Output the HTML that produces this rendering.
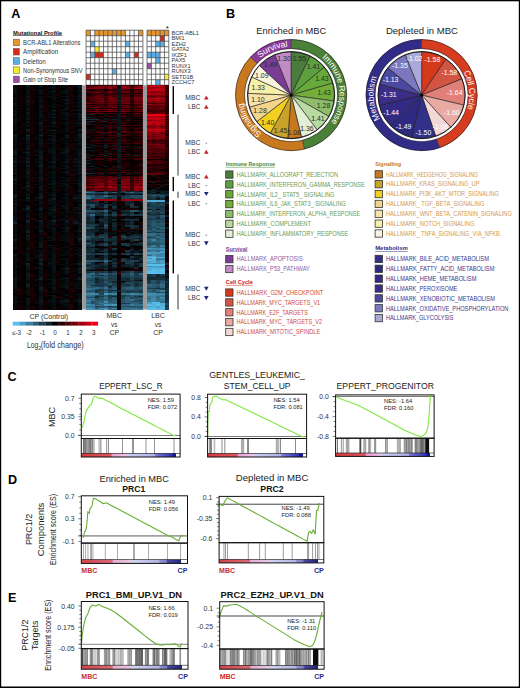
<!DOCTYPE html>
<html><head><meta charset="utf-8"><title>Figure</title>
<style>html,body{margin:0;padding:0;background:#fff;width:520px;height:688px;overflow:hidden}svg{display:block}text{font-family:"Liberation Sans",sans-serif}</style>
</head><body><svg width="520" height="688" viewBox="0 0 520 688">
<rect width="520" height="688" fill="#fff"/>
<text x="11.3" y="18.1" font-size="12.6" fill="#000" font-weight="bold">A</text>
<text x="13.1" y="34.5" font-size="5.8" fill="#111" font-weight="bold" textLength="49" lengthAdjust="spacingAndGlyphs">Mutational Profile</text>
<rect x="13.1" y="35.4" width="49" height="0.55" fill="#111"/>
<rect x="13.3" y="39.2" width="6.1" height="6.6" fill="#e8952a" stroke="#555" stroke-width="0.5"/>
<text x="23.1" y="45.1" font-size="6.8" fill="#333" textLength="57.2" lengthAdjust="spacingAndGlyphs">BCR-ABL1 Alterations</text>
<rect x="13.3" y="48.43" width="6.1" height="6.6" fill="#d42a1e" stroke="#555" stroke-width="0.5"/>
<text x="23.1" y="54.33" font-size="6.8" fill="#333" textLength="35" lengthAdjust="spacingAndGlyphs">Amplification</text>
<rect x="13.3" y="57.66" width="6.1" height="6.6" fill="#5aaee8" stroke="#555" stroke-width="0.5"/>
<text x="23.1" y="63.56" font-size="6.8" fill="#333" textLength="22.6" lengthAdjust="spacingAndGlyphs">Deletion</text>
<rect x="13.3" y="66.89" width="6.1" height="6.6" fill="#f5eb2a" stroke="#555" stroke-width="0.5"/>
<text x="23.1" y="72.79" font-size="6.8" fill="#333" textLength="59.5" lengthAdjust="spacingAndGlyphs">Non-Synonymous SNV</text>
<rect x="13.3" y="76.12" width="6.1" height="6.6" fill="#9b4fa8" stroke="#555" stroke-width="0.5"/>
<text x="23.1" y="82.02" font-size="6.8" fill="#333" textLength="45" lengthAdjust="spacingAndGlyphs">Gain of Stop Site</text>
<rect x="86.05" y="30.2" width="56.85" height="55" fill="#fff"/>
<rect x="86.05" y="30.2" width="4.37" height="5.5" fill="#e8952a"/>
<rect x="94.8" y="30.2" width="4.37" height="5.5" fill="#e8952a"/>
<rect x="99.17" y="30.2" width="4.37" height="5.5" fill="#e8952a"/>
<rect x="103.54" y="30.2" width="4.37" height="5.5" fill="#e8952a"/>
<rect x="107.91" y="30.2" width="4.37" height="5.5" fill="#e8952a"/>
<rect x="112.29" y="30.2" width="4.37" height="5.5" fill="#e8952a"/>
<rect x="116.66" y="30.2" width="4.37" height="5.5" fill="#e8952a"/>
<rect x="121.03" y="30.2" width="4.37" height="5.5" fill="#e8952a"/>
<rect x="138.53" y="30.2" width="4.37" height="5.5" fill="#e8952a"/>
<rect x="90.42" y="41.2" width="4.37" height="5.5" fill="#5aaee8"/>
<rect x="125.41" y="41.2" width="4.37" height="5.5" fill="#5aaee8"/>
<rect x="94.8" y="46.7" width="4.37" height="5.5" fill="#f5eb2a"/>
<rect x="90.42" y="52.2" width="4.37" height="5.5" fill="#5aaee8"/>
<rect x="94.8" y="52.2" width="4.37" height="5.5" fill="#d42a1e"/>
<rect x="99.17" y="52.2" width="4.37" height="5.5" fill="#d42a1e"/>
<rect x="125.41" y="52.2" width="4.37" height="5.5" fill="#5aaee8"/>
<rect x="134.15" y="52.2" width="4.37" height="5.5" fill="#d42a1e"/>
<rect x="112.29" y="68.7" width="4.37" height="5.5" fill="#5aaee8"/>
<rect x="86.05" y="74.2" width="4.37" height="5.5" fill="#d42a1e"/>
<path d="M86.05 30.2h56.85M86.05 35.7h56.85M86.05 41.2h56.85M86.05 46.7h56.85M86.05 52.2h56.85M86.05 57.7h56.85M86.05 63.2h56.85M86.05 68.7h56.85M86.05 74.2h56.85M86.05 79.7h56.85M86.05 85.2h56.85M86.05 30.2v55M90.42 30.2v55M94.8 30.2v55M99.17 30.2v55M103.54 30.2v55M107.91 30.2v55M112.29 30.2v55M116.66 30.2v55M121.03 30.2v55M125.41 30.2v55M129.78 30.2v55M134.15 30.2v55M138.53 30.2v55M142.9 30.2v55" stroke="#4a4a4a" stroke-width="0.75" fill="none"/>
<rect x="147" y="30.2" width="21.8" height="55" fill="#fff"/>
<rect x="147" y="30.2" width="4.36" height="5.5" fill="#e8952a"/>
<rect x="151.36" y="30.2" width="4.36" height="5.5" fill="#e8952a"/>
<rect x="155.72" y="30.2" width="4.36" height="5.5" fill="#e8952a"/>
<rect x="160.08" y="30.2" width="4.36" height="5.5" fill="#e8952a"/>
<rect x="164.44" y="30.2" width="4.36" height="5.5" fill="#e8952a"/>
<rect x="160.08" y="35.7" width="4.36" height="5.5" fill="#d42a1e"/>
<rect x="155.72" y="41.2" width="4.36" height="5.5" fill="#5aaee8"/>
<rect x="160.08" y="41.2" width="4.36" height="5.5" fill="#5aaee8"/>
<rect x="147" y="52.2" width="4.36" height="5.5" fill="#5aaee8"/>
<rect x="151.36" y="52.2" width="4.36" height="5.5" fill="#5aaee8"/>
<rect x="155.72" y="52.2" width="4.36" height="5.5" fill="#5aaee8"/>
<rect x="155.72" y="57.7" width="4.36" height="5.5" fill="#5aaee8"/>
<rect x="147" y="63.2" width="4.36" height="5.5" fill="#9b4fa8"/>
<rect x="164.44" y="74.2" width="4.36" height="5.5" fill="#f5eb2a"/>
<rect x="155.72" y="79.7" width="4.36" height="5.5" fill="#5aaee8"/>
<path d="M147 30.2h21.8M147 35.7h21.8M147 41.2h21.8M147 46.7h21.8M147 52.2h21.8M147 57.7h21.8M147 63.2h21.8M147 68.7h21.8M147 74.2h21.8M147 79.7h21.8M147 85.2h21.8M147 30.2v55M151.36 30.2v55M155.72 30.2v55M160.08 30.2v55M164.44 30.2v55M168.8 30.2v55" stroke="#4a4a4a" stroke-width="0.75" fill="none"/>
<text x="171.6" y="34.8" font-size="5.6" fill="#333">BCR-ABL1</text>
<text x="171.6" y="40.3" font-size="5.6" fill="#333">BMI1</text>
<text x="171.6" y="45.8" font-size="5.6" fill="#333">EZH2</text>
<text x="171.6" y="51.3" font-size="5.6" fill="#333">GATA2</text>
<text x="171.6" y="56.8" font-size="5.6" fill="#333">IKZF1</text>
<text x="171.6" y="62.3" font-size="5.6" fill="#333">PAX5</text>
<text x="171.6" y="67.8" font-size="5.6" fill="#333">RUNX1</text>
<text x="171.6" y="73.3" font-size="5.6" fill="#333">RUNX3</text>
<text x="171.6" y="78.8" font-size="5.6" fill="#333">SETD1B</text>
<text x="171.6" y="84.3" font-size="5.6" fill="#333">ZCCHC7</text>
<text x="167.2" y="31" font-size="8" fill="#111" text-anchor="middle">*</text>
<g shape-rendering="crispEdges">
<path fill="#0c181e" d="M12.7 85.2h4.49v1.15h-4.49zM25.71 85.2h4.49v1.15h-4.49zM38.72 85.2h4.49v1.15h-4.49zM64.75 85.2h4.49v1.15h-4.49zM77.76 86.2h4.49v1.15h-4.49zM77.76 87.2h4.49v1.15h-4.49zM51.74 91.21h4.49v1.15h-4.49zM64.75 91.21h4.49v1.15h-4.49zM77.76 91.21h4.49v1.15h-4.49zM116.66 94.21h4.52v1.15h-4.52zM25.71 96.21h4.49v1.15h-4.49zM64.75 96.21h4.49v1.15h-4.49zM77.76 96.21h4.49v1.15h-4.49zM64.75 99.22h4.49v1.15h-4.49zM116.66 99.22h4.52v1.15h-4.52zM25.71 100.22h4.49v1.15h-4.49zM116.66 101.22h4.52v1.15h-4.52zM25.71 102.22h4.49v1.15h-4.49zM116.66 102.22h4.52v1.15h-4.52zM12.7 103.22h4.49v1.15h-4.49zM90.42 108.23h4.52v1.15h-4.52zM116.66 111.23h4.52v1.15h-4.52zM25.71 112.24h4.49v1.15h-4.49zM25.71 114.24h4.49v1.15h-4.49zM38.72 114.24h4.49v1.15h-4.49zM51.74 114.24h4.49v1.15h-4.49zM86.05 114.24h4.52v1.15h-4.52zM38.72 116.24h4.49v1.15h-4.49zM116.66 116.24h4.52v1.15h-4.52zM51.74 117.24h4.49v1.15h-4.49zM116.66 118.24h4.52v1.15h-4.52zM12.7 119.25h4.49v1.15h-4.49zM25.71 119.25h4.49v1.15h-4.49zM77.76 119.25h4.49v1.15h-4.49zM103.54 119.25h4.52v1.15h-4.52zM12.7 120.25h4.49v1.15h-4.49zM116.66 120.25h4.52v1.15h-4.52zM86.05 121.25h4.52v1.15h-4.52zM99.17 121.25h4.52v1.15h-4.52zM112.29 121.25h4.52v1.15h-4.52zM125.41 121.25h4.52v1.15h-4.52zM25.71 122.25h4.49v1.15h-4.49zM38.72 122.25h4.49v1.15h-4.49zM51.74 122.25h4.49v1.15h-4.49zM116.66 122.25h4.52v1.15h-4.52zM51.74 123.25h4.49v1.15h-4.49zM77.76 123.25h4.49v1.15h-4.49zM25.71 126.25h4.49v1.15h-4.49zM103.54 126.25h4.52v1.15h-4.52zM25.71 129.26h4.49v1.15h-4.49zM38.72 129.26h4.49v1.15h-4.49zM90.42 129.26h4.52v1.15h-4.52zM116.66 129.26h4.52v1.15h-4.52zM77.76 130.26h4.49v1.15h-4.49zM86.05 130.26h4.52v1.15h-4.52zM77.76 134.27h4.49v1.15h-4.49zM47.4 135.27h4.49v1.15h-4.49zM64.75 135.27h4.49v1.15h-4.49zM116.66 135.27h4.52v1.15h-4.52zM12.7 136.27h4.49v1.15h-4.49zM25.71 136.27h4.49v1.15h-4.49zM64.75 137.27h4.49v1.15h-4.49zM51.74 140.27h4.49v1.15h-4.49zM116.66 142.28h4.52v1.15h-4.52zM25.71 143.28h4.49v1.15h-4.49zM38.72 143.28h4.49v1.15h-4.49zM116.66 143.28h4.52v1.15h-4.52zM116.66 144.28h4.52v1.15h-4.52zM38.72 145.28h4.49v1.15h-4.49zM25.71 146.28h4.49v1.15h-4.49zM116.66 146.28h4.52v1.15h-4.52zM134.15 147.28h4.52v1.15h-4.52zM64.75 149.29h4.49v1.15h-4.49zM116.66 149.29h4.52v1.15h-4.52zM12.7 150.29h4.49v1.15h-4.49zM12.7 151.29h4.49v1.15h-4.49zM38.72 151.29h4.49v1.15h-4.49zM64.75 151.29h4.49v1.15h-4.49zM103.54 151.29h4.52v1.15h-4.52zM60.41 152.29h4.49v1.15h-4.49zM64.75 152.29h4.49v1.15h-4.49zM116.66 152.29h4.52v1.15h-4.52zM77.76 153.29h4.49v1.15h-4.49zM12.7 154.29h4.49v1.15h-4.49zM116.66 154.29h4.52v1.15h-4.52zM51.74 155.29h4.49v1.15h-4.49zM116.66 156.3h4.52v1.15h-4.52zM12.7 157.3h4.49v1.15h-4.49zM25.71 159.3h4.49v1.15h-4.49zM38.72 159.3h4.49v1.15h-4.49zM77.76 161.3h4.49v1.15h-4.49zM116.66 161.3h4.52v1.15h-4.52zM12.7 162.3h4.49v1.15h-4.49zM51.74 162.3h4.49v1.15h-4.49zM64.75 162.3h4.49v1.15h-4.49zM77.76 162.3h4.49v1.15h-4.49zM38.72 166.31h4.49v1.15h-4.49zM64.75 166.31h4.49v1.15h-4.49zM77.76 166.31h4.49v1.15h-4.49zM116.66 166.31h4.52v1.15h-4.52zM38.72 167.31h4.49v1.15h-4.49zM116.66 167.31h4.52v1.15h-4.52zM12.7 169.31h4.49v1.15h-4.49zM77.76 169.31h4.49v1.15h-4.49zM38.72 170.31h4.49v1.15h-4.49zM25.71 171.32h4.49v1.15h-4.49zM38.72 171.32h4.49v1.15h-4.49zM12.7 172.32h4.49v1.15h-4.49zM25.71 172.32h4.49v1.15h-4.49zM51.74 172.32h4.49v1.15h-4.49zM64.75 172.32h4.49v1.15h-4.49zM25.71 173.32h4.49v1.15h-4.49zM125.41 173.32h4.52v1.15h-4.52zM12.7 174.32h4.49v1.15h-4.49zM12.7 177.32h4.49v1.15h-4.49zM38.72 179.33h4.49v1.15h-4.49zM51.74 182.33h4.49v1.15h-4.49zM151.38 182.33h4.53v1.15h-4.53zM25.71 183.33h4.49v1.15h-4.49zM64.75 184.33h4.49v1.15h-4.49zM116.66 184.33h4.52v1.15h-4.52zM164.52 184.33h4.53v1.15h-4.53zM77.76 185.33h4.49v1.15h-4.49zM77.76 186.34h4.49v1.15h-4.49zM160.14 186.34h4.53v1.15h-4.53zM116.66 188.34h4.52v1.15h-4.52zM38.72 189.34h4.49v1.15h-4.49zM151.38 189.34h4.53v1.15h-4.53zM147 190.34h4.53v1.15h-4.53zM77.76 191.34h4.49v1.15h-4.49zM107.92 191.34h4.52v1.15h-4.52zM116.66 191.34h4.52v1.15h-4.52zM151.38 191.34h4.53v1.15h-4.53zM160.14 191.34h4.53v1.15h-4.53zM164.52 191.34h4.53v1.15h-4.53zM38.72 193.34h4.49v1.15h-4.49zM64.75 193.34h4.49v1.15h-4.49zM116.66 193.34h4.52v1.15h-4.52zM164.52 193.34h4.53v1.15h-4.53zM134.15 194.35h4.52v1.15h-4.52zM25.71 195.35h4.49v1.15h-4.49zM51.74 197.35h4.49v1.15h-4.49zM77.76 197.35h4.49v1.15h-4.49zM151.38 197.35h4.53v1.15h-4.53zM164.52 197.35h4.53v1.15h-4.53zM25.71 198.35h4.49v1.15h-4.49zM38.72 198.35h4.49v1.15h-4.49zM77.76 198.35h4.49v1.15h-4.49zM138.53 198.35h4.52v1.15h-4.52zM155.76 198.35h4.53v1.15h-4.53zM155.76 199.35h4.53v1.15h-4.53zM51.74 200.35h4.49v1.15h-4.49zM99.17 201.36h4.52v1.15h-4.52zM112.29 201.36h4.52v1.15h-4.52zM90.42 202.36h4.52v1.15h-4.52zM125.41 202.36h4.52v1.15h-4.52zM25.71 203.36h4.49v1.15h-4.49zM121.03 204.36h4.52v1.15h-4.52zM134.15 204.36h4.52v1.15h-4.52zM160.14 204.36h4.53v1.15h-4.53zM51.74 205.36h4.49v1.15h-4.49zM12.7 206.36h4.49v1.15h-4.49zM107.92 206.36h4.52v1.15h-4.52zM138.53 206.36h4.52v1.15h-4.52zM12.7 207.36h4.49v1.15h-4.49zM38.72 207.36h4.49v1.15h-4.49zM116.66 207.36h4.52v1.15h-4.52zM129.78 208.36h4.52v1.15h-4.52zM155.76 208.36h4.53v1.15h-4.53zM64.75 209.37h4.49v1.15h-4.49zM77.76 209.37h4.49v1.15h-4.49zM25.71 211.37h4.49v1.15h-4.49zM99.17 211.37h4.52v1.15h-4.52zM134.15 211.37h4.52v1.15h-4.52zM155.76 211.37h4.53v1.15h-4.53zM125.41 212.37h4.52v1.15h-4.52zM99.17 213.37h4.52v1.15h-4.52zM12.7 214.37h4.49v1.15h-4.49zM25.71 215.37h4.49v1.15h-4.49zM86.05 215.37h4.52v1.15h-4.52zM25.71 216.38h4.49v1.15h-4.49zM94.8 216.38h4.52v1.15h-4.52zM107.92 216.38h4.52v1.15h-4.52zM112.29 216.38h4.52v1.15h-4.52zM51.74 217.38h4.49v1.15h-4.49zM64.75 217.38h4.49v1.15h-4.49zM77.76 217.38h4.49v1.15h-4.49zM86.05 217.38h4.52v1.15h-4.52zM90.42 217.38h4.52v1.15h-4.52zM107.92 217.38h4.52v1.15h-4.52zM86.05 218.38h4.52v1.15h-4.52zM103.54 218.38h4.52v1.15h-4.52zM129.78 218.38h4.52v1.15h-4.52zM64.75 219.38h4.49v1.15h-4.49zM107.92 219.38h4.52v1.15h-4.52zM138.53 219.38h4.52v1.15h-4.52zM60.41 220.38h4.49v1.15h-4.49zM90.42 220.38h4.52v1.15h-4.52zM121.03 221.38h4.52v1.15h-4.52zM25.71 222.38h4.49v1.15h-4.49zM38.72 222.38h4.49v1.15h-4.49zM51.74 222.38h4.49v1.15h-4.49zM64.75 222.38h4.49v1.15h-4.49zM94.8 222.38h4.52v1.15h-4.52zM99.17 222.38h4.52v1.15h-4.52zM12.7 223.38h4.49v1.15h-4.49zM86.05 223.38h4.52v1.15h-4.52zM103.54 223.38h4.52v1.15h-4.52zM107.92 224.39h4.52v1.15h-4.52zM134.15 224.39h4.52v1.15h-4.52zM155.76 225.39h4.53v1.15h-4.53zM160.14 225.39h4.53v1.15h-4.53zM38.72 226.39h4.49v1.15h-4.49zM64.75 226.39h4.49v1.15h-4.49zM112.29 226.39h4.52v1.15h-4.52zM77.76 227.39h4.49v1.15h-4.49zM138.53 227.39h4.52v1.15h-4.52zM25.71 228.39h4.49v1.15h-4.49zM77.76 229.39h4.49v1.15h-4.49zM121.03 229.39h4.52v1.15h-4.52zM129.78 229.39h4.52v1.15h-4.52zM77.76 230.39h4.49v1.15h-4.49zM77.76 231.4h4.49v1.15h-4.49zM94.8 231.4h4.52v1.15h-4.52zM94.8 234.4h4.52v1.15h-4.52zM112.29 234.4h4.52v1.15h-4.52zM125.41 234.4h4.52v1.15h-4.52zM38.72 235.4h4.49v1.15h-4.49zM77.76 235.4h4.49v1.15h-4.49zM25.71 237.4h4.49v1.15h-4.49zM94.8 237.4h4.52v1.15h-4.52zM99.17 237.4h4.52v1.15h-4.52zM112.29 237.4h4.52v1.15h-4.52zM121.03 237.4h4.52v1.15h-4.52zM25.71 238.4h4.49v1.15h-4.49zM125.41 238.4h4.52v1.15h-4.52zM38.72 239.41h4.49v1.15h-4.49zM77.76 239.41h4.49v1.15h-4.49zM125.41 239.41h4.52v1.15h-4.52zM99.17 240.41h4.52v1.15h-4.52zM86.05 241.41h4.52v1.15h-4.52zM121.03 242.41h4.52v1.15h-4.52zM134.15 242.41h4.52v1.15h-4.52zM107.92 243.41h4.52v1.15h-4.52zM25.71 244.41h4.49v1.15h-4.49zM134.15 244.41h4.52v1.15h-4.52zM129.78 245.41h4.52v1.15h-4.52zM164.52 245.41h4.53v1.15h-4.53zM25.71 246.42h4.49v1.15h-4.49zM77.76 246.42h4.49v1.15h-4.49zM103.54 246.42h4.52v1.15h-4.52zM112.29 246.42h4.52v1.15h-4.52zM25.71 249.42h4.49v1.15h-4.49zM51.74 249.42h4.49v1.15h-4.49zM90.42 249.42h4.52v1.15h-4.52zM121.03 250.42h4.52v1.15h-4.52zM138.53 250.42h4.52v1.15h-4.52zM129.78 251.42h4.52v1.15h-4.52zM64.75 254.43h4.49v1.15h-4.49zM77.76 254.43h4.49v1.15h-4.49zM94.8 254.43h4.52v1.15h-4.52zM99.17 254.43h4.52v1.15h-4.52zM125.41 254.43h4.52v1.15h-4.52zM12.7 255.43h4.49v1.15h-4.49zM51.74 255.43h4.49v1.15h-4.49zM77.76 255.43h4.49v1.15h-4.49zM25.71 257.43h4.49v1.15h-4.49zM38.72 258.43h4.49v1.15h-4.49zM107.92 258.43h4.52v1.15h-4.52zM134.15 258.43h4.52v1.15h-4.52zM25.71 259.43h4.49v1.15h-4.49zM99.17 259.43h4.52v1.15h-4.52zM129.78 259.43h4.52v1.15h-4.52zM25.71 260.43h4.49v1.15h-4.49zM38.72 260.43h4.49v1.15h-4.49zM51.74 260.43h4.49v1.15h-4.49zM64.75 260.43h4.49v1.15h-4.49zM25.71 262.44h4.49v1.15h-4.49zM99.17 262.44h4.52v1.15h-4.52zM138.53 262.44h4.52v1.15h-4.52zM12.7 263.44h4.49v1.15h-4.49zM34.39 263.44h4.49v1.15h-4.49zM51.74 263.44h4.49v1.15h-4.49zM64.75 263.44h4.49v1.15h-4.49zM25.71 264.44h4.49v1.15h-4.49zM125.41 264.44h4.52v1.15h-4.52zM134.15 264.44h4.52v1.15h-4.52zM107.92 265.44h4.52v1.15h-4.52zM25.71 266.44h4.49v1.15h-4.49zM38.72 266.44h4.49v1.15h-4.49zM77.76 266.44h4.49v1.15h-4.49zM121.03 266.44h4.52v1.15h-4.52zM138.53 266.44h4.52v1.15h-4.52zM64.75 267.44h4.49v1.15h-4.49zM112.29 267.44h4.52v1.15h-4.52zM99.17 268.45h4.52v1.15h-4.52zM138.53 268.45h4.52v1.15h-4.52zM12.7 269.45h4.49v1.15h-4.49zM38.72 272.45h4.49v1.15h-4.49zM25.71 273.45h4.49v1.15h-4.49zM38.72 273.45h4.49v1.15h-4.49zM51.74 273.45h4.49v1.15h-4.49zM12.7 274.45h4.49v1.15h-4.49zM94.8 274.45h4.52v1.15h-4.52zM134.15 274.45h4.52v1.15h-4.52zM155.76 275.45h4.53v1.15h-4.53zM12.7 277.46h4.49v1.15h-4.49zM64.75 277.46h4.49v1.15h-4.49zM125.41 277.46h4.52v1.15h-4.52zM12.7 278.46h4.49v1.15h-4.49zM64.75 278.46h4.49v1.15h-4.49zM73.42 278.46h4.49v1.15h-4.49zM51.74 279.46h4.49v1.15h-4.49zM138.53 279.46h4.52v1.15h-4.52zM25.71 280.46h4.49v1.15h-4.49zM164.52 280.46h4.53v1.15h-4.53zM12.7 283.47h4.49v1.15h-4.49zM77.76 284.47h4.49v1.15h-4.49zM164.52 284.47h4.53v1.15h-4.53zM147 285.47h4.53v1.15h-4.53zM38.72 286.47h4.49v1.15h-4.49zM77.76 286.47h4.49v1.15h-4.49zM25.71 287.47h4.49v1.15h-4.49zM38.72 288.47h4.49v1.15h-4.49zM38.72 289.47h4.49v1.15h-4.49zM94.8 290.47h4.52v1.15h-4.52zM121.03 290.47h4.52v1.15h-4.52zM38.72 291.48h4.49v1.15h-4.49zM77.76 291.48h4.49v1.15h-4.49zM77.76 293.48h4.49v1.15h-4.49zM38.72 294.48h4.49v1.15h-4.49zM64.75 295.48h4.49v1.15h-4.49zM25.71 297.48h4.49v1.15h-4.49zM25.71 298.49h4.49v1.15h-4.49zM12.7 300.49h4.49v1.15h-4.49zM25.71 300.49h4.49v1.15h-4.49zM51.74 300.49h4.49v1.15h-4.49zM38.72 301.49h4.49v1.15h-4.49zM25.71 303.49h4.49v1.15h-4.49zM77.76 303.49h4.49v1.15h-4.49zM38.72 304.49h4.49v1.15h-4.49z"/>
<path fill="#060000" d="M17.04 85.2h4.49v1.15h-4.49zM30.05 85.2h4.49v1.15h-4.49zM43.06 85.2h4.49v1.15h-4.49zM56.07 85.2h4.49v1.15h-4.49zM129.78 85.2h4.52v1.15h-4.52zM17.04 86.2h4.49v1.15h-4.49zM47.4 86.2h4.49v1.15h-4.49zM56.07 86.2h4.49v1.15h-4.49zM21.38 88.2h4.49v1.15h-4.49zM34.39 88.2h4.49v1.15h-4.49zM43.06 88.2h4.49v1.15h-4.49zM34.39 89.21h4.49v1.15h-4.49zM47.4 89.21h4.49v1.15h-4.49zM103.54 89.21h4.52v1.15h-4.52zM17.04 90.21h4.49v1.15h-4.49zM21.38 90.21h4.49v1.15h-4.49zM56.07 90.21h4.49v1.15h-4.49zM56.07 92.21h4.49v1.15h-4.49zM69.09 92.21h4.49v1.15h-4.49zM21.38 93.21h4.49v1.15h-4.49zM99.17 93.21h4.52v1.15h-4.52zM17.04 94.21h4.49v1.15h-4.49zM21.38 96.21h4.49v1.15h-4.49zM21.38 98.22h4.49v1.15h-4.49zM60.41 98.22h4.49v1.15h-4.49zM17.04 99.22h4.49v1.15h-4.49zM43.06 99.22h4.49v1.15h-4.49zM47.4 99.22h4.49v1.15h-4.49zM17.04 102.22h4.49v1.15h-4.49zM21.38 102.22h4.49v1.15h-4.49zM21.38 103.22h4.49v1.15h-4.49zM56.07 103.22h4.49v1.15h-4.49zM21.38 104.23h4.49v1.15h-4.49zM34.39 104.23h4.49v1.15h-4.49zM21.38 106.23h4.49v1.15h-4.49zM56.07 107.23h4.49v1.15h-4.49zM164.52 107.23h4.53v1.15h-4.53zM73.42 108.23h4.49v1.15h-4.49zM129.78 108.23h4.52v1.15h-4.52zM21.38 109.23h4.49v1.15h-4.49zM30.05 109.23h4.49v1.15h-4.49zM34.39 109.23h4.49v1.15h-4.49zM56.07 109.23h4.49v1.15h-4.49zM47.4 110.23h4.49v1.15h-4.49zM56.07 112.24h4.49v1.15h-4.49zM90.42 112.24h4.52v1.15h-4.52zM112.29 112.24h4.52v1.15h-4.52zM125.41 112.24h4.52v1.15h-4.52zM129.78 112.24h4.52v1.15h-4.52zM43.06 113.24h4.49v1.15h-4.49zM56.07 113.24h4.49v1.15h-4.49zM17.04 114.24h4.49v1.15h-4.49zM56.07 114.24h4.49v1.15h-4.49zM60.41 115.24h4.49v1.15h-4.49zM129.78 115.24h4.52v1.15h-4.52zM34.39 116.24h4.49v1.15h-4.49zM69.09 117.24h4.49v1.15h-4.49zM103.54 117.24h4.52v1.15h-4.52zM107.92 117.24h4.52v1.15h-4.52zM129.78 117.24h4.52v1.15h-4.52zM21.38 118.24h4.49v1.15h-4.49zM90.42 118.24h4.52v1.15h-4.52zM134.15 118.24h4.52v1.15h-4.52zM121.03 119.25h4.52v1.15h-4.52zM134.15 119.25h4.52v1.15h-4.52zM21.38 120.25h4.49v1.15h-4.49zM30.05 120.25h4.49v1.15h-4.49zM34.39 120.25h4.49v1.15h-4.49zM56.07 120.25h4.49v1.15h-4.49zM21.38 121.25h4.49v1.15h-4.49zM34.39 121.25h4.49v1.15h-4.49zM60.41 121.25h4.49v1.15h-4.49zM43.06 123.25h4.49v1.15h-4.49zM47.4 123.25h4.49v1.15h-4.49zM56.07 123.25h4.49v1.15h-4.49zM90.42 123.25h4.52v1.15h-4.52zM17.04 124.25h4.49v1.15h-4.49zM73.42 124.25h4.49v1.15h-4.49zM94.8 124.25h4.52v1.15h-4.52zM129.78 124.25h4.52v1.15h-4.52zM56.07 125.25h4.49v1.15h-4.49zM69.09 125.25h4.49v1.15h-4.49zM30.05 126.25h4.49v1.15h-4.49zM34.39 126.25h4.49v1.15h-4.49zM94.8 126.25h4.52v1.15h-4.52zM134.15 126.25h4.52v1.15h-4.52zM25.71 127.26h4.49v1.15h-4.49zM34.39 127.26h4.49v1.15h-4.49zM73.42 127.26h4.49v1.15h-4.49zM90.42 127.26h4.52v1.15h-4.52zM21.38 128.26h4.49v1.15h-4.49zM73.42 128.26h4.49v1.15h-4.49zM103.54 129.26h4.52v1.15h-4.52zM129.78 129.26h4.52v1.15h-4.52zM138.53 129.26h4.52v1.15h-4.52zM43.06 130.26h4.49v1.15h-4.49zM69.09 130.26h4.49v1.15h-4.49zM129.78 130.26h4.52v1.15h-4.52zM34.39 131.26h4.49v1.15h-4.49zM73.42 131.26h4.49v1.15h-4.49zM103.54 131.26h4.52v1.15h-4.52zM34.39 132.26h4.49v1.15h-4.49zM47.4 132.26h4.49v1.15h-4.49zM60.41 132.26h4.49v1.15h-4.49zM30.05 133.26h4.49v1.15h-4.49zM56.07 133.26h4.49v1.15h-4.49zM56.07 134.27h4.49v1.15h-4.49zM17.04 136.27h4.49v1.15h-4.49zM21.38 136.27h4.49v1.15h-4.49zM34.39 136.27h4.49v1.15h-4.49zM56.07 136.27h4.49v1.15h-4.49zM94.8 136.27h4.52v1.15h-4.52zM43.06 137.27h4.49v1.15h-4.49zM56.07 137.27h4.49v1.15h-4.49zM43.06 138.27h4.49v1.15h-4.49zM129.78 138.27h4.52v1.15h-4.52zM30.05 140.27h4.49v1.15h-4.49zM60.41 140.27h4.49v1.15h-4.49zM134.15 140.27h4.52v1.15h-4.52zM17.04 141.28h4.49v1.15h-4.49zM60.41 141.28h4.49v1.15h-4.49zM86.05 141.28h4.52v1.15h-4.52zM129.78 141.28h4.52v1.15h-4.52zM34.39 142.28h4.49v1.15h-4.49zM47.4 142.28h4.49v1.15h-4.49zM21.38 144.28h4.49v1.15h-4.49zM121.03 144.28h4.52v1.15h-4.52zM129.78 144.28h4.52v1.15h-4.52zM17.04 145.28h4.49v1.15h-4.49zM34.39 145.28h4.49v1.15h-4.49zM56.07 145.28h4.49v1.15h-4.49zM73.42 145.28h4.49v1.15h-4.49zM107.92 145.28h4.52v1.15h-4.52zM129.78 145.28h4.52v1.15h-4.52zM34.39 146.28h4.49v1.15h-4.49zM21.38 147.28h4.49v1.15h-4.49zM30.05 149.29h4.49v1.15h-4.49zM43.06 149.29h4.49v1.15h-4.49zM103.54 149.29h4.52v1.15h-4.52zM21.38 150.29h4.49v1.15h-4.49zM129.78 151.29h4.52v1.15h-4.52zM138.53 151.29h4.52v1.15h-4.52zM121.03 152.29h4.52v1.15h-4.52zM129.78 152.29h4.52v1.15h-4.52zM47.4 153.29h4.49v1.15h-4.49zM56.07 153.29h4.49v1.15h-4.49zM121.03 153.29h4.52v1.15h-4.52zM138.53 153.29h4.52v1.15h-4.52zM56.07 154.29h4.49v1.15h-4.49zM103.54 154.29h4.52v1.15h-4.52zM94.8 155.29h4.52v1.15h-4.52zM21.38 156.3h4.49v1.15h-4.49zM47.4 156.3h4.49v1.15h-4.49zM17.04 157.3h4.49v1.15h-4.49zM30.05 157.3h4.49v1.15h-4.49zM43.06 157.3h4.49v1.15h-4.49zM56.07 157.3h4.49v1.15h-4.49zM99.17 157.3h4.52v1.15h-4.52zM112.29 157.3h4.52v1.15h-4.52zM125.41 157.3h4.52v1.15h-4.52zM129.78 157.3h4.52v1.15h-4.52zM134.15 157.3h4.52v1.15h-4.52zM17.04 158.3h4.49v1.15h-4.49zM30.05 158.3h4.49v1.15h-4.49zM34.39 158.3h4.49v1.15h-4.49zM47.4 159.3h4.49v1.15h-4.49zM129.78 159.3h4.52v1.15h-4.52zM34.39 160.3h4.49v1.15h-4.49zM125.41 160.3h4.52v1.15h-4.52zM43.06 161.3h4.49v1.15h-4.49zM56.07 161.3h4.49v1.15h-4.49zM69.09 161.3h4.49v1.15h-4.49zM86.05 161.3h4.52v1.15h-4.52zM138.53 161.3h4.52v1.15h-4.52zM134.15 162.3h4.52v1.15h-4.52zM21.38 163.3h4.49v1.15h-4.49zM47.4 163.3h4.49v1.15h-4.49zM56.07 163.3h4.49v1.15h-4.49zM60.41 164.31h4.49v1.15h-4.49zM103.54 164.31h4.52v1.15h-4.52zM112.29 164.31h4.52v1.15h-4.52zM56.07 165.31h4.49v1.15h-4.49zM107.92 165.31h4.52v1.15h-4.52zM17.04 166.31h4.49v1.15h-4.49zM21.38 166.31h4.49v1.15h-4.49zM129.78 166.31h4.52v1.15h-4.52zM134.15 166.31h4.52v1.15h-4.52zM17.04 167.31h4.49v1.15h-4.49zM30.05 168.31h4.49v1.15h-4.49zM56.07 168.31h4.49v1.15h-4.49zM164.52 168.31h4.53v1.15h-4.53zM17.04 169.31h4.49v1.15h-4.49zM47.4 169.31h4.49v1.15h-4.49zM94.8 169.31h4.52v1.15h-4.52zM129.78 169.31h4.52v1.15h-4.52zM160.14 169.31h4.53v1.15h-4.53zM34.39 170.31h4.49v1.15h-4.49zM86.05 171.32h4.52v1.15h-4.52zM94.8 171.32h4.52v1.15h-4.52zM99.17 171.32h4.52v1.15h-4.52zM17.04 172.32h4.49v1.15h-4.49zM21.38 172.32h4.49v1.15h-4.49zM56.07 172.32h4.49v1.15h-4.49zM21.38 173.32h4.49v1.15h-4.49zM56.07 174.32h4.49v1.15h-4.49zM94.8 175.32h4.52v1.15h-4.52zM107.92 175.32h4.52v1.15h-4.52zM134.15 175.32h4.52v1.15h-4.52zM21.38 177.32h4.49v1.15h-4.49zM60.41 178.32h4.49v1.15h-4.49zM73.42 178.32h4.49v1.15h-4.49zM160.14 178.32h4.53v1.15h-4.53zM147 179.33h4.53v1.15h-4.53zM155.76 179.33h4.53v1.15h-4.53zM17.04 180.33h4.49v1.15h-4.49zM34.39 181.33h4.49v1.15h-4.49zM34.39 182.33h4.49v1.15h-4.49zM56.07 182.33h4.49v1.15h-4.49zM17.04 183.33h4.49v1.15h-4.49zM21.38 183.33h4.49v1.15h-4.49zM30.05 183.33h4.49v1.15h-4.49zM155.76 183.33h4.53v1.15h-4.53zM30.05 185.33h4.49v1.15h-4.49zM56.07 185.33h4.49v1.15h-4.49zM147 185.33h4.53v1.15h-4.53zM164.52 186.34h4.53v1.15h-4.53zM17.04 187.34h4.49v1.15h-4.49zM47.4 188.34h4.49v1.15h-4.49zM147 188.34h4.53v1.15h-4.53zM155.76 189.34h4.53v1.15h-4.53zM164.52 189.34h4.53v1.15h-4.53zM21.38 190.34h4.49v1.15h-4.49zM21.38 191.34h4.49v1.15h-4.49zM34.39 191.34h4.49v1.15h-4.49zM17.04 193.34h4.49v1.15h-4.49zM21.38 193.34h4.49v1.15h-4.49zM30.05 193.34h4.49v1.15h-4.49zM21.38 194.35h4.49v1.15h-4.49zM34.39 194.35h4.49v1.15h-4.49zM21.38 195.35h4.49v1.15h-4.49zM56.07 195.35h4.49v1.15h-4.49zM17.04 196.35h4.49v1.15h-4.49zM17.04 197.35h4.49v1.15h-4.49zM17.04 198.35h4.49v1.15h-4.49zM125.41 198.35h4.52v1.15h-4.52zM34.39 199.35h4.49v1.15h-4.49zM73.42 199.35h4.49v1.15h-4.49zM56.07 201.36h4.49v1.15h-4.49zM60.41 201.36h4.49v1.15h-4.49zM21.38 202.36h4.49v1.15h-4.49zM34.39 202.36h4.49v1.15h-4.49zM56.07 202.36h4.49v1.15h-4.49zM60.41 202.36h4.49v1.15h-4.49zM116.66 202.36h4.52v1.15h-4.52zM134.15 202.36h4.52v1.15h-4.52zM17.04 203.36h4.49v1.15h-4.49zM43.06 203.36h4.49v1.15h-4.49zM164.52 203.36h4.53v1.15h-4.53zM56.07 204.36h4.49v1.15h-4.49zM94.8 205.36h4.52v1.15h-4.52zM112.29 205.36h4.52v1.15h-4.52zM121.03 205.36h4.52v1.15h-4.52zM138.53 205.36h4.52v1.15h-4.52zM17.04 206.36h4.49v1.15h-4.49zM43.06 206.36h4.49v1.15h-4.49zM60.41 206.36h4.49v1.15h-4.49zM21.38 207.36h4.49v1.15h-4.49zM56.07 207.36h4.49v1.15h-4.49zM94.8 207.36h4.52v1.15h-4.52zM134.15 207.36h4.52v1.15h-4.52zM34.39 208.36h4.49v1.15h-4.49zM94.8 208.36h4.52v1.15h-4.52zM125.41 208.36h4.52v1.15h-4.52zM17.04 209.37h4.49v1.15h-4.49zM99.17 209.37h4.52v1.15h-4.52zM47.4 210.37h4.49v1.15h-4.49zM73.42 210.37h4.49v1.15h-4.49zM17.04 212.37h4.49v1.15h-4.49zM134.15 212.37h4.52v1.15h-4.52zM56.07 213.37h4.49v1.15h-4.49zM164.52 213.37h4.53v1.15h-4.53zM17.04 214.37h4.49v1.15h-4.49zM21.38 214.37h4.49v1.15h-4.49zM34.39 214.37h4.49v1.15h-4.49zM56.07 214.37h4.49v1.15h-4.49zM43.06 217.38h4.49v1.15h-4.49zM134.15 217.38h4.52v1.15h-4.52zM12.7 218.38h4.49v1.15h-4.49zM51.74 218.38h4.49v1.15h-4.49zM60.41 218.38h4.49v1.15h-4.49zM121.03 218.38h4.52v1.15h-4.52zM164.52 218.38h4.53v1.15h-4.53zM30.05 219.38h4.49v1.15h-4.49zM56.07 220.38h4.49v1.15h-4.49zM17.04 221.38h4.49v1.15h-4.49zM34.39 221.38h4.49v1.15h-4.49zM125.41 221.38h4.52v1.15h-4.52zM129.78 221.38h4.52v1.15h-4.52zM17.04 222.38h4.49v1.15h-4.49zM17.04 223.38h4.49v1.15h-4.49zM43.06 223.38h4.49v1.15h-4.49zM107.92 223.38h4.52v1.15h-4.52zM21.38 224.39h4.49v1.15h-4.49zM34.39 224.39h4.49v1.15h-4.49zM60.41 224.39h4.49v1.15h-4.49zM17.04 225.39h4.49v1.15h-4.49zM34.39 225.39h4.49v1.15h-4.49zM43.06 226.39h4.49v1.15h-4.49zM17.04 227.39h4.49v1.15h-4.49zM21.38 227.39h4.49v1.15h-4.49zM43.06 227.39h4.49v1.15h-4.49zM56.07 227.39h4.49v1.15h-4.49zM21.38 228.39h4.49v1.15h-4.49zM94.8 228.39h4.52v1.15h-4.52zM17.04 229.39h4.49v1.15h-4.49zM34.39 229.39h4.49v1.15h-4.49zM43.06 229.39h4.49v1.15h-4.49zM60.41 229.39h4.49v1.15h-4.49zM134.15 229.39h4.52v1.15h-4.52zM43.06 230.39h4.49v1.15h-4.49zM121.03 230.39h4.52v1.15h-4.52zM164.52 230.39h4.53v1.15h-4.53zM56.07 231.4h4.49v1.15h-4.49zM125.41 231.4h4.52v1.15h-4.52zM73.42 232.4h4.49v1.15h-4.49zM164.52 232.4h4.53v1.15h-4.53zM125.41 233.4h4.52v1.15h-4.52zM73.42 234.4h4.49v1.15h-4.49zM17.04 235.4h4.49v1.15h-4.49zM34.39 235.4h4.49v1.15h-4.49zM56.07 235.4h4.49v1.15h-4.49zM34.39 236.4h4.49v1.15h-4.49zM47.4 236.4h4.49v1.15h-4.49zM21.38 237.4h4.49v1.15h-4.49zM21.38 238.4h4.49v1.15h-4.49zM43.06 239.41h4.49v1.15h-4.49zM34.39 241.41h4.49v1.15h-4.49zM73.42 241.41h4.49v1.15h-4.49zM121.03 241.41h4.52v1.15h-4.52zM21.38 242.41h4.49v1.15h-4.49zM56.07 242.41h4.49v1.15h-4.49zM56.07 244.41h4.49v1.15h-4.49zM17.04 246.42h4.49v1.15h-4.49zM30.05 246.42h4.49v1.15h-4.49zM43.06 246.42h4.49v1.15h-4.49zM116.66 246.42h4.52v1.15h-4.52zM21.38 247.42h4.49v1.15h-4.49zM56.07 247.42h4.49v1.15h-4.49zM129.78 247.42h4.52v1.15h-4.52zM34.39 248.42h4.49v1.15h-4.49zM56.07 249.42h4.49v1.15h-4.49zM60.41 249.42h4.49v1.15h-4.49zM112.29 249.42h4.52v1.15h-4.52zM47.4 250.42h4.49v1.15h-4.49zM56.07 250.42h4.49v1.15h-4.49zM73.42 250.42h4.49v1.15h-4.49zM47.4 251.42h4.49v1.15h-4.49zM21.38 252.42h4.49v1.15h-4.49zM138.53 252.42h4.52v1.15h-4.52zM34.39 253.43h4.49v1.15h-4.49zM60.41 253.43h4.49v1.15h-4.49zM64.75 253.43h4.49v1.15h-4.49zM164.52 253.43h4.53v1.15h-4.53zM17.04 254.43h4.49v1.15h-4.49zM34.39 254.43h4.49v1.15h-4.49zM56.07 254.43h4.49v1.15h-4.49zM107.92 254.43h4.52v1.15h-4.52zM47.4 255.43h4.49v1.15h-4.49zM56.07 255.43h4.49v1.15h-4.49zM134.15 255.43h4.52v1.15h-4.52zM164.52 255.43h4.53v1.15h-4.53zM17.04 256.43h4.49v1.15h-4.49zM21.38 256.43h4.49v1.15h-4.49zM34.39 256.43h4.49v1.15h-4.49zM21.38 257.43h4.49v1.15h-4.49zM107.92 257.43h4.52v1.15h-4.52zM47.4 258.43h4.49v1.15h-4.49zM138.53 259.43h4.52v1.15h-4.52zM21.38 260.43h4.49v1.15h-4.49zM30.05 260.43h4.49v1.15h-4.49zM56.07 260.43h4.49v1.15h-4.49zM116.66 260.43h4.52v1.15h-4.52zM47.4 261.44h4.49v1.15h-4.49zM107.92 261.44h4.52v1.15h-4.52zM17.04 262.44h4.49v1.15h-4.49zM56.07 262.44h4.49v1.15h-4.49zM121.03 262.44h4.52v1.15h-4.52zM56.07 263.44h4.49v1.15h-4.49zM17.04 264.44h4.49v1.15h-4.49zM34.39 264.44h4.49v1.15h-4.49zM107.92 264.44h4.52v1.15h-4.52zM56.07 265.44h4.49v1.15h-4.49zM69.09 265.44h4.49v1.15h-4.49zM17.04 266.44h4.49v1.15h-4.49zM30.05 266.44h4.49v1.15h-4.49zM69.09 266.44h4.49v1.15h-4.49zM107.92 268.45h4.52v1.15h-4.52zM86.05 269.45h4.52v1.15h-4.52zM164.52 269.45h4.53v1.15h-4.53zM21.38 270.45h4.49v1.15h-4.49zM107.92 270.45h4.52v1.15h-4.52zM69.09 271.45h4.49v1.15h-4.49zM47.4 272.45h4.49v1.15h-4.49zM60.41 272.45h4.49v1.15h-4.49zM17.04 274.45h4.49v1.15h-4.49zM21.38 275.45h4.49v1.15h-4.49zM47.4 275.45h4.49v1.15h-4.49zM21.38 276.46h4.49v1.15h-4.49zM17.04 278.46h4.49v1.15h-4.49zM34.39 279.46h4.49v1.15h-4.49zM17.04 281.46h4.49v1.15h-4.49zM34.39 281.46h4.49v1.15h-4.49zM17.04 282.46h4.49v1.15h-4.49zM56.07 282.46h4.49v1.15h-4.49zM116.66 282.46h4.52v1.15h-4.52zM43.06 283.47h4.49v1.15h-4.49zM17.04 284.47h4.49v1.15h-4.49zM43.06 285.47h4.49v1.15h-4.49zM73.42 285.47h4.49v1.15h-4.49zM17.04 286.47h4.49v1.15h-4.49zM21.38 286.47h4.49v1.15h-4.49zM56.07 286.47h4.49v1.15h-4.49zM56.07 287.47h4.49v1.15h-4.49zM21.38 288.47h4.49v1.15h-4.49zM34.39 288.47h4.49v1.15h-4.49zM73.42 288.47h4.49v1.15h-4.49zM116.66 288.47h4.52v1.15h-4.52zM34.39 290.47h4.49v1.15h-4.49zM60.41 290.47h4.49v1.15h-4.49zM73.42 291.48h4.49v1.15h-4.49zM34.39 293.48h4.49v1.15h-4.49zM60.41 293.48h4.49v1.15h-4.49zM43.06 294.48h4.49v1.15h-4.49zM116.66 294.48h4.52v1.15h-4.52zM60.41 296.48h4.49v1.15h-4.49zM73.42 296.48h4.49v1.15h-4.49zM77.76 296.48h4.49v1.15h-4.49zM17.04 297.48h4.49v1.15h-4.49zM34.39 297.48h4.49v1.15h-4.49zM30.05 298.49h4.49v1.15h-4.49zM34.39 298.49h4.49v1.15h-4.49zM60.41 299.49h4.49v1.15h-4.49zM116.66 299.49h4.52v1.15h-4.52zM56.07 301.49h4.49v1.15h-4.49zM17.04 302.49h4.49v1.15h-4.49zM17.04 303.49h4.49v1.15h-4.49zM34.39 305.49h4.49v1.15h-4.49zM43.06 305.49h4.49v1.15h-4.49zM73.42 306.5h4.49v1.15h-4.49zM47.4 307.5h4.49v1.15h-4.49zM60.41 307.5h4.49v1.15h-4.49zM51.74 308.5h4.49v1.15h-4.49zM56.07 308.5h4.49v1.15h-4.49zM60.41 308.5h4.49v1.15h-4.49z"/>
<path fill="#000606" d="M21.38 85.2h4.49v1.15h-4.49zM47.4 85.2h4.49v1.15h-4.49zM34.39 86.2h4.49v1.15h-4.49zM51.74 89.21h4.49v1.15h-4.49zM34.39 91.21h4.49v1.15h-4.49zM73.42 91.21h4.49v1.15h-4.49zM47.4 92.21h4.49v1.15h-4.49zM73.42 92.21h4.49v1.15h-4.49zM51.74 93.21h4.49v1.15h-4.49zM129.78 93.21h4.52v1.15h-4.52zM47.4 94.21h4.49v1.15h-4.49zM64.75 95.21h4.49v1.15h-4.49zM12.7 96.21h4.49v1.15h-4.49zM34.39 97.22h4.49v1.15h-4.49zM73.42 97.22h4.49v1.15h-4.49zM34.39 99.22h4.49v1.15h-4.49zM47.4 100.22h4.49v1.15h-4.49zM51.74 101.22h4.49v1.15h-4.49zM60.41 101.22h4.49v1.15h-4.49zM60.41 102.22h4.49v1.15h-4.49zM47.4 103.22h4.49v1.15h-4.49zM51.74 103.22h4.49v1.15h-4.49zM60.41 103.22h4.49v1.15h-4.49zM73.42 103.22h4.49v1.15h-4.49zM60.41 104.23h4.49v1.15h-4.49zM73.42 104.23h4.49v1.15h-4.49zM21.38 105.23h4.49v1.15h-4.49zM47.4 105.23h4.49v1.15h-4.49zM34.39 106.23h4.49v1.15h-4.49zM12.7 107.23h4.49v1.15h-4.49zM47.4 108.23h4.49v1.15h-4.49zM51.74 108.23h4.49v1.15h-4.49zM47.4 111.23h4.49v1.15h-4.49zM34.39 112.24h4.49v1.15h-4.49zM73.42 113.24h4.49v1.15h-4.49zM34.39 114.24h4.49v1.15h-4.49zM43.06 114.24h4.49v1.15h-4.49zM94.8 114.24h4.52v1.15h-4.52zM112.29 114.24h4.52v1.15h-4.52zM21.38 115.24h4.49v1.15h-4.49zM47.4 116.24h4.49v1.15h-4.49zM73.42 116.24h4.49v1.15h-4.49zM34.39 117.24h4.49v1.15h-4.49zM38.72 118.24h4.49v1.15h-4.49zM60.41 118.24h4.49v1.15h-4.49zM21.38 119.25h4.49v1.15h-4.49zM34.39 119.25h4.49v1.15h-4.49zM47.4 119.25h4.49v1.15h-4.49zM73.42 119.25h4.49v1.15h-4.49zM94.8 121.25h4.52v1.15h-4.52zM60.41 124.25h4.49v1.15h-4.49zM47.4 126.25h4.49v1.15h-4.49zM73.42 126.25h4.49v1.15h-4.49zM77.76 126.25h4.49v1.15h-4.49zM21.38 129.26h4.49v1.15h-4.49zM56.07 129.26h4.49v1.15h-4.49zM60.41 129.26h4.49v1.15h-4.49zM86.05 129.26h4.52v1.15h-4.52zM34.39 130.26h4.49v1.15h-4.49zM12.7 131.26h4.49v1.15h-4.49zM47.4 131.26h4.49v1.15h-4.49zM60.41 131.26h4.49v1.15h-4.49zM116.66 131.26h4.52v1.15h-4.52zM34.39 133.26h4.49v1.15h-4.49zM64.75 133.26h4.49v1.15h-4.49zM73.42 133.26h4.49v1.15h-4.49zM90.42 133.26h4.52v1.15h-4.52zM34.39 135.27h4.49v1.15h-4.49zM73.42 136.27h4.49v1.15h-4.49zM134.15 136.27h4.52v1.15h-4.52zM21.38 137.27h4.49v1.15h-4.49zM60.41 137.27h4.49v1.15h-4.49zM34.39 138.27h4.49v1.15h-4.49zM60.41 138.27h4.49v1.15h-4.49zM129.78 139.27h4.52v1.15h-4.52zM34.39 140.27h4.49v1.15h-4.49zM56.07 140.27h4.49v1.15h-4.49zM64.75 141.28h4.49v1.15h-4.49zM73.42 141.28h4.49v1.15h-4.49zM99.17 141.28h4.52v1.15h-4.52zM34.39 144.28h4.49v1.15h-4.49zM51.74 145.28h4.49v1.15h-4.49zM73.42 146.28h4.49v1.15h-4.49zM47.4 147.28h4.49v1.15h-4.49zM73.42 147.28h4.49v1.15h-4.49zM99.17 147.28h4.52v1.15h-4.52zM129.78 147.28h4.52v1.15h-4.52zM47.4 148.28h4.49v1.15h-4.49zM34.39 149.29h4.49v1.15h-4.49zM60.41 150.29h4.49v1.15h-4.49zM73.42 150.29h4.49v1.15h-4.49zM86.05 150.29h4.52v1.15h-4.52zM112.29 150.29h4.52v1.15h-4.52zM21.38 151.29h4.49v1.15h-4.49zM112.29 151.29h4.52v1.15h-4.52zM125.41 151.29h4.52v1.15h-4.52zM34.39 152.29h4.49v1.15h-4.49zM21.38 153.29h4.49v1.15h-4.49zM60.41 153.29h4.49v1.15h-4.49zM73.42 153.29h4.49v1.15h-4.49zM99.17 153.29h4.52v1.15h-4.52zM129.78 153.29h4.52v1.15h-4.52zM21.38 154.29h4.49v1.15h-4.49zM107.92 155.29h4.52v1.15h-4.52zM112.29 155.29h4.52v1.15h-4.52zM138.53 155.29h4.52v1.15h-4.52zM25.71 156.3h4.49v1.15h-4.49zM56.07 158.3h4.49v1.15h-4.49zM164.52 158.3h4.53v1.15h-4.53zM60.41 159.3h4.49v1.15h-4.49zM47.4 160.3h4.49v1.15h-4.49zM90.42 160.3h4.52v1.15h-4.52zM99.17 160.3h4.52v1.15h-4.52zM103.54 161.3h4.52v1.15h-4.52zM17.04 162.3h4.49v1.15h-4.49zM60.41 162.3h4.49v1.15h-4.49zM103.54 163.3h4.52v1.15h-4.52zM64.75 164.31h4.49v1.15h-4.49zM21.38 165.31h4.49v1.15h-4.49zM86.05 165.31h4.52v1.15h-4.52zM60.41 167.31h4.49v1.15h-4.49zM99.17 167.31h4.52v1.15h-4.52zM17.04 168.31h4.49v1.15h-4.49zM47.4 168.31h4.49v1.15h-4.49zM73.42 168.31h4.49v1.15h-4.49zM34.39 169.31h4.49v1.15h-4.49zM60.41 169.31h4.49v1.15h-4.49zM73.42 169.31h4.49v1.15h-4.49zM103.54 169.31h4.52v1.15h-4.52zM73.42 171.32h4.49v1.15h-4.49zM103.54 171.32h4.52v1.15h-4.52zM129.78 171.32h4.52v1.15h-4.52zM47.4 172.32h4.49v1.15h-4.49zM34.39 173.32h4.49v1.15h-4.49zM51.74 173.32h4.49v1.15h-4.49zM121.03 173.32h4.52v1.15h-4.52zM21.38 174.32h4.49v1.15h-4.49zM34.39 174.32h4.49v1.15h-4.49zM47.4 174.32h4.49v1.15h-4.49zM60.41 174.32h4.49v1.15h-4.49zM134.15 174.32h4.52v1.15h-4.52zM34.39 175.32h4.49v1.15h-4.49zM73.42 175.32h4.49v1.15h-4.49zM103.54 175.32h4.52v1.15h-4.52zM112.29 175.32h4.52v1.15h-4.52zM160.14 175.32h4.53v1.15h-4.53zM47.4 176.32h4.49v1.15h-4.49zM17.04 177.32h4.49v1.15h-4.49zM56.07 177.32h4.49v1.15h-4.49zM47.4 179.33h4.49v1.15h-4.49zM47.4 181.33h4.49v1.15h-4.49zM60.41 182.33h4.49v1.15h-4.49zM160.14 182.33h4.53v1.15h-4.53zM160.14 183.33h4.53v1.15h-4.53zM73.42 184.33h4.49v1.15h-4.49zM47.4 185.33h4.49v1.15h-4.49zM12.7 186.34h4.49v1.15h-4.49zM34.39 186.34h4.49v1.15h-4.49zM73.42 187.34h4.49v1.15h-4.49zM164.52 187.34h4.53v1.15h-4.53zM60.41 188.34h4.49v1.15h-4.49zM64.75 188.34h4.49v1.15h-4.49zM151.38 188.34h4.53v1.15h-4.53zM73.42 189.34h4.49v1.15h-4.49zM147 189.34h4.53v1.15h-4.53zM12.7 190.34h4.49v1.15h-4.49zM73.42 190.34h4.49v1.15h-4.49zM12.7 192.34h4.49v1.15h-4.49zM25.71 192.34h4.49v1.15h-4.49zM155.76 192.34h4.53v1.15h-4.53zM34.39 193.34h4.49v1.15h-4.49zM47.4 193.34h4.49v1.15h-4.49zM73.42 194.35h4.49v1.15h-4.49zM34.39 196.35h4.49v1.15h-4.49zM60.41 196.35h4.49v1.15h-4.49zM73.42 196.35h4.49v1.15h-4.49zM47.4 199.35h4.49v1.15h-4.49zM94.8 200.35h4.52v1.15h-4.52zM121.03 200.35h4.52v1.15h-4.52zM73.42 201.36h4.49v1.15h-4.49zM164.52 201.36h4.53v1.15h-4.53zM47.4 202.36h4.49v1.15h-4.49zM86.05 202.36h4.52v1.15h-4.52zM103.54 202.36h4.52v1.15h-4.52zM138.53 202.36h4.52v1.15h-4.52zM34.39 203.36h4.49v1.15h-4.49zM47.4 204.36h4.49v1.15h-4.49zM107.92 205.36h4.52v1.15h-4.52zM73.42 206.36h4.49v1.15h-4.49zM34.39 207.36h4.49v1.15h-4.49zM99.17 208.36h4.52v1.15h-4.52zM107.92 208.36h4.52v1.15h-4.52zM116.66 208.36h4.52v1.15h-4.52zM121.03 208.36h4.52v1.15h-4.52zM160.14 209.37h4.53v1.15h-4.53zM60.41 210.37h4.49v1.15h-4.49zM164.52 210.37h4.53v1.15h-4.53zM47.4 211.37h4.49v1.15h-4.49zM51.74 211.37h4.49v1.15h-4.49zM60.41 211.37h4.49v1.15h-4.49zM73.42 211.37h4.49v1.15h-4.49zM38.72 213.37h4.49v1.15h-4.49zM51.74 213.37h4.49v1.15h-4.49zM64.75 213.37h4.49v1.15h-4.49zM86.05 213.37h4.52v1.15h-4.52zM51.74 214.37h4.49v1.15h-4.49zM60.41 214.37h4.49v1.15h-4.49zM73.42 214.37h4.49v1.15h-4.49zM34.39 215.37h4.49v1.15h-4.49zM47.4 215.37h4.49v1.15h-4.49zM60.41 215.37h4.49v1.15h-4.49zM138.53 216.38h4.52v1.15h-4.52zM164.52 216.38h4.53v1.15h-4.53zM77.76 218.38h4.49v1.15h-4.49zM34.39 219.38h4.49v1.15h-4.49zM73.42 219.38h4.49v1.15h-4.49zM21.38 220.38h4.49v1.15h-4.49zM107.92 221.38h4.52v1.15h-4.52zM43.06 222.38h4.49v1.15h-4.49zM116.66 222.38h4.52v1.15h-4.52zM73.42 224.39h4.49v1.15h-4.49zM164.52 224.39h4.53v1.15h-4.53zM47.4 225.39h4.49v1.15h-4.49zM73.42 225.39h4.49v1.15h-4.49zM21.38 226.39h4.49v1.15h-4.49zM121.03 226.39h4.52v1.15h-4.52zM34.39 227.39h4.49v1.15h-4.49zM21.38 229.39h4.49v1.15h-4.49zM73.42 229.39h4.49v1.15h-4.49zM138.53 229.39h4.52v1.15h-4.52zM21.38 230.39h4.49v1.15h-4.49zM47.4 230.39h4.49v1.15h-4.49zM60.41 230.39h4.49v1.15h-4.49zM34.39 231.4h4.49v1.15h-4.49zM73.42 231.4h4.49v1.15h-4.49zM51.74 232.4h4.49v1.15h-4.49zM94.8 232.4h4.52v1.15h-4.52zM60.41 233.4h4.49v1.15h-4.49zM107.92 233.4h4.52v1.15h-4.52zM73.42 235.4h4.49v1.15h-4.49zM90.42 235.4h4.52v1.15h-4.52zM51.74 236.4h4.49v1.15h-4.49zM116.66 236.4h4.52v1.15h-4.52zM34.39 239.41h4.49v1.15h-4.49zM34.39 240.41h4.49v1.15h-4.49zM47.4 240.41h4.49v1.15h-4.49zM121.03 240.41h4.52v1.15h-4.52zM25.71 241.41h4.49v1.15h-4.49zM103.54 241.41h4.52v1.15h-4.52zM34.39 242.41h4.49v1.15h-4.49zM25.71 243.41h4.49v1.15h-4.49zM60.41 243.41h4.49v1.15h-4.49zM21.38 244.41h4.49v1.15h-4.49zM47.4 245.41h4.49v1.15h-4.49zM51.74 245.41h4.49v1.15h-4.49zM107.92 245.41h4.52v1.15h-4.52zM138.53 245.41h4.52v1.15h-4.52zM56.07 246.42h4.49v1.15h-4.49zM138.53 246.42h4.52v1.15h-4.52zM12.7 247.42h4.49v1.15h-4.49zM38.72 247.42h4.49v1.15h-4.49zM47.4 247.42h4.49v1.15h-4.49zM60.41 247.42h4.49v1.15h-4.49zM73.42 247.42h4.49v1.15h-4.49zM103.54 247.42h4.52v1.15h-4.52zM38.72 248.42h4.49v1.15h-4.49zM60.41 248.42h4.49v1.15h-4.49zM77.76 248.42h4.49v1.15h-4.49zM125.41 248.42h4.52v1.15h-4.52zM138.53 248.42h4.52v1.15h-4.52zM38.72 249.42h4.49v1.15h-4.49zM47.4 249.42h4.49v1.15h-4.49zM64.75 249.42h4.49v1.15h-4.49zM34.39 250.42h4.49v1.15h-4.49zM60.41 250.42h4.49v1.15h-4.49zM77.76 251.42h4.49v1.15h-4.49zM60.41 252.42h4.49v1.15h-4.49zM116.66 252.42h4.52v1.15h-4.52zM25.71 253.43h4.49v1.15h-4.49zM73.42 253.43h4.49v1.15h-4.49zM77.76 253.43h4.49v1.15h-4.49zM47.4 254.43h4.49v1.15h-4.49zM138.53 254.43h4.52v1.15h-4.52zM99.17 255.43h4.52v1.15h-4.52zM94.8 257.43h4.52v1.15h-4.52zM99.17 257.43h4.52v1.15h-4.52zM21.38 259.43h4.49v1.15h-4.49zM60.41 259.43h4.49v1.15h-4.49zM73.42 259.43h4.49v1.15h-4.49zM12.7 261.44h4.49v1.15h-4.49zM25.71 261.44h4.49v1.15h-4.49zM125.41 261.44h4.52v1.15h-4.52zM21.38 262.44h4.49v1.15h-4.49zM73.42 262.44h4.49v1.15h-4.49zM116.66 263.44h4.52v1.15h-4.52zM60.41 266.44h4.49v1.15h-4.49zM73.42 266.44h4.49v1.15h-4.49zM51.74 267.44h4.49v1.15h-4.49zM73.42 267.44h4.49v1.15h-4.49zM21.38 268.45h4.49v1.15h-4.49zM34.39 268.45h4.49v1.15h-4.49zM73.42 268.45h4.49v1.15h-4.49zM34.39 269.45h4.49v1.15h-4.49zM60.41 269.45h4.49v1.15h-4.49zM47.4 270.45h4.49v1.15h-4.49zM60.41 270.45h4.49v1.15h-4.49zM47.4 271.45h4.49v1.15h-4.49zM60.41 271.45h4.49v1.15h-4.49zM21.38 273.45h4.49v1.15h-4.49zM116.66 273.45h4.52v1.15h-4.52zM34.39 274.45h4.49v1.15h-4.49zM38.72 274.45h4.49v1.15h-4.49zM73.42 274.45h4.49v1.15h-4.49zM60.41 276.46h4.49v1.15h-4.49zM73.42 276.46h4.49v1.15h-4.49zM56.07 278.46h4.49v1.15h-4.49zM60.41 279.46h4.49v1.15h-4.49zM60.41 280.46h4.49v1.15h-4.49zM21.38 281.46h4.49v1.15h-4.49zM21.38 282.46h4.49v1.15h-4.49zM51.74 282.46h4.49v1.15h-4.49zM116.66 283.47h4.52v1.15h-4.52zM12.7 285.47h4.49v1.15h-4.49zM60.41 285.47h4.49v1.15h-4.49zM155.76 285.47h4.53v1.15h-4.53zM47.4 287.47h4.49v1.15h-4.49zM77.76 287.47h4.49v1.15h-4.49zM116.66 287.47h4.52v1.15h-4.52zM51.74 288.47h4.49v1.15h-4.49zM34.39 289.47h4.49v1.15h-4.49zM47.4 289.47h4.49v1.15h-4.49zM73.42 289.47h4.49v1.15h-4.49zM21.38 291.48h4.49v1.15h-4.49zM12.7 292.48h4.49v1.15h-4.49zM25.71 292.48h4.49v1.15h-4.49zM47.4 292.48h4.49v1.15h-4.49zM64.75 293.48h4.49v1.15h-4.49zM34.39 294.48h4.49v1.15h-4.49zM47.4 295.48h4.49v1.15h-4.49zM12.7 296.48h4.49v1.15h-4.49zM38.72 296.48h4.49v1.15h-4.49zM47.4 298.49h4.49v1.15h-4.49zM60.41 298.49h4.49v1.15h-4.49zM34.39 299.49h4.49v1.15h-4.49zM34.39 301.49h4.49v1.15h-4.49zM47.4 303.49h4.49v1.15h-4.49zM56.07 303.49h4.49v1.15h-4.49zM47.4 304.49h4.49v1.15h-4.49zM60.41 304.49h4.49v1.15h-4.49zM64.75 304.49h4.49v1.15h-4.49zM47.4 305.49h4.49v1.15h-4.49zM60.41 305.49h4.49v1.15h-4.49zM34.39 306.5h4.49v1.15h-4.49zM64.75 307.5h4.49v1.15h-4.49zM12.7 308.5h4.49v1.15h-4.49zM116.66 308.5h4.52v1.15h-4.52z"/>
<path fill="#06060c" d="M34.39 85.2h4.49v1.15h-4.49zM116.66 86.2h4.52v1.15h-4.52zM12.7 87.2h4.49v1.15h-4.49zM47.4 87.2h4.49v1.15h-4.49zM73.42 87.2h4.49v1.15h-4.49zM34.39 90.21h4.49v1.15h-4.49zM64.75 92.21h4.49v1.15h-4.49zM77.76 92.21h4.49v1.15h-4.49zM34.39 93.21h4.49v1.15h-4.49zM51.74 95.21h4.49v1.15h-4.49zM73.42 96.21h4.49v1.15h-4.49zM21.38 97.22h4.49v1.15h-4.49zM64.75 97.22h4.49v1.15h-4.49zM73.42 99.22h4.49v1.15h-4.49zM64.75 101.22h4.49v1.15h-4.49zM12.7 102.22h4.49v1.15h-4.49zM51.74 105.23h4.49v1.15h-4.49zM38.72 108.23h4.49v1.15h-4.49zM77.76 108.23h4.49v1.15h-4.49zM64.75 110.23h4.49v1.15h-4.49zM25.71 111.23h4.49v1.15h-4.49zM47.4 112.24h4.49v1.15h-4.49zM47.4 113.24h4.49v1.15h-4.49zM21.38 116.24h4.49v1.15h-4.49zM60.41 117.24h4.49v1.15h-4.49zM51.74 118.24h4.49v1.15h-4.49zM77.76 118.24h4.49v1.15h-4.49zM38.72 120.25h4.49v1.15h-4.49zM47.4 120.25h4.49v1.15h-4.49zM64.75 120.25h4.49v1.15h-4.49zM60.41 123.25h4.49v1.15h-4.49zM99.17 124.25h4.52v1.15h-4.52zM21.38 125.25h4.49v1.15h-4.49zM51.74 127.26h4.49v1.15h-4.49zM103.54 127.26h4.52v1.15h-4.52zM60.41 130.26h4.49v1.15h-4.49zM25.71 132.26h4.49v1.15h-4.49zM51.74 132.26h4.49v1.15h-4.49zM60.41 134.27h4.49v1.15h-4.49zM73.42 135.27h4.49v1.15h-4.49zM38.72 137.27h4.49v1.15h-4.49zM73.42 137.27h4.49v1.15h-4.49zM47.4 141.28h4.49v1.15h-4.49zM34.39 143.28h4.49v1.15h-4.49zM12.7 144.28h4.49v1.15h-4.49zM94.8 145.28h4.52v1.15h-4.52zM134.15 145.28h4.52v1.15h-4.52zM38.72 146.28h4.49v1.15h-4.49zM47.4 146.28h4.49v1.15h-4.49zM103.54 146.28h4.52v1.15h-4.52zM60.41 148.28h4.49v1.15h-4.49zM77.76 148.28h4.49v1.15h-4.49zM34.39 150.29h4.49v1.15h-4.49zM90.42 151.29h4.52v1.15h-4.52zM73.42 152.29h4.49v1.15h-4.49zM125.41 153.29h4.52v1.15h-4.52zM51.74 154.29h4.49v1.15h-4.49zM73.42 155.29h4.49v1.15h-4.49zM129.78 155.29h4.52v1.15h-4.52zM47.4 157.3h4.49v1.15h-4.49zM60.41 157.3h4.49v1.15h-4.49zM73.42 160.3h4.49v1.15h-4.49zM47.4 161.3h4.49v1.15h-4.49zM21.38 162.3h4.49v1.15h-4.49zM34.39 165.31h4.49v1.15h-4.49zM90.42 165.31h4.52v1.15h-4.52zM60.41 166.31h4.49v1.15h-4.49zM73.42 166.31h4.49v1.15h-4.49zM125.41 166.31h4.52v1.15h-4.52zM73.42 167.31h4.49v1.15h-4.49zM51.74 169.31h4.49v1.15h-4.49zM12.7 171.32h4.49v1.15h-4.49zM73.42 172.32h4.49v1.15h-4.49zM73.42 173.32h4.49v1.15h-4.49zM77.76 175.32h4.49v1.15h-4.49zM86.05 175.32h4.52v1.15h-4.52zM73.42 177.32h4.49v1.15h-4.49zM73.42 179.33h4.49v1.15h-4.49zM164.52 179.33h4.53v1.15h-4.53zM34.39 180.33h4.49v1.15h-4.49zM51.74 181.33h4.49v1.15h-4.49zM73.42 181.33h4.49v1.15h-4.49zM151.38 183.33h4.53v1.15h-4.53zM160.14 188.34h4.53v1.15h-4.53zM60.41 189.34h4.49v1.15h-4.49zM64.75 190.34h4.49v1.15h-4.49zM51.74 191.34h4.49v1.15h-4.49zM64.75 191.34h4.49v1.15h-4.49zM77.76 193.34h4.49v1.15h-4.49zM47.4 194.35h4.49v1.15h-4.49zM25.71 196.35h4.49v1.15h-4.49zM47.4 197.35h4.49v1.15h-4.49zM21.38 198.35h4.49v1.15h-4.49zM64.75 198.35h4.49v1.15h-4.49zM112.29 198.35h4.52v1.15h-4.52zM77.76 199.35h4.49v1.15h-4.49zM73.42 200.35h4.49v1.15h-4.49zM47.4 201.36h4.49v1.15h-4.49zM51.74 202.36h4.49v1.15h-4.49zM134.15 203.36h4.52v1.15h-4.52zM60.41 204.36h4.49v1.15h-4.49zM64.75 204.36h4.49v1.15h-4.49zM47.4 207.36h4.49v1.15h-4.49zM60.41 207.36h4.49v1.15h-4.49zM64.75 210.37h4.49v1.15h-4.49zM25.71 213.37h4.49v1.15h-4.49zM47.4 213.37h4.49v1.15h-4.49zM138.53 213.37h4.52v1.15h-4.52zM47.4 214.37h4.49v1.15h-4.49zM64.75 214.37h4.49v1.15h-4.49zM64.75 216.38h4.49v1.15h-4.49zM121.03 216.38h4.52v1.15h-4.52zM129.78 217.38h4.52v1.15h-4.52zM64.75 218.38h4.49v1.15h-4.49zM94.8 218.38h4.52v1.15h-4.52zM21.38 219.38h4.49v1.15h-4.49zM38.72 219.38h4.49v1.15h-4.49zM47.4 219.38h4.49v1.15h-4.49zM73.42 221.38h4.49v1.15h-4.49zM138.53 221.38h4.52v1.15h-4.52zM73.42 223.38h4.49v1.15h-4.49zM47.4 224.39h4.49v1.15h-4.49zM51.74 224.39h4.49v1.15h-4.49zM121.03 225.39h4.52v1.15h-4.52zM138.53 225.39h4.52v1.15h-4.52zM138.53 226.39h4.52v1.15h-4.52zM60.41 227.39h4.49v1.15h-4.49zM60.41 228.39h4.49v1.15h-4.49zM64.75 229.39h4.49v1.15h-4.49zM116.66 229.39h4.52v1.15h-4.52zM129.78 230.39h4.52v1.15h-4.52zM21.38 231.4h4.49v1.15h-4.49zM47.4 231.4h4.49v1.15h-4.49zM90.42 231.4h4.52v1.15h-4.52zM99.17 232.4h4.52v1.15h-4.52zM138.53 233.4h4.52v1.15h-4.52zM38.72 234.4h4.49v1.15h-4.49zM38.72 236.4h4.49v1.15h-4.49zM34.39 237.4h4.49v1.15h-4.49zM60.41 237.4h4.49v1.15h-4.49zM164.52 238.4h4.53v1.15h-4.53zM60.41 239.41h4.49v1.15h-4.49zM38.72 240.41h4.49v1.15h-4.49zM64.75 240.41h4.49v1.15h-4.49zM77.76 241.41h4.49v1.15h-4.49zM64.75 242.41h4.49v1.15h-4.49zM99.17 245.41h4.52v1.15h-4.52zM47.4 246.42h4.49v1.15h-4.49zM51.74 246.42h4.49v1.15h-4.49zM73.42 246.42h4.49v1.15h-4.49zM77.76 247.42h4.49v1.15h-4.49zM94.8 250.42h4.52v1.15h-4.52zM12.7 251.42h4.49v1.15h-4.49zM60.41 251.42h4.49v1.15h-4.49zM12.7 252.42h4.49v1.15h-4.49zM47.4 252.42h4.49v1.15h-4.49zM107.92 255.43h4.52v1.15h-4.52zM94.8 256.43h4.52v1.15h-4.52zM112.29 256.43h4.52v1.15h-4.52zM121.03 257.43h4.52v1.15h-4.52zM77.76 261.44h4.49v1.15h-4.49zM134.15 261.44h4.52v1.15h-4.52zM21.38 264.44h4.49v1.15h-4.49zM94.8 266.44h4.52v1.15h-4.52zM34.39 267.44h4.49v1.15h-4.49zM125.41 267.44h4.52v1.15h-4.52zM138.53 269.45h4.52v1.15h-4.52zM51.74 270.45h4.49v1.15h-4.49zM51.74 272.45h4.49v1.15h-4.49zM112.29 272.45h4.52v1.15h-4.52zM60.41 273.45h4.49v1.15h-4.49zM107.92 274.45h4.52v1.15h-4.52zM12.7 275.45h4.49v1.15h-4.49zM25.71 275.45h4.49v1.15h-4.49zM164.52 276.46h4.53v1.15h-4.53zM60.41 277.46h4.49v1.15h-4.49zM73.42 277.46h4.49v1.15h-4.49zM64.75 280.46h4.49v1.15h-4.49zM60.41 281.46h4.49v1.15h-4.49zM47.4 282.46h4.49v1.15h-4.49zM73.42 282.46h4.49v1.15h-4.49zM34.39 283.47h4.49v1.15h-4.49zM47.4 283.47h4.49v1.15h-4.49zM60.41 283.47h4.49v1.15h-4.49zM73.42 286.47h4.49v1.15h-4.49zM60.41 287.47h4.49v1.15h-4.49zM12.7 288.47h4.49v1.15h-4.49zM64.75 288.47h4.49v1.15h-4.49zM60.41 291.48h4.49v1.15h-4.49zM77.76 292.48h4.49v1.15h-4.49zM51.74 296.48h4.49v1.15h-4.49zM73.42 298.49h4.49v1.15h-4.49zM21.38 300.49h4.49v1.15h-4.49zM34.39 300.49h4.49v1.15h-4.49zM60.41 301.49h4.49v1.15h-4.49zM47.4 302.49h4.49v1.15h-4.49zM12.7 305.49h4.49v1.15h-4.49zM51.74 305.49h4.49v1.15h-4.49zM60.41 306.5h4.49v1.15h-4.49zM38.72 307.5h4.49v1.15h-4.49zM64.75 308.5h4.49v1.15h-4.49zM73.42 308.5h4.49v1.15h-4.49z"/>
<path fill="#061218" d="M51.74 85.2h4.49v1.15h-4.49zM25.71 86.2h4.49v1.15h-4.49zM38.72 86.2h4.49v1.15h-4.49zM25.71 87.2h4.49v1.15h-4.49zM12.7 89.21h4.49v1.15h-4.49zM25.71 90.21h4.49v1.15h-4.49zM77.76 90.21h4.49v1.15h-4.49zM86.05 90.21h4.52v1.15h-4.52zM38.72 91.21h4.49v1.15h-4.49zM47.4 91.21h4.49v1.15h-4.49zM60.41 91.21h4.49v1.15h-4.49zM116.66 92.21h4.52v1.15h-4.52zM25.71 94.21h4.49v1.15h-4.49zM38.72 94.21h4.49v1.15h-4.49zM51.74 94.21h4.49v1.15h-4.49zM77.76 95.21h4.49v1.15h-4.49zM51.74 98.22h4.49v1.15h-4.49zM116.66 98.22h4.52v1.15h-4.52zM25.71 99.22h4.49v1.15h-4.49zM38.72 99.22h4.49v1.15h-4.49zM77.76 99.22h4.49v1.15h-4.49zM64.75 102.22h4.49v1.15h-4.49zM25.71 104.23h4.49v1.15h-4.49zM25.71 109.23h4.49v1.15h-4.49zM25.71 110.23h4.49v1.15h-4.49zM73.42 110.23h4.49v1.15h-4.49zM51.74 111.23h4.49v1.15h-4.49zM38.72 112.24h4.49v1.15h-4.49zM25.71 113.24h4.49v1.15h-4.49zM77.76 113.24h4.49v1.15h-4.49zM116.66 113.24h4.52v1.15h-4.52zM12.7 114.24h4.49v1.15h-4.49zM64.75 114.24h4.49v1.15h-4.49zM64.75 115.24h4.49v1.15h-4.49zM103.54 115.24h4.52v1.15h-4.52zM116.66 115.24h4.52v1.15h-4.52zM38.72 117.24h4.49v1.15h-4.49zM77.76 117.24h4.49v1.15h-4.49zM90.42 117.24h4.52v1.15h-4.52zM64.75 119.25h4.49v1.15h-4.49zM116.66 119.25h4.52v1.15h-4.52zM38.72 121.25h4.49v1.15h-4.49zM12.7 123.25h4.49v1.15h-4.49zM64.75 123.25h4.49v1.15h-4.49zM12.7 124.25h4.49v1.15h-4.49zM90.42 124.25h4.52v1.15h-4.52zM12.7 130.26h4.49v1.15h-4.49zM47.4 130.26h4.49v1.15h-4.49zM64.75 131.26h4.49v1.15h-4.49zM116.66 132.26h4.52v1.15h-4.52zM12.7 133.26h4.49v1.15h-4.49zM38.72 133.26h4.49v1.15h-4.49zM99.17 133.26h4.52v1.15h-4.52zM103.54 133.26h4.52v1.15h-4.52zM51.74 136.27h4.49v1.15h-4.49zM77.76 136.27h4.49v1.15h-4.49zM12.7 137.27h4.49v1.15h-4.49zM51.74 137.27h4.49v1.15h-4.49zM38.72 138.27h4.49v1.15h-4.49zM51.74 138.27h4.49v1.15h-4.49zM38.72 139.27h4.49v1.15h-4.49zM25.71 140.27h4.49v1.15h-4.49zM64.75 140.27h4.49v1.15h-4.49zM77.76 141.28h4.49v1.15h-4.49zM116.66 141.28h4.52v1.15h-4.52zM77.76 143.28h4.49v1.15h-4.49zM116.66 145.28h4.52v1.15h-4.52zM90.42 147.28h4.52v1.15h-4.52zM116.66 147.28h4.52v1.15h-4.52zM125.41 147.28h4.52v1.15h-4.52zM64.75 148.28h4.49v1.15h-4.49zM12.7 149.29h4.49v1.15h-4.49zM25.71 150.29h4.49v1.15h-4.49zM25.71 151.29h4.49v1.15h-4.49zM21.38 152.29h4.49v1.15h-4.49zM38.72 153.29h4.49v1.15h-4.49zM51.74 153.29h4.49v1.15h-4.49zM103.54 153.29h4.52v1.15h-4.52zM25.71 154.29h4.49v1.15h-4.49zM12.7 155.29h4.49v1.15h-4.49zM77.76 155.29h4.49v1.15h-4.49zM77.76 157.3h4.49v1.15h-4.49zM116.66 157.3h4.52v1.15h-4.52zM73.42 158.3h4.49v1.15h-4.49zM64.75 159.3h4.49v1.15h-4.49zM73.42 159.3h4.49v1.15h-4.49zM77.76 159.3h4.49v1.15h-4.49zM116.66 159.3h4.52v1.15h-4.52zM12.7 160.3h4.49v1.15h-4.49zM25.71 160.3h4.49v1.15h-4.49zM77.76 160.3h4.49v1.15h-4.49zM34.39 161.3h4.49v1.15h-4.49zM38.72 161.3h4.49v1.15h-4.49zM73.42 161.3h4.49v1.15h-4.49zM164.52 161.3h4.53v1.15h-4.53zM47.4 162.3h4.49v1.15h-4.49zM116.66 162.3h4.52v1.15h-4.52zM38.72 163.3h4.49v1.15h-4.49zM77.76 163.3h4.49v1.15h-4.49zM77.76 165.31h4.49v1.15h-4.49zM12.7 167.31h4.49v1.15h-4.49zM64.75 167.31h4.49v1.15h-4.49zM94.8 167.31h4.52v1.15h-4.52zM64.75 168.31h4.49v1.15h-4.49zM116.66 168.31h4.52v1.15h-4.52zM25.71 169.31h4.49v1.15h-4.49zM86.05 169.31h4.52v1.15h-4.52zM116.66 170.31h4.52v1.15h-4.52zM77.76 173.32h4.49v1.15h-4.49zM116.66 173.32h4.52v1.15h-4.52zM51.74 174.32h4.49v1.15h-4.49zM90.42 175.32h4.52v1.15h-4.52zM51.74 177.32h4.49v1.15h-4.49zM60.41 177.32h4.49v1.15h-4.49zM77.76 178.32h4.49v1.15h-4.49zM25.71 179.33h4.49v1.15h-4.49zM51.74 180.33h4.49v1.15h-4.49zM116.66 181.33h4.52v1.15h-4.52zM25.71 182.33h4.49v1.15h-4.49zM51.74 183.33h4.49v1.15h-4.49zM73.42 183.33h4.49v1.15h-4.49zM51.74 184.33h4.49v1.15h-4.49zM38.72 185.33h4.49v1.15h-4.49zM12.7 187.34h4.49v1.15h-4.49zM25.71 187.34h4.49v1.15h-4.49zM51.74 189.34h4.49v1.15h-4.49zM64.75 189.34h4.49v1.15h-4.49zM116.66 189.34h4.52v1.15h-4.52zM25.71 190.34h4.49v1.15h-4.49zM38.72 190.34h4.49v1.15h-4.49zM77.76 190.34h4.49v1.15h-4.49zM155.76 190.34h4.53v1.15h-4.53zM160.14 190.34h4.53v1.15h-4.53zM94.8 191.34h4.52v1.15h-4.52zM112.29 191.34h4.52v1.15h-4.52zM164.52 192.34h4.53v1.15h-4.53zM12.7 193.34h4.49v1.15h-4.49zM51.74 193.34h4.49v1.15h-4.49zM38.72 194.35h4.49v1.15h-4.49zM138.53 194.35h4.52v1.15h-4.52zM47.4 195.35h4.49v1.15h-4.49zM64.75 195.35h4.49v1.15h-4.49zM34.39 197.35h4.49v1.15h-4.49zM64.75 197.35h4.49v1.15h-4.49zM116.66 197.35h4.52v1.15h-4.52zM47.4 200.35h4.49v1.15h-4.49zM38.72 201.36h4.49v1.15h-4.49zM107.92 201.36h4.52v1.15h-4.52zM138.53 201.36h4.52v1.15h-4.52zM64.75 203.36h4.49v1.15h-4.49zM51.74 207.36h4.49v1.15h-4.49zM64.75 207.36h4.49v1.15h-4.49zM12.7 208.36h4.49v1.15h-4.49zM151.38 209.37h4.53v1.15h-4.53zM77.76 211.37h4.49v1.15h-4.49zM121.03 211.37h4.52v1.15h-4.52zM160.14 211.37h4.53v1.15h-4.53zM112.29 213.37h4.52v1.15h-4.52zM121.03 213.37h4.52v1.15h-4.52zM25.71 214.37h4.49v1.15h-4.49zM77.76 214.37h4.49v1.15h-4.49zM12.7 215.37h4.49v1.15h-4.49zM12.7 216.38h4.49v1.15h-4.49zM12.7 219.38h4.49v1.15h-4.49zM25.71 219.38h4.49v1.15h-4.49zM164.52 219.38h4.53v1.15h-4.53zM47.4 220.38h4.49v1.15h-4.49zM94.8 220.38h4.52v1.15h-4.52zM38.72 221.38h4.49v1.15h-4.49zM77.76 221.38h4.49v1.15h-4.49zM47.4 222.38h4.49v1.15h-4.49zM77.76 222.38h4.49v1.15h-4.49zM160.14 222.38h4.53v1.15h-4.53zM99.17 224.39h4.52v1.15h-4.52zM121.03 224.39h4.52v1.15h-4.52zM138.53 224.39h4.52v1.15h-4.52zM25.71 225.39h4.49v1.15h-4.49zM38.72 225.39h4.49v1.15h-4.49zM107.92 225.39h4.52v1.15h-4.52zM94.8 226.39h4.52v1.15h-4.52zM51.74 227.39h4.49v1.15h-4.49zM107.92 227.39h4.52v1.15h-4.52zM38.72 228.39h4.49v1.15h-4.49zM51.74 228.39h4.49v1.15h-4.49zM64.75 228.39h4.49v1.15h-4.49zM51.74 229.39h4.49v1.15h-4.49zM51.74 230.39h4.49v1.15h-4.49zM12.7 231.4h4.49v1.15h-4.49zM38.72 231.4h4.49v1.15h-4.49zM107.92 232.4h4.52v1.15h-4.52zM125.41 232.4h4.52v1.15h-4.52zM103.54 233.4h4.52v1.15h-4.52zM25.71 234.4h4.49v1.15h-4.49zM77.76 234.4h4.49v1.15h-4.49zM129.78 237.4h4.52v1.15h-4.52zM138.53 237.4h4.52v1.15h-4.52zM64.75 238.4h4.49v1.15h-4.49zM47.4 239.41h4.49v1.15h-4.49zM51.74 239.41h4.49v1.15h-4.49zM134.15 240.41h4.52v1.15h-4.52zM38.72 241.41h4.49v1.15h-4.49zM116.66 241.41h4.52v1.15h-4.52zM107.92 242.41h4.52v1.15h-4.52zM129.78 242.41h4.52v1.15h-4.52zM129.78 244.41h4.52v1.15h-4.52zM94.8 245.41h4.52v1.15h-4.52zM12.7 246.42h4.49v1.15h-4.49zM64.75 246.42h4.49v1.15h-4.49zM125.41 246.42h4.52v1.15h-4.52zM164.52 246.42h4.53v1.15h-4.53zM86.05 247.42h4.52v1.15h-4.52zM99.17 248.42h4.52v1.15h-4.52zM12.7 249.42h4.49v1.15h-4.49zM112.29 250.42h4.52v1.15h-4.52zM99.17 251.42h4.52v1.15h-4.52zM94.8 252.42h4.52v1.15h-4.52zM25.71 254.43h4.49v1.15h-4.49zM51.74 254.43h4.49v1.15h-4.49zM25.71 255.43h4.49v1.15h-4.49zM103.54 255.43h4.52v1.15h-4.52zM125.41 255.43h4.52v1.15h-4.52zM12.7 258.43h4.49v1.15h-4.49zM25.71 258.43h4.49v1.15h-4.49zM12.7 259.43h4.49v1.15h-4.49zM51.74 259.43h4.49v1.15h-4.49zM77.76 259.43h4.49v1.15h-4.49zM38.72 262.44h4.49v1.15h-4.49zM51.74 262.44h4.49v1.15h-4.49zM94.8 262.44h4.52v1.15h-4.52zM134.15 262.44h4.52v1.15h-4.52zM73.42 263.44h4.49v1.15h-4.49zM138.53 264.44h4.52v1.15h-4.52zM25.71 267.44h4.49v1.15h-4.49zM107.92 267.44h4.52v1.15h-4.52zM38.72 269.45h4.49v1.15h-4.49zM51.74 269.45h4.49v1.15h-4.49zM77.76 269.45h4.49v1.15h-4.49zM38.72 270.45h4.49v1.15h-4.49zM12.7 271.45h4.49v1.15h-4.49zM38.72 271.45h4.49v1.15h-4.49zM12.7 273.45h4.49v1.15h-4.49zM125.41 274.45h4.52v1.15h-4.52zM38.72 275.45h4.49v1.15h-4.49zM25.71 277.46h4.49v1.15h-4.49zM77.76 277.46h4.49v1.15h-4.49zM164.52 277.46h4.53v1.15h-4.53zM38.72 279.46h4.49v1.15h-4.49zM51.74 281.46h4.49v1.15h-4.49zM64.75 281.46h4.49v1.15h-4.49zM38.72 282.46h4.49v1.15h-4.49zM94.8 282.46h4.52v1.15h-4.52zM25.71 283.47h4.49v1.15h-4.49zM64.75 283.47h4.49v1.15h-4.49zM12.7 284.47h4.49v1.15h-4.49zM64.75 284.47h4.49v1.15h-4.49zM138.53 284.47h4.52v1.15h-4.52zM38.72 285.47h4.49v1.15h-4.49zM12.7 286.47h4.49v1.15h-4.49zM12.7 289.47h4.49v1.15h-4.49zM25.71 290.47h4.49v1.15h-4.49zM51.74 291.48h4.49v1.15h-4.49zM12.7 294.48h4.49v1.15h-4.49zM25.71 294.48h4.49v1.15h-4.49zM77.76 294.48h4.49v1.15h-4.49zM51.74 295.48h4.49v1.15h-4.49zM12.7 297.48h4.49v1.15h-4.49zM64.75 298.49h4.49v1.15h-4.49zM38.72 299.49h4.49v1.15h-4.49zM51.74 301.49h4.49v1.15h-4.49zM77.76 302.49h4.49v1.15h-4.49zM51.74 303.49h4.49v1.15h-4.49zM25.71 304.49h4.49v1.15h-4.49zM77.76 304.49h4.49v1.15h-4.49zM25.71 306.5h4.49v1.15h-4.49zM25.71 308.5h4.49v1.15h-4.49zM38.72 308.5h4.49v1.15h-4.49z"/>
<path fill="#061212" d="M60.41 85.2h4.49v1.15h-4.49zM116.66 87.2h4.52v1.15h-4.52zM77.76 88.2h4.49v1.15h-4.49zM12.7 90.21h4.49v1.15h-4.49zM51.74 90.21h4.49v1.15h-4.49zM25.71 93.21h4.49v1.15h-4.49zM77.76 93.21h4.49v1.15h-4.49zM103.54 93.21h4.52v1.15h-4.52zM47.4 96.21h4.49v1.15h-4.49zM12.7 97.22h4.49v1.15h-4.49zM77.76 98.22h4.49v1.15h-4.49zM12.7 100.22h4.49v1.15h-4.49zM38.72 100.22h4.49v1.15h-4.49zM38.72 103.22h4.49v1.15h-4.49zM38.72 104.23h4.49v1.15h-4.49zM12.7 106.23h4.49v1.15h-4.49zM51.74 106.23h4.49v1.15h-4.49zM73.42 106.23h4.49v1.15h-4.49zM77.76 106.23h4.49v1.15h-4.49zM77.76 107.23h4.49v1.15h-4.49zM38.72 109.23h4.49v1.15h-4.49zM64.75 109.23h4.49v1.15h-4.49zM12.7 110.23h4.49v1.15h-4.49zM38.72 110.23h4.49v1.15h-4.49zM77.76 110.23h4.49v1.15h-4.49zM116.66 110.23h4.52v1.15h-4.52zM38.72 111.23h4.49v1.15h-4.49zM12.7 112.24h4.49v1.15h-4.49zM51.74 113.24h4.49v1.15h-4.49zM73.42 114.24h4.49v1.15h-4.49zM25.71 116.24h4.49v1.15h-4.49zM51.74 116.24h4.49v1.15h-4.49zM12.7 118.24h4.49v1.15h-4.49zM116.66 121.25h4.52v1.15h-4.52zM12.7 122.25h4.49v1.15h-4.49zM77.76 122.25h4.49v1.15h-4.49zM73.42 123.25h4.49v1.15h-4.49zM116.66 123.25h4.52v1.15h-4.52zM64.75 124.25h4.49v1.15h-4.49zM77.76 124.25h4.49v1.15h-4.49zM38.72 126.25h4.49v1.15h-4.49zM64.75 128.26h4.49v1.15h-4.49zM77.76 129.26h4.49v1.15h-4.49zM64.75 130.26h4.49v1.15h-4.49zM51.74 135.27h4.49v1.15h-4.49zM38.72 136.27h4.49v1.15h-4.49zM12.7 138.27h4.49v1.15h-4.49zM64.75 138.27h4.49v1.15h-4.49zM103.54 138.27h4.52v1.15h-4.52zM12.7 139.27h4.49v1.15h-4.49zM51.74 139.27h4.49v1.15h-4.49zM116.66 139.27h4.52v1.15h-4.52zM12.7 140.27h4.49v1.15h-4.49zM73.42 140.27h4.49v1.15h-4.49zM77.76 140.27h4.49v1.15h-4.49zM25.71 141.28h4.49v1.15h-4.49zM38.72 142.28h4.49v1.15h-4.49zM64.75 143.28h4.49v1.15h-4.49zM12.7 145.28h4.49v1.15h-4.49zM25.71 145.28h4.49v1.15h-4.49zM51.74 147.28h4.49v1.15h-4.49zM77.76 150.29h4.49v1.15h-4.49zM77.76 151.29h4.49v1.15h-4.49zM12.7 153.29h4.49v1.15h-4.49zM25.71 153.29h4.49v1.15h-4.49zM86.05 153.29h4.52v1.15h-4.52zM25.71 155.29h4.49v1.15h-4.49zM34.39 155.29h4.49v1.15h-4.49zM38.72 156.3h4.49v1.15h-4.49zM64.75 157.3h4.49v1.15h-4.49zM38.72 158.3h4.49v1.15h-4.49zM38.72 160.3h4.49v1.15h-4.49zM25.71 163.3h4.49v1.15h-4.49zM12.7 166.31h4.49v1.15h-4.49zM47.4 166.31h4.49v1.15h-4.49zM112.29 166.31h4.52v1.15h-4.52zM51.74 167.31h4.49v1.15h-4.49zM77.76 167.31h4.49v1.15h-4.49zM90.42 168.31h4.52v1.15h-4.52zM90.42 169.31h4.52v1.15h-4.52zM103.54 170.31h4.52v1.15h-4.52zM64.75 171.32h4.49v1.15h-4.49zM77.76 171.32h4.49v1.15h-4.49zM12.7 173.32h4.49v1.15h-4.49zM25.71 174.32h4.49v1.15h-4.49zM38.72 174.32h4.49v1.15h-4.49zM25.71 175.32h4.49v1.15h-4.49zM38.72 176.32h4.49v1.15h-4.49zM77.76 177.32h4.49v1.15h-4.49zM116.66 180.33h4.52v1.15h-4.52zM164.52 180.33h4.53v1.15h-4.53zM25.71 181.33h4.49v1.15h-4.49zM47.4 184.33h4.49v1.15h-4.49zM77.76 184.33h4.49v1.15h-4.49zM38.72 186.34h4.49v1.15h-4.49zM64.75 186.34h4.49v1.15h-4.49zM116.66 186.34h4.52v1.15h-4.52zM21.38 187.34h4.49v1.15h-4.49zM47.4 187.34h4.49v1.15h-4.49zM51.74 187.34h4.49v1.15h-4.49zM25.71 188.34h4.49v1.15h-4.49zM51.74 188.34h4.49v1.15h-4.49zM12.7 189.34h4.49v1.15h-4.49zM12.7 194.35h4.49v1.15h-4.49zM164.52 195.35h4.53v1.15h-4.53zM51.74 196.35h4.49v1.15h-4.49zM12.7 198.35h4.49v1.15h-4.49zM94.8 198.35h4.52v1.15h-4.52zM25.71 199.35h4.49v1.15h-4.49zM25.71 200.35h4.49v1.15h-4.49zM51.74 201.36h4.49v1.15h-4.49zM38.72 203.36h4.49v1.15h-4.49zM99.17 204.36h4.52v1.15h-4.52zM12.7 205.36h4.49v1.15h-4.49zM60.41 205.36h4.49v1.15h-4.49zM77.76 205.36h4.49v1.15h-4.49zM90.42 205.36h4.52v1.15h-4.52zM38.72 206.36h4.49v1.15h-4.49zM77.76 206.36h4.49v1.15h-4.49zM51.74 208.36h4.49v1.15h-4.49zM86.05 209.37h4.52v1.15h-4.52zM112.29 210.37h4.52v1.15h-4.52zM12.7 211.37h4.49v1.15h-4.49zM64.75 211.37h4.49v1.15h-4.49zM125.41 211.37h4.52v1.15h-4.52zM129.78 211.37h4.52v1.15h-4.52zM47.4 212.37h4.49v1.15h-4.49zM51.74 215.37h4.49v1.15h-4.49zM64.75 215.37h4.49v1.15h-4.49zM125.41 215.37h4.52v1.15h-4.52zM38.72 216.38h4.49v1.15h-4.49zM77.76 216.38h4.49v1.15h-4.49zM107.92 218.38h4.52v1.15h-4.52zM51.74 219.38h4.49v1.15h-4.49zM77.76 219.38h4.49v1.15h-4.49zM107.92 220.38h4.52v1.15h-4.52zM64.75 221.38h4.49v1.15h-4.49zM60.41 222.38h4.49v1.15h-4.49zM138.53 222.38h4.52v1.15h-4.52zM25.71 223.38h4.49v1.15h-4.49zM38.72 223.38h4.49v1.15h-4.49zM38.72 224.39h4.49v1.15h-4.49zM77.76 224.39h4.49v1.15h-4.49zM12.7 226.39h4.49v1.15h-4.49zM73.42 227.39h4.49v1.15h-4.49zM38.72 229.39h4.49v1.15h-4.49zM12.7 230.39h4.49v1.15h-4.49zM99.17 230.39h4.52v1.15h-4.52zM134.15 230.39h4.52v1.15h-4.52zM60.41 231.4h4.49v1.15h-4.49zM99.17 231.4h4.52v1.15h-4.52zM38.72 233.4h4.49v1.15h-4.49zM12.7 234.4h4.49v1.15h-4.49zM12.7 235.4h4.49v1.15h-4.49zM64.75 235.4h4.49v1.15h-4.49zM25.71 236.4h4.49v1.15h-4.49zM77.76 237.4h4.49v1.15h-4.49zM51.74 238.4h4.49v1.15h-4.49zM77.76 240.41h4.49v1.15h-4.49zM51.74 242.41h4.49v1.15h-4.49zM94.8 242.41h4.52v1.15h-4.52zM99.17 242.41h4.52v1.15h-4.52zM38.72 245.41h4.49v1.15h-4.49zM90.42 247.42h4.52v1.15h-4.52zM12.7 248.42h4.49v1.15h-4.49zM77.76 249.42h4.49v1.15h-4.49zM107.92 250.42h4.52v1.15h-4.52zM38.72 251.42h4.49v1.15h-4.49zM112.29 252.42h4.52v1.15h-4.52zM38.72 255.43h4.49v1.15h-4.49zM25.71 256.43h4.49v1.15h-4.49zM51.74 256.43h4.49v1.15h-4.49zM107.92 256.43h4.52v1.15h-4.52zM64.75 257.43h4.49v1.15h-4.49zM38.72 261.44h4.49v1.15h-4.49zM51.74 261.44h4.49v1.15h-4.49zM112.29 261.44h4.52v1.15h-4.52zM64.75 262.44h4.49v1.15h-4.49zM129.78 263.44h4.52v1.15h-4.52zM51.74 264.44h4.49v1.15h-4.49zM164.52 265.44h4.53v1.15h-4.53zM12.7 266.44h4.49v1.15h-4.49zM34.39 266.44h4.49v1.15h-4.49zM103.54 267.44h4.52v1.15h-4.52zM51.74 268.45h4.49v1.15h-4.49zM60.41 268.45h4.49v1.15h-4.49zM25.71 271.45h4.49v1.15h-4.49zM64.75 272.45h4.49v1.15h-4.49zM77.76 272.45h4.49v1.15h-4.49zM129.78 272.45h4.52v1.15h-4.52zM77.76 273.45h4.49v1.15h-4.49zM64.75 274.45h4.49v1.15h-4.49zM12.7 276.46h4.49v1.15h-4.49zM77.76 276.46h4.49v1.15h-4.49zM138.53 280.46h4.52v1.15h-4.52zM12.7 281.46h4.49v1.15h-4.49zM12.7 282.46h4.49v1.15h-4.49zM25.71 282.46h4.49v1.15h-4.49zM51.74 283.47h4.49v1.15h-4.49zM73.42 284.47h4.49v1.15h-4.49zM12.7 287.47h4.49v1.15h-4.49zM38.72 290.47h4.49v1.15h-4.49zM138.53 290.47h4.52v1.15h-4.52zM25.71 291.48h4.49v1.15h-4.49zM64.75 294.48h4.49v1.15h-4.49zM51.74 297.48h4.49v1.15h-4.49zM51.74 298.49h4.49v1.15h-4.49zM51.74 299.49h4.49v1.15h-4.49zM12.7 301.49h4.49v1.15h-4.49zM12.7 302.49h4.49v1.15h-4.49zM12.7 303.49h4.49v1.15h-4.49zM34.39 303.49h4.49v1.15h-4.49zM64.75 303.49h4.49v1.15h-4.49zM77.76 307.5h4.49v1.15h-4.49z"/>
<path fill="#0c0000" d="M69.09 85.2h4.49v1.15h-4.49zM21.38 86.2h4.49v1.15h-4.49zM17.04 87.2h4.49v1.15h-4.49zM43.06 87.2h4.49v1.15h-4.49zM56.07 87.2h4.49v1.15h-4.49zM17.04 88.2h4.49v1.15h-4.49zM56.07 89.21h4.49v1.15h-4.49zM30.05 91.21h4.49v1.15h-4.49zM43.06 91.21h4.49v1.15h-4.49zM56.07 91.21h4.49v1.15h-4.49zM17.04 92.21h4.49v1.15h-4.49zM56.07 94.21h4.49v1.15h-4.49zM21.38 95.21h4.49v1.15h-4.49zM17.04 96.21h4.49v1.15h-4.49zM56.07 96.21h4.49v1.15h-4.49zM17.04 97.22h4.49v1.15h-4.49zM56.07 97.22h4.49v1.15h-4.49zM43.06 98.22h4.49v1.15h-4.49zM56.07 98.22h4.49v1.15h-4.49zM17.04 100.22h4.49v1.15h-4.49zM56.07 100.22h4.49v1.15h-4.49zM21.38 101.22h4.49v1.15h-4.49zM34.39 101.22h4.49v1.15h-4.49zM43.06 102.22h4.49v1.15h-4.49zM30.05 104.23h4.49v1.15h-4.49zM69.09 104.23h4.49v1.15h-4.49zM90.42 104.23h4.52v1.15h-4.52zM103.54 104.23h4.52v1.15h-4.52zM17.04 106.23h4.49v1.15h-4.49zM30.05 106.23h4.49v1.15h-4.49zM56.07 106.23h4.49v1.15h-4.49zM17.04 107.23h4.49v1.15h-4.49zM21.38 108.23h4.49v1.15h-4.49zM30.05 108.23h4.49v1.15h-4.49zM30.05 110.23h4.49v1.15h-4.49zM56.07 110.23h4.49v1.15h-4.49zM56.07 111.23h4.49v1.15h-4.49zM164.52 111.23h4.53v1.15h-4.53zM17.04 112.24h4.49v1.15h-4.49zM69.09 112.24h4.49v1.15h-4.49zM103.54 112.24h4.52v1.15h-4.52zM107.92 112.24h4.52v1.15h-4.52zM30.05 113.24h4.49v1.15h-4.49zM30.05 114.24h4.49v1.15h-4.49zM17.04 115.24h4.49v1.15h-4.49zM112.29 115.24h4.52v1.15h-4.52zM17.04 116.24h4.49v1.15h-4.49zM30.05 116.24h4.49v1.15h-4.49zM43.06 116.24h4.49v1.15h-4.49zM56.07 116.24h4.49v1.15h-4.49zM17.04 117.24h4.49v1.15h-4.49zM30.05 117.24h4.49v1.15h-4.49zM17.04 118.24h4.49v1.15h-4.49zM112.29 118.24h4.52v1.15h-4.52zM30.05 119.25h4.49v1.15h-4.49zM69.09 119.25h4.49v1.15h-4.49zM17.04 121.25h4.49v1.15h-4.49zM134.15 121.25h4.52v1.15h-4.52zM21.38 122.25h4.49v1.15h-4.49zM34.39 122.25h4.49v1.15h-4.49zM43.06 122.25h4.49v1.15h-4.49zM125.41 122.25h4.52v1.15h-4.52zM129.78 122.25h4.52v1.15h-4.52zM99.17 123.25h4.52v1.15h-4.52zM103.54 123.25h4.52v1.15h-4.52zM107.92 124.25h4.52v1.15h-4.52zM86.05 125.25h4.52v1.15h-4.52zM103.54 125.25h4.52v1.15h-4.52zM17.04 126.25h4.49v1.15h-4.49zM99.17 126.25h4.52v1.15h-4.52zM129.78 126.25h4.52v1.15h-4.52zM138.53 126.25h4.52v1.15h-4.52zM47.4 127.26h4.49v1.15h-4.49zM17.04 128.26h4.49v1.15h-4.49zM47.4 128.26h4.49v1.15h-4.49zM30.05 129.26h4.49v1.15h-4.49zM94.8 129.26h4.52v1.15h-4.52zM17.04 130.26h4.49v1.15h-4.49zM21.38 130.26h4.49v1.15h-4.49zM56.07 130.26h4.49v1.15h-4.49zM112.29 130.26h4.52v1.15h-4.52zM73.42 132.26h4.49v1.15h-4.49zM17.04 133.26h4.49v1.15h-4.49zM112.29 133.26h4.52v1.15h-4.52zM17.04 134.27h4.49v1.15h-4.49zM43.06 134.27h4.49v1.15h-4.49zM103.54 134.27h4.52v1.15h-4.52zM30.05 135.27h4.49v1.15h-4.49zM43.06 135.27h4.49v1.15h-4.49zM69.09 135.27h4.49v1.15h-4.49zM164.52 135.27h4.53v1.15h-4.53zM30.05 136.27h4.49v1.15h-4.49zM121.03 136.27h4.52v1.15h-4.52zM129.78 136.27h4.52v1.15h-4.52zM17.04 137.27h4.49v1.15h-4.49zM30.05 137.27h4.49v1.15h-4.49zM103.54 137.27h4.52v1.15h-4.52zM30.05 138.27h4.49v1.15h-4.49zM90.42 138.27h4.52v1.15h-4.52zM30.05 139.27h4.49v1.15h-4.49zM86.05 140.27h4.52v1.15h-4.52zM56.07 142.28h4.49v1.15h-4.49zM86.05 142.28h4.52v1.15h-4.52zM94.8 142.28h4.52v1.15h-4.52zM17.04 143.28h4.49v1.15h-4.49zM21.38 143.28h4.49v1.15h-4.49zM30.05 143.28h4.49v1.15h-4.49zM43.06 143.28h4.49v1.15h-4.49zM69.09 143.28h4.49v1.15h-4.49zM90.42 143.28h4.52v1.15h-4.52zM43.06 144.28h4.49v1.15h-4.49zM21.38 145.28h4.49v1.15h-4.49zM17.04 146.28h4.49v1.15h-4.49zM17.04 147.28h4.49v1.15h-4.49zM21.38 148.28h4.49v1.15h-4.49zM34.39 148.28h4.49v1.15h-4.49zM43.06 148.28h4.49v1.15h-4.49zM56.07 148.28h4.49v1.15h-4.49zM90.42 148.28h4.52v1.15h-4.52zM94.8 148.28h4.52v1.15h-4.52zM56.07 149.29h4.49v1.15h-4.49zM86.05 149.29h4.52v1.15h-4.52zM30.05 150.29h4.49v1.15h-4.49zM125.41 150.29h4.52v1.15h-4.52zM129.78 150.29h4.52v1.15h-4.52zM17.04 151.29h4.49v1.15h-4.49zM69.09 151.29h4.49v1.15h-4.49zM69.09 152.29h4.49v1.15h-4.49zM17.04 153.29h4.49v1.15h-4.49zM30.05 153.29h4.49v1.15h-4.49zM69.09 153.29h4.49v1.15h-4.49zM112.29 153.29h4.52v1.15h-4.52zM43.06 154.29h4.49v1.15h-4.49zM69.09 154.29h4.49v1.15h-4.49zM43.06 155.29h4.49v1.15h-4.49zM56.07 155.29h4.49v1.15h-4.49zM86.05 156.3h4.52v1.15h-4.52zM69.09 157.3h4.49v1.15h-4.49zM94.8 157.3h4.52v1.15h-4.52zM121.03 157.3h4.52v1.15h-4.52zM21.38 159.3h4.49v1.15h-4.49zM30.05 159.3h4.49v1.15h-4.49zM86.05 159.3h4.52v1.15h-4.52zM17.04 160.3h4.49v1.15h-4.49zM30.05 160.3h4.49v1.15h-4.49zM56.07 160.3h4.49v1.15h-4.49zM17.04 161.3h4.49v1.15h-4.49zM30.05 161.3h4.49v1.15h-4.49zM99.17 161.3h4.52v1.15h-4.52zM30.05 163.3h4.49v1.15h-4.49zM94.8 163.3h4.52v1.15h-4.52zM112.29 163.3h4.52v1.15h-4.52zM125.41 163.3h4.52v1.15h-4.52zM138.53 163.3h4.52v1.15h-4.52zM56.07 164.31h4.49v1.15h-4.49zM73.42 164.31h4.49v1.15h-4.49zM129.78 164.31h4.52v1.15h-4.52zM151.38 164.31h4.53v1.15h-4.53zM155.76 164.31h4.53v1.15h-4.53zM43.06 165.31h4.49v1.15h-4.49zM69.09 165.31h4.49v1.15h-4.49zM125.41 165.31h4.52v1.15h-4.52zM43.06 166.31h4.49v1.15h-4.49zM69.09 166.31h4.49v1.15h-4.49zM94.8 166.31h4.52v1.15h-4.52zM30.05 167.31h4.49v1.15h-4.49zM43.06 167.31h4.49v1.15h-4.49zM56.07 167.31h4.49v1.15h-4.49zM129.78 168.31h4.52v1.15h-4.52zM134.15 169.31h4.52v1.15h-4.52zM17.04 170.31h4.49v1.15h-4.49zM21.38 170.31h4.49v1.15h-4.49zM56.07 170.31h4.49v1.15h-4.49zM90.42 170.31h4.52v1.15h-4.52zM129.78 170.31h4.52v1.15h-4.52zM17.04 171.32h4.49v1.15h-4.49zM30.05 171.32h4.49v1.15h-4.49zM56.07 171.32h4.49v1.15h-4.49zM125.41 171.32h4.52v1.15h-4.52zM30.05 172.32h4.49v1.15h-4.49zM69.09 172.32h4.49v1.15h-4.49zM17.04 173.32h4.49v1.15h-4.49zM30.05 173.32h4.49v1.15h-4.49zM56.07 173.32h4.49v1.15h-4.49zM138.53 173.32h4.52v1.15h-4.52zM103.54 174.32h4.52v1.15h-4.52zM164.52 174.32h4.53v1.15h-4.53zM21.38 175.32h4.49v1.15h-4.49zM56.07 175.32h4.49v1.15h-4.49zM129.78 175.32h4.52v1.15h-4.52zM164.52 175.32h4.53v1.15h-4.53zM17.04 176.32h4.49v1.15h-4.49zM21.38 176.32h4.49v1.15h-4.49zM56.07 176.32h4.49v1.15h-4.49zM160.14 176.32h4.53v1.15h-4.53zM30.05 177.32h4.49v1.15h-4.49zM43.06 177.32h4.49v1.15h-4.49zM69.09 177.32h4.49v1.15h-4.49zM151.38 177.32h4.53v1.15h-4.53zM17.04 178.32h4.49v1.15h-4.49zM34.39 178.32h4.49v1.15h-4.49zM56.07 178.32h4.49v1.15h-4.49zM155.76 178.32h4.53v1.15h-4.53zM17.04 179.33h4.49v1.15h-4.49zM56.07 179.33h4.49v1.15h-4.49zM69.09 179.33h4.49v1.15h-4.49zM43.06 180.33h4.49v1.15h-4.49zM17.04 181.33h4.49v1.15h-4.49zM56.07 181.33h4.49v1.15h-4.49zM43.06 183.33h4.49v1.15h-4.49zM21.38 184.33h4.49v1.15h-4.49zM69.09 184.33h4.49v1.15h-4.49zM17.04 185.33h4.49v1.15h-4.49zM155.76 185.33h4.53v1.15h-4.53zM17.04 186.34h4.49v1.15h-4.49zM151.38 186.34h4.53v1.15h-4.53zM43.06 187.34h4.49v1.15h-4.49zM56.07 187.34h4.49v1.15h-4.49zM151.38 187.34h4.53v1.15h-4.53zM17.04 188.34h4.49v1.15h-4.49zM21.38 188.34h4.49v1.15h-4.49zM56.07 188.34h4.49v1.15h-4.49zM17.04 189.34h4.49v1.15h-4.49zM21.38 189.34h4.49v1.15h-4.49zM56.07 189.34h4.49v1.15h-4.49zM73.42 191.34h4.49v1.15h-4.49zM21.38 192.34h4.49v1.15h-4.49zM43.06 194.35h4.49v1.15h-4.49zM17.04 195.35h4.49v1.15h-4.49zM56.07 196.35h4.49v1.15h-4.49zM43.06 197.35h4.49v1.15h-4.49zM30.05 198.35h4.49v1.15h-4.49zM69.09 198.35h4.49v1.15h-4.49zM164.52 198.35h4.53v1.15h-4.53zM21.38 199.35h4.49v1.15h-4.49zM30.05 199.35h4.49v1.15h-4.49zM43.06 199.35h4.49v1.15h-4.49zM56.07 199.35h4.49v1.15h-4.49zM17.04 200.35h4.49v1.15h-4.49zM43.06 200.35h4.49v1.15h-4.49zM56.07 200.35h4.49v1.15h-4.49zM69.09 200.35h4.49v1.15h-4.49zM30.05 201.36h4.49v1.15h-4.49zM17.04 202.36h4.49v1.15h-4.49zM107.92 202.36h4.52v1.15h-4.52zM116.66 203.36h4.52v1.15h-4.52zM21.38 204.36h4.49v1.15h-4.49zM21.38 205.36h4.49v1.15h-4.49zM129.78 205.36h4.52v1.15h-4.52zM69.09 207.36h4.49v1.15h-4.49zM103.54 207.36h4.52v1.15h-4.52zM17.04 208.36h4.49v1.15h-4.49zM43.06 208.36h4.49v1.15h-4.49zM69.09 208.36h4.49v1.15h-4.49zM138.53 208.36h4.52v1.15h-4.52zM30.05 209.37h4.49v1.15h-4.49zM56.07 209.37h4.49v1.15h-4.49zM69.09 209.37h4.49v1.15h-4.49zM121.03 209.37h4.52v1.15h-4.52zM129.78 209.37h4.52v1.15h-4.52zM21.38 210.37h4.49v1.15h-4.49zM17.04 211.37h4.49v1.15h-4.49zM30.05 211.37h4.49v1.15h-4.49zM69.09 211.37h4.49v1.15h-4.49zM21.38 212.37h4.49v1.15h-4.49zM43.06 212.37h4.49v1.15h-4.49zM17.04 213.37h4.49v1.15h-4.49zM73.42 213.37h4.49v1.15h-4.49zM21.38 215.37h4.49v1.15h-4.49zM56.07 215.37h4.49v1.15h-4.49zM138.53 215.37h4.52v1.15h-4.52zM21.38 216.38h4.49v1.15h-4.49zM30.05 216.38h4.49v1.15h-4.49zM56.07 216.38h4.49v1.15h-4.49zM116.66 216.38h4.52v1.15h-4.52zM17.04 217.38h4.49v1.15h-4.49zM30.05 217.38h4.49v1.15h-4.49zM121.03 217.38h4.52v1.15h-4.52zM73.42 218.38h4.49v1.15h-4.49zM17.04 219.38h4.49v1.15h-4.49zM43.06 219.38h4.49v1.15h-4.49zM56.07 219.38h4.49v1.15h-4.49zM69.09 219.38h4.49v1.15h-4.49zM43.06 220.38h4.49v1.15h-4.49zM69.09 220.38h4.49v1.15h-4.49zM99.17 220.38h4.52v1.15h-4.52zM134.15 220.38h4.52v1.15h-4.52zM138.53 220.38h4.52v1.15h-4.52zM164.52 220.38h4.53v1.15h-4.53zM21.38 221.38h4.49v1.15h-4.49zM30.05 221.38h4.49v1.15h-4.49zM43.06 221.38h4.49v1.15h-4.49zM69.09 221.38h4.49v1.15h-4.49zM134.15 221.38h4.52v1.15h-4.52zM30.05 222.38h4.49v1.15h-4.49zM30.05 223.38h4.49v1.15h-4.49zM125.41 223.38h4.52v1.15h-4.52zM21.38 225.39h4.49v1.15h-4.49zM30.05 225.39h4.49v1.15h-4.49zM56.07 225.39h4.49v1.15h-4.49zM30.05 226.39h4.49v1.15h-4.49zM56.07 226.39h4.49v1.15h-4.49zM107.92 226.39h4.52v1.15h-4.52zM30.05 227.39h4.49v1.15h-4.49zM116.66 227.39h4.52v1.15h-4.52zM17.04 228.39h4.49v1.15h-4.49zM30.05 228.39h4.49v1.15h-4.49zM43.06 228.39h4.49v1.15h-4.49zM116.66 228.39h4.52v1.15h-4.52zM56.07 229.39h4.49v1.15h-4.49zM17.04 230.39h4.49v1.15h-4.49zM30.05 230.39h4.49v1.15h-4.49zM138.53 230.39h4.52v1.15h-4.52zM21.38 232.4h4.49v1.15h-4.49zM17.04 233.4h4.49v1.15h-4.49zM21.38 233.4h4.49v1.15h-4.49zM94.8 233.4h4.52v1.15h-4.52zM134.15 233.4h4.52v1.15h-4.52zM17.04 234.4h4.49v1.15h-4.49zM34.39 234.4h4.49v1.15h-4.49zM69.09 234.4h4.49v1.15h-4.49zM43.06 235.4h4.49v1.15h-4.49zM112.29 235.4h4.52v1.15h-4.52zM17.04 236.4h4.49v1.15h-4.49zM56.07 236.4h4.49v1.15h-4.49zM73.42 236.4h4.49v1.15h-4.49zM17.04 239.41h4.49v1.15h-4.49zM30.05 239.41h4.49v1.15h-4.49zM56.07 239.41h4.49v1.15h-4.49zM69.09 239.41h4.49v1.15h-4.49zM21.38 240.41h4.49v1.15h-4.49zM138.53 240.41h4.52v1.15h-4.52zM56.07 241.41h4.49v1.15h-4.49zM90.42 241.41h4.52v1.15h-4.52zM112.29 241.41h4.52v1.15h-4.52zM17.04 242.41h4.49v1.15h-4.49zM47.4 242.41h4.49v1.15h-4.49zM21.38 243.41h4.49v1.15h-4.49zM34.39 243.41h4.49v1.15h-4.49zM56.07 243.41h4.49v1.15h-4.49zM73.42 243.41h4.49v1.15h-4.49zM30.05 244.41h4.49v1.15h-4.49zM21.38 245.41h4.49v1.15h-4.49zM34.39 245.41h4.49v1.15h-4.49zM56.07 245.41h4.49v1.15h-4.49zM112.29 245.41h4.52v1.15h-4.52zM116.66 245.41h4.52v1.15h-4.52zM121.03 245.41h4.52v1.15h-4.52zM112.29 247.42h4.52v1.15h-4.52zM116.66 247.42h4.52v1.15h-4.52zM138.53 247.42h4.52v1.15h-4.52zM21.38 248.42h4.49v1.15h-4.49zM107.92 248.42h4.52v1.15h-4.52zM134.15 249.42h4.52v1.15h-4.52zM17.04 250.42h4.49v1.15h-4.49zM21.38 250.42h4.49v1.15h-4.49zM34.39 251.42h4.49v1.15h-4.49zM121.03 251.42h4.52v1.15h-4.52zM43.06 252.42h4.49v1.15h-4.49zM107.92 252.42h4.52v1.15h-4.52zM121.03 252.42h4.52v1.15h-4.52zM164.52 252.42h4.53v1.15h-4.53zM21.38 253.43h4.49v1.15h-4.49zM116.66 254.43h4.52v1.15h-4.52zM121.03 254.43h4.52v1.15h-4.52zM43.06 255.43h4.49v1.15h-4.49zM112.29 255.43h4.52v1.15h-4.52zM116.66 255.43h4.52v1.15h-4.52zM138.53 255.43h4.52v1.15h-4.52zM56.07 256.43h4.49v1.15h-4.49zM17.04 257.43h4.49v1.15h-4.49zM30.05 257.43h4.49v1.15h-4.49zM56.07 257.43h4.49v1.15h-4.49zM69.09 257.43h4.49v1.15h-4.49zM56.07 258.43h4.49v1.15h-4.49zM17.04 259.43h4.49v1.15h-4.49zM30.05 259.43h4.49v1.15h-4.49zM43.06 259.43h4.49v1.15h-4.49zM121.03 259.43h4.52v1.15h-4.52zM164.52 259.43h4.53v1.15h-4.53zM164.52 260.43h4.53v1.15h-4.53zM21.38 261.44h4.49v1.15h-4.49zM60.41 261.44h4.49v1.15h-4.49zM99.17 261.44h4.52v1.15h-4.52zM69.09 263.44h4.49v1.15h-4.49zM56.07 264.44h4.49v1.15h-4.49zM116.66 264.44h4.52v1.15h-4.52zM43.06 265.44h4.49v1.15h-4.49zM17.04 267.44h4.49v1.15h-4.49zM30.05 267.44h4.49v1.15h-4.49zM164.52 267.44h4.53v1.15h-4.53zM56.07 268.45h4.49v1.15h-4.49zM69.09 268.45h4.49v1.15h-4.49zM103.54 269.45h4.52v1.15h-4.52zM17.04 270.45h4.49v1.15h-4.49zM56.07 270.45h4.49v1.15h-4.49zM99.17 270.45h4.52v1.15h-4.52zM43.06 271.45h4.49v1.15h-4.49zM56.07 272.45h4.49v1.15h-4.49zM164.52 272.45h4.53v1.15h-4.53zM17.04 273.45h4.49v1.15h-4.49zM30.05 273.45h4.49v1.15h-4.49zM43.06 273.45h4.49v1.15h-4.49zM56.07 273.45h4.49v1.15h-4.49zM17.04 275.45h4.49v1.15h-4.49zM43.06 276.46h4.49v1.15h-4.49zM17.04 277.46h4.49v1.15h-4.49zM30.05 277.46h4.49v1.15h-4.49zM56.07 277.46h4.49v1.15h-4.49zM116.66 277.46h4.52v1.15h-4.52zM30.05 278.46h4.49v1.15h-4.49zM17.04 279.46h4.49v1.15h-4.49zM43.06 279.46h4.49v1.15h-4.49zM56.07 279.46h4.49v1.15h-4.49zM17.04 280.46h4.49v1.15h-4.49zM30.05 280.46h4.49v1.15h-4.49zM56.07 280.46h4.49v1.15h-4.49zM30.05 281.46h4.49v1.15h-4.49zM56.07 281.46h4.49v1.15h-4.49zM30.05 282.46h4.49v1.15h-4.49zM30.05 283.47h4.49v1.15h-4.49zM56.07 283.47h4.49v1.15h-4.49zM30.05 284.47h4.49v1.15h-4.49zM56.07 284.47h4.49v1.15h-4.49zM17.04 285.47h4.49v1.15h-4.49zM21.38 285.47h4.49v1.15h-4.49zM30.05 286.47h4.49v1.15h-4.49zM43.06 286.47h4.49v1.15h-4.49zM17.04 287.47h4.49v1.15h-4.49zM30.05 287.47h4.49v1.15h-4.49zM43.06 287.47h4.49v1.15h-4.49zM56.07 288.47h4.49v1.15h-4.49zM60.41 288.47h4.49v1.15h-4.49zM17.04 289.47h4.49v1.15h-4.49zM56.07 289.47h4.49v1.15h-4.49zM21.38 290.47h4.49v1.15h-4.49zM17.04 292.48h4.49v1.15h-4.49zM21.38 292.48h4.49v1.15h-4.49zM34.39 292.48h4.49v1.15h-4.49zM116.66 292.48h4.52v1.15h-4.52zM73.42 293.48h4.49v1.15h-4.49zM30.05 294.48h4.49v1.15h-4.49zM34.39 295.48h4.49v1.15h-4.49zM60.41 295.48h4.49v1.15h-4.49zM17.04 296.48h4.49v1.15h-4.49zM21.38 296.48h4.49v1.15h-4.49zM34.39 296.48h4.49v1.15h-4.49zM56.07 298.49h4.49v1.15h-4.49zM21.38 299.49h4.49v1.15h-4.49zM30.05 299.49h4.49v1.15h-4.49zM17.04 300.49h4.49v1.15h-4.49zM116.66 300.49h4.52v1.15h-4.52zM17.04 301.49h4.49v1.15h-4.49zM30.05 302.49h4.49v1.15h-4.49zM43.06 302.49h4.49v1.15h-4.49zM56.07 302.49h4.49v1.15h-4.49zM21.38 304.49h4.49v1.15h-4.49zM17.04 305.49h4.49v1.15h-4.49zM21.38 305.49h4.49v1.15h-4.49zM56.07 305.49h4.49v1.15h-4.49zM116.66 305.49h4.52v1.15h-4.52zM17.04 306.5h4.49v1.15h-4.49zM30.05 306.5h4.49v1.15h-4.49z"/>
<path fill="#060c12" d="M73.42 85.2h4.49v1.15h-4.49zM38.72 87.2h4.49v1.15h-4.49zM12.7 88.2h4.49v1.15h-4.49zM64.75 88.2h4.49v1.15h-4.49zM116.66 88.2h4.52v1.15h-4.52zM25.71 89.21h4.49v1.15h-4.49zM38.72 89.21h4.49v1.15h-4.49zM64.75 89.21h4.49v1.15h-4.49zM38.72 90.21h4.49v1.15h-4.49zM64.75 90.21h4.49v1.15h-4.49zM25.71 91.21h4.49v1.15h-4.49zM12.7 92.21h4.49v1.15h-4.49zM64.75 93.21h4.49v1.15h-4.49zM86.05 93.21h4.52v1.15h-4.52zM116.66 93.21h4.52v1.15h-4.52zM12.7 94.21h4.49v1.15h-4.49zM38.72 96.21h4.49v1.15h-4.49zM51.74 96.21h4.49v1.15h-4.49zM60.41 96.21h4.49v1.15h-4.49zM38.72 97.22h4.49v1.15h-4.49zM77.76 97.22h4.49v1.15h-4.49zM12.7 98.22h4.49v1.15h-4.49zM25.71 98.22h4.49v1.15h-4.49zM38.72 98.22h4.49v1.15h-4.49zM64.75 98.22h4.49v1.15h-4.49zM60.41 99.22h4.49v1.15h-4.49zM77.76 101.22h4.49v1.15h-4.49zM51.74 102.22h4.49v1.15h-4.49zM25.71 103.22h4.49v1.15h-4.49zM64.75 104.23h4.49v1.15h-4.49zM60.41 106.23h4.49v1.15h-4.49zM64.75 106.23h4.49v1.15h-4.49zM116.66 106.23h4.52v1.15h-4.52zM12.7 108.23h4.49v1.15h-4.49zM25.71 108.23h4.49v1.15h-4.49zM116.66 108.23h4.52v1.15h-4.52zM12.7 109.23h4.49v1.15h-4.49zM60.41 110.23h4.49v1.15h-4.49zM12.7 113.24h4.49v1.15h-4.49zM38.72 113.24h4.49v1.15h-4.49zM64.75 113.24h4.49v1.15h-4.49zM60.41 114.24h4.49v1.15h-4.49zM103.54 114.24h4.52v1.15h-4.52zM47.4 115.24h4.49v1.15h-4.49zM77.76 115.24h4.49v1.15h-4.49zM12.7 117.24h4.49v1.15h-4.49zM47.4 117.24h4.49v1.15h-4.49zM112.29 117.24h4.52v1.15h-4.52zM116.66 117.24h4.52v1.15h-4.52zM25.71 118.24h4.49v1.15h-4.49zM64.75 118.24h4.49v1.15h-4.49zM38.72 119.25h4.49v1.15h-4.49zM51.74 119.25h4.49v1.15h-4.49zM99.17 119.25h4.52v1.15h-4.52zM125.41 119.25h4.52v1.15h-4.52zM51.74 120.25h4.49v1.15h-4.49zM73.42 120.25h4.49v1.15h-4.49zM77.76 120.25h4.49v1.15h-4.49zM25.71 121.25h4.49v1.15h-4.49zM51.74 121.25h4.49v1.15h-4.49zM77.76 121.25h4.49v1.15h-4.49zM60.41 122.25h4.49v1.15h-4.49zM25.71 123.25h4.49v1.15h-4.49zM25.71 124.25h4.49v1.15h-4.49zM103.54 124.25h4.52v1.15h-4.52zM25.71 125.25h4.49v1.15h-4.49zM47.4 125.25h4.49v1.15h-4.49zM64.75 125.25h4.49v1.15h-4.49zM73.42 125.25h4.49v1.15h-4.49zM77.76 125.25h4.49v1.15h-4.49zM12.7 126.25h4.49v1.15h-4.49zM51.74 126.25h4.49v1.15h-4.49zM116.66 126.25h4.52v1.15h-4.52zM12.7 127.26h4.49v1.15h-4.49zM12.7 128.26h4.49v1.15h-4.49zM77.76 128.26h4.49v1.15h-4.49zM12.7 129.26h4.49v1.15h-4.49zM64.75 129.26h4.49v1.15h-4.49zM99.17 129.26h4.52v1.15h-4.52zM77.76 131.26h4.49v1.15h-4.49zM25.71 133.26h4.49v1.15h-4.49zM86.05 133.26h4.52v1.15h-4.52zM12.7 134.27h4.49v1.15h-4.49zM51.74 134.27h4.49v1.15h-4.49zM64.75 134.27h4.49v1.15h-4.49zM21.38 138.27h4.49v1.15h-4.49zM77.76 138.27h4.49v1.15h-4.49zM86.05 138.27h4.52v1.15h-4.52zM116.66 138.27h4.52v1.15h-4.52zM90.42 139.27h4.52v1.15h-4.52zM103.54 139.27h4.52v1.15h-4.52zM47.4 140.27h4.49v1.15h-4.49zM12.7 141.28h4.49v1.15h-4.49zM103.54 141.28h4.52v1.15h-4.52zM12.7 142.28h4.49v1.15h-4.49zM25.71 142.28h4.49v1.15h-4.49zM64.75 142.28h4.49v1.15h-4.49zM47.4 143.28h4.49v1.15h-4.49zM51.74 143.28h4.49v1.15h-4.49zM60.41 143.28h4.49v1.15h-4.49zM64.75 144.28h4.49v1.15h-4.49zM86.05 144.28h4.52v1.15h-4.52zM90.42 144.28h4.52v1.15h-4.52zM103.54 144.28h4.52v1.15h-4.52zM12.7 146.28h4.49v1.15h-4.49zM51.74 146.28h4.49v1.15h-4.49zM64.75 146.28h4.49v1.15h-4.49zM25.71 147.28h4.49v1.15h-4.49zM38.72 148.28h4.49v1.15h-4.49zM38.72 149.29h4.49v1.15h-4.49zM60.41 149.29h4.49v1.15h-4.49zM38.72 150.29h4.49v1.15h-4.49zM47.4 150.29h4.49v1.15h-4.49zM103.54 150.29h4.52v1.15h-4.52zM47.4 151.29h4.49v1.15h-4.49zM86.05 151.29h4.52v1.15h-4.52zM47.4 152.29h4.49v1.15h-4.49zM34.39 154.29h4.49v1.15h-4.49zM38.72 154.29h4.49v1.15h-4.49zM60.41 154.29h4.49v1.15h-4.49zM73.42 154.29h4.49v1.15h-4.49zM64.75 155.29h4.49v1.15h-4.49zM125.41 155.29h4.52v1.15h-4.52zM77.76 156.3h4.49v1.15h-4.49zM51.74 158.3h4.49v1.15h-4.49zM77.76 158.3h4.49v1.15h-4.49zM12.7 159.3h4.49v1.15h-4.49zM90.42 161.3h4.52v1.15h-4.52zM51.74 163.3h4.49v1.15h-4.49zM60.41 163.3h4.49v1.15h-4.49zM25.71 164.31h4.49v1.15h-4.49zM51.74 164.31h4.49v1.15h-4.49zM77.76 164.31h4.49v1.15h-4.49zM86.05 164.31h4.52v1.15h-4.52zM51.74 165.31h4.49v1.15h-4.49zM86.05 166.31h4.52v1.15h-4.52zM138.53 166.31h4.52v1.15h-4.52zM25.71 167.31h4.49v1.15h-4.49zM47.4 167.31h4.49v1.15h-4.49zM12.7 168.31h4.49v1.15h-4.49zM51.74 168.31h4.49v1.15h-4.49zM60.41 168.31h4.49v1.15h-4.49zM38.72 169.31h4.49v1.15h-4.49zM116.66 169.31h4.52v1.15h-4.52zM151.38 169.31h4.53v1.15h-4.53zM25.71 170.31h4.49v1.15h-4.49zM73.42 170.31h4.49v1.15h-4.49zM77.76 170.31h4.49v1.15h-4.49zM51.74 171.32h4.49v1.15h-4.49zM103.54 173.32h4.52v1.15h-4.52zM129.78 173.32h4.52v1.15h-4.52zM73.42 174.32h4.49v1.15h-4.49zM77.76 174.32h4.49v1.15h-4.49zM99.17 175.32h4.52v1.15h-4.52zM116.66 176.32h4.52v1.15h-4.52zM47.4 177.32h4.49v1.15h-4.49zM12.7 178.32h4.49v1.15h-4.49zM25.71 180.33h4.49v1.15h-4.49zM77.76 182.33h4.49v1.15h-4.49zM116.66 182.33h4.52v1.15h-4.52zM38.72 183.33h4.49v1.15h-4.49zM64.75 183.33h4.49v1.15h-4.49zM12.7 184.33h4.49v1.15h-4.49zM25.71 184.33h4.49v1.15h-4.49zM51.74 185.33h4.49v1.15h-4.49zM64.75 185.33h4.49v1.15h-4.49zM147 186.34h4.53v1.15h-4.53zM64.75 187.34h4.49v1.15h-4.49zM38.72 188.34h4.49v1.15h-4.49zM77.76 188.34h4.49v1.15h-4.49zM51.74 190.34h4.49v1.15h-4.49zM164.52 190.34h4.53v1.15h-4.53zM12.7 191.34h4.49v1.15h-4.49zM38.72 192.34h4.49v1.15h-4.49zM51.74 192.34h4.49v1.15h-4.49zM25.71 193.34h4.49v1.15h-4.49zM121.03 193.34h4.52v1.15h-4.52zM151.38 193.34h4.53v1.15h-4.53zM60.41 194.35h4.49v1.15h-4.49zM64.75 194.35h4.49v1.15h-4.49zM77.76 194.35h4.49v1.15h-4.49zM112.29 194.35h4.52v1.15h-4.52zM73.42 195.35h4.49v1.15h-4.49zM64.75 196.35h4.49v1.15h-4.49zM47.4 198.35h4.49v1.15h-4.49zM99.17 198.35h4.52v1.15h-4.52zM121.03 198.35h4.52v1.15h-4.52zM129.78 198.35h4.52v1.15h-4.52zM12.7 199.35h4.49v1.15h-4.49zM64.75 199.35h4.49v1.15h-4.49zM38.72 200.35h4.49v1.15h-4.49zM77.76 200.35h4.49v1.15h-4.49zM90.42 200.35h4.52v1.15h-4.52zM12.7 201.36h4.49v1.15h-4.49zM121.03 201.36h4.52v1.15h-4.52zM77.76 203.36h4.49v1.15h-4.49zM12.7 204.36h4.49v1.15h-4.49zM25.71 204.36h4.49v1.15h-4.49zM38.72 204.36h4.49v1.15h-4.49zM25.71 205.36h4.49v1.15h-4.49zM99.17 205.36h4.52v1.15h-4.52zM47.4 206.36h4.49v1.15h-4.49zM125.41 206.36h4.52v1.15h-4.52zM77.76 207.36h4.49v1.15h-4.49zM47.4 208.36h4.49v1.15h-4.49zM60.41 208.36h4.49v1.15h-4.49zM25.71 209.37h4.49v1.15h-4.49zM34.39 209.37h4.49v1.15h-4.49zM47.4 209.37h4.49v1.15h-4.49zM73.42 209.37h4.49v1.15h-4.49zM147 209.37h4.53v1.15h-4.53zM12.7 210.37h4.49v1.15h-4.49zM25.71 210.37h4.49v1.15h-4.49zM38.72 210.37h4.49v1.15h-4.49zM107.92 211.37h4.52v1.15h-4.52zM138.53 211.37h4.52v1.15h-4.52zM12.7 212.37h4.49v1.15h-4.49zM25.71 212.37h4.49v1.15h-4.49zM51.74 212.37h4.49v1.15h-4.49zM107.92 212.37h4.52v1.15h-4.52zM77.76 213.37h4.49v1.15h-4.49zM94.8 213.37h4.52v1.15h-4.52zM107.92 213.37h4.52v1.15h-4.52zM134.15 213.37h4.52v1.15h-4.52zM38.72 215.37h4.49v1.15h-4.49zM107.92 215.37h4.52v1.15h-4.52zM129.78 215.37h4.52v1.15h-4.52zM125.41 216.38h4.52v1.15h-4.52zM134.15 216.38h4.52v1.15h-4.52zM25.71 217.38h4.49v1.15h-4.49zM73.42 217.38h4.49v1.15h-4.49zM77.76 220.38h4.49v1.15h-4.49zM112.29 221.38h4.52v1.15h-4.52zM107.92 222.38h4.52v1.15h-4.52zM121.03 222.38h4.52v1.15h-4.52zM25.71 224.39h4.49v1.15h-4.49zM25.71 226.39h4.49v1.15h-4.49zM51.74 226.39h4.49v1.15h-4.49zM12.7 227.39h4.49v1.15h-4.49zM25.71 227.39h4.49v1.15h-4.49zM38.72 227.39h4.49v1.15h-4.49zM12.7 228.39h4.49v1.15h-4.49zM77.76 228.39h4.49v1.15h-4.49zM12.7 229.39h4.49v1.15h-4.49zM25.71 229.39h4.49v1.15h-4.49zM99.17 229.39h4.52v1.15h-4.52zM125.41 229.39h4.52v1.15h-4.52zM164.52 229.39h4.53v1.15h-4.53zM103.54 230.39h4.52v1.15h-4.52zM125.41 230.39h4.52v1.15h-4.52zM51.74 231.4h4.49v1.15h-4.49zM64.75 231.4h4.49v1.15h-4.49zM112.29 231.4h4.52v1.15h-4.52zM134.15 231.4h4.52v1.15h-4.52zM25.71 232.4h4.49v1.15h-4.49zM38.72 232.4h4.49v1.15h-4.49zM77.76 232.4h4.49v1.15h-4.49zM112.29 232.4h4.52v1.15h-4.52zM134.15 232.4h4.52v1.15h-4.52zM112.29 233.4h4.52v1.15h-4.52zM64.75 234.4h4.49v1.15h-4.49zM51.74 235.4h4.49v1.15h-4.49zM12.7 236.4h4.49v1.15h-4.49zM77.76 236.4h4.49v1.15h-4.49zM164.52 239.41h4.53v1.15h-4.53zM12.7 240.41h4.49v1.15h-4.49zM86.05 240.41h4.52v1.15h-4.52zM12.7 242.41h4.49v1.15h-4.49zM38.72 243.41h4.49v1.15h-4.49zM77.76 243.41h4.49v1.15h-4.49zM107.92 246.42h4.52v1.15h-4.52zM25.71 247.42h4.49v1.15h-4.49zM94.8 249.42h4.52v1.15h-4.52zM107.92 249.42h4.52v1.15h-4.52zM25.71 250.42h4.49v1.15h-4.49zM38.72 250.42h4.49v1.15h-4.49zM77.76 250.42h4.49v1.15h-4.49zM134.15 250.42h4.52v1.15h-4.52zM51.74 251.42h4.49v1.15h-4.49zM112.29 251.42h4.52v1.15h-4.52zM138.53 251.42h4.52v1.15h-4.52zM25.71 252.42h4.49v1.15h-4.49zM64.75 252.42h4.49v1.15h-4.49zM77.76 252.42h4.49v1.15h-4.49zM129.78 252.42h4.52v1.15h-4.52zM34.39 255.43h4.49v1.15h-4.49zM64.75 255.43h4.49v1.15h-4.49zM86.05 255.43h4.52v1.15h-4.52zM12.7 256.43h4.49v1.15h-4.49zM38.72 256.43h4.49v1.15h-4.49zM12.7 257.43h4.49v1.15h-4.49zM51.74 257.43h4.49v1.15h-4.49zM60.41 257.43h4.49v1.15h-4.49zM77.76 257.43h4.49v1.15h-4.49zM134.15 257.43h4.52v1.15h-4.52zM138.53 257.43h4.52v1.15h-4.52zM107.92 259.43h4.52v1.15h-4.52zM12.7 260.43h4.49v1.15h-4.49zM73.42 260.43h4.49v1.15h-4.49zM12.7 262.44h4.49v1.15h-4.49zM34.39 262.44h4.49v1.15h-4.49zM47.4 262.44h4.49v1.15h-4.49zM94.8 263.44h4.52v1.15h-4.52zM12.7 264.44h4.49v1.15h-4.49zM38.72 264.44h4.49v1.15h-4.49zM64.75 264.44h4.49v1.15h-4.49zM121.03 264.44h4.52v1.15h-4.52zM38.72 265.44h4.49v1.15h-4.49zM51.74 265.44h4.49v1.15h-4.49zM134.15 265.44h4.52v1.15h-4.52zM107.92 266.44h4.52v1.15h-4.52zM77.76 267.44h4.49v1.15h-4.49zM94.8 268.45h4.52v1.15h-4.52zM112.29 268.45h4.52v1.15h-4.52zM134.15 268.45h4.52v1.15h-4.52zM73.42 269.45h4.49v1.15h-4.49zM90.42 269.45h4.52v1.15h-4.52zM112.29 269.45h4.52v1.15h-4.52zM12.7 270.45h4.49v1.15h-4.49zM64.75 270.45h4.49v1.15h-4.49zM164.52 270.45h4.53v1.15h-4.53zM51.74 271.45h4.49v1.15h-4.49zM90.42 272.45h4.52v1.15h-4.52zM64.75 273.45h4.49v1.15h-4.49zM51.74 274.45h4.49v1.15h-4.49zM51.74 275.45h4.49v1.15h-4.49zM164.52 275.45h4.53v1.15h-4.53zM38.72 276.46h4.49v1.15h-4.49zM64.75 276.46h4.49v1.15h-4.49zM34.39 277.46h4.49v1.15h-4.49zM34.39 278.46h4.49v1.15h-4.49zM47.4 278.46h4.49v1.15h-4.49zM60.41 278.46h4.49v1.15h-4.49zM25.71 279.46h4.49v1.15h-4.49zM47.4 279.46h4.49v1.15h-4.49zM73.42 279.46h4.49v1.15h-4.49zM12.7 280.46h4.49v1.15h-4.49zM38.72 280.46h4.49v1.15h-4.49zM107.92 280.46h4.52v1.15h-4.52zM25.71 281.46h4.49v1.15h-4.49zM38.72 281.46h4.49v1.15h-4.49zM77.76 281.46h4.49v1.15h-4.49zM64.75 282.46h4.49v1.15h-4.49zM38.72 283.47h4.49v1.15h-4.49zM77.76 283.47h4.49v1.15h-4.49zM38.72 284.47h4.49v1.15h-4.49zM47.4 284.47h4.49v1.15h-4.49zM51.74 284.47h4.49v1.15h-4.49zM94.8 284.47h4.52v1.15h-4.52zM64.75 287.47h4.49v1.15h-4.49zM73.42 287.47h4.49v1.15h-4.49zM25.71 288.47h4.49v1.15h-4.49zM25.71 289.47h4.49v1.15h-4.49zM51.74 289.47h4.49v1.15h-4.49zM64.75 289.47h4.49v1.15h-4.49zM77.76 289.47h4.49v1.15h-4.49zM12.7 291.48h4.49v1.15h-4.49zM38.72 292.48h4.49v1.15h-4.49zM38.72 293.48h4.49v1.15h-4.49zM38.72 295.48h4.49v1.15h-4.49zM77.76 297.48h4.49v1.15h-4.49zM77.76 298.49h4.49v1.15h-4.49zM51.74 302.49h4.49v1.15h-4.49zM60.41 302.49h4.49v1.15h-4.49zM60.41 303.49h4.49v1.15h-4.49zM51.74 304.49h4.49v1.15h-4.49zM77.76 305.49h4.49v1.15h-4.49zM12.7 307.5h4.49v1.15h-4.49zM25.71 307.5h4.49v1.15h-4.49zM77.76 308.5h4.49v1.15h-4.49z"/>
<path fill="#0c1218" d="M77.76 85.2h4.49v1.15h-4.49zM51.74 86.2h4.49v1.15h-4.49zM116.66 90.21h4.52v1.15h-4.52zM12.7 91.21h4.49v1.15h-4.49zM25.71 92.21h4.49v1.15h-4.49zM38.72 92.21h4.49v1.15h-4.49zM77.76 94.21h4.49v1.15h-4.49zM116.66 95.21h4.52v1.15h-4.52zM25.71 97.22h4.49v1.15h-4.49zM77.76 100.22h4.49v1.15h-4.49zM25.71 101.22h4.49v1.15h-4.49zM38.72 101.22h4.49v1.15h-4.49zM116.66 103.22h4.52v1.15h-4.52zM12.7 105.23h4.49v1.15h-4.49zM25.71 105.23h4.49v1.15h-4.49zM77.76 105.23h4.49v1.15h-4.49zM38.72 107.23h4.49v1.15h-4.49zM116.66 109.23h4.52v1.15h-4.52zM12.7 111.23h4.49v1.15h-4.49zM12.7 115.24h4.49v1.15h-4.49zM25.71 117.24h4.49v1.15h-4.49zM103.54 118.24h4.52v1.15h-4.52zM116.66 124.25h4.52v1.15h-4.52zM38.72 125.25h4.49v1.15h-4.49zM116.66 125.25h4.52v1.15h-4.52zM38.72 130.26h4.49v1.15h-4.49zM116.66 130.26h4.52v1.15h-4.52zM25.71 131.26h4.49v1.15h-4.49zM38.72 131.26h4.49v1.15h-4.49zM38.72 134.27h4.49v1.15h-4.49zM64.75 136.27h4.49v1.15h-4.49zM86.05 136.27h4.52v1.15h-4.52zM25.71 138.27h4.49v1.15h-4.49zM38.72 141.28h4.49v1.15h-4.49zM25.71 149.29h4.49v1.15h-4.49zM51.74 149.29h4.49v1.15h-4.49zM77.76 149.29h4.49v1.15h-4.49zM64.75 150.29h4.49v1.15h-4.49zM90.42 150.29h4.52v1.15h-4.52zM51.74 151.29h4.49v1.15h-4.49zM51.74 152.29h4.49v1.15h-4.49zM116.66 153.29h4.52v1.15h-4.52zM64.75 154.29h4.49v1.15h-4.49zM77.76 154.29h4.49v1.15h-4.49zM90.42 155.29h4.52v1.15h-4.52zM25.71 157.3h4.49v1.15h-4.49zM103.54 157.3h4.52v1.15h-4.52zM116.66 158.3h4.52v1.15h-4.52zM51.74 159.3h4.49v1.15h-4.49zM64.75 161.3h4.49v1.15h-4.49zM73.42 162.3h4.49v1.15h-4.49zM86.05 162.3h4.52v1.15h-4.52zM90.42 163.3h4.52v1.15h-4.52zM38.72 164.31h4.49v1.15h-4.49zM64.75 165.31h4.49v1.15h-4.49zM73.42 165.31h4.49v1.15h-4.49zM116.66 165.31h4.52v1.15h-4.52zM51.74 166.31h4.49v1.15h-4.49zM25.71 168.31h4.49v1.15h-4.49zM38.72 168.31h4.49v1.15h-4.49zM77.76 168.31h4.49v1.15h-4.49zM12.7 170.31h4.49v1.15h-4.49zM38.72 172.32h4.49v1.15h-4.49zM60.41 172.32h4.49v1.15h-4.49zM116.66 172.32h4.52v1.15h-4.52zM38.72 178.32h4.49v1.15h-4.49zM38.72 180.33h4.49v1.15h-4.49zM38.72 182.33h4.49v1.15h-4.49zM116.66 187.34h4.52v1.15h-4.52zM155.76 188.34h4.53v1.15h-4.53zM25.71 189.34h4.49v1.15h-4.49zM116.66 190.34h4.52v1.15h-4.52zM138.53 191.34h4.52v1.15h-4.52zM155.76 191.34h4.53v1.15h-4.53zM147 192.34h4.53v1.15h-4.53zM51.74 194.35h4.49v1.15h-4.49zM99.17 194.35h4.52v1.15h-4.52zM51.74 195.35h4.49v1.15h-4.49zM77.76 195.35h4.49v1.15h-4.49zM116.66 195.35h4.52v1.15h-4.52zM12.7 196.35h4.49v1.15h-4.49zM77.76 196.35h4.49v1.15h-4.49zM116.66 196.35h4.52v1.15h-4.52zM12.7 197.35h4.49v1.15h-4.49zM12.7 200.35h4.49v1.15h-4.49zM103.54 200.35h4.52v1.15h-4.52zM112.29 200.35h4.52v1.15h-4.52zM77.76 201.36h4.49v1.15h-4.49zM134.15 201.36h4.52v1.15h-4.52zM38.72 202.36h4.49v1.15h-4.49zM138.53 204.36h4.52v1.15h-4.52zM51.74 206.36h4.49v1.15h-4.49zM64.75 206.36h4.49v1.15h-4.49zM94.8 206.36h4.52v1.15h-4.52zM25.71 207.36h4.49v1.15h-4.49zM73.42 207.36h4.49v1.15h-4.49zM64.75 208.36h4.49v1.15h-4.49zM77.76 208.36h4.49v1.15h-4.49zM147 208.36h4.53v1.15h-4.53zM12.7 209.37h4.49v1.15h-4.49zM38.72 209.37h4.49v1.15h-4.49zM38.72 212.37h4.49v1.15h-4.49zM77.76 212.37h4.49v1.15h-4.49zM160.14 214.37h4.53v1.15h-4.53zM51.74 216.38h4.49v1.15h-4.49zM99.17 216.38h4.52v1.15h-4.52zM12.7 217.38h4.49v1.15h-4.49zM38.72 217.38h4.49v1.15h-4.49zM112.29 217.38h4.52v1.15h-4.52zM94.8 219.38h4.52v1.15h-4.52zM73.42 220.38h4.49v1.15h-4.49zM51.74 223.38h4.49v1.15h-4.49zM94.8 223.38h4.52v1.15h-4.52zM99.17 223.38h4.52v1.15h-4.52zM99.17 225.39h4.52v1.15h-4.52zM77.76 226.39h4.49v1.15h-4.49zM121.03 227.39h4.52v1.15h-4.52zM64.75 230.39h4.49v1.15h-4.49zM103.54 231.4h4.52v1.15h-4.52zM129.78 231.4h4.52v1.15h-4.52zM86.05 235.4h4.52v1.15h-4.52zM25.71 239.41h4.49v1.15h-4.49zM121.03 239.41h4.52v1.15h-4.52zM138.53 239.41h4.52v1.15h-4.52zM38.72 242.41h4.49v1.15h-4.49zM94.8 243.41h4.52v1.15h-4.52zM47.4 244.41h4.49v1.15h-4.49zM134.15 245.41h4.52v1.15h-4.52zM90.42 246.42h4.52v1.15h-4.52zM99.17 247.42h4.52v1.15h-4.52zM25.71 248.42h4.49v1.15h-4.49zM129.78 248.42h4.52v1.15h-4.52zM164.52 248.42h4.53v1.15h-4.53zM129.78 250.42h4.52v1.15h-4.52zM164.52 250.42h4.53v1.15h-4.53zM90.42 251.42h4.52v1.15h-4.52zM38.72 252.42h4.49v1.15h-4.49zM99.17 256.43h4.52v1.15h-4.52zM38.72 257.43h4.49v1.15h-4.49zM129.78 257.43h4.52v1.15h-4.52zM51.74 258.43h4.49v1.15h-4.49zM99.17 258.43h4.52v1.15h-4.52zM64.75 259.43h4.49v1.15h-4.49zM90.42 259.43h4.52v1.15h-4.52zM134.15 259.43h4.52v1.15h-4.52zM90.42 261.44h4.52v1.15h-4.52zM47.4 263.44h4.49v1.15h-4.49zM121.03 263.44h4.52v1.15h-4.52zM77.76 264.44h4.49v1.15h-4.49zM51.74 266.44h4.49v1.15h-4.49zM64.75 266.44h4.49v1.15h-4.49zM38.72 267.44h4.49v1.15h-4.49zM25.71 268.45h4.49v1.15h-4.49zM38.72 268.45h4.49v1.15h-4.49zM129.78 268.45h4.52v1.15h-4.52zM25.71 269.45h4.49v1.15h-4.49zM25.71 272.45h4.49v1.15h-4.49zM77.76 275.45h4.49v1.15h-4.49zM25.71 276.46h4.49v1.15h-4.49zM51.74 278.46h4.49v1.15h-4.49zM121.03 278.46h4.52v1.15h-4.52zM77.76 279.46h4.49v1.15h-4.49zM51.74 280.46h4.49v1.15h-4.49zM51.74 286.47h4.49v1.15h-4.49zM164.52 286.47h4.53v1.15h-4.53zM51.74 287.47h4.49v1.15h-4.49zM64.75 291.48h4.49v1.15h-4.49zM51.74 294.48h4.49v1.15h-4.49zM138.53 296.48h4.52v1.15h-4.52zM164.52 298.49h4.53v1.15h-4.53zM25.71 299.49h4.49v1.15h-4.49zM25.71 301.49h4.49v1.15h-4.49zM77.76 301.49h4.49v1.15h-4.49zM25.71 302.49h4.49v1.15h-4.49zM38.72 302.49h4.49v1.15h-4.49zM38.72 303.49h4.49v1.15h-4.49zM51.74 307.5h4.49v1.15h-4.49z"/>
<path fill="#1e0000" d="M86.05 85.2h4.52v1.15h-4.52zM69.09 86.2h4.49v1.15h-4.49zM69.09 87.2h4.49v1.15h-4.49zM69.09 88.2h4.49v1.15h-4.49zM99.17 89.21h4.52v1.15h-4.52zM129.78 90.21h4.52v1.15h-4.52zM129.78 91.21h4.52v1.15h-4.52zM69.09 93.21h4.49v1.15h-4.49zM121.03 93.21h4.52v1.15h-4.52zM30.05 95.21h4.49v1.15h-4.49zM43.06 95.21h4.49v1.15h-4.49zM56.07 95.21h4.49v1.15h-4.49zM164.52 97.22h4.53v1.15h-4.53zM69.09 99.22h4.49v1.15h-4.49zM43.06 101.22h4.49v1.15h-4.49zM129.78 102.22h4.52v1.15h-4.52zM69.09 103.22h4.49v1.15h-4.49zM86.05 104.23h4.52v1.15h-4.52zM43.06 106.23h4.49v1.15h-4.49zM129.78 106.23h4.52v1.15h-4.52zM107.92 108.23h4.52v1.15h-4.52zM99.17 110.23h4.52v1.15h-4.52zM164.52 110.23h4.53v1.15h-4.53zM30.05 111.23h4.49v1.15h-4.49zM43.06 111.23h4.49v1.15h-4.49zM99.17 112.24h4.52v1.15h-4.52zM164.52 112.24h4.53v1.15h-4.53zM69.09 113.24h4.49v1.15h-4.49zM129.78 113.24h4.52v1.15h-4.52zM164.52 113.24h4.53v1.15h-4.53zM69.09 114.24h4.49v1.15h-4.49zM121.03 114.24h4.52v1.15h-4.52zM69.09 115.24h4.49v1.15h-4.49zM86.05 116.24h4.52v1.15h-4.52zM30.05 118.24h4.49v1.15h-4.49zM43.06 118.24h4.49v1.15h-4.49zM43.06 120.25h4.49v1.15h-4.49zM103.54 120.25h4.52v1.15h-4.52zM138.53 122.25h4.52v1.15h-4.52zM164.52 122.25h4.53v1.15h-4.53zM125.41 123.25h4.52v1.15h-4.52zM134.15 123.25h4.52v1.15h-4.52zM30.05 124.25h4.49v1.15h-4.49zM30.05 127.26h4.49v1.15h-4.49zM56.07 127.26h4.49v1.15h-4.49zM129.78 127.26h4.52v1.15h-4.52zM134.15 127.26h4.52v1.15h-4.52zM99.17 130.26h4.52v1.15h-4.52zM86.05 131.26h4.52v1.15h-4.52zM90.42 131.26h4.52v1.15h-4.52zM17.04 132.26h4.49v1.15h-4.49zM30.05 132.26h4.49v1.15h-4.49zM43.06 132.26h4.49v1.15h-4.49zM69.09 132.26h4.49v1.15h-4.49zM129.78 132.26h4.52v1.15h-4.52zM112.29 134.27h4.52v1.15h-4.52zM164.52 134.27h4.53v1.15h-4.53zM90.42 135.27h4.52v1.15h-4.52zM129.78 135.27h4.52v1.15h-4.52zM134.15 135.27h4.52v1.15h-4.52zM107.92 136.27h4.52v1.15h-4.52zM90.42 137.27h4.52v1.15h-4.52zM134.15 137.27h4.52v1.15h-4.52zM94.8 138.27h4.52v1.15h-4.52zM107.92 138.27h4.52v1.15h-4.52zM164.52 140.27h4.53v1.15h-4.53zM17.04 142.28h4.49v1.15h-4.49zM164.52 142.28h4.53v1.15h-4.53zM129.78 143.28h4.52v1.15h-4.52zM30.05 144.28h4.49v1.15h-4.49zM164.52 144.28h4.53v1.15h-4.53zM69.09 146.28h4.49v1.15h-4.49zM69.09 148.28h4.49v1.15h-4.49zM134.15 148.28h4.52v1.15h-4.52zM107.92 149.29h4.52v1.15h-4.52zM134.15 149.29h4.52v1.15h-4.52zM99.17 150.29h4.52v1.15h-4.52zM134.15 150.29h4.52v1.15h-4.52zM138.53 150.29h4.52v1.15h-4.52zM112.29 152.29h4.52v1.15h-4.52zM151.38 153.29h4.53v1.15h-4.53zM86.05 154.29h4.52v1.15h-4.52zM90.42 154.29h4.52v1.15h-4.52zM94.8 154.29h4.52v1.15h-4.52zM164.52 155.29h4.53v1.15h-4.53zM151.38 156.3h4.53v1.15h-4.53zM155.76 159.3h4.53v1.15h-4.53zM69.09 160.3h4.49v1.15h-4.49zM99.17 162.3h4.52v1.15h-4.52zM121.03 163.3h4.52v1.15h-4.52zM43.06 164.31h4.49v1.15h-4.49zM94.8 164.31h4.52v1.15h-4.52zM99.17 164.31h4.52v1.15h-4.52zM160.14 164.31h4.53v1.15h-4.53zM151.38 165.31h4.53v1.15h-4.53zM160.14 165.31h4.53v1.15h-4.53zM164.52 165.31h4.53v1.15h-4.53zM147 166.31h4.53v1.15h-4.53zM134.15 167.31h4.52v1.15h-4.52zM164.52 167.31h4.53v1.15h-4.53zM112.29 169.31h4.52v1.15h-4.52zM125.41 169.31h4.52v1.15h-4.52zM147 169.31h4.53v1.15h-4.53zM155.76 169.31h4.53v1.15h-4.53zM99.17 170.31h4.52v1.15h-4.52zM107.92 170.31h4.52v1.15h-4.52zM112.29 170.31h4.52v1.15h-4.52zM151.38 170.31h4.53v1.15h-4.53zM160.14 170.31h4.53v1.15h-4.53zM138.53 171.32h4.52v1.15h-4.52zM164.52 171.32h4.53v1.15h-4.53zM86.05 172.32h4.52v1.15h-4.52zM103.54 172.32h4.52v1.15h-4.52zM129.78 172.32h4.52v1.15h-4.52zM164.52 172.32h4.53v1.15h-4.53zM69.09 173.32h4.49v1.15h-4.49zM164.52 173.32h4.53v1.15h-4.53zM17.04 175.32h4.49v1.15h-4.49zM43.06 175.32h4.49v1.15h-4.49zM155.76 175.32h4.53v1.15h-4.53zM160.14 177.32h4.53v1.15h-4.53zM43.06 178.32h4.49v1.15h-4.49zM147 180.33h4.53v1.15h-4.53zM30.05 181.33h4.49v1.15h-4.49zM69.09 181.33h4.49v1.15h-4.49zM164.52 183.33h4.53v1.15h-4.53zM30.05 184.33h4.49v1.15h-4.49zM43.06 186.34h4.49v1.15h-4.49zM69.09 188.34h4.49v1.15h-4.49zM69.09 191.34h4.49v1.15h-4.49zM30.05 192.34h4.49v1.15h-4.49zM43.06 192.34h4.49v1.15h-4.49zM43.06 201.36h4.49v1.15h-4.49zM121.03 203.36h4.52v1.15h-4.52zM134.15 205.36h4.52v1.15h-4.52zM164.52 205.36h4.53v1.15h-4.53zM129.78 207.36h4.52v1.15h-4.52zM164.52 209.37h4.53v1.15h-4.53zM43.06 210.37h4.49v1.15h-4.49zM116.66 211.37h4.52v1.15h-4.52zM69.09 212.37h4.49v1.15h-4.49zM17.04 218.38h4.49v1.15h-4.49zM43.06 218.38h4.49v1.15h-4.49zM56.07 218.38h4.49v1.15h-4.49zM116.66 221.38h4.52v1.15h-4.52zM69.09 228.39h4.49v1.15h-4.49zM103.54 228.39h4.52v1.15h-4.52zM112.29 228.39h4.52v1.15h-4.52zM125.41 228.39h4.52v1.15h-4.52zM129.78 228.39h4.52v1.15h-4.52zM116.66 234.4h4.52v1.15h-4.52zM94.8 235.4h4.52v1.15h-4.52zM99.17 235.4h4.52v1.15h-4.52zM30.05 237.4h4.49v1.15h-4.49zM116.66 237.4h4.52v1.15h-4.52zM43.06 240.41h4.49v1.15h-4.49zM116.66 240.41h4.52v1.15h-4.52zM30.05 241.41h4.49v1.15h-4.49zM43.06 241.41h4.49v1.15h-4.49zM107.92 241.41h4.52v1.15h-4.52zM30.05 242.41h4.49v1.15h-4.49zM43.06 243.41h4.49v1.15h-4.49zM164.52 243.41h4.53v1.15h-4.53zM30.05 245.41h4.49v1.15h-4.49zM69.09 245.41h4.49v1.15h-4.49zM30.05 247.42h4.49v1.15h-4.49zM121.03 247.42h4.52v1.15h-4.52zM17.04 248.42h4.49v1.15h-4.49zM56.07 248.42h4.49v1.15h-4.49zM69.09 248.42h4.49v1.15h-4.49zM30.05 249.42h4.49v1.15h-4.49zM116.66 249.42h4.52v1.15h-4.52zM69.09 250.42h4.49v1.15h-4.49zM43.06 254.43h4.49v1.15h-4.49zM69.09 255.43h4.49v1.15h-4.49zM43.06 256.43h4.49v1.15h-4.49zM43.06 258.43h4.49v1.15h-4.49zM43.06 260.43h4.49v1.15h-4.49zM56.07 261.44h4.49v1.15h-4.49zM69.09 261.44h4.49v1.15h-4.49zM116.66 267.44h4.52v1.15h-4.52zM99.17 269.45h4.52v1.15h-4.52zM69.09 270.45h4.49v1.15h-4.49zM116.66 270.45h4.52v1.15h-4.52zM164.52 271.45h4.53v1.15h-4.53zM147 273.45h4.53v1.15h-4.53zM69.09 274.45h4.49v1.15h-4.49zM116.66 275.45h4.52v1.15h-4.52zM69.09 281.46h4.49v1.15h-4.49zM116.66 284.47h4.52v1.15h-4.52zM69.09 285.47h4.49v1.15h-4.49zM17.04 288.47h4.49v1.15h-4.49zM30.05 288.47h4.49v1.15h-4.49zM30.05 290.47h4.49v1.15h-4.49zM30.05 292.48h4.49v1.15h-4.49zM30.05 293.48h4.49v1.15h-4.49zM43.06 295.48h4.49v1.15h-4.49zM69.09 302.49h4.49v1.15h-4.49zM69.09 304.49h4.49v1.15h-4.49zM43.06 308.5h4.49v1.15h-4.49z"/>
<path fill="#180000" d="M90.42 85.2h4.52v1.15h-4.52zM30.05 89.21h4.49v1.15h-4.49zM43.06 89.21h4.49v1.15h-4.49zM30.05 90.21h4.49v1.15h-4.49zM43.06 90.21h4.49v1.15h-4.49zM69.09 90.21h4.49v1.15h-4.49zM103.54 90.21h4.52v1.15h-4.52zM69.09 91.21h4.49v1.15h-4.49zM30.05 92.21h4.49v1.15h-4.49zM17.04 93.21h4.49v1.15h-4.49zM30.05 93.21h4.49v1.15h-4.49zM43.06 93.21h4.49v1.15h-4.49zM56.07 93.21h4.49v1.15h-4.49zM134.15 93.21h4.52v1.15h-4.52zM69.09 94.21h4.49v1.15h-4.49zM43.06 96.21h4.49v1.15h-4.49zM30.05 97.22h4.49v1.15h-4.49zM43.06 97.22h4.49v1.15h-4.49zM69.09 97.22h4.49v1.15h-4.49zM17.04 98.22h4.49v1.15h-4.49zM30.05 98.22h4.49v1.15h-4.49zM69.09 98.22h4.49v1.15h-4.49zM30.05 99.22h4.49v1.15h-4.49zM21.38 100.22h4.49v1.15h-4.49zM43.06 100.22h4.49v1.15h-4.49zM56.07 101.22h4.49v1.15h-4.49zM69.09 102.22h4.49v1.15h-4.49zM43.06 103.22h4.49v1.15h-4.49zM56.07 105.23h4.49v1.15h-4.49zM129.78 105.23h4.52v1.15h-4.52zM90.42 106.23h4.52v1.15h-4.52zM43.06 108.23h4.49v1.15h-4.49zM69.09 108.23h4.49v1.15h-4.49zM112.29 108.23h4.52v1.15h-4.52zM164.52 109.23h4.53v1.15h-4.53zM129.78 110.23h4.52v1.15h-4.52zM17.04 111.23h4.49v1.15h-4.49zM69.09 111.23h4.49v1.15h-4.49zM86.05 113.24h4.52v1.15h-4.52zM99.17 114.24h4.52v1.15h-4.52zM125.41 114.24h4.52v1.15h-4.52zM30.05 115.24h4.49v1.15h-4.49zM43.06 115.24h4.49v1.15h-4.49zM107.92 115.24h4.52v1.15h-4.52zM90.42 116.24h4.52v1.15h-4.52zM103.54 116.24h4.52v1.15h-4.52zM112.29 116.24h4.52v1.15h-4.52zM129.78 116.24h4.52v1.15h-4.52zM99.17 117.24h4.52v1.15h-4.52zM121.03 117.24h4.52v1.15h-4.52zM134.15 117.24h4.52v1.15h-4.52zM138.53 117.24h4.52v1.15h-4.52zM56.07 118.24h4.49v1.15h-4.49zM94.8 118.24h4.52v1.15h-4.52zM99.17 118.24h4.52v1.15h-4.52zM121.03 118.24h4.52v1.15h-4.52zM69.09 120.25h4.49v1.15h-4.49zM90.42 120.25h4.52v1.15h-4.52zM129.78 120.25h4.52v1.15h-4.52zM138.53 120.25h4.52v1.15h-4.52zM69.09 121.25h4.49v1.15h-4.49zM30.05 122.25h4.49v1.15h-4.49zM43.06 124.25h4.49v1.15h-4.49zM56.07 124.25h4.49v1.15h-4.49zM134.15 124.25h4.52v1.15h-4.52zM56.07 126.25h4.49v1.15h-4.49zM69.09 126.25h4.49v1.15h-4.49zM17.04 127.26h4.49v1.15h-4.49zM21.38 127.26h4.49v1.15h-4.49zM30.05 128.26h4.49v1.15h-4.49zM69.09 128.26h4.49v1.15h-4.49zM103.54 128.26h4.52v1.15h-4.52zM112.29 128.26h4.52v1.15h-4.52zM43.06 129.26h4.49v1.15h-4.49zM69.09 129.26h4.49v1.15h-4.49zM125.41 130.26h4.52v1.15h-4.52zM134.15 130.26h4.52v1.15h-4.52zM138.53 130.26h4.52v1.15h-4.52zM164.52 130.26h4.53v1.15h-4.53zM30.05 131.26h4.49v1.15h-4.49zM56.07 132.26h4.49v1.15h-4.49zM43.06 133.26h4.49v1.15h-4.49zM107.92 133.26h4.52v1.15h-4.52zM125.41 133.26h4.52v1.15h-4.52zM134.15 133.26h4.52v1.15h-4.52zM94.8 134.27h4.52v1.15h-4.52zM129.78 134.27h4.52v1.15h-4.52zM138.53 136.27h4.52v1.15h-4.52zM69.09 137.27h4.49v1.15h-4.49zM86.05 137.27h4.52v1.15h-4.52zM125.41 137.27h4.52v1.15h-4.52zM129.78 137.27h4.52v1.15h-4.52zM112.29 138.27h4.52v1.15h-4.52zM138.53 138.27h4.52v1.15h-4.52zM17.04 139.27h4.49v1.15h-4.49zM125.41 139.27h4.52v1.15h-4.52zM134.15 139.27h4.52v1.15h-4.52zM30.05 142.28h4.49v1.15h-4.49zM43.06 142.28h4.49v1.15h-4.49zM69.09 142.28h4.49v1.15h-4.49zM99.17 142.28h4.52v1.15h-4.52zM56.07 144.28h4.49v1.15h-4.49zM94.8 144.28h4.52v1.15h-4.52zM125.41 144.28h4.52v1.15h-4.52zM134.15 144.28h4.52v1.15h-4.52zM30.05 145.28h4.49v1.15h-4.49zM121.03 145.28h4.52v1.15h-4.52zM134.15 146.28h4.52v1.15h-4.52zM164.52 146.28h4.53v1.15h-4.53zM69.09 147.28h4.49v1.15h-4.49zM17.04 148.28h4.49v1.15h-4.49zM30.05 148.28h4.49v1.15h-4.49zM69.09 149.29h4.49v1.15h-4.49zM94.8 149.29h4.52v1.15h-4.52zM99.17 149.29h4.52v1.15h-4.52zM107.92 150.29h4.52v1.15h-4.52zM121.03 150.29h4.52v1.15h-4.52zM94.8 151.29h4.52v1.15h-4.52zM164.52 151.29h4.53v1.15h-4.53zM125.41 152.29h4.52v1.15h-4.52zM134.15 153.29h4.52v1.15h-4.52zM129.78 154.29h4.52v1.15h-4.52zM69.09 155.29h4.49v1.15h-4.49zM56.07 156.3h4.49v1.15h-4.49zM90.42 156.3h4.52v1.15h-4.52zM103.54 156.3h4.52v1.15h-4.52zM112.29 156.3h4.52v1.15h-4.52zM129.78 156.3h4.52v1.15h-4.52zM107.92 157.3h4.52v1.15h-4.52zM138.53 157.3h4.52v1.15h-4.52zM164.52 157.3h4.53v1.15h-4.53zM69.09 158.3h4.49v1.15h-4.49zM103.54 158.3h4.52v1.15h-4.52zM121.03 160.3h4.52v1.15h-4.52zM134.15 160.3h4.52v1.15h-4.52zM94.8 161.3h4.52v1.15h-4.52zM69.09 162.3h4.49v1.15h-4.49zM94.8 162.3h4.52v1.15h-4.52zM107.92 162.3h4.52v1.15h-4.52zM121.03 162.3h4.52v1.15h-4.52zM129.78 162.3h4.52v1.15h-4.52zM69.09 163.3h4.49v1.15h-4.49zM164.52 163.3h4.53v1.15h-4.53zM30.05 164.31h4.49v1.15h-4.49zM69.09 164.31h4.49v1.15h-4.49zM90.42 164.31h4.52v1.15h-4.52zM107.92 164.31h4.52v1.15h-4.52zM121.03 164.31h4.52v1.15h-4.52zM164.52 164.31h4.53v1.15h-4.53zM112.29 165.31h4.52v1.15h-4.52zM164.52 166.31h4.53v1.15h-4.53zM69.09 167.31h4.49v1.15h-4.49zM107.92 167.31h4.52v1.15h-4.52zM125.41 167.31h4.52v1.15h-4.52zM43.06 168.31h4.49v1.15h-4.49zM112.29 168.31h4.52v1.15h-4.52zM138.53 168.31h4.52v1.15h-4.52zM56.07 169.31h4.49v1.15h-4.49zM121.03 169.31h4.52v1.15h-4.52zM30.05 170.31h4.49v1.15h-4.49zM107.92 171.32h4.52v1.15h-4.52zM147 171.32h4.53v1.15h-4.53zM43.06 173.32h4.49v1.15h-4.49zM30.05 174.32h4.49v1.15h-4.49zM107.92 174.32h4.52v1.15h-4.52zM121.03 174.32h4.52v1.15h-4.52zM138.53 175.32h4.52v1.15h-4.52zM30.05 176.32h4.49v1.15h-4.49zM69.09 176.32h4.49v1.15h-4.49zM147 177.32h4.53v1.15h-4.53zM147 178.32h4.53v1.15h-4.53zM43.06 179.33h4.49v1.15h-4.49zM30.05 180.33h4.49v1.15h-4.49zM43.06 181.33h4.49v1.15h-4.49zM164.52 181.33h4.53v1.15h-4.53zM56.07 183.33h4.49v1.15h-4.49zM43.06 185.33h4.49v1.15h-4.49zM30.05 186.34h4.49v1.15h-4.49zM56.07 186.34h4.49v1.15h-4.49zM30.05 187.34h4.49v1.15h-4.49zM147 187.34h4.53v1.15h-4.53zM30.05 188.34h4.49v1.15h-4.49zM30.05 189.34h4.49v1.15h-4.49zM69.09 189.34h4.49v1.15h-4.49zM30.05 190.34h4.49v1.15h-4.49zM43.06 190.34h4.49v1.15h-4.49zM17.04 191.34h4.49v1.15h-4.49zM30.05 191.34h4.49v1.15h-4.49zM43.06 191.34h4.49v1.15h-4.49zM69.09 193.34h4.49v1.15h-4.49zM69.09 194.35h4.49v1.15h-4.49zM69.09 199.35h4.49v1.15h-4.49zM129.78 200.35h4.52v1.15h-4.52zM30.05 202.36h4.49v1.15h-4.49zM69.09 202.36h4.49v1.15h-4.49zM94.8 202.36h4.52v1.15h-4.52zM99.17 202.36h4.52v1.15h-4.52zM30.05 203.36h4.49v1.15h-4.49zM43.06 204.36h4.49v1.15h-4.49zM164.52 204.36h4.53v1.15h-4.53zM30.05 205.36h4.49v1.15h-4.49zM43.06 205.36h4.49v1.15h-4.49zM69.09 205.36h4.49v1.15h-4.49zM164.52 206.36h4.53v1.15h-4.53zM121.03 207.36h4.52v1.15h-4.52zM125.41 207.36h4.52v1.15h-4.52zM56.07 208.36h4.49v1.15h-4.49zM125.41 209.37h4.52v1.15h-4.52zM30.05 210.37h4.49v1.15h-4.49zM43.06 211.37h4.49v1.15h-4.49zM56.07 212.37h4.49v1.15h-4.49zM30.05 214.37h4.49v1.15h-4.49zM43.06 214.37h4.49v1.15h-4.49zM43.06 215.37h4.49v1.15h-4.49zM69.09 215.37h4.49v1.15h-4.49zM69.09 216.38h4.49v1.15h-4.49zM69.09 217.38h4.49v1.15h-4.49zM21.38 218.38h4.49v1.15h-4.49zM34.39 218.38h4.49v1.15h-4.49zM56.07 221.38h4.49v1.15h-4.49zM69.09 222.38h4.49v1.15h-4.49zM69.09 223.38h4.49v1.15h-4.49zM116.66 223.38h4.52v1.15h-4.52zM138.53 223.38h4.52v1.15h-4.52zM164.52 223.38h4.53v1.15h-4.53zM43.06 224.39h4.49v1.15h-4.49zM56.07 224.39h4.49v1.15h-4.49zM69.09 224.39h4.49v1.15h-4.49zM43.06 225.39h4.49v1.15h-4.49zM69.09 225.39h4.49v1.15h-4.49zM69.09 227.39h4.49v1.15h-4.49zM134.15 228.39h4.52v1.15h-4.52zM112.29 230.39h4.52v1.15h-4.52zM116.66 231.4h4.52v1.15h-4.52zM164.52 231.4h4.53v1.15h-4.53zM69.09 232.4h4.49v1.15h-4.49zM56.07 233.4h4.49v1.15h-4.49zM121.03 233.4h4.52v1.15h-4.52zM30.05 234.4h4.49v1.15h-4.49zM69.09 235.4h4.49v1.15h-4.49zM164.52 235.4h4.53v1.15h-4.53zM43.06 236.4h4.49v1.15h-4.49zM69.09 236.4h4.49v1.15h-4.49zM17.04 237.4h4.49v1.15h-4.49zM43.06 237.4h4.49v1.15h-4.49zM69.09 237.4h4.49v1.15h-4.49zM30.05 238.4h4.49v1.15h-4.49zM94.8 241.41h4.52v1.15h-4.52zM99.17 241.41h4.52v1.15h-4.52zM164.52 241.41h4.53v1.15h-4.53zM43.06 242.41h4.49v1.15h-4.49zM69.09 242.41h4.49v1.15h-4.49zM116.66 242.41h4.52v1.15h-4.52zM17.04 243.41h4.49v1.15h-4.49zM30.05 243.41h4.49v1.15h-4.49zM116.66 243.41h4.52v1.15h-4.52zM17.04 244.41h4.49v1.15h-4.49zM43.06 244.41h4.49v1.15h-4.49zM69.09 244.41h4.49v1.15h-4.49zM43.06 245.41h4.49v1.15h-4.49zM43.06 247.42h4.49v1.15h-4.49zM116.66 248.42h4.52v1.15h-4.52zM43.06 249.42h4.49v1.15h-4.49zM69.09 249.42h4.49v1.15h-4.49zM43.06 250.42h4.49v1.15h-4.49zM17.04 251.42h4.49v1.15h-4.49zM30.05 251.42h4.49v1.15h-4.49zM43.06 251.42h4.49v1.15h-4.49zM69.09 251.42h4.49v1.15h-4.49zM56.07 252.42h4.49v1.15h-4.49zM134.15 252.42h4.52v1.15h-4.52zM43.06 253.43h4.49v1.15h-4.49zM116.66 253.43h4.52v1.15h-4.52zM69.09 254.43h4.49v1.15h-4.49zM30.05 256.43h4.49v1.15h-4.49zM69.09 256.43h4.49v1.15h-4.49zM116.66 256.43h4.52v1.15h-4.52zM30.05 258.43h4.49v1.15h-4.49zM116.66 258.43h4.52v1.15h-4.52zM69.09 259.43h4.49v1.15h-4.49zM69.09 264.44h4.49v1.15h-4.49zM30.05 265.44h4.49v1.15h-4.49zM116.66 266.44h4.52v1.15h-4.52zM69.09 267.44h4.49v1.15h-4.49zM121.03 267.44h4.52v1.15h-4.52zM43.06 269.45h4.49v1.15h-4.49zM69.09 269.45h4.49v1.15h-4.49zM94.8 269.45h4.52v1.15h-4.52zM116.66 269.45h4.52v1.15h-4.52zM121.03 269.45h4.52v1.15h-4.52zM112.29 270.45h4.52v1.15h-4.52zM125.41 270.45h4.52v1.15h-4.52zM134.15 270.45h4.52v1.15h-4.52zM116.66 271.45h4.52v1.15h-4.52zM30.05 272.45h4.49v1.15h-4.49zM69.09 272.45h4.49v1.15h-4.49zM94.8 272.45h4.52v1.15h-4.52zM151.38 273.45h4.53v1.15h-4.53zM160.14 273.45h4.53v1.15h-4.53zM30.05 274.45h4.49v1.15h-4.49zM43.06 274.45h4.49v1.15h-4.49zM56.07 274.45h4.49v1.15h-4.49zM43.06 275.45h4.49v1.15h-4.49zM69.09 275.45h4.49v1.15h-4.49zM17.04 276.46h4.49v1.15h-4.49zM69.09 276.46h4.49v1.15h-4.49zM43.06 277.46h4.49v1.15h-4.49zM69.09 277.46h4.49v1.15h-4.49zM43.06 278.46h4.49v1.15h-4.49zM69.09 279.46h4.49v1.15h-4.49zM56.07 285.47h4.49v1.15h-4.49zM116.66 285.47h4.52v1.15h-4.52zM69.09 286.47h4.49v1.15h-4.49zM116.66 286.47h4.52v1.15h-4.52zM43.06 288.47h4.49v1.15h-4.49zM43.06 289.47h4.49v1.15h-4.49zM69.09 289.47h4.49v1.15h-4.49zM56.07 290.47h4.49v1.15h-4.49zM30.05 291.48h4.49v1.15h-4.49zM43.06 292.48h4.49v1.15h-4.49zM69.09 292.48h4.49v1.15h-4.49zM43.06 293.48h4.49v1.15h-4.49zM56.07 293.48h4.49v1.15h-4.49zM69.09 293.48h4.49v1.15h-4.49zM116.66 293.48h4.52v1.15h-4.52zM30.05 295.48h4.49v1.15h-4.49zM56.07 295.48h4.49v1.15h-4.49zM30.05 296.48h4.49v1.15h-4.49zM43.06 296.48h4.49v1.15h-4.49zM56.07 296.48h4.49v1.15h-4.49zM30.05 297.48h4.49v1.15h-4.49zM56.07 297.48h4.49v1.15h-4.49zM43.06 299.49h4.49v1.15h-4.49zM69.09 299.49h4.49v1.15h-4.49zM69.09 300.49h4.49v1.15h-4.49zM43.06 301.49h4.49v1.15h-4.49zM69.09 301.49h4.49v1.15h-4.49zM69.09 303.49h4.49v1.15h-4.49zM43.06 304.49h4.49v1.15h-4.49zM30.05 305.49h4.49v1.15h-4.49zM21.38 306.5h4.49v1.15h-4.49zM69.09 306.5h4.49v1.15h-4.49zM17.04 307.5h4.49v1.15h-4.49zM43.06 307.5h4.49v1.15h-4.49z"/>
<path fill="#2a0006" d="M94.8 85.2h4.52v1.15h-4.52zM99.17 85.2h4.52v1.15h-4.52zM86.05 89.21h4.52v1.15h-4.52zM90.42 89.21h4.52v1.15h-4.52zM112.29 89.21h4.52v1.15h-4.52zM107.92 90.21h4.52v1.15h-4.52zM112.29 90.21h4.52v1.15h-4.52zM129.78 92.21h4.52v1.15h-4.52zM112.29 93.21h4.52v1.15h-4.52zM129.78 94.21h4.52v1.15h-4.52zM90.42 95.21h4.52v1.15h-4.52zM129.78 98.22h4.52v1.15h-4.52zM103.54 99.22h4.52v1.15h-4.52zM164.52 99.22h4.53v1.15h-4.53zM129.78 100.22h4.52v1.15h-4.52zM69.09 101.22h4.49v1.15h-4.49zM86.05 102.22h4.52v1.15h-4.52zM103.54 102.22h4.52v1.15h-4.52zM94.8 104.23h4.52v1.15h-4.52zM121.03 104.23h4.52v1.15h-4.52zM164.52 104.23h4.53v1.15h-4.53zM94.8 105.23h4.52v1.15h-4.52zM99.17 108.23h4.52v1.15h-4.52zM121.03 108.23h4.52v1.15h-4.52zM134.15 108.23h4.52v1.15h-4.52zM129.78 109.23h4.52v1.15h-4.52zM86.05 110.23h4.52v1.15h-4.52zM90.42 110.23h4.52v1.15h-4.52zM129.78 111.23h4.52v1.15h-4.52zM94.8 112.24h4.52v1.15h-4.52zM99.17 116.24h4.52v1.15h-4.52zM125.41 116.24h4.52v1.15h-4.52zM134.15 116.24h4.52v1.15h-4.52zM164.52 116.24h4.53v1.15h-4.53zM164.52 119.25h4.53v1.15h-4.53zM94.8 120.25h4.52v1.15h-4.52zM107.92 120.25h4.52v1.15h-4.52zM112.29 120.25h4.52v1.15h-4.52zM121.03 122.25h4.52v1.15h-4.52zM125.41 127.26h4.52v1.15h-4.52zM138.53 127.26h4.52v1.15h-4.52zM94.8 128.26h4.52v1.15h-4.52zM125.41 128.26h4.52v1.15h-4.52zM164.52 128.26h4.53v1.15h-4.53zM107.92 130.26h4.52v1.15h-4.52zM164.52 133.26h4.53v1.15h-4.53zM134.15 134.27h4.52v1.15h-4.52zM134.15 138.27h4.52v1.15h-4.52zM107.92 140.27h4.52v1.15h-4.52zM151.38 140.27h4.53v1.15h-4.53zM90.42 141.28h4.52v1.15h-4.52zM94.8 141.28h4.52v1.15h-4.52zM138.53 141.28h4.52v1.15h-4.52zM151.38 141.28h4.53v1.15h-4.53zM160.14 141.28h4.53v1.15h-4.53zM107.92 142.28h4.52v1.15h-4.52zM107.92 143.28h4.52v1.15h-4.52zM99.17 146.28h4.52v1.15h-4.52zM107.92 146.28h4.52v1.15h-4.52zM112.29 146.28h4.52v1.15h-4.52zM125.41 148.28h4.52v1.15h-4.52zM112.29 149.29h4.52v1.15h-4.52zM164.52 150.29h4.53v1.15h-4.53zM99.17 152.29h4.52v1.15h-4.52zM151.38 154.29h4.53v1.15h-4.53zM155.76 156.3h4.53v1.15h-4.53zM160.14 156.3h4.53v1.15h-4.53zM86.05 158.3h4.52v1.15h-4.52zM121.03 158.3h4.52v1.15h-4.52zM129.78 158.3h4.52v1.15h-4.52zM138.53 159.3h4.52v1.15h-4.52zM164.52 162.3h4.53v1.15h-4.53zM138.53 164.31h4.52v1.15h-4.52zM147 165.31h4.53v1.15h-4.53zM151.38 167.31h4.53v1.15h-4.53zM86.05 168.31h4.52v1.15h-4.52zM138.53 169.31h4.52v1.15h-4.52zM155.76 170.31h4.53v1.15h-4.53zM151.38 171.32h4.53v1.15h-4.53zM99.17 172.32h4.52v1.15h-4.52zM147 172.32h4.53v1.15h-4.53zM160.14 172.32h4.53v1.15h-4.53zM69.09 175.32h4.49v1.15h-4.49zM90.42 176.32h4.52v1.15h-4.52zM134.15 176.32h4.52v1.15h-4.52zM129.78 177.32h4.52v1.15h-4.52zM69.09 178.32h4.49v1.15h-4.49zM129.78 178.32h4.52v1.15h-4.52zM129.78 180.33h4.52v1.15h-4.52zM155.76 180.33h4.53v1.15h-4.53zM129.78 181.33h4.52v1.15h-4.52zM129.78 190.34h4.52v1.15h-4.52zM107.92 200.35h4.52v1.15h-4.52zM116.66 209.37h4.52v1.15h-4.52zM30.05 218.38h4.49v1.15h-4.49zM138.53 228.39h4.52v1.15h-4.52zM116.66 230.39h4.52v1.15h-4.52zM116.66 239.41h4.52v1.15h-4.52zM69.09 240.41h4.49v1.15h-4.49zM69.09 247.42h4.49v1.15h-4.49zM69.09 253.43h4.49v1.15h-4.49zM94.8 270.45h4.52v1.15h-4.52zM69.09 295.48h4.49v1.15h-4.49zM69.09 296.48h4.49v1.15h-4.49z"/>
<path fill="#300006" d="M103.54 85.2h4.52v1.15h-4.52zM134.15 89.21h4.52v1.15h-4.52zM125.41 90.21h4.52v1.15h-4.52zM94.8 93.21h4.52v1.15h-4.52zM107.92 94.21h4.52v1.15h-4.52zM86.05 96.21h4.52v1.15h-4.52zM103.54 97.22h4.52v1.15h-4.52zM129.78 97.22h4.52v1.15h-4.52zM86.05 100.22h4.52v1.15h-4.52zM90.42 101.22h4.52v1.15h-4.52zM125.41 104.23h4.52v1.15h-4.52zM134.15 104.23h4.52v1.15h-4.52zM164.52 106.23h4.53v1.15h-4.53zM103.54 108.23h4.52v1.15h-4.52zM151.38 111.23h4.53v1.15h-4.53zM138.53 114.24h4.52v1.15h-4.52zM134.15 115.24h4.52v1.15h-4.52zM138.53 115.24h4.52v1.15h-4.52zM107.92 118.24h4.52v1.15h-4.52zM138.53 118.24h4.52v1.15h-4.52zM134.15 120.25h4.52v1.15h-4.52zM107.92 122.25h4.52v1.15h-4.52zM164.52 123.25h4.53v1.15h-4.53zM112.29 125.25h4.52v1.15h-4.52zM121.03 126.25h4.52v1.15h-4.52zM164.52 126.25h4.53v1.15h-4.53zM121.03 127.26h4.52v1.15h-4.52zM99.17 128.26h4.52v1.15h-4.52zM138.53 128.26h4.52v1.15h-4.52zM125.41 129.26h4.52v1.15h-4.52zM134.15 129.26h4.52v1.15h-4.52zM121.03 130.26h4.52v1.15h-4.52zM99.17 131.26h4.52v1.15h-4.52zM138.53 131.26h4.52v1.15h-4.52zM90.42 132.26h4.52v1.15h-4.52zM125.41 135.27h4.52v1.15h-4.52zM138.53 137.27h4.52v1.15h-4.52zM164.52 137.27h4.53v1.15h-4.53zM107.92 139.27h4.52v1.15h-4.52zM121.03 139.27h4.52v1.15h-4.52zM99.17 140.27h4.52v1.15h-4.52zM112.29 140.27h4.52v1.15h-4.52zM147 140.27h4.53v1.15h-4.53zM99.17 143.28h4.52v1.15h-4.52zM125.41 146.28h4.52v1.15h-4.52zM121.03 148.28h4.52v1.15h-4.52zM164.52 149.29h4.53v1.15h-4.53zM121.03 151.29h4.52v1.15h-4.52zM112.29 154.29h4.52v1.15h-4.52zM147 154.29h4.53v1.15h-4.53zM134.15 156.3h4.52v1.15h-4.52zM138.53 156.3h4.52v1.15h-4.52zM112.29 158.3h4.52v1.15h-4.52zM155.76 161.3h4.53v1.15h-4.53zM160.14 161.3h4.53v1.15h-4.53zM160.14 163.3h4.53v1.15h-4.53zM112.29 167.31h4.52v1.15h-4.52zM121.03 167.31h4.52v1.15h-4.52zM160.14 167.31h4.53v1.15h-4.53zM94.8 168.31h4.52v1.15h-4.52zM107.92 168.31h4.52v1.15h-4.52zM147 168.31h4.53v1.15h-4.53zM155.76 168.31h4.53v1.15h-4.53zM107.92 169.31h4.52v1.15h-4.52zM125.41 170.31h4.52v1.15h-4.52zM147 170.31h4.53v1.15h-4.53zM160.14 171.32h4.53v1.15h-4.53zM134.15 172.32h4.52v1.15h-4.52zM94.8 174.32h4.52v1.15h-4.52zM125.41 174.32h4.52v1.15h-4.52zM138.53 174.32h4.52v1.15h-4.52zM86.05 176.32h4.52v1.15h-4.52zM103.54 176.32h4.52v1.15h-4.52zM112.29 176.32h4.52v1.15h-4.52zM129.78 176.32h4.52v1.15h-4.52zM155.76 177.32h4.53v1.15h-4.53zM86.05 180.33h4.52v1.15h-4.52zM86.05 182.33h4.52v1.15h-4.52zM160.14 184.33h4.53v1.15h-4.53zM155.76 187.34h4.53v1.15h-4.53zM129.78 188.34h4.52v1.15h-4.52zM99.17 207.36h4.52v1.15h-4.52zM164.52 211.37h4.53v1.15h-4.53zM69.09 218.38h4.49v1.15h-4.49zM116.66 219.38h4.52v1.15h-4.52zM116.66 224.39h4.52v1.15h-4.52zM121.03 228.39h4.52v1.15h-4.52zM107.92 247.42h4.52v1.15h-4.52zM164.52 249.42h4.53v1.15h-4.53zM116.66 302.49h4.52v1.15h-4.52zM69.09 307.5h4.49v1.15h-4.49z"/>
<path fill="#360006" d="M107.92 85.2h4.52v1.15h-4.52zM112.29 85.2h4.52v1.15h-4.52zM134.15 85.2h4.52v1.15h-4.52zM99.17 90.21h4.52v1.15h-4.52zM103.54 91.21h4.52v1.15h-4.52zM86.05 92.21h4.52v1.15h-4.52zM134.15 95.21h4.52v1.15h-4.52zM164.52 95.21h4.53v1.15h-4.53zM86.05 98.22h4.52v1.15h-4.52zM164.52 98.22h4.53v1.15h-4.53zM86.05 99.22h4.52v1.15h-4.52zM90.42 102.22h4.52v1.15h-4.52zM129.78 103.22h4.52v1.15h-4.52zM151.38 103.22h4.53v1.15h-4.53zM164.52 103.22h4.53v1.15h-4.53zM103.54 105.23h4.52v1.15h-4.52zM103.54 106.23h4.52v1.15h-4.52zM86.05 107.23h4.52v1.15h-4.52zM134.15 107.23h4.52v1.15h-4.52zM125.41 108.23h4.52v1.15h-4.52zM90.42 109.23h4.52v1.15h-4.52zM103.54 110.23h4.52v1.15h-4.52zM147 111.23h4.53v1.15h-4.53zM134.15 114.24h4.52v1.15h-4.52zM121.03 120.25h4.52v1.15h-4.52zM125.41 120.25h4.52v1.15h-4.52zM94.8 123.25h4.52v1.15h-4.52zM107.92 123.25h4.52v1.15h-4.52zM112.29 123.25h4.52v1.15h-4.52zM164.52 124.25h4.53v1.15h-4.53zM94.8 125.25h4.52v1.15h-4.52zM112.29 127.26h4.52v1.15h-4.52zM94.8 131.26h4.52v1.15h-4.52zM112.29 131.26h4.52v1.15h-4.52zM86.05 132.26h4.52v1.15h-4.52zM164.52 132.26h4.53v1.15h-4.53zM107.92 134.27h4.52v1.15h-4.52zM125.41 134.27h4.52v1.15h-4.52zM94.8 135.27h4.52v1.15h-4.52zM112.29 135.27h4.52v1.15h-4.52zM94.8 137.27h4.52v1.15h-4.52zM112.29 137.27h4.52v1.15h-4.52zM121.03 138.27h4.52v1.15h-4.52zM164.52 138.27h4.53v1.15h-4.53zM90.42 140.27h4.52v1.15h-4.52zM125.41 140.27h4.52v1.15h-4.52zM138.53 140.27h4.52v1.15h-4.52zM160.14 140.27h4.53v1.15h-4.53zM94.8 143.28h4.52v1.15h-4.52zM103.54 143.28h4.52v1.15h-4.52zM138.53 143.28h4.52v1.15h-4.52zM160.14 143.28h4.53v1.15h-4.53zM155.76 148.28h4.53v1.15h-4.53zM147 152.29h4.53v1.15h-4.53zM164.52 152.29h4.53v1.15h-4.53zM160.14 154.29h4.53v1.15h-4.53zM107.92 156.3h4.52v1.15h-4.52zM125.41 156.3h4.52v1.15h-4.52zM155.76 157.3h4.53v1.15h-4.53zM94.8 158.3h4.52v1.15h-4.52zM160.14 158.3h4.53v1.15h-4.53zM90.42 159.3h4.52v1.15h-4.52zM121.03 159.3h4.52v1.15h-4.52zM107.92 160.3h4.52v1.15h-4.52zM147 160.3h4.53v1.15h-4.53zM151.38 161.3h4.53v1.15h-4.53zM125.41 164.31h4.52v1.15h-4.52zM155.76 165.31h4.53v1.15h-4.53zM151.38 166.31h4.53v1.15h-4.53zM121.03 170.31h4.52v1.15h-4.52zM121.03 171.32h4.52v1.15h-4.52zM125.41 172.32h4.52v1.15h-4.52zM99.17 178.32h4.52v1.15h-4.52zM160.14 181.33h4.53v1.15h-4.53zM90.42 182.33h4.52v1.15h-4.52zM129.78 182.33h4.52v1.15h-4.52zM129.78 184.33h4.52v1.15h-4.52zM155.76 184.33h4.53v1.15h-4.53zM103.54 185.33h4.52v1.15h-4.52zM129.78 185.33h4.52v1.15h-4.52zM86.05 188.34h4.52v1.15h-4.52zM90.42 188.34h4.52v1.15h-4.52zM164.52 222.38h4.53v1.15h-4.53zM107.92 228.39h4.52v1.15h-4.52zM164.52 234.4h4.53v1.15h-4.53zM121.03 235.4h4.52v1.15h-4.52zM164.52 266.44h4.53v1.15h-4.53z"/>
<path fill="#0c1e2a" d="M116.66 85.2h4.52v1.15h-4.52zM116.66 89.21h4.52v1.15h-4.52zM116.66 100.22h4.52v1.15h-4.52zM77.76 116.24h4.49v1.15h-4.49zM138.53 147.28h4.52v1.15h-4.52zM25.71 152.29h4.49v1.15h-4.49zM25.71 162.3h4.49v1.15h-4.49zM12.7 195.35h4.49v1.15h-4.49zM138.53 200.35h4.52v1.15h-4.52zM86.05 201.36h4.52v1.15h-4.52zM90.42 207.36h4.52v1.15h-4.52zM103.54 208.36h4.52v1.15h-4.52zM129.78 220.38h4.52v1.15h-4.52zM99.17 221.38h4.52v1.15h-4.52zM107.92 236.4h4.52v1.15h-4.52zM86.05 237.4h4.52v1.15h-4.52zM99.17 239.41h4.52v1.15h-4.52zM103.54 242.41h4.52v1.15h-4.52zM103.54 248.42h4.52v1.15h-4.52zM77.76 263.44h4.49v1.15h-4.49zM164.52 268.45h4.53v1.15h-4.53zM155.76 277.46h4.53v1.15h-4.53zM86.05 280.46h4.52v1.15h-4.52zM121.03 281.46h4.52v1.15h-4.52zM38.72 287.47h4.49v1.15h-4.49z"/>
<path fill="#420006" d="M121.03 85.2h4.52v1.15h-4.52zM129.78 86.2h4.52v1.15h-4.52zM138.53 89.21h4.52v1.15h-4.52zM99.17 91.21h4.52v1.15h-4.52zM107.92 93.21h4.52v1.15h-4.52zM94.8 94.21h4.52v1.15h-4.52zM164.52 94.21h4.53v1.15h-4.53zM112.29 95.21h4.52v1.15h-4.52zM138.53 96.21h4.52v1.15h-4.52zM90.42 99.22h4.52v1.15h-4.52zM94.8 102.22h4.52v1.15h-4.52zM103.54 103.22h4.52v1.15h-4.52zM99.17 104.23h4.52v1.15h-4.52zM112.29 104.23h4.52v1.15h-4.52zM138.53 104.23h4.52v1.15h-4.52zM99.17 105.23h4.52v1.15h-4.52zM86.05 106.23h4.52v1.15h-4.52zM151.38 106.23h4.53v1.15h-4.53zM160.14 106.23h4.53v1.15h-4.53zM103.54 107.23h4.52v1.15h-4.52zM147 109.23h4.53v1.15h-4.53zM160.14 109.23h4.53v1.15h-4.53zM112.29 110.23h4.52v1.15h-4.52zM160.14 110.23h4.53v1.15h-4.53zM155.76 111.23h4.53v1.15h-4.53zM107.92 116.24h4.52v1.15h-4.52zM164.52 118.24h4.53v1.15h-4.53zM164.52 121.25h4.53v1.15h-4.53zM134.15 125.25h4.52v1.15h-4.52zM121.03 129.26h4.52v1.15h-4.52zM125.41 132.26h4.52v1.15h-4.52zM138.53 135.27h4.52v1.15h-4.52zM99.17 137.27h4.52v1.15h-4.52zM94.8 140.27h4.52v1.15h-4.52zM121.03 140.27h4.52v1.15h-4.52zM155.76 140.27h4.53v1.15h-4.53zM134.15 141.28h4.52v1.15h-4.52zM147 141.28h4.53v1.15h-4.53zM112.29 143.28h4.52v1.15h-4.52zM138.53 146.28h4.52v1.15h-4.52zM151.38 148.28h4.53v1.15h-4.53zM121.03 149.29h4.52v1.15h-4.52zM151.38 150.29h4.53v1.15h-4.53zM151.38 152.29h4.53v1.15h-4.53zM160.14 153.29h4.53v1.15h-4.53zM138.53 154.29h4.52v1.15h-4.52zM94.8 156.3h4.52v1.15h-4.52zM121.03 156.3h4.52v1.15h-4.52zM160.14 157.3h4.53v1.15h-4.53zM107.92 159.3h4.52v1.15h-4.52zM151.38 160.3h4.53v1.15h-4.53zM151.38 163.3h4.53v1.15h-4.53zM138.53 172.32h4.52v1.15h-4.52zM155.76 172.32h4.53v1.15h-4.53zM99.17 177.32h4.52v1.15h-4.52zM107.92 178.32h4.52v1.15h-4.52zM121.03 178.32h4.52v1.15h-4.52zM138.53 178.32h4.52v1.15h-4.52zM103.54 180.33h4.52v1.15h-4.52zM112.29 180.33h4.52v1.15h-4.52zM134.15 180.33h4.52v1.15h-4.52zM147 184.33h4.53v1.15h-4.53zM129.78 186.34h4.52v1.15h-4.52z"/>
<path fill="#4e0006" d="M125.41 85.2h4.52v1.15h-4.52zM164.52 85.2h4.53v1.15h-4.53zM103.54 87.2h4.52v1.15h-4.52zM107.92 89.21h4.52v1.15h-4.52zM121.03 90.21h4.52v1.15h-4.52zM138.53 90.21h4.52v1.15h-4.52zM112.29 91.21h4.52v1.15h-4.52zM121.03 91.21h4.52v1.15h-4.52zM103.54 92.21h4.52v1.15h-4.52zM112.29 92.21h4.52v1.15h-4.52zM94.8 95.21h4.52v1.15h-4.52zM103.54 96.21h4.52v1.15h-4.52zM121.03 96.21h4.52v1.15h-4.52zM125.41 96.21h4.52v1.15h-4.52zM99.17 97.22h4.52v1.15h-4.52zM112.29 97.22h4.52v1.15h-4.52zM90.42 98.22h4.52v1.15h-4.52zM103.54 100.22h4.52v1.15h-4.52zM134.15 101.22h4.52v1.15h-4.52zM112.29 102.22h4.52v1.15h-4.52zM90.42 103.22h4.52v1.15h-4.52zM147 103.22h4.53v1.15h-4.53zM160.14 103.22h4.53v1.15h-4.53zM86.05 105.23h4.52v1.15h-4.52zM112.29 105.23h4.52v1.15h-4.52zM138.53 105.23h4.52v1.15h-4.52zM99.17 106.23h4.52v1.15h-4.52zM134.15 106.23h4.52v1.15h-4.52zM90.42 107.23h4.52v1.15h-4.52zM151.38 107.23h4.53v1.15h-4.53zM86.05 109.23h4.52v1.15h-4.52zM99.17 109.23h4.52v1.15h-4.52zM103.54 109.23h4.52v1.15h-4.52zM155.76 109.23h4.53v1.15h-4.53zM94.8 110.23h4.52v1.15h-4.52zM147 110.23h4.53v1.15h-4.53zM86.05 111.23h4.52v1.15h-4.52zM155.76 112.24h4.53v1.15h-4.53zM99.17 113.24h4.52v1.15h-4.52zM138.53 113.24h4.52v1.15h-4.52zM164.52 120.25h4.53v1.15h-4.53zM125.41 125.25h4.52v1.15h-4.52zM164.52 125.25h4.53v1.15h-4.53zM134.15 132.26h4.52v1.15h-4.52zM151.38 142.28h4.53v1.15h-4.53zM155.76 142.28h4.53v1.15h-4.53zM147 145.28h4.53v1.15h-4.53zM151.38 145.28h4.53v1.15h-4.53zM121.03 146.28h4.52v1.15h-4.52zM147 146.28h4.53v1.15h-4.53zM151.38 146.28h4.53v1.15h-4.53zM147 148.28h4.53v1.15h-4.53zM151.38 149.29h4.53v1.15h-4.53zM155.76 150.29h4.53v1.15h-4.53zM155.76 155.29h4.53v1.15h-4.53zM147 157.3h4.53v1.15h-4.53zM138.53 158.3h4.52v1.15h-4.52zM151.38 158.3h4.53v1.15h-4.53zM134.15 159.3h4.52v1.15h-4.52zM147 163.3h4.53v1.15h-4.53zM112.29 172.32h4.52v1.15h-4.52zM160.14 174.32h4.53v1.15h-4.53zM99.17 176.32h4.52v1.15h-4.52zM121.03 176.32h4.52v1.15h-4.52zM125.41 176.32h4.52v1.15h-4.52zM103.54 177.32h4.52v1.15h-4.52zM125.41 177.32h4.52v1.15h-4.52zM94.8 178.32h4.52v1.15h-4.52zM103.54 178.32h4.52v1.15h-4.52zM134.15 178.32h4.52v1.15h-4.52zM103.54 179.33h4.52v1.15h-4.52zM151.38 181.33h4.53v1.15h-4.53zM94.8 182.33h4.52v1.15h-4.52zM103.54 182.33h4.52v1.15h-4.52zM103.54 183.33h4.52v1.15h-4.52zM86.05 184.33h4.52v1.15h-4.52zM121.03 185.33h4.52v1.15h-4.52zM129.78 187.34h4.52v1.15h-4.52z"/>
<path fill="#3c0006" d="M138.53 85.2h4.52v1.15h-4.52zM129.78 87.2h4.52v1.15h-4.52zM138.53 91.21h4.52v1.15h-4.52zM164.52 93.21h4.53v1.15h-4.53zM90.42 94.21h4.52v1.15h-4.52zM112.29 94.21h4.52v1.15h-4.52zM90.42 96.21h4.52v1.15h-4.52zM112.29 96.21h4.52v1.15h-4.52zM86.05 97.22h4.52v1.15h-4.52zM103.54 98.22h4.52v1.15h-4.52zM107.92 104.23h4.52v1.15h-4.52zM134.15 105.23h4.52v1.15h-4.52zM129.78 107.23h4.52v1.15h-4.52zM151.38 109.23h4.53v1.15h-4.53zM160.14 111.23h4.53v1.15h-4.53zM151.38 112.24h4.53v1.15h-4.53zM112.29 113.24h4.52v1.15h-4.52zM99.17 120.25h4.52v1.15h-4.52zM121.03 123.25h4.52v1.15h-4.52zM107.92 125.25h4.52v1.15h-4.52zM138.53 125.25h4.52v1.15h-4.52zM94.8 127.26h4.52v1.15h-4.52zM99.17 127.26h4.52v1.15h-4.52zM164.52 127.26h4.53v1.15h-4.53zM121.03 128.26h4.52v1.15h-4.52zM134.15 128.26h4.52v1.15h-4.52zM107.92 131.26h4.52v1.15h-4.52zM134.15 131.26h4.52v1.15h-4.52zM103.54 132.26h4.52v1.15h-4.52zM164.52 136.27h4.53v1.15h-4.53zM107.92 137.27h4.52v1.15h-4.52zM164.52 139.27h4.53v1.15h-4.53zM155.76 141.28h4.53v1.15h-4.53zM121.03 143.28h4.52v1.15h-4.52zM125.41 143.28h4.52v1.15h-4.52zM164.52 147.28h4.53v1.15h-4.53zM112.29 148.28h4.52v1.15h-4.52zM107.92 154.29h4.52v1.15h-4.52zM155.76 154.29h4.53v1.15h-4.53zM147 156.3h4.53v1.15h-4.53zM151.38 157.3h4.53v1.15h-4.53zM99.17 158.3h4.52v1.15h-4.52zM134.15 158.3h4.52v1.15h-4.52zM112.29 159.3h4.52v1.15h-4.52zM160.14 160.3h4.53v1.15h-4.53zM151.38 162.3h4.53v1.15h-4.53zM160.14 166.31h4.53v1.15h-4.53zM155.76 167.31h4.53v1.15h-4.53zM160.14 168.31h4.53v1.15h-4.53zM107.92 172.32h4.52v1.15h-4.52zM151.38 172.32h4.53v1.15h-4.53zM94.8 176.32h4.52v1.15h-4.52zM86.05 178.32h4.52v1.15h-4.52zM129.78 179.33h4.52v1.15h-4.52zM99.17 181.33h4.52v1.15h-4.52zM86.05 183.33h4.52v1.15h-4.52zM129.78 183.33h4.52v1.15h-4.52zM129.78 189.34h4.52v1.15h-4.52zM86.05 190.34h4.52v1.15h-4.52zM107.92 235.4h4.52v1.15h-4.52zM116.66 272.45h4.52v1.15h-4.52z"/>
<path fill="#ae000c" d="M147 85.2h4.53v1.15h-4.53zM151.38 85.2h4.53v1.15h-4.53zM138.53 88.2h4.52v1.15h-4.52zM151.38 88.2h4.53v1.15h-4.53zM160.14 89.21h4.53v1.15h-4.53zM147 93.21h4.53v1.15h-4.53zM151.38 98.22h4.53v1.15h-4.53zM160.14 116.24h4.53v1.15h-4.53zM151.38 124.25h4.53v1.15h-4.53zM160.14 130.26h4.53v1.15h-4.53zM134.15 187.34h4.52v1.15h-4.52z"/>
<path fill="#ba0012" d="M155.76 85.2h4.53v1.15h-4.53zM160.14 86.2h4.53v1.15h-4.53zM155.76 88.2h4.53v1.15h-4.53zM160.14 88.2h4.53v1.15h-4.53zM151.38 89.21h4.53v1.15h-4.53zM147 116.24h4.53v1.15h-4.53zM155.76 117.24h4.53v1.15h-4.53zM147 119.25h4.53v1.15h-4.53zM138.53 187.34h4.52v1.15h-4.52z"/>
<path fill="#9c000c" d="M160.14 85.2h4.53v1.15h-4.53zM138.53 86.2h4.52v1.15h-4.52zM160.14 87.2h4.53v1.15h-4.53zM147 92.21h4.53v1.15h-4.53zM147 99.22h4.53v1.15h-4.53zM147 100.22h4.53v1.15h-4.53zM147 121.25h4.53v1.15h-4.53zM147 125.25h4.53v1.15h-4.53zM155.76 127.26h4.53v1.15h-4.53zM155.76 128.26h4.53v1.15h-4.53zM99.17 186.34h4.52v1.15h-4.52zM112.29 187.34h4.52v1.15h-4.52z"/>
<path fill="#060c0c" d="M12.7 86.2h4.49v1.15h-4.49zM73.42 86.2h4.49v1.15h-4.49zM51.74 87.2h4.49v1.15h-4.49zM60.41 87.2h4.49v1.15h-4.49zM64.75 87.2h4.49v1.15h-4.49zM25.71 88.2h4.49v1.15h-4.49zM47.4 88.2h4.49v1.15h-4.49zM51.74 88.2h4.49v1.15h-4.49zM77.76 89.21h4.49v1.15h-4.49zM51.74 92.21h4.49v1.15h-4.49zM60.41 92.21h4.49v1.15h-4.49zM12.7 93.21h4.49v1.15h-4.49zM38.72 93.21h4.49v1.15h-4.49zM60.41 93.21h4.49v1.15h-4.49zM64.75 94.21h4.49v1.15h-4.49zM25.71 95.21h4.49v1.15h-4.49zM34.39 96.21h4.49v1.15h-4.49zM47.4 97.22h4.49v1.15h-4.49zM51.74 97.22h4.49v1.15h-4.49zM12.7 99.22h4.49v1.15h-4.49zM51.74 100.22h4.49v1.15h-4.49zM12.7 101.22h4.49v1.15h-4.49zM38.72 102.22h4.49v1.15h-4.49zM73.42 102.22h4.49v1.15h-4.49zM77.76 103.22h4.49v1.15h-4.49zM12.7 104.23h4.49v1.15h-4.49zM51.74 104.23h4.49v1.15h-4.49zM77.76 104.23h4.49v1.15h-4.49zM116.66 104.23h4.52v1.15h-4.52zM38.72 105.23h4.49v1.15h-4.49zM64.75 105.23h4.49v1.15h-4.49zM25.71 106.23h4.49v1.15h-4.49zM47.4 106.23h4.49v1.15h-4.49zM25.71 107.23h4.49v1.15h-4.49zM51.74 107.23h4.49v1.15h-4.49zM64.75 107.23h4.49v1.15h-4.49zM116.66 107.23h4.52v1.15h-4.52zM51.74 109.23h4.49v1.15h-4.49zM60.41 109.23h4.49v1.15h-4.49zM77.76 111.23h4.49v1.15h-4.49zM51.74 112.24h4.49v1.15h-4.49zM60.41 112.24h4.49v1.15h-4.49zM77.76 112.24h4.49v1.15h-4.49zM116.66 112.24h4.52v1.15h-4.52zM60.41 113.24h4.49v1.15h-4.49zM47.4 114.24h4.49v1.15h-4.49zM25.71 115.24h4.49v1.15h-4.49zM38.72 115.24h4.49v1.15h-4.49zM12.7 116.24h4.49v1.15h-4.49zM60.41 116.24h4.49v1.15h-4.49zM64.75 116.24h4.49v1.15h-4.49zM64.75 117.24h4.49v1.15h-4.49zM73.42 117.24h4.49v1.15h-4.49zM125.41 117.24h4.52v1.15h-4.52zM60.41 119.25h4.49v1.15h-4.49zM107.92 119.25h4.52v1.15h-4.52zM25.71 120.25h4.49v1.15h-4.49zM12.7 121.25h4.49v1.15h-4.49zM64.75 121.25h4.49v1.15h-4.49zM47.4 122.25h4.49v1.15h-4.49zM64.75 122.25h4.49v1.15h-4.49zM73.42 122.25h4.49v1.15h-4.49zM34.39 123.25h4.49v1.15h-4.49zM38.72 124.25h4.49v1.15h-4.49zM51.74 124.25h4.49v1.15h-4.49zM138.53 124.25h4.52v1.15h-4.52zM12.7 125.25h4.49v1.15h-4.49zM51.74 125.25h4.49v1.15h-4.49zM64.75 126.25h4.49v1.15h-4.49zM112.29 126.25h4.52v1.15h-4.52zM38.72 127.26h4.49v1.15h-4.49zM64.75 127.26h4.49v1.15h-4.49zM25.71 128.26h4.49v1.15h-4.49zM38.72 128.26h4.49v1.15h-4.49zM86.05 128.26h4.52v1.15h-4.52zM47.4 129.26h4.49v1.15h-4.49zM51.74 129.26h4.49v1.15h-4.49zM73.42 130.26h4.49v1.15h-4.49zM90.42 130.26h4.52v1.15h-4.52zM51.74 131.26h4.49v1.15h-4.49zM47.4 133.26h4.49v1.15h-4.49zM51.74 133.26h4.49v1.15h-4.49zM129.78 133.26h4.52v1.15h-4.52zM25.71 134.27h4.49v1.15h-4.49zM34.39 137.27h4.49v1.15h-4.49zM116.66 137.27h4.52v1.15h-4.52zM47.4 138.27h4.49v1.15h-4.49zM73.42 138.27h4.49v1.15h-4.49zM47.4 139.27h4.49v1.15h-4.49zM60.41 139.27h4.49v1.15h-4.49zM73.42 139.27h4.49v1.15h-4.49zM77.76 139.27h4.49v1.15h-4.49zM51.74 141.28h4.49v1.15h-4.49zM51.74 142.28h4.49v1.15h-4.49zM77.76 142.28h4.49v1.15h-4.49zM12.7 143.28h4.49v1.15h-4.49zM73.42 143.28h4.49v1.15h-4.49zM25.71 144.28h4.49v1.15h-4.49zM38.72 144.28h4.49v1.15h-4.49zM51.74 144.28h4.49v1.15h-4.49zM73.42 144.28h4.49v1.15h-4.49zM77.76 144.28h4.49v1.15h-4.49zM64.75 145.28h4.49v1.15h-4.49zM77.76 145.28h4.49v1.15h-4.49zM99.17 145.28h4.52v1.15h-4.52zM77.76 146.28h4.49v1.15h-4.49zM90.42 146.28h4.52v1.15h-4.52zM12.7 147.28h4.49v1.15h-4.49zM38.72 147.28h4.49v1.15h-4.49zM64.75 147.28h4.49v1.15h-4.49zM112.29 147.28h4.52v1.15h-4.52zM121.03 147.28h4.52v1.15h-4.52zM12.7 148.28h4.49v1.15h-4.49zM51.74 148.28h4.49v1.15h-4.49zM73.42 148.28h4.49v1.15h-4.49zM21.38 149.29h4.49v1.15h-4.49zM47.4 149.29h4.49v1.15h-4.49zM73.42 149.29h4.49v1.15h-4.49zM51.74 150.29h4.49v1.15h-4.49zM34.39 151.29h4.49v1.15h-4.49zM60.41 151.29h4.49v1.15h-4.49zM103.54 152.29h4.52v1.15h-4.52zM64.75 153.29h4.49v1.15h-4.49zM47.4 154.29h4.49v1.15h-4.49zM99.17 155.29h4.52v1.15h-4.52zM64.75 156.3h4.49v1.15h-4.49zM21.38 157.3h4.49v1.15h-4.49zM64.75 158.3h4.49v1.15h-4.49zM34.39 159.3h4.49v1.15h-4.49zM51.74 160.3h4.49v1.15h-4.49zM64.75 160.3h4.49v1.15h-4.49zM103.54 160.3h4.52v1.15h-4.52zM21.38 161.3h4.49v1.15h-4.49zM60.41 161.3h4.49v1.15h-4.49zM112.29 161.3h4.52v1.15h-4.52zM34.39 162.3h4.49v1.15h-4.49zM12.7 163.3h4.49v1.15h-4.49zM64.75 163.3h4.49v1.15h-4.49zM116.66 163.3h4.52v1.15h-4.52zM12.7 164.31h4.49v1.15h-4.49zM116.66 164.31h4.52v1.15h-4.52zM47.4 165.31h4.49v1.15h-4.49zM60.41 165.31h4.49v1.15h-4.49zM34.39 166.31h4.49v1.15h-4.49zM86.05 167.31h4.52v1.15h-4.52zM64.75 169.31h4.49v1.15h-4.49zM64.75 170.31h4.49v1.15h-4.49zM47.4 171.32h4.49v1.15h-4.49zM90.42 171.32h4.52v1.15h-4.52zM34.39 172.32h4.49v1.15h-4.49zM38.72 173.32h4.49v1.15h-4.49zM47.4 173.32h4.49v1.15h-4.49zM64.75 173.32h4.49v1.15h-4.49zM107.92 173.32h4.52v1.15h-4.52zM64.75 174.32h4.49v1.15h-4.49zM116.66 174.32h4.52v1.15h-4.52zM38.72 175.32h4.49v1.15h-4.49zM51.74 175.32h4.49v1.15h-4.49zM12.7 176.32h4.49v1.15h-4.49zM25.71 176.32h4.49v1.15h-4.49zM51.74 176.32h4.49v1.15h-4.49zM77.76 176.32h4.49v1.15h-4.49zM151.38 176.32h4.53v1.15h-4.53zM34.39 177.32h4.49v1.15h-4.49zM64.75 177.32h4.49v1.15h-4.49zM51.74 178.32h4.49v1.15h-4.49zM51.74 179.33h4.49v1.15h-4.49zM64.75 179.33h4.49v1.15h-4.49zM160.14 179.33h4.53v1.15h-4.53zM47.4 180.33h4.49v1.15h-4.49zM60.41 180.33h4.49v1.15h-4.49zM73.42 180.33h4.49v1.15h-4.49zM12.7 181.33h4.49v1.15h-4.49zM38.72 181.33h4.49v1.15h-4.49zM60.41 181.33h4.49v1.15h-4.49zM77.76 181.33h4.49v1.15h-4.49zM12.7 182.33h4.49v1.15h-4.49zM64.75 182.33h4.49v1.15h-4.49zM147 182.33h4.53v1.15h-4.53zM47.4 183.33h4.49v1.15h-4.49zM60.41 183.33h4.49v1.15h-4.49zM34.39 184.33h4.49v1.15h-4.49zM38.72 184.33h4.49v1.15h-4.49zM12.7 185.33h4.49v1.15h-4.49zM60.41 185.33h4.49v1.15h-4.49zM151.38 185.33h4.53v1.15h-4.53zM160.14 185.33h4.53v1.15h-4.53zM51.74 186.34h4.49v1.15h-4.49zM60.41 186.34h4.49v1.15h-4.49zM77.76 187.34h4.49v1.15h-4.49zM12.7 188.34h4.49v1.15h-4.49zM25.71 191.34h4.49v1.15h-4.49zM47.4 192.34h4.49v1.15h-4.49zM77.76 192.34h4.49v1.15h-4.49zM155.76 193.34h4.53v1.15h-4.53zM107.92 194.35h4.52v1.15h-4.52zM60.41 197.35h4.49v1.15h-4.49zM155.76 197.35h4.53v1.15h-4.53zM34.39 198.35h4.49v1.15h-4.49zM73.42 198.35h4.49v1.15h-4.49zM103.54 198.35h4.52v1.15h-4.52zM107.92 198.35h4.52v1.15h-4.52zM134.15 198.35h4.52v1.15h-4.52zM38.72 199.35h4.49v1.15h-4.49zM51.74 199.35h4.49v1.15h-4.49zM21.38 200.35h4.49v1.15h-4.49zM34.39 200.35h4.49v1.15h-4.49zM60.41 200.35h4.49v1.15h-4.49zM64.75 200.35h4.49v1.15h-4.49zM164.52 200.35h4.53v1.15h-4.53zM25.71 201.36h4.49v1.15h-4.49zM64.75 201.36h4.49v1.15h-4.49zM64.75 202.36h4.49v1.15h-4.49zM129.78 202.36h4.52v1.15h-4.52zM47.4 203.36h4.49v1.15h-4.49zM51.74 203.36h4.49v1.15h-4.49zM73.42 203.36h4.49v1.15h-4.49zM103.54 203.36h4.52v1.15h-4.52zM112.29 203.36h4.52v1.15h-4.52zM138.53 203.36h4.52v1.15h-4.52zM51.74 204.36h4.49v1.15h-4.49zM38.72 205.36h4.49v1.15h-4.49zM64.75 205.36h4.49v1.15h-4.49zM125.41 205.36h4.52v1.15h-4.52zM121.03 206.36h4.52v1.15h-4.52zM21.38 208.36h4.49v1.15h-4.49zM73.42 208.36h4.49v1.15h-4.49zM90.42 208.36h4.52v1.15h-4.52zM134.15 208.36h4.52v1.15h-4.52zM21.38 209.37h4.49v1.15h-4.49zM94.8 209.37h4.52v1.15h-4.52zM155.76 209.37h4.53v1.15h-4.53zM51.74 210.37h4.49v1.15h-4.49zM116.66 210.37h4.52v1.15h-4.52zM38.72 211.37h4.49v1.15h-4.49zM34.39 212.37h4.49v1.15h-4.49zM60.41 212.37h4.49v1.15h-4.49zM64.75 212.37h4.49v1.15h-4.49zM73.42 212.37h4.49v1.15h-4.49zM12.7 213.37h4.49v1.15h-4.49zM116.66 213.37h4.52v1.15h-4.52zM38.72 214.37h4.49v1.15h-4.49zM77.76 215.37h4.49v1.15h-4.49zM99.17 215.37h4.52v1.15h-4.52zM129.78 216.38h4.52v1.15h-4.52zM47.4 217.38h4.49v1.15h-4.49zM60.41 217.38h4.49v1.15h-4.49zM99.17 217.38h4.52v1.15h-4.52zM138.53 217.38h4.52v1.15h-4.52zM25.71 218.38h4.49v1.15h-4.49zM60.41 219.38h4.49v1.15h-4.49zM34.39 220.38h4.49v1.15h-4.49zM125.41 220.38h4.52v1.15h-4.52zM12.7 221.38h4.49v1.15h-4.49zM47.4 221.38h4.49v1.15h-4.49zM51.74 221.38h4.49v1.15h-4.49zM134.15 222.38h4.52v1.15h-4.52zM47.4 223.38h4.49v1.15h-4.49zM60.41 223.38h4.49v1.15h-4.49zM64.75 223.38h4.49v1.15h-4.49zM121.03 223.38h4.52v1.15h-4.52zM12.7 224.39h4.49v1.15h-4.49zM64.75 224.39h4.49v1.15h-4.49zM12.7 225.39h4.49v1.15h-4.49zM64.75 225.39h4.49v1.15h-4.49zM77.76 225.39h4.49v1.15h-4.49zM94.8 225.39h4.52v1.15h-4.52zM147 225.39h4.53v1.15h-4.53zM34.39 226.39h4.49v1.15h-4.49zM47.4 226.39h4.49v1.15h-4.49zM60.41 226.39h4.49v1.15h-4.49zM99.17 226.39h4.52v1.15h-4.52zM47.4 227.39h4.49v1.15h-4.49zM125.41 227.39h4.52v1.15h-4.52zM73.42 230.39h4.49v1.15h-4.49zM107.92 231.4h4.52v1.15h-4.52zM121.03 231.4h4.52v1.15h-4.52zM12.7 232.4h4.49v1.15h-4.49zM64.75 232.4h4.49v1.15h-4.49zM129.78 232.4h4.52v1.15h-4.52zM12.7 233.4h4.49v1.15h-4.49zM25.71 233.4h4.49v1.15h-4.49zM51.74 233.4h4.49v1.15h-4.49zM64.75 233.4h4.49v1.15h-4.49zM77.76 233.4h4.49v1.15h-4.49zM164.52 233.4h4.53v1.15h-4.53zM51.74 234.4h4.49v1.15h-4.49zM107.92 234.4h4.52v1.15h-4.52zM47.4 235.4h4.49v1.15h-4.49zM60.41 235.4h4.49v1.15h-4.49zM103.54 235.4h4.52v1.15h-4.52zM60.41 236.4h4.49v1.15h-4.49zM64.75 236.4h4.49v1.15h-4.49zM12.7 237.4h4.49v1.15h-4.49zM38.72 237.4h4.49v1.15h-4.49zM47.4 237.4h4.49v1.15h-4.49zM51.74 237.4h4.49v1.15h-4.49zM64.75 237.4h4.49v1.15h-4.49zM107.92 237.4h4.52v1.15h-4.52zM164.52 237.4h4.53v1.15h-4.53zM12.7 238.4h4.49v1.15h-4.49zM38.72 238.4h4.49v1.15h-4.49zM60.41 238.4h4.49v1.15h-4.49zM64.75 239.41h4.49v1.15h-4.49zM73.42 239.41h4.49v1.15h-4.49zM25.71 240.41h4.49v1.15h-4.49zM51.74 240.41h4.49v1.15h-4.49zM60.41 240.41h4.49v1.15h-4.49zM94.8 240.41h4.52v1.15h-4.52zM12.7 241.41h4.49v1.15h-4.49zM64.75 241.41h4.49v1.15h-4.49zM25.71 242.41h4.49v1.15h-4.49zM77.76 242.41h4.49v1.15h-4.49zM125.41 242.41h4.52v1.15h-4.52zM12.7 243.41h4.49v1.15h-4.49zM12.7 244.41h4.49v1.15h-4.49zM51.74 244.41h4.49v1.15h-4.49zM64.75 244.41h4.49v1.15h-4.49zM73.42 244.41h4.49v1.15h-4.49zM77.76 244.41h4.49v1.15h-4.49zM12.7 245.41h4.49v1.15h-4.49zM25.71 245.41h4.49v1.15h-4.49zM64.75 245.41h4.49v1.15h-4.49zM60.41 246.42h4.49v1.15h-4.49zM129.78 246.42h4.52v1.15h-4.52zM51.74 247.42h4.49v1.15h-4.49zM64.75 247.42h4.49v1.15h-4.49zM51.74 248.42h4.49v1.15h-4.49zM73.42 249.42h4.49v1.15h-4.49zM99.17 249.42h4.52v1.15h-4.52zM51.74 250.42h4.49v1.15h-4.49zM64.75 250.42h4.49v1.15h-4.49zM25.71 251.42h4.49v1.15h-4.49zM64.75 251.42h4.49v1.15h-4.49zM94.8 251.42h4.52v1.15h-4.52zM107.92 251.42h4.52v1.15h-4.52zM51.74 252.42h4.49v1.15h-4.49zM73.42 252.42h4.49v1.15h-4.49zM51.74 253.43h4.49v1.15h-4.49zM21.38 254.43h4.49v1.15h-4.49zM60.41 254.43h4.49v1.15h-4.49zM73.42 254.43h4.49v1.15h-4.49zM112.29 254.43h4.52v1.15h-4.52zM134.15 254.43h4.52v1.15h-4.52zM60.41 255.43h4.49v1.15h-4.49zM77.76 256.43h4.49v1.15h-4.49zM47.4 257.43h4.49v1.15h-4.49zM73.42 257.43h4.49v1.15h-4.49zM60.41 258.43h4.49v1.15h-4.49zM64.75 258.43h4.49v1.15h-4.49zM77.76 258.43h4.49v1.15h-4.49zM47.4 259.43h4.49v1.15h-4.49zM77.76 260.43h4.49v1.15h-4.49zM64.75 261.44h4.49v1.15h-4.49zM138.53 261.44h4.52v1.15h-4.52zM21.38 263.44h4.49v1.15h-4.49zM60.41 263.44h4.49v1.15h-4.49zM47.4 264.44h4.49v1.15h-4.49zM60.41 264.44h4.49v1.15h-4.49zM73.42 264.44h4.49v1.15h-4.49zM112.29 264.44h4.52v1.15h-4.52zM12.7 265.44h4.49v1.15h-4.49zM47.4 265.44h4.49v1.15h-4.49zM64.75 265.44h4.49v1.15h-4.49zM77.76 265.44h4.49v1.15h-4.49zM47.4 266.44h4.49v1.15h-4.49zM125.41 266.44h4.52v1.15h-4.52zM12.7 267.44h4.49v1.15h-4.49zM129.78 267.44h4.52v1.15h-4.52zM12.7 268.45h4.49v1.15h-4.49zM64.75 269.45h4.49v1.15h-4.49zM25.71 270.45h4.49v1.15h-4.49zM77.76 270.45h4.49v1.15h-4.49zM103.54 270.45h4.52v1.15h-4.52zM12.7 272.45h4.49v1.15h-4.49zM107.92 272.45h4.52v1.15h-4.52zM134.15 272.45h4.52v1.15h-4.52zM47.4 274.45h4.49v1.15h-4.49zM51.74 276.46h4.49v1.15h-4.49zM47.4 277.46h4.49v1.15h-4.49zM51.74 277.46h4.49v1.15h-4.49zM64.75 279.46h4.49v1.15h-4.49zM77.76 280.46h4.49v1.15h-4.49zM134.15 280.46h4.52v1.15h-4.52zM47.4 281.46h4.49v1.15h-4.49zM77.76 282.46h4.49v1.15h-4.49zM164.52 282.46h4.53v1.15h-4.53zM73.42 283.47h4.49v1.15h-4.49zM60.41 284.47h4.49v1.15h-4.49zM25.71 285.47h4.49v1.15h-4.49zM51.74 285.47h4.49v1.15h-4.49zM64.75 285.47h4.49v1.15h-4.49zM77.76 285.47h4.49v1.15h-4.49zM47.4 286.47h4.49v1.15h-4.49zM60.41 286.47h4.49v1.15h-4.49zM77.76 288.47h4.49v1.15h-4.49zM12.7 290.47h4.49v1.15h-4.49zM51.74 290.47h4.49v1.15h-4.49zM47.4 291.48h4.49v1.15h-4.49zM51.74 292.48h4.49v1.15h-4.49zM25.71 293.48h4.49v1.15h-4.49zM47.4 294.48h4.49v1.15h-4.49zM73.42 294.48h4.49v1.15h-4.49zM12.7 295.48h4.49v1.15h-4.49zM25.71 295.48h4.49v1.15h-4.49zM77.76 295.48h4.49v1.15h-4.49zM116.66 295.48h4.52v1.15h-4.52zM116.66 296.48h4.52v1.15h-4.52zM21.38 297.48h4.49v1.15h-4.49zM60.41 297.48h4.49v1.15h-4.49zM64.75 297.48h4.49v1.15h-4.49zM12.7 298.49h4.49v1.15h-4.49zM38.72 298.49h4.49v1.15h-4.49zM12.7 299.49h4.49v1.15h-4.49zM47.4 299.49h4.49v1.15h-4.49zM64.75 299.49h4.49v1.15h-4.49zM73.42 299.49h4.49v1.15h-4.49zM47.4 300.49h4.49v1.15h-4.49zM73.42 300.49h4.49v1.15h-4.49zM21.38 301.49h4.49v1.15h-4.49zM47.4 301.49h4.49v1.15h-4.49zM64.75 301.49h4.49v1.15h-4.49zM34.39 302.49h4.49v1.15h-4.49zM64.75 302.49h4.49v1.15h-4.49zM73.42 303.49h4.49v1.15h-4.49zM116.66 304.49h4.52v1.15h-4.52zM25.71 305.49h4.49v1.15h-4.49zM38.72 305.49h4.49v1.15h-4.49zM64.75 305.49h4.49v1.15h-4.49zM12.7 306.5h4.49v1.15h-4.49zM38.72 306.5h4.49v1.15h-4.49zM51.74 306.5h4.49v1.15h-4.49zM64.75 306.5h4.49v1.15h-4.49zM77.76 306.5h4.49v1.15h-4.49zM116.66 307.5h4.52v1.15h-4.52zM47.4 308.5h4.49v1.15h-4.49z"/>
<path fill="#120000" d="M30.05 86.2h4.49v1.15h-4.49zM43.06 86.2h4.49v1.15h-4.49zM30.05 87.2h4.49v1.15h-4.49zM30.05 88.2h4.49v1.15h-4.49zM56.07 88.2h4.49v1.15h-4.49zM164.52 88.2h4.53v1.15h-4.53zM17.04 89.21h4.49v1.15h-4.49zM21.38 89.21h4.49v1.15h-4.49zM60.41 89.21h4.49v1.15h-4.49zM90.42 90.21h4.52v1.15h-4.52zM94.8 90.21h4.52v1.15h-4.52zM164.52 91.21h4.53v1.15h-4.53zM30.05 94.21h4.49v1.15h-4.49zM43.06 94.21h4.49v1.15h-4.49zM86.05 94.21h4.52v1.15h-4.52zM17.04 95.21h4.49v1.15h-4.49zM129.78 95.21h4.52v1.15h-4.52zM30.05 96.21h4.49v1.15h-4.49zM69.09 96.21h4.49v1.15h-4.49zM21.38 99.22h4.49v1.15h-4.49zM30.05 100.22h4.49v1.15h-4.49zM69.09 100.22h4.49v1.15h-4.49zM17.04 101.22h4.49v1.15h-4.49zM30.05 102.22h4.49v1.15h-4.49zM17.04 103.22h4.49v1.15h-4.49zM17.04 104.23h4.49v1.15h-4.49zM43.06 104.23h4.49v1.15h-4.49zM56.07 104.23h4.49v1.15h-4.49zM129.78 104.23h4.52v1.15h-4.52zM17.04 105.23h4.49v1.15h-4.49zM30.05 105.23h4.49v1.15h-4.49zM43.06 105.23h4.49v1.15h-4.49zM164.52 105.23h4.53v1.15h-4.53zM69.09 106.23h4.49v1.15h-4.49zM30.05 107.23h4.49v1.15h-4.49zM43.06 107.23h4.49v1.15h-4.49zM69.09 107.23h4.49v1.15h-4.49zM17.04 108.23h4.49v1.15h-4.49zM56.07 108.23h4.49v1.15h-4.49zM86.05 108.23h4.52v1.15h-4.52zM164.52 108.23h4.53v1.15h-4.53zM17.04 109.23h4.49v1.15h-4.49zM43.06 109.23h4.49v1.15h-4.49zM69.09 109.23h4.49v1.15h-4.49zM43.06 110.23h4.49v1.15h-4.49zM21.38 111.23h4.49v1.15h-4.49zM60.41 111.23h4.49v1.15h-4.49zM30.05 112.24h4.49v1.15h-4.49zM43.06 112.24h4.49v1.15h-4.49zM134.15 112.24h4.52v1.15h-4.52zM138.53 112.24h4.52v1.15h-4.52zM17.04 113.24h4.49v1.15h-4.49zM129.78 114.24h4.52v1.15h-4.52zM56.07 115.24h4.49v1.15h-4.49zM90.42 115.24h4.52v1.15h-4.52zM125.41 115.24h4.52v1.15h-4.52zM69.09 116.24h4.49v1.15h-4.49zM94.8 116.24h4.52v1.15h-4.52zM43.06 117.24h4.49v1.15h-4.49zM56.07 117.24h4.49v1.15h-4.49zM94.8 117.24h4.52v1.15h-4.52zM69.09 118.24h4.49v1.15h-4.49zM129.78 118.24h4.52v1.15h-4.52zM17.04 119.25h4.49v1.15h-4.49zM43.06 119.25h4.49v1.15h-4.49zM17.04 120.25h4.49v1.15h-4.49zM30.05 121.25h4.49v1.15h-4.49zM43.06 121.25h4.49v1.15h-4.49zM56.07 121.25h4.49v1.15h-4.49zM107.92 121.25h4.52v1.15h-4.52zM121.03 121.25h4.52v1.15h-4.52zM17.04 122.25h4.49v1.15h-4.49zM56.07 122.25h4.49v1.15h-4.49zM90.42 122.25h4.52v1.15h-4.52zM94.8 122.25h4.52v1.15h-4.52zM99.17 122.25h4.52v1.15h-4.52zM112.29 122.25h4.52v1.15h-4.52zM30.05 123.25h4.49v1.15h-4.49zM69.09 123.25h4.49v1.15h-4.49zM129.78 123.25h4.52v1.15h-4.52zM21.38 124.25h4.49v1.15h-4.49zM69.09 124.25h4.49v1.15h-4.49zM121.03 124.25h4.52v1.15h-4.52zM125.41 124.25h4.52v1.15h-4.52zM30.05 125.25h4.49v1.15h-4.49zM43.06 125.25h4.49v1.15h-4.49zM90.42 125.25h4.52v1.15h-4.52zM90.42 126.25h4.52v1.15h-4.52zM43.06 127.26h4.49v1.15h-4.49zM86.05 127.26h4.52v1.15h-4.52zM34.39 128.26h4.49v1.15h-4.49zM43.06 128.26h4.49v1.15h-4.49zM56.07 128.26h4.49v1.15h-4.49zM90.42 128.26h4.52v1.15h-4.52zM129.78 128.26h4.52v1.15h-4.52zM17.04 129.26h4.49v1.15h-4.49zM112.29 129.26h4.52v1.15h-4.52zM30.05 130.26h4.49v1.15h-4.49zM17.04 131.26h4.49v1.15h-4.49zM43.06 131.26h4.49v1.15h-4.49zM56.07 131.26h4.49v1.15h-4.49zM164.52 131.26h4.53v1.15h-4.53zM21.38 132.26h4.49v1.15h-4.49zM69.09 133.26h4.49v1.15h-4.49zM30.05 134.27h4.49v1.15h-4.49zM69.09 134.27h4.49v1.15h-4.49zM86.05 134.27h4.52v1.15h-4.52zM90.42 134.27h4.52v1.15h-4.52zM86.05 135.27h4.52v1.15h-4.52zM43.06 136.27h4.49v1.15h-4.49zM69.09 136.27h4.49v1.15h-4.49zM99.17 136.27h4.52v1.15h-4.52zM112.29 136.27h4.52v1.15h-4.52zM125.41 136.27h4.52v1.15h-4.52zM69.09 138.27h4.49v1.15h-4.49zM125.41 138.27h4.52v1.15h-4.52zM43.06 139.27h4.49v1.15h-4.49zM56.07 139.27h4.49v1.15h-4.49zM69.09 139.27h4.49v1.15h-4.49zM112.29 139.27h4.52v1.15h-4.52zM43.06 140.27h4.49v1.15h-4.49zM69.09 140.27h4.49v1.15h-4.49zM30.05 141.28h4.49v1.15h-4.49zM43.06 141.28h4.49v1.15h-4.49zM56.07 141.28h4.49v1.15h-4.49zM69.09 141.28h4.49v1.15h-4.49zM107.92 141.28h4.52v1.15h-4.52zM125.41 141.28h4.52v1.15h-4.52zM90.42 142.28h4.52v1.15h-4.52zM112.29 142.28h4.52v1.15h-4.52zM121.03 142.28h4.52v1.15h-4.52zM129.78 142.28h4.52v1.15h-4.52zM86.05 143.28h4.52v1.15h-4.52zM17.04 144.28h4.49v1.15h-4.49zM69.09 144.28h4.49v1.15h-4.49zM107.92 144.28h4.52v1.15h-4.52zM43.06 145.28h4.49v1.15h-4.49zM164.52 145.28h4.53v1.15h-4.53zM30.05 146.28h4.49v1.15h-4.49zM43.06 146.28h4.49v1.15h-4.49zM56.07 146.28h4.49v1.15h-4.49zM129.78 146.28h4.52v1.15h-4.52zM30.05 147.28h4.49v1.15h-4.49zM43.06 147.28h4.49v1.15h-4.49zM56.07 147.28h4.49v1.15h-4.49zM99.17 148.28h4.52v1.15h-4.52zM103.54 148.28h4.52v1.15h-4.52zM107.92 148.28h4.52v1.15h-4.52zM129.78 148.28h4.52v1.15h-4.52zM17.04 149.29h4.49v1.15h-4.49zM129.78 149.29h4.52v1.15h-4.52zM17.04 150.29h4.49v1.15h-4.49zM43.06 150.29h4.49v1.15h-4.49zM69.09 150.29h4.49v1.15h-4.49zM30.05 151.29h4.49v1.15h-4.49zM43.06 151.29h4.49v1.15h-4.49zM30.05 152.29h4.49v1.15h-4.49zM90.42 152.29h4.52v1.15h-4.52zM94.8 152.29h4.52v1.15h-4.52zM134.15 152.29h4.52v1.15h-4.52zM43.06 153.29h4.49v1.15h-4.49zM30.05 154.29h4.49v1.15h-4.49zM17.04 155.29h4.49v1.15h-4.49zM30.05 155.29h4.49v1.15h-4.49zM17.04 156.3h4.49v1.15h-4.49zM30.05 156.3h4.49v1.15h-4.49zM43.06 156.3h4.49v1.15h-4.49zM164.52 156.3h4.53v1.15h-4.53zM43.06 158.3h4.49v1.15h-4.49zM90.42 158.3h4.52v1.15h-4.52zM17.04 159.3h4.49v1.15h-4.49zM43.06 159.3h4.49v1.15h-4.49zM56.07 159.3h4.49v1.15h-4.49zM103.54 159.3h4.52v1.15h-4.52zM151.38 159.3h4.53v1.15h-4.53zM160.14 159.3h4.53v1.15h-4.53zM164.52 159.3h4.53v1.15h-4.53zM21.38 160.3h4.49v1.15h-4.49zM43.06 160.3h4.49v1.15h-4.49zM94.8 160.3h4.52v1.15h-4.52zM112.29 160.3h4.52v1.15h-4.52zM138.53 160.3h4.52v1.15h-4.52zM121.03 161.3h4.52v1.15h-4.52zM103.54 162.3h4.52v1.15h-4.52zM17.04 163.3h4.49v1.15h-4.49zM107.92 163.3h4.52v1.15h-4.52zM17.04 164.31h4.49v1.15h-4.49zM134.15 164.31h4.52v1.15h-4.52zM30.05 166.31h4.49v1.15h-4.49zM129.78 167.31h4.52v1.15h-4.52zM138.53 167.31h4.52v1.15h-4.52zM69.09 168.31h4.49v1.15h-4.49zM99.17 168.31h4.52v1.15h-4.52zM134.15 168.31h4.52v1.15h-4.52zM21.38 169.31h4.49v1.15h-4.49zM30.05 169.31h4.49v1.15h-4.49zM43.06 169.31h4.49v1.15h-4.49zM69.09 169.31h4.49v1.15h-4.49zM164.52 169.31h4.53v1.15h-4.53zM43.06 170.31h4.49v1.15h-4.49zM134.15 170.31h4.52v1.15h-4.52zM43.06 171.32h4.49v1.15h-4.49zM69.09 171.32h4.49v1.15h-4.49zM112.29 171.32h4.52v1.15h-4.52zM134.15 171.32h4.52v1.15h-4.52zM90.42 172.32h4.52v1.15h-4.52zM43.06 174.32h4.49v1.15h-4.49zM90.42 174.32h4.52v1.15h-4.52zM129.78 174.32h4.52v1.15h-4.52zM30.05 175.32h4.49v1.15h-4.49zM43.06 176.32h4.49v1.15h-4.49zM155.76 176.32h4.53v1.15h-4.53zM164.52 177.32h4.53v1.15h-4.53zM21.38 178.32h4.49v1.15h-4.49zM151.38 178.32h4.53v1.15h-4.53zM164.52 178.32h4.53v1.15h-4.53zM30.05 179.33h4.49v1.15h-4.49zM69.09 180.33h4.49v1.15h-4.49zM30.05 182.33h4.49v1.15h-4.49zM43.06 182.33h4.49v1.15h-4.49zM69.09 182.33h4.49v1.15h-4.49zM69.09 183.33h4.49v1.15h-4.49zM17.04 184.33h4.49v1.15h-4.49zM43.06 184.33h4.49v1.15h-4.49zM69.09 185.33h4.49v1.15h-4.49zM164.52 185.33h4.53v1.15h-4.53zM21.38 186.34h4.49v1.15h-4.49zM69.09 187.34h4.49v1.15h-4.49zM160.14 187.34h4.53v1.15h-4.53zM43.06 188.34h4.49v1.15h-4.49zM164.52 188.34h4.53v1.15h-4.53zM43.06 189.34h4.49v1.15h-4.49zM56.07 190.34h4.49v1.15h-4.49zM69.09 190.34h4.49v1.15h-4.49zM56.07 191.34h4.49v1.15h-4.49zM17.04 192.34h4.49v1.15h-4.49zM56.07 192.34h4.49v1.15h-4.49zM43.06 193.34h4.49v1.15h-4.49zM17.04 194.35h4.49v1.15h-4.49zM30.05 195.35h4.49v1.15h-4.49zM43.06 195.35h4.49v1.15h-4.49zM69.09 195.35h4.49v1.15h-4.49zM30.05 196.35h4.49v1.15h-4.49zM43.06 196.35h4.49v1.15h-4.49zM69.09 196.35h4.49v1.15h-4.49zM69.09 197.35h4.49v1.15h-4.49zM43.06 198.35h4.49v1.15h-4.49zM17.04 199.35h4.49v1.15h-4.49zM164.52 199.35h4.53v1.15h-4.53zM30.05 200.35h4.49v1.15h-4.49zM134.15 200.35h4.52v1.15h-4.52zM17.04 201.36h4.49v1.15h-4.49zM69.09 201.36h4.49v1.15h-4.49zM116.66 201.36h4.52v1.15h-4.52zM43.06 202.36h4.49v1.15h-4.49zM121.03 202.36h4.52v1.15h-4.52zM56.07 203.36h4.49v1.15h-4.49zM69.09 203.36h4.49v1.15h-4.49zM17.04 204.36h4.49v1.15h-4.49zM30.05 204.36h4.49v1.15h-4.49zM116.66 204.36h4.52v1.15h-4.52zM17.04 205.36h4.49v1.15h-4.49zM56.07 205.36h4.49v1.15h-4.49zM116.66 205.36h4.52v1.15h-4.52zM30.05 206.36h4.49v1.15h-4.49zM69.09 206.36h4.49v1.15h-4.49zM30.05 207.36h4.49v1.15h-4.49zM43.06 207.36h4.49v1.15h-4.49zM107.92 207.36h4.52v1.15h-4.52zM112.29 207.36h4.52v1.15h-4.52zM164.52 208.36h4.53v1.15h-4.53zM17.04 210.37h4.49v1.15h-4.49zM56.07 210.37h4.49v1.15h-4.49zM69.09 210.37h4.49v1.15h-4.49zM56.07 211.37h4.49v1.15h-4.49zM30.05 212.37h4.49v1.15h-4.49zM30.05 213.37h4.49v1.15h-4.49zM43.06 213.37h4.49v1.15h-4.49zM69.09 213.37h4.49v1.15h-4.49zM69.09 214.37h4.49v1.15h-4.49zM164.52 214.37h4.53v1.15h-4.53zM17.04 215.37h4.49v1.15h-4.49zM30.05 215.37h4.49v1.15h-4.49zM116.66 215.37h4.52v1.15h-4.52zM121.03 215.37h4.52v1.15h-4.52zM17.04 216.38h4.49v1.15h-4.49zM43.06 216.38h4.49v1.15h-4.49zM116.66 217.38h4.52v1.15h-4.52zM116.66 218.38h4.52v1.15h-4.52zM164.52 221.38h4.53v1.15h-4.53zM56.07 223.38h4.49v1.15h-4.49zM112.29 223.38h4.52v1.15h-4.52zM17.04 224.39h4.49v1.15h-4.49zM30.05 224.39h4.49v1.15h-4.49zM17.04 226.39h4.49v1.15h-4.49zM69.09 226.39h4.49v1.15h-4.49zM164.52 226.39h4.53v1.15h-4.53zM99.17 228.39h4.52v1.15h-4.52zM30.05 229.39h4.49v1.15h-4.49zM69.09 229.39h4.49v1.15h-4.49zM69.09 230.39h4.49v1.15h-4.49zM107.92 230.39h4.52v1.15h-4.52zM30.05 231.4h4.49v1.15h-4.49zM43.06 231.4h4.49v1.15h-4.49zM69.09 231.4h4.49v1.15h-4.49zM17.04 232.4h4.49v1.15h-4.49zM30.05 232.4h4.49v1.15h-4.49zM43.06 232.4h4.49v1.15h-4.49zM56.07 232.4h4.49v1.15h-4.49zM30.05 233.4h4.49v1.15h-4.49zM34.39 233.4h4.49v1.15h-4.49zM116.66 233.4h4.52v1.15h-4.52zM43.06 234.4h4.49v1.15h-4.49zM56.07 234.4h4.49v1.15h-4.49zM30.05 235.4h4.49v1.15h-4.49zM125.41 235.4h4.52v1.15h-4.52zM129.78 235.4h4.52v1.15h-4.52zM21.38 236.4h4.49v1.15h-4.49zM30.05 236.4h4.49v1.15h-4.49zM56.07 237.4h4.49v1.15h-4.49zM17.04 238.4h4.49v1.15h-4.49zM56.07 238.4h4.49v1.15h-4.49zM17.04 240.41h4.49v1.15h-4.49zM30.05 240.41h4.49v1.15h-4.49zM56.07 240.41h4.49v1.15h-4.49zM17.04 241.41h4.49v1.15h-4.49zM125.41 241.41h4.52v1.15h-4.52zM129.78 241.41h4.52v1.15h-4.52zM134.15 241.41h4.52v1.15h-4.52zM138.53 241.41h4.52v1.15h-4.52zM164.52 242.41h4.53v1.15h-4.53zM164.52 244.41h4.53v1.15h-4.53zM17.04 245.41h4.49v1.15h-4.49zM69.09 246.42h4.49v1.15h-4.49zM99.17 246.42h4.52v1.15h-4.52zM17.04 247.42h4.49v1.15h-4.49zM94.8 247.42h4.52v1.15h-4.52zM134.15 247.42h4.52v1.15h-4.52zM30.05 248.42h4.49v1.15h-4.49zM121.03 248.42h4.52v1.15h-4.52zM17.04 249.42h4.49v1.15h-4.49zM30.05 250.42h4.49v1.15h-4.49zM21.38 251.42h4.49v1.15h-4.49zM56.07 251.42h4.49v1.15h-4.49zM164.52 251.42h4.53v1.15h-4.53zM17.04 252.42h4.49v1.15h-4.49zM30.05 252.42h4.49v1.15h-4.49zM69.09 252.42h4.49v1.15h-4.49zM17.04 253.43h4.49v1.15h-4.49zM30.05 253.43h4.49v1.15h-4.49zM56.07 253.43h4.49v1.15h-4.49zM30.05 254.43h4.49v1.15h-4.49zM164.52 254.43h4.53v1.15h-4.53zM164.52 256.43h4.53v1.15h-4.53zM43.06 257.43h4.49v1.15h-4.49zM125.41 257.43h4.52v1.15h-4.52zM164.52 257.43h4.53v1.15h-4.53zM17.04 258.43h4.49v1.15h-4.49zM69.09 258.43h4.49v1.15h-4.49zM164.52 258.43h4.53v1.15h-4.53zM56.07 259.43h4.49v1.15h-4.49zM17.04 260.43h4.49v1.15h-4.49zM69.09 260.43h4.49v1.15h-4.49zM17.04 261.44h4.49v1.15h-4.49zM30.05 261.44h4.49v1.15h-4.49zM43.06 261.44h4.49v1.15h-4.49zM116.66 261.44h4.52v1.15h-4.52zM30.05 262.44h4.49v1.15h-4.49zM69.09 262.44h4.49v1.15h-4.49zM43.06 263.44h4.49v1.15h-4.49zM30.05 264.44h4.49v1.15h-4.49zM43.06 264.44h4.49v1.15h-4.49zM164.52 264.44h4.53v1.15h-4.53zM17.04 265.44h4.49v1.15h-4.49zM116.66 265.44h4.52v1.15h-4.52zM43.06 266.44h4.49v1.15h-4.49zM30.05 268.45h4.49v1.15h-4.49zM43.06 268.45h4.49v1.15h-4.49zM30.05 269.45h4.49v1.15h-4.49zM125.41 269.45h4.52v1.15h-4.52zM30.05 270.45h4.49v1.15h-4.49zM43.06 270.45h4.49v1.15h-4.49zM121.03 270.45h4.52v1.15h-4.52zM138.53 270.45h4.52v1.15h-4.52zM17.04 271.45h4.49v1.15h-4.49zM56.07 271.45h4.49v1.15h-4.49zM17.04 272.45h4.49v1.15h-4.49zM43.06 272.45h4.49v1.15h-4.49zM69.09 273.45h4.49v1.15h-4.49zM116.66 274.45h4.52v1.15h-4.52zM56.07 275.45h4.49v1.15h-4.49zM116.66 276.46h4.52v1.15h-4.52zM69.09 278.46h4.49v1.15h-4.49zM30.05 279.46h4.49v1.15h-4.49zM43.06 280.46h4.49v1.15h-4.49zM69.09 280.46h4.49v1.15h-4.49zM43.06 282.46h4.49v1.15h-4.49zM69.09 282.46h4.49v1.15h-4.49zM43.06 284.47h4.49v1.15h-4.49zM69.09 284.47h4.49v1.15h-4.49zM30.05 285.47h4.49v1.15h-4.49zM69.09 287.47h4.49v1.15h-4.49zM30.05 289.47h4.49v1.15h-4.49zM73.42 290.47h4.49v1.15h-4.49zM17.04 291.48h4.49v1.15h-4.49zM43.06 291.48h4.49v1.15h-4.49zM56.07 291.48h4.49v1.15h-4.49zM69.09 291.48h4.49v1.15h-4.49zM116.66 291.48h4.52v1.15h-4.52zM56.07 292.48h4.49v1.15h-4.49zM21.38 293.48h4.49v1.15h-4.49zM69.09 294.48h4.49v1.15h-4.49zM17.04 295.48h4.49v1.15h-4.49zM69.09 297.48h4.49v1.15h-4.49zM17.04 298.49h4.49v1.15h-4.49zM69.09 298.49h4.49v1.15h-4.49zM116.66 298.49h4.52v1.15h-4.52zM17.04 299.49h4.49v1.15h-4.49zM30.05 300.49h4.49v1.15h-4.49zM43.06 300.49h4.49v1.15h-4.49zM30.05 301.49h4.49v1.15h-4.49zM116.66 301.49h4.52v1.15h-4.52zM43.06 303.49h4.49v1.15h-4.49zM17.04 304.49h4.49v1.15h-4.49zM30.05 304.49h4.49v1.15h-4.49zM43.06 306.5h4.49v1.15h-4.49zM56.07 306.5h4.49v1.15h-4.49zM21.38 307.5h4.49v1.15h-4.49zM34.39 307.5h4.49v1.15h-4.49zM56.07 307.5h4.49v1.15h-4.49zM17.04 308.5h4.49v1.15h-4.49zM30.05 308.5h4.49v1.15h-4.49zM69.09 308.5h4.49v1.15h-4.49z"/>
<path fill="#000000" d="M60.41 86.2h4.49v1.15h-4.49zM64.75 86.2h4.49v1.15h-4.49zM21.38 87.2h4.49v1.15h-4.49zM34.39 87.2h4.49v1.15h-4.49zM60.41 88.2h4.49v1.15h-4.49zM73.42 88.2h4.49v1.15h-4.49zM73.42 89.21h4.49v1.15h-4.49zM47.4 90.21h4.49v1.15h-4.49zM60.41 90.21h4.49v1.15h-4.49zM73.42 90.21h4.49v1.15h-4.49zM17.04 91.21h4.49v1.15h-4.49zM21.38 91.21h4.49v1.15h-4.49zM21.38 92.21h4.49v1.15h-4.49zM34.39 92.21h4.49v1.15h-4.49zM43.06 92.21h4.49v1.15h-4.49zM73.42 93.21h4.49v1.15h-4.49zM21.38 94.21h4.49v1.15h-4.49zM34.39 94.21h4.49v1.15h-4.49zM60.41 94.21h4.49v1.15h-4.49zM73.42 94.21h4.49v1.15h-4.49zM34.39 95.21h4.49v1.15h-4.49zM38.72 95.21h4.49v1.15h-4.49zM73.42 95.21h4.49v1.15h-4.49zM60.41 97.22h4.49v1.15h-4.49zM34.39 98.22h4.49v1.15h-4.49zM47.4 98.22h4.49v1.15h-4.49zM73.42 98.22h4.49v1.15h-4.49zM56.07 99.22h4.49v1.15h-4.49zM34.39 100.22h4.49v1.15h-4.49zM60.41 100.22h4.49v1.15h-4.49zM47.4 101.22h4.49v1.15h-4.49zM73.42 101.22h4.49v1.15h-4.49zM34.39 102.22h4.49v1.15h-4.49zM56.07 102.22h4.49v1.15h-4.49zM34.39 103.22h4.49v1.15h-4.49zM34.39 105.23h4.49v1.15h-4.49zM73.42 105.23h4.49v1.15h-4.49zM21.38 107.23h4.49v1.15h-4.49zM34.39 107.23h4.49v1.15h-4.49zM47.4 107.23h4.49v1.15h-4.49zM60.41 107.23h4.49v1.15h-4.49zM73.42 107.23h4.49v1.15h-4.49zM60.41 108.23h4.49v1.15h-4.49zM17.04 110.23h4.49v1.15h-4.49zM21.38 110.23h4.49v1.15h-4.49zM34.39 110.23h4.49v1.15h-4.49zM34.39 111.23h4.49v1.15h-4.49zM64.75 111.23h4.49v1.15h-4.49zM21.38 112.24h4.49v1.15h-4.49zM73.42 112.24h4.49v1.15h-4.49zM21.38 113.24h4.49v1.15h-4.49zM34.39 113.24h4.49v1.15h-4.49zM107.92 114.24h4.52v1.15h-4.52zM73.42 115.24h4.49v1.15h-4.49zM86.05 115.24h4.52v1.15h-4.52zM94.8 115.24h4.52v1.15h-4.52zM99.17 115.24h4.52v1.15h-4.52zM21.38 117.24h4.49v1.15h-4.49zM34.39 118.24h4.49v1.15h-4.49zM47.4 118.24h4.49v1.15h-4.49zM73.42 118.24h4.49v1.15h-4.49zM86.05 118.24h4.52v1.15h-4.52zM56.07 119.25h4.49v1.15h-4.49zM138.53 119.25h4.52v1.15h-4.52zM60.41 120.25h4.49v1.15h-4.49zM86.05 120.25h4.52v1.15h-4.52zM47.4 121.25h4.49v1.15h-4.49zM73.42 121.25h4.49v1.15h-4.49zM129.78 121.25h4.52v1.15h-4.52zM103.54 122.25h4.52v1.15h-4.52zM134.15 122.25h4.52v1.15h-4.52zM17.04 123.25h4.49v1.15h-4.49zM47.4 124.25h4.49v1.15h-4.49zM112.29 124.25h4.52v1.15h-4.52zM17.04 125.25h4.49v1.15h-4.49zM34.39 125.25h4.49v1.15h-4.49zM60.41 125.25h4.49v1.15h-4.49zM21.38 126.25h4.49v1.15h-4.49zM60.41 126.25h4.49v1.15h-4.49zM86.05 126.25h4.52v1.15h-4.52zM125.41 126.25h4.52v1.15h-4.52zM77.76 127.26h4.49v1.15h-4.49zM51.74 128.26h4.49v1.15h-4.49zM60.41 128.26h4.49v1.15h-4.49zM34.39 129.26h4.49v1.15h-4.49zM103.54 130.26h4.52v1.15h-4.52zM21.38 131.26h4.49v1.15h-4.49zM12.7 132.26h4.49v1.15h-4.49zM64.75 132.26h4.49v1.15h-4.49zM77.76 132.26h4.49v1.15h-4.49zM60.41 133.26h4.49v1.15h-4.49zM94.8 133.26h4.52v1.15h-4.52zM121.03 133.26h4.52v1.15h-4.52zM21.38 134.27h4.49v1.15h-4.49zM34.39 134.27h4.49v1.15h-4.49zM47.4 134.27h4.49v1.15h-4.49zM73.42 134.27h4.49v1.15h-4.49zM17.04 135.27h4.49v1.15h-4.49zM21.38 135.27h4.49v1.15h-4.49zM56.07 135.27h4.49v1.15h-4.49zM60.41 135.27h4.49v1.15h-4.49zM60.41 136.27h4.49v1.15h-4.49zM90.42 136.27h4.52v1.15h-4.52zM103.54 136.27h4.52v1.15h-4.52zM47.4 137.27h4.49v1.15h-4.49zM17.04 138.27h4.49v1.15h-4.49zM56.07 138.27h4.49v1.15h-4.49zM21.38 139.27h4.49v1.15h-4.49zM64.75 139.27h4.49v1.15h-4.49zM86.05 139.27h4.52v1.15h-4.52zM17.04 140.27h4.49v1.15h-4.49zM21.38 140.27h4.49v1.15h-4.49zM21.38 141.28h4.49v1.15h-4.49zM34.39 141.28h4.49v1.15h-4.49zM60.41 142.28h4.49v1.15h-4.49zM73.42 142.28h4.49v1.15h-4.49zM103.54 142.28h4.52v1.15h-4.52zM56.07 143.28h4.49v1.15h-4.49zM47.4 144.28h4.49v1.15h-4.49zM60.41 144.28h4.49v1.15h-4.49zM99.17 144.28h4.52v1.15h-4.52zM47.4 145.28h4.49v1.15h-4.49zM60.41 145.28h4.49v1.15h-4.49zM86.05 145.28h4.52v1.15h-4.52zM138.53 145.28h4.52v1.15h-4.52zM21.38 146.28h4.49v1.15h-4.49zM60.41 146.28h4.49v1.15h-4.49zM34.39 147.28h4.49v1.15h-4.49zM107.92 147.28h4.52v1.15h-4.52zM86.05 148.28h4.52v1.15h-4.52zM56.07 150.29h4.49v1.15h-4.49zM56.07 151.29h4.49v1.15h-4.49zM99.17 151.29h4.52v1.15h-4.52zM43.06 152.29h4.49v1.15h-4.49zM56.07 152.29h4.49v1.15h-4.49zM86.05 152.29h4.52v1.15h-4.52zM34.39 153.29h4.49v1.15h-4.49zM90.42 153.29h4.52v1.15h-4.52zM94.8 153.29h4.52v1.15h-4.52zM164.52 153.29h4.53v1.15h-4.53zM17.04 154.29h4.49v1.15h-4.49zM21.38 155.29h4.49v1.15h-4.49zM47.4 155.29h4.49v1.15h-4.49zM60.41 155.29h4.49v1.15h-4.49zM121.03 155.29h4.52v1.15h-4.52zM34.39 156.3h4.49v1.15h-4.49zM60.41 156.3h4.49v1.15h-4.49zM90.42 157.3h4.52v1.15h-4.52zM21.38 158.3h4.49v1.15h-4.49zM147 159.3h4.53v1.15h-4.53zM60.41 160.3h4.49v1.15h-4.49zM129.78 160.3h4.52v1.15h-4.52zM164.52 160.3h4.53v1.15h-4.53zM125.41 161.3h4.52v1.15h-4.52zM129.78 161.3h4.52v1.15h-4.52zM134.15 161.3h4.52v1.15h-4.52zM30.05 162.3h4.49v1.15h-4.49zM43.06 162.3h4.49v1.15h-4.49zM56.07 162.3h4.49v1.15h-4.49zM90.42 162.3h4.52v1.15h-4.52zM112.29 162.3h4.52v1.15h-4.52zM43.06 163.3h4.49v1.15h-4.49zM99.17 163.3h4.52v1.15h-4.52zM129.78 163.3h4.52v1.15h-4.52zM134.15 163.3h4.52v1.15h-4.52zM21.38 164.31h4.49v1.15h-4.49zM34.39 164.31h4.49v1.15h-4.49zM47.4 164.31h4.49v1.15h-4.49zM17.04 165.31h4.49v1.15h-4.49zM30.05 165.31h4.49v1.15h-4.49zM94.8 165.31h4.52v1.15h-4.52zM103.54 165.31h4.52v1.15h-4.52zM129.78 165.31h4.52v1.15h-4.52zM56.07 166.31h4.49v1.15h-4.49zM99.17 166.31h4.52v1.15h-4.52zM107.92 166.31h4.52v1.15h-4.52zM21.38 167.31h4.49v1.15h-4.49zM34.39 167.31h4.49v1.15h-4.49zM90.42 167.31h4.52v1.15h-4.52zM103.54 167.31h4.52v1.15h-4.52zM21.38 168.31h4.49v1.15h-4.49zM34.39 168.31h4.49v1.15h-4.49zM103.54 168.31h4.52v1.15h-4.52zM125.41 168.31h4.52v1.15h-4.52zM60.41 170.31h4.49v1.15h-4.49zM94.8 170.31h4.52v1.15h-4.52zM164.52 170.31h4.53v1.15h-4.53zM21.38 171.32h4.49v1.15h-4.49zM34.39 171.32h4.49v1.15h-4.49zM60.41 171.32h4.49v1.15h-4.49zM116.66 171.32h4.52v1.15h-4.52zM60.41 173.32h4.49v1.15h-4.49zM17.04 174.32h4.49v1.15h-4.49zM86.05 174.32h4.52v1.15h-4.52zM112.29 174.32h4.52v1.15h-4.52zM12.7 175.32h4.49v1.15h-4.49zM60.41 175.32h4.49v1.15h-4.49zM121.03 175.32h4.52v1.15h-4.52zM125.41 175.32h4.52v1.15h-4.52zM34.39 176.32h4.49v1.15h-4.49zM60.41 176.32h4.49v1.15h-4.49zM64.75 176.32h4.49v1.15h-4.49zM73.42 176.32h4.49v1.15h-4.49zM147 176.32h4.53v1.15h-4.53zM47.4 178.32h4.49v1.15h-4.49zM21.38 179.33h4.49v1.15h-4.49zM34.39 179.33h4.49v1.15h-4.49zM60.41 179.33h4.49v1.15h-4.49zM151.38 179.33h4.53v1.15h-4.53zM21.38 180.33h4.49v1.15h-4.49zM56.07 180.33h4.49v1.15h-4.49zM151.38 180.33h4.53v1.15h-4.53zM160.14 180.33h4.53v1.15h-4.53zM21.38 181.33h4.49v1.15h-4.49zM64.75 181.33h4.49v1.15h-4.49zM17.04 182.33h4.49v1.15h-4.49zM21.38 182.33h4.49v1.15h-4.49zM47.4 182.33h4.49v1.15h-4.49zM73.42 182.33h4.49v1.15h-4.49zM155.76 182.33h4.53v1.15h-4.53zM164.52 182.33h4.53v1.15h-4.53zM34.39 183.33h4.49v1.15h-4.49zM147 183.33h4.53v1.15h-4.53zM56.07 184.33h4.49v1.15h-4.49zM21.38 185.33h4.49v1.15h-4.49zM34.39 185.33h4.49v1.15h-4.49zM73.42 185.33h4.49v1.15h-4.49zM47.4 186.34h4.49v1.15h-4.49zM73.42 186.34h4.49v1.15h-4.49zM155.76 186.34h4.53v1.15h-4.53zM60.41 187.34h4.49v1.15h-4.49zM34.39 188.34h4.49v1.15h-4.49zM73.42 188.34h4.49v1.15h-4.49zM34.39 189.34h4.49v1.15h-4.49zM160.14 189.34h4.53v1.15h-4.53zM17.04 190.34h4.49v1.15h-4.49zM47.4 190.34h4.49v1.15h-4.49zM60.41 190.34h4.49v1.15h-4.49zM47.4 191.34h4.49v1.15h-4.49zM99.17 191.34h4.52v1.15h-4.52zM34.39 192.34h4.49v1.15h-4.49zM60.41 192.34h4.49v1.15h-4.49zM64.75 192.34h4.49v1.15h-4.49zM73.42 192.34h4.49v1.15h-4.49zM56.07 193.34h4.49v1.15h-4.49zM30.05 194.35h4.49v1.15h-4.49zM56.07 194.35h4.49v1.15h-4.49zM121.03 194.35h4.52v1.15h-4.52zM21.38 196.35h4.49v1.15h-4.49zM47.4 196.35h4.49v1.15h-4.49zM21.38 197.35h4.49v1.15h-4.49zM30.05 197.35h4.49v1.15h-4.49zM56.07 197.35h4.49v1.15h-4.49zM56.07 198.35h4.49v1.15h-4.49zM116.66 198.35h4.52v1.15h-4.52zM116.66 199.35h4.52v1.15h-4.52zM99.17 200.35h4.52v1.15h-4.52zM125.41 200.35h4.52v1.15h-4.52zM21.38 201.36h4.49v1.15h-4.49zM34.39 201.36h4.49v1.15h-4.49zM73.42 202.36h4.49v1.15h-4.49zM21.38 203.36h4.49v1.15h-4.49zM107.92 203.36h4.52v1.15h-4.52zM34.39 205.36h4.49v1.15h-4.49zM47.4 205.36h4.49v1.15h-4.49zM73.42 205.36h4.49v1.15h-4.49zM21.38 206.36h4.49v1.15h-4.49zM34.39 206.36h4.49v1.15h-4.49zM56.07 206.36h4.49v1.15h-4.49zM116.66 206.36h4.52v1.15h-4.52zM17.04 207.36h4.49v1.15h-4.49zM164.52 207.36h4.53v1.15h-4.53zM30.05 208.36h4.49v1.15h-4.49zM43.06 209.37h4.49v1.15h-4.49zM60.41 209.37h4.49v1.15h-4.49zM90.42 209.37h4.52v1.15h-4.52zM112.29 209.37h4.52v1.15h-4.52zM138.53 209.37h4.52v1.15h-4.52zM34.39 210.37h4.49v1.15h-4.49zM21.38 211.37h4.49v1.15h-4.49zM34.39 211.37h4.49v1.15h-4.49zM94.8 211.37h4.52v1.15h-4.52zM116.66 212.37h4.52v1.15h-4.52zM164.52 212.37h4.53v1.15h-4.53zM21.38 213.37h4.49v1.15h-4.49zM129.78 213.37h4.52v1.15h-4.52zM94.8 215.37h4.52v1.15h-4.52zM134.15 215.37h4.52v1.15h-4.52zM34.39 216.38h4.49v1.15h-4.49zM60.41 216.38h4.49v1.15h-4.49zM21.38 217.38h4.49v1.15h-4.49zM34.39 217.38h4.49v1.15h-4.49zM56.07 217.38h4.49v1.15h-4.49zM94.8 217.38h4.52v1.15h-4.52zM47.4 218.38h4.49v1.15h-4.49zM138.53 218.38h4.52v1.15h-4.52zM17.04 220.38h4.49v1.15h-4.49zM30.05 220.38h4.49v1.15h-4.49zM112.29 220.38h4.52v1.15h-4.52zM116.66 220.38h4.52v1.15h-4.52zM121.03 220.38h4.52v1.15h-4.52zM94.8 221.38h4.52v1.15h-4.52zM21.38 222.38h4.49v1.15h-4.49zM56.07 222.38h4.49v1.15h-4.49zM21.38 223.38h4.49v1.15h-4.49zM34.39 223.38h4.49v1.15h-4.49zM129.78 223.38h4.52v1.15h-4.52zM134.15 223.38h4.52v1.15h-4.52zM60.41 225.39h4.49v1.15h-4.49zM164.52 225.39h4.53v1.15h-4.53zM73.42 226.39h4.49v1.15h-4.49zM116.66 226.39h4.52v1.15h-4.52zM125.41 226.39h4.52v1.15h-4.52zM56.07 228.39h4.49v1.15h-4.49zM73.42 228.39h4.49v1.15h-4.49zM90.42 228.39h4.52v1.15h-4.52zM47.4 229.39h4.49v1.15h-4.49zM107.92 229.39h4.52v1.15h-4.52zM34.39 230.39h4.49v1.15h-4.49zM56.07 230.39h4.49v1.15h-4.49zM17.04 231.4h4.49v1.15h-4.49zM138.53 231.4h4.52v1.15h-4.52zM34.39 232.4h4.49v1.15h-4.49zM47.4 232.4h4.49v1.15h-4.49zM116.66 232.4h4.52v1.15h-4.52zM121.03 232.4h4.52v1.15h-4.52zM73.42 233.4h4.49v1.15h-4.49zM90.42 233.4h4.52v1.15h-4.52zM129.78 233.4h4.52v1.15h-4.52zM21.38 234.4h4.49v1.15h-4.49zM47.4 234.4h4.49v1.15h-4.49zM21.38 235.4h4.49v1.15h-4.49zM134.15 235.4h4.52v1.15h-4.52zM138.53 235.4h4.52v1.15h-4.52zM164.52 236.4h4.53v1.15h-4.53zM34.39 238.4h4.49v1.15h-4.49zM43.06 238.4h4.49v1.15h-4.49zM73.42 238.4h4.49v1.15h-4.49zM21.38 239.41h4.49v1.15h-4.49zM73.42 240.41h4.49v1.15h-4.49zM125.41 240.41h4.52v1.15h-4.52zM21.38 241.41h4.49v1.15h-4.49zM47.4 241.41h4.49v1.15h-4.49zM60.41 241.41h4.49v1.15h-4.49zM60.41 242.41h4.49v1.15h-4.49zM73.42 242.41h4.49v1.15h-4.49zM47.4 243.41h4.49v1.15h-4.49zM51.74 243.41h4.49v1.15h-4.49zM64.75 243.41h4.49v1.15h-4.49zM34.39 244.41h4.49v1.15h-4.49zM60.41 245.41h4.49v1.15h-4.49zM73.42 245.41h4.49v1.15h-4.49zM77.76 245.41h4.49v1.15h-4.49zM21.38 246.42h4.49v1.15h-4.49zM121.03 246.42h4.52v1.15h-4.52zM134.15 246.42h4.52v1.15h-4.52zM34.39 247.42h4.49v1.15h-4.49zM125.41 247.42h4.52v1.15h-4.52zM164.52 247.42h4.53v1.15h-4.53zM64.75 248.42h4.49v1.15h-4.49zM73.42 248.42h4.49v1.15h-4.49zM21.38 249.42h4.49v1.15h-4.49zM12.7 250.42h4.49v1.15h-4.49zM116.66 250.42h4.52v1.15h-4.52zM73.42 251.42h4.49v1.15h-4.49zM116.66 251.42h4.52v1.15h-4.52zM99.17 252.42h4.52v1.15h-4.52zM125.41 252.42h4.52v1.15h-4.52zM12.7 253.43h4.49v1.15h-4.49zM17.04 255.43h4.49v1.15h-4.49zM21.38 255.43h4.49v1.15h-4.49zM30.05 255.43h4.49v1.15h-4.49zM73.42 255.43h4.49v1.15h-4.49zM94.8 255.43h4.52v1.15h-4.52zM121.03 255.43h4.52v1.15h-4.52zM129.78 255.43h4.52v1.15h-4.52zM47.4 256.43h4.49v1.15h-4.49zM60.41 256.43h4.49v1.15h-4.49zM64.75 256.43h4.49v1.15h-4.49zM73.42 256.43h4.49v1.15h-4.49zM121.03 256.43h4.52v1.15h-4.52zM125.41 256.43h4.52v1.15h-4.52zM112.29 257.43h4.52v1.15h-4.52zM116.66 257.43h4.52v1.15h-4.52zM21.38 258.43h4.49v1.15h-4.49zM34.39 258.43h4.49v1.15h-4.49zM73.42 258.43h4.49v1.15h-4.49zM34.39 259.43h4.49v1.15h-4.49zM112.29 259.43h4.52v1.15h-4.52zM34.39 260.43h4.49v1.15h-4.49zM60.41 260.43h4.49v1.15h-4.49zM34.39 261.44h4.49v1.15h-4.49zM73.42 261.44h4.49v1.15h-4.49zM94.8 261.44h4.52v1.15h-4.52zM121.03 261.44h4.52v1.15h-4.52zM164.52 261.44h4.53v1.15h-4.53zM43.06 262.44h4.49v1.15h-4.49zM60.41 262.44h4.49v1.15h-4.49zM17.04 263.44h4.49v1.15h-4.49zM30.05 263.44h4.49v1.15h-4.49zM21.38 265.44h4.49v1.15h-4.49zM34.39 265.44h4.49v1.15h-4.49zM60.41 265.44h4.49v1.15h-4.49zM73.42 265.44h4.49v1.15h-4.49zM21.38 266.44h4.49v1.15h-4.49zM56.07 266.44h4.49v1.15h-4.49zM21.38 267.44h4.49v1.15h-4.49zM43.06 267.44h4.49v1.15h-4.49zM47.4 267.44h4.49v1.15h-4.49zM56.07 267.44h4.49v1.15h-4.49zM138.53 267.44h4.52v1.15h-4.52zM17.04 268.45h4.49v1.15h-4.49zM116.66 268.45h4.52v1.15h-4.52zM121.03 268.45h4.52v1.15h-4.52zM125.41 268.45h4.52v1.15h-4.52zM17.04 269.45h4.49v1.15h-4.49zM21.38 269.45h4.49v1.15h-4.49zM56.07 269.45h4.49v1.15h-4.49zM107.92 269.45h4.52v1.15h-4.52zM129.78 269.45h4.52v1.15h-4.52zM34.39 270.45h4.49v1.15h-4.49zM90.42 270.45h4.52v1.15h-4.52zM21.38 271.45h4.49v1.15h-4.49zM30.05 271.45h4.49v1.15h-4.49zM34.39 271.45h4.49v1.15h-4.49zM73.42 271.45h4.49v1.15h-4.49zM21.38 272.45h4.49v1.15h-4.49zM34.39 272.45h4.49v1.15h-4.49zM73.42 272.45h4.49v1.15h-4.49zM121.03 272.45h4.52v1.15h-4.52zM125.41 272.45h4.52v1.15h-4.52zM138.53 272.45h4.52v1.15h-4.52zM34.39 273.45h4.49v1.15h-4.49zM21.38 274.45h4.49v1.15h-4.49zM60.41 274.45h4.49v1.15h-4.49zM121.03 274.45h4.52v1.15h-4.52zM60.41 275.45h4.49v1.15h-4.49zM64.75 275.45h4.49v1.15h-4.49zM30.05 276.46h4.49v1.15h-4.49zM34.39 276.46h4.49v1.15h-4.49zM47.4 276.46h4.49v1.15h-4.49zM56.07 276.46h4.49v1.15h-4.49zM21.38 277.46h4.49v1.15h-4.49zM21.38 278.46h4.49v1.15h-4.49zM116.66 278.46h4.52v1.15h-4.52zM21.38 279.46h4.49v1.15h-4.49zM21.38 280.46h4.49v1.15h-4.49zM73.42 280.46h4.49v1.15h-4.49zM121.03 280.46h4.52v1.15h-4.52zM43.06 281.46h4.49v1.15h-4.49zM116.66 281.46h4.52v1.15h-4.52zM34.39 282.46h4.49v1.15h-4.49zM17.04 283.47h4.49v1.15h-4.49zM21.38 283.47h4.49v1.15h-4.49zM21.38 284.47h4.49v1.15h-4.49zM34.39 285.47h4.49v1.15h-4.49zM47.4 285.47h4.49v1.15h-4.49zM34.39 286.47h4.49v1.15h-4.49zM21.38 287.47h4.49v1.15h-4.49zM47.4 288.47h4.49v1.15h-4.49zM21.38 289.47h4.49v1.15h-4.49zM60.41 289.47h4.49v1.15h-4.49zM47.4 290.47h4.49v1.15h-4.49zM64.75 290.47h4.49v1.15h-4.49zM77.76 290.47h4.49v1.15h-4.49zM34.39 291.48h4.49v1.15h-4.49zM73.42 292.48h4.49v1.15h-4.49zM12.7 293.48h4.49v1.15h-4.49zM47.4 293.48h4.49v1.15h-4.49zM17.04 294.48h4.49v1.15h-4.49zM21.38 294.48h4.49v1.15h-4.49zM56.07 294.48h4.49v1.15h-4.49zM21.38 295.48h4.49v1.15h-4.49zM73.42 295.48h4.49v1.15h-4.49zM25.71 296.48h4.49v1.15h-4.49zM47.4 296.48h4.49v1.15h-4.49zM64.75 296.48h4.49v1.15h-4.49zM43.06 297.48h4.49v1.15h-4.49zM47.4 297.48h4.49v1.15h-4.49zM73.42 297.48h4.49v1.15h-4.49zM21.38 298.49h4.49v1.15h-4.49zM43.06 298.49h4.49v1.15h-4.49zM56.07 299.49h4.49v1.15h-4.49zM21.38 302.49h4.49v1.15h-4.49zM73.42 302.49h4.49v1.15h-4.49zM21.38 303.49h4.49v1.15h-4.49zM30.05 303.49h4.49v1.15h-4.49zM116.66 303.49h4.52v1.15h-4.52zM34.39 304.49h4.49v1.15h-4.49zM56.07 304.49h4.49v1.15h-4.49zM73.42 304.49h4.49v1.15h-4.49zM73.42 305.49h4.49v1.15h-4.49zM47.4 306.5h4.49v1.15h-4.49zM116.66 306.5h4.52v1.15h-4.52zM73.42 307.5h4.49v1.15h-4.49zM21.38 308.5h4.49v1.15h-4.49zM34.39 308.5h4.49v1.15h-4.49z"/>
<path fill="#660006" d="M86.05 86.2h4.52v1.15h-4.52zM134.15 91.21h4.52v1.15h-4.52zM138.53 92.21h4.52v1.15h-4.52zM94.8 97.22h4.52v1.15h-4.52zM121.03 98.22h4.52v1.15h-4.52zM138.53 98.22h4.52v1.15h-4.52zM99.17 100.22h4.52v1.15h-4.52zM112.29 100.22h4.52v1.15h-4.52zM125.41 100.22h4.52v1.15h-4.52zM134.15 100.22h4.52v1.15h-4.52zM107.92 101.22h4.52v1.15h-4.52zM138.53 101.22h4.52v1.15h-4.52zM94.8 103.22h4.52v1.15h-4.52zM107.92 103.22h4.52v1.15h-4.52zM155.76 103.22h4.53v1.15h-4.53zM125.41 107.23h4.52v1.15h-4.52zM155.76 108.23h4.53v1.15h-4.53zM134.15 109.23h4.52v1.15h-4.52zM151.38 113.24h4.53v1.15h-4.53zM147 126.25h4.53v1.15h-4.53zM160.14 126.25h4.53v1.15h-4.53zM155.76 139.27h4.53v1.15h-4.53zM147 142.28h4.53v1.15h-4.53zM160.14 146.28h4.53v1.15h-4.53zM155.76 162.3h4.53v1.15h-4.53zM147 173.32h4.53v1.15h-4.53zM90.42 179.33h4.52v1.15h-4.52zM99.17 179.33h4.52v1.15h-4.52zM134.15 179.33h4.52v1.15h-4.52zM90.42 181.33h4.52v1.15h-4.52zM99.17 182.33h4.52v1.15h-4.52zM134.15 183.33h4.52v1.15h-4.52zM107.92 185.33h4.52v1.15h-4.52zM103.54 186.34h4.52v1.15h-4.52zM103.54 189.34h4.52v1.15h-4.52z"/>
<path fill="#600006" d="M90.42 86.2h4.52v1.15h-4.52zM90.42 87.2h4.52v1.15h-4.52zM112.29 87.2h4.52v1.15h-4.52zM112.29 88.2h4.52v1.15h-4.52zM125.41 92.21h4.52v1.15h-4.52zM134.15 94.21h4.52v1.15h-4.52zM134.15 96.21h4.52v1.15h-4.52zM151.38 96.21h4.53v1.15h-4.53zM160.14 96.21h4.53v1.15h-4.53zM107.92 97.22h4.52v1.15h-4.52zM121.03 97.22h4.52v1.15h-4.52zM125.41 97.22h4.52v1.15h-4.52zM107.92 99.22h4.52v1.15h-4.52zM125.41 99.22h4.52v1.15h-4.52zM94.8 101.22h4.52v1.15h-4.52zM125.41 101.22h4.52v1.15h-4.52zM107.92 105.23h4.52v1.15h-4.52zM151.38 105.23h4.53v1.15h-4.53zM147 107.23h4.53v1.15h-4.53zM151.38 108.23h4.53v1.15h-4.53zM112.29 109.23h4.52v1.15h-4.52zM138.53 109.23h4.52v1.15h-4.52zM99.17 111.23h4.52v1.15h-4.52zM147 112.24h4.53v1.15h-4.53zM160.14 112.24h4.53v1.15h-4.53zM160.14 113.24h4.53v1.15h-4.53zM164.52 114.24h4.53v1.15h-4.53zM121.03 116.24h4.52v1.15h-4.52zM164.52 129.26h4.53v1.15h-4.53zM138.53 132.26h4.52v1.15h-4.52zM151.38 134.27h4.53v1.15h-4.53zM151.38 136.27h4.53v1.15h-4.53zM160.14 142.28h4.53v1.15h-4.53zM155.76 145.28h4.53v1.15h-4.53zM147 147.28h4.53v1.15h-4.53zM151.38 147.28h4.53v1.15h-4.53zM147 155.29h4.53v1.15h-4.53zM151.38 155.29h4.53v1.15h-4.53zM121.03 172.32h4.52v1.15h-4.52zM151.38 173.32h4.53v1.15h-4.53zM155.76 173.32h4.53v1.15h-4.53zM151.38 174.32h4.53v1.15h-4.53zM112.29 177.32h4.52v1.15h-4.52zM125.41 178.32h4.52v1.15h-4.52zM103.54 181.33h4.52v1.15h-4.52zM112.29 181.33h4.52v1.15h-4.52zM90.42 183.33h4.52v1.15h-4.52zM90.42 184.33h4.52v1.15h-4.52zM103.54 184.33h4.52v1.15h-4.52zM90.42 186.34h4.52v1.15h-4.52zM125.41 188.34h4.52v1.15h-4.52zM125.41 190.34h4.52v1.15h-4.52z"/>
<path fill="#72000c" d="M94.8 86.2h4.52v1.15h-4.52zM94.8 87.2h4.52v1.15h-4.52zM107.92 91.21h4.52v1.15h-4.52zM134.15 98.22h4.52v1.15h-4.52zM138.53 99.22h4.52v1.15h-4.52zM138.53 100.22h4.52v1.15h-4.52zM99.17 101.22h4.52v1.15h-4.52zM121.03 103.22h4.52v1.15h-4.52zM138.53 106.23h4.52v1.15h-4.52zM147 108.23h4.53v1.15h-4.53zM121.03 109.23h4.52v1.15h-4.52zM90.42 111.23h4.52v1.15h-4.52zM103.54 111.23h4.52v1.15h-4.52zM160.14 133.26h4.53v1.15h-4.53zM160.14 138.27h4.53v1.15h-4.53zM160.14 144.28h4.53v1.15h-4.53zM107.92 177.32h4.52v1.15h-4.52zM107.92 179.33h4.52v1.15h-4.52zM112.29 182.33h4.52v1.15h-4.52zM138.53 182.33h4.52v1.15h-4.52zM94.8 183.33h4.52v1.15h-4.52zM125.41 184.33h4.52v1.15h-4.52zM86.05 186.34h4.52v1.15h-4.52zM90.42 187.34h4.52v1.15h-4.52zM103.54 187.34h4.52v1.15h-4.52zM107.92 189.34h4.52v1.15h-4.52zM94.8 190.34h4.52v1.15h-4.52zM138.53 190.34h4.52v1.15h-4.52z"/>
<path fill="#90000c" d="M99.17 86.2h4.52v1.15h-4.52zM151.38 87.2h4.53v1.15h-4.53zM155.76 92.21h4.53v1.15h-4.53zM151.38 93.21h4.53v1.15h-4.53zM147 120.25h4.53v1.15h-4.53zM151.38 125.25h4.53v1.15h-4.53zM160.14 125.25h4.53v1.15h-4.53zM155.76 126.25h4.53v1.15h-4.53zM151.38 128.26h4.53v1.15h-4.53zM147 134.27h4.53v1.15h-4.53zM160.14 137.27h4.53v1.15h-4.53zM125.41 179.33h4.52v1.15h-4.52zM107.92 181.33h4.52v1.15h-4.52zM94.8 187.34h4.52v1.15h-4.52z"/>
<path fill="#78000c" d="M103.54 86.2h4.52v1.15h-4.52zM107.92 92.21h4.52v1.15h-4.52zM121.03 92.21h4.52v1.15h-4.52zM147 95.21h4.53v1.15h-4.53zM151.38 95.21h4.53v1.15h-4.53zM155.76 95.21h4.53v1.15h-4.53zM112.29 98.22h4.52v1.15h-4.52zM125.41 98.22h4.52v1.15h-4.52zM134.15 99.22h4.52v1.15h-4.52zM112.29 101.22h4.52v1.15h-4.52zM160.14 101.22h4.53v1.15h-4.53zM125.41 103.22h4.52v1.15h-4.52zM138.53 103.22h4.52v1.15h-4.52zM151.38 104.23h4.53v1.15h-4.53zM112.29 107.23h4.52v1.15h-4.52zM160.14 108.23h4.53v1.15h-4.53zM94.8 111.23h4.52v1.15h-4.52zM107.92 111.23h4.52v1.15h-4.52zM112.29 111.23h4.52v1.15h-4.52zM151.38 126.25h4.53v1.15h-4.53zM147 127.26h4.53v1.15h-4.53zM160.14 127.26h4.53v1.15h-4.53zM151.38 132.26h4.53v1.15h-4.53zM160.14 132.26h4.53v1.15h-4.53zM151.38 135.27h4.53v1.15h-4.53zM155.76 136.27h4.53v1.15h-4.53zM160.14 136.27h4.53v1.15h-4.53zM147 144.28h4.53v1.15h-4.53zM151.38 144.28h4.53v1.15h-4.53zM107.92 180.33h4.52v1.15h-4.52zM121.03 180.33h4.52v1.15h-4.52zM125.41 181.33h4.52v1.15h-4.52zM138.53 181.33h4.52v1.15h-4.52zM107.92 182.33h4.52v1.15h-4.52zM107.92 183.33h4.52v1.15h-4.52zM94.8 184.33h4.52v1.15h-4.52zM99.17 184.33h4.52v1.15h-4.52zM134.15 184.33h4.52v1.15h-4.52zM99.17 185.33h4.52v1.15h-4.52zM112.29 186.34h4.52v1.15h-4.52zM125.41 186.34h4.52v1.15h-4.52zM86.05 187.34h4.52v1.15h-4.52zM99.17 189.34h4.52v1.15h-4.52zM99.17 190.34h4.52v1.15h-4.52zM107.92 190.34h4.52v1.15h-4.52zM112.29 190.34h4.52v1.15h-4.52zM121.03 190.34h4.52v1.15h-4.52z"/>
<path fill="#8a000c" d="M107.92 86.2h4.52v1.15h-4.52zM125.41 86.2h4.52v1.15h-4.52zM99.17 87.2h4.52v1.15h-4.52zM99.17 88.2h4.52v1.15h-4.52zM121.03 88.2h4.52v1.15h-4.52zM125.41 88.2h4.52v1.15h-4.52zM151.38 91.21h4.53v1.15h-4.53zM155.76 91.21h4.53v1.15h-4.53zM151.38 92.21h4.53v1.15h-4.53zM138.53 97.22h4.52v1.15h-4.52zM155.76 97.22h4.53v1.15h-4.53zM160.14 97.22h4.53v1.15h-4.53zM151.38 99.22h4.53v1.15h-4.53zM160.14 99.22h4.53v1.15h-4.53zM147 101.22h4.53v1.15h-4.53zM155.76 101.22h4.53v1.15h-4.53zM147 102.22h4.53v1.15h-4.53zM151.38 102.22h4.53v1.15h-4.53zM160.14 104.23h4.53v1.15h-4.53zM121.03 111.23h4.52v1.15h-4.52zM151.38 123.25h4.53v1.15h-4.53zM151.38 133.26h4.53v1.15h-4.53zM155.76 133.26h4.53v1.15h-4.53zM151.38 137.27h4.53v1.15h-4.53zM155.76 137.27h4.53v1.15h-4.53zM147 138.27h4.53v1.15h-4.53zM155.76 144.28h4.53v1.15h-4.53zM121.03 179.33h4.52v1.15h-4.52zM121.03 184.33h4.52v1.15h-4.52zM138.53 186.34h4.52v1.15h-4.52zM138.53 189.34h4.52v1.15h-4.52z"/>
<path fill="#84000c" d="M112.29 86.2h4.52v1.15h-4.52zM125.41 87.2h4.52v1.15h-4.52zM138.53 87.2h4.52v1.15h-4.52zM94.8 88.2h4.52v1.15h-4.52zM160.14 92.21h4.53v1.15h-4.53zM151.38 97.22h4.53v1.15h-4.53zM107.92 98.22h4.52v1.15h-4.52zM155.76 104.23h4.53v1.15h-4.53zM151.38 127.26h4.53v1.15h-4.53zM160.14 128.26h4.53v1.15h-4.53zM160.14 134.27h4.53v1.15h-4.53zM147 135.27h4.53v1.15h-4.53zM155.76 135.27h4.53v1.15h-4.53zM155.76 138.27h4.53v1.15h-4.53zM112.29 179.33h4.52v1.15h-4.52zM94.8 181.33h4.52v1.15h-4.52zM99.17 183.33h4.52v1.15h-4.52zM125.41 183.33h4.52v1.15h-4.52zM112.29 184.33h4.52v1.15h-4.52zM138.53 184.33h4.52v1.15h-4.52zM134.15 185.33h4.52v1.15h-4.52zM99.17 187.34h4.52v1.15h-4.52zM134.15 188.34h4.52v1.15h-4.52zM94.8 189.34h4.52v1.15h-4.52zM112.29 189.34h4.52v1.15h-4.52zM121.03 189.34h4.52v1.15h-4.52zM125.41 189.34h4.52v1.15h-4.52z"/>
<path fill="#96000c" d="M121.03 86.2h4.52v1.15h-4.52zM107.92 87.2h4.52v1.15h-4.52zM121.03 87.2h4.52v1.15h-4.52zM86.05 88.2h4.52v1.15h-4.52zM107.92 88.2h4.52v1.15h-4.52zM155.76 99.22h4.53v1.15h-4.53zM160.14 100.22h4.53v1.15h-4.53zM160.14 102.22h4.53v1.15h-4.53zM151.38 120.25h4.53v1.15h-4.53zM160.14 121.25h4.53v1.15h-4.53zM155.76 125.25h4.53v1.15h-4.53zM151.38 130.26h4.53v1.15h-4.53zM155.76 132.26h4.53v1.15h-4.53zM147 133.26h4.53v1.15h-4.53zM138.53 179.33h4.52v1.15h-4.52zM121.03 186.34h4.52v1.15h-4.52zM134.15 189.34h4.52v1.15h-4.52zM86.05 199.35h4.52v1.15h-4.52zM90.42 199.35h4.52v1.15h-4.52zM94.8 199.35h4.52v1.15h-4.52zM99.17 199.35h4.52v1.15h-4.52zM103.54 199.35h4.52v1.15h-4.52zM107.92 199.35h4.52v1.15h-4.52zM112.29 199.35h4.52v1.15h-4.52zM121.03 199.35h4.52v1.15h-4.52zM125.41 199.35h4.52v1.15h-4.52zM129.78 199.35h4.52v1.15h-4.52zM134.15 199.35h4.52v1.15h-4.52zM138.53 199.35h4.52v1.15h-4.52z"/>
<path fill="#6c000c" d="M134.15 86.2h4.52v1.15h-4.52zM103.54 88.2h4.52v1.15h-4.52zM107.92 96.21h4.52v1.15h-4.52zM155.76 96.21h4.53v1.15h-4.53zM94.8 98.22h4.52v1.15h-4.52zM99.17 98.22h4.52v1.15h-4.52zM107.92 100.22h4.52v1.15h-4.52zM121.03 100.22h4.52v1.15h-4.52zM121.03 101.22h4.52v1.15h-4.52zM151.38 101.22h4.53v1.15h-4.53zM86.05 103.22h4.52v1.15h-4.52zM112.29 103.22h4.52v1.15h-4.52zM134.15 103.22h4.52v1.15h-4.52zM155.76 105.23h4.53v1.15h-4.53zM160.14 105.23h4.53v1.15h-4.53zM94.8 107.23h4.52v1.15h-4.52zM160.14 107.23h4.53v1.15h-4.53zM94.8 109.23h4.52v1.15h-4.52zM125.41 111.23h4.52v1.15h-4.52zM138.53 111.23h4.52v1.15h-4.52zM134.15 113.24h4.52v1.15h-4.52zM155.76 113.24h4.53v1.15h-4.53zM164.52 115.24h4.53v1.15h-4.53zM107.92 132.26h4.52v1.15h-4.52zM147 136.27h4.53v1.15h-4.53zM147 139.27h4.53v1.15h-4.53zM151.38 139.27h4.53v1.15h-4.53zM160.14 145.28h4.53v1.15h-4.53zM155.76 146.28h4.53v1.15h-4.53zM155.76 147.28h4.53v1.15h-4.53zM160.14 147.28h4.53v1.15h-4.53zM147 151.29h4.53v1.15h-4.53zM147 162.3h4.53v1.15h-4.53zM134.15 181.33h4.52v1.15h-4.52zM125.41 182.33h4.52v1.15h-4.52zM112.29 183.33h4.52v1.15h-4.52zM125.41 185.33h4.52v1.15h-4.52zM134.15 186.34h4.52v1.15h-4.52zM107.92 188.34h4.52v1.15h-4.52zM112.29 188.34h4.52v1.15h-4.52zM138.53 188.34h4.52v1.15h-4.52z"/>
<path fill="#d80012" d="M147 86.2h4.53v1.15h-4.53zM155.76 89.21h4.53v1.15h-4.53zM147 118.24h4.53v1.15h-4.53z"/>
<path fill="#c60012" d="M151.38 86.2h4.53v1.15h-4.53zM151.38 90.21h4.53v1.15h-4.53zM155.76 98.22h4.53v1.15h-4.53zM151.38 129.26h4.53v1.15h-4.53z"/>
<path fill="#b40012" d="M155.76 86.2h4.53v1.15h-4.53zM147 89.21h4.53v1.15h-4.53zM155.76 90.21h4.53v1.15h-4.53zM160.14 90.21h4.53v1.15h-4.53zM147 94.21h4.53v1.15h-4.53zM160.14 120.25h4.53v1.15h-4.53zM151.38 121.25h4.53v1.15h-4.53zM147 123.25h4.53v1.15h-4.53zM155.76 123.25h4.53v1.15h-4.53zM147 130.26h4.53v1.15h-4.53zM147 131.26h4.53v1.15h-4.53zM160.14 131.26h4.53v1.15h-4.53z"/>
<path fill="#240006" d="M164.52 86.2h4.53v1.15h-4.53zM129.78 89.21h4.52v1.15h-4.52zM90.42 93.21h4.52v1.15h-4.52zM138.53 93.21h4.52v1.15h-4.52zM103.54 94.21h4.52v1.15h-4.52zM103.54 95.21h4.52v1.15h-4.52zM129.78 96.21h4.52v1.15h-4.52zM129.78 99.22h4.52v1.15h-4.52zM164.52 100.22h4.53v1.15h-4.53zM30.05 101.22h4.49v1.15h-4.49zM86.05 101.22h4.52v1.15h-4.52zM164.52 101.22h4.53v1.15h-4.53zM164.52 102.22h4.53v1.15h-4.53zM94.8 108.23h4.52v1.15h-4.52zM69.09 110.23h4.49v1.15h-4.49zM134.15 110.23h4.52v1.15h-4.52zM121.03 112.24h4.52v1.15h-4.52zM103.54 113.24h4.52v1.15h-4.52zM121.03 115.24h4.52v1.15h-4.52zM125.41 118.24h4.52v1.15h-4.52zM86.05 123.25h4.52v1.15h-4.52zM138.53 123.25h4.52v1.15h-4.52zM99.17 125.25h4.52v1.15h-4.52zM43.06 126.25h4.49v1.15h-4.49zM107.92 126.25h4.52v1.15h-4.52zM69.09 127.26h4.49v1.15h-4.49zM107.92 129.26h4.52v1.15h-4.52zM94.8 130.26h4.52v1.15h-4.52zM138.53 133.26h4.52v1.15h-4.52zM99.17 134.27h4.52v1.15h-4.52zM138.53 134.27h4.52v1.15h-4.52zM99.17 135.27h4.52v1.15h-4.52zM103.54 135.27h4.52v1.15h-4.52zM94.8 139.27h4.52v1.15h-4.52zM138.53 139.27h4.52v1.15h-4.52zM103.54 140.27h4.52v1.15h-4.52zM112.29 141.28h4.52v1.15h-4.52zM164.52 141.28h4.53v1.15h-4.53zM112.29 144.28h4.52v1.15h-4.52zM138.53 148.28h4.52v1.15h-4.52zM138.53 149.29h4.52v1.15h-4.52zM107.92 151.29h4.52v1.15h-4.52zM134.15 151.29h4.52v1.15h-4.52zM138.53 152.29h4.52v1.15h-4.52zM134.15 154.29h4.52v1.15h-4.52zM164.52 154.29h4.53v1.15h-4.53zM125.41 159.3h4.52v1.15h-4.52zM107.92 161.3h4.52v1.15h-4.52zM125.41 162.3h4.52v1.15h-4.52zM138.53 162.3h4.52v1.15h-4.52zM147 164.31h4.53v1.15h-4.53zM99.17 165.31h4.52v1.15h-4.52zM121.03 165.31h4.52v1.15h-4.52zM134.15 165.31h4.52v1.15h-4.52zM121.03 166.31h4.52v1.15h-4.52zM155.76 166.31h4.53v1.15h-4.53zM121.03 168.31h4.52v1.15h-4.52zM151.38 168.31h4.53v1.15h-4.53zM69.09 170.31h4.49v1.15h-4.49zM86.05 170.31h4.52v1.15h-4.52zM138.53 170.31h4.52v1.15h-4.52zM155.76 171.32h4.53v1.15h-4.53zM99.17 174.32h4.52v1.15h-4.52zM151.38 184.33h4.53v1.15h-4.53zM86.05 185.33h4.52v1.15h-4.52zM69.09 192.34h4.49v1.15h-4.49zM116.66 200.35h4.52v1.15h-4.52zM43.06 233.4h4.49v1.15h-4.49zM69.09 233.4h4.49v1.15h-4.49zM116.66 235.4h4.52v1.15h-4.52zM164.52 240.41h4.53v1.15h-4.53zM116.66 259.43h4.52v1.15h-4.52zM134.15 269.45h4.52v1.15h-4.52zM116.66 280.46h4.52v1.15h-4.52zM69.09 288.47h4.49v1.15h-4.49zM116.66 289.47h4.52v1.15h-4.52zM43.06 290.47h4.49v1.15h-4.49zM17.04 293.48h4.49v1.15h-4.49zM69.09 305.49h4.49v1.15h-4.49zM30.05 307.5h4.49v1.15h-4.49z"/>
<path fill="#540006" d="M86.05 87.2h4.52v1.15h-4.52zM90.42 92.21h4.52v1.15h-4.52zM134.15 92.21h4.52v1.15h-4.52zM107.92 95.21h4.52v1.15h-4.52zM90.42 97.22h4.52v1.15h-4.52zM90.42 100.22h4.52v1.15h-4.52zM94.8 100.22h4.52v1.15h-4.52zM99.17 102.22h4.52v1.15h-4.52zM121.03 102.22h4.52v1.15h-4.52zM125.41 102.22h4.52v1.15h-4.52zM134.15 102.22h4.52v1.15h-4.52zM90.42 105.23h4.52v1.15h-4.52zM121.03 105.23h4.52v1.15h-4.52zM121.03 106.23h4.52v1.15h-4.52zM147 106.23h4.53v1.15h-4.53zM107.92 107.23h4.52v1.15h-4.52zM155.76 107.23h4.53v1.15h-4.53zM107.92 110.23h4.52v1.15h-4.52zM94.8 113.24h4.52v1.15h-4.52zM125.41 113.24h4.52v1.15h-4.52zM107.92 127.26h4.52v1.15h-4.52zM160.14 139.27h4.53v1.15h-4.53zM134.15 143.28h4.52v1.15h-4.52zM147 143.28h4.53v1.15h-4.53zM155.76 143.28h4.53v1.15h-4.53zM160.14 148.28h4.53v1.15h-4.53zM155.76 149.29h4.53v1.15h-4.53zM160.14 149.29h4.53v1.15h-4.53zM155.76 152.29h4.53v1.15h-4.53zM125.41 154.29h4.52v1.15h-4.52zM147 158.3h4.53v1.15h-4.53zM155.76 158.3h4.53v1.15h-4.53zM160.14 162.3h4.53v1.15h-4.53zM160.14 173.32h4.53v1.15h-4.53zM147 174.32h4.53v1.15h-4.53zM107.92 176.32h4.52v1.15h-4.52zM138.53 176.32h4.52v1.15h-4.52zM134.15 177.32h4.52v1.15h-4.52zM138.53 180.33h4.52v1.15h-4.52zM86.05 181.33h4.52v1.15h-4.52zM138.53 185.33h4.52v1.15h-4.52zM99.17 188.34h4.52v1.15h-4.52zM90.42 190.34h4.52v1.15h-4.52z"/>
<path fill="#7e000c" d="M134.15 87.2h4.52v1.15h-4.52zM90.42 88.2h4.52v1.15h-4.52zM94.8 92.21h4.52v1.15h-4.52zM160.14 95.21h4.53v1.15h-4.53zM147 97.22h4.53v1.15h-4.53zM155.76 102.22h4.53v1.15h-4.53zM107.92 109.23h4.52v1.15h-4.52zM147 132.26h4.53v1.15h-4.53zM155.76 134.27h4.53v1.15h-4.53zM160.14 135.27h4.53v1.15h-4.53zM147 137.27h4.53v1.15h-4.53zM138.53 177.32h4.52v1.15h-4.52zM94.8 179.33h4.52v1.15h-4.52zM121.03 181.33h4.52v1.15h-4.52zM121.03 182.33h4.52v1.15h-4.52zM121.03 183.33h4.52v1.15h-4.52zM138.53 183.33h4.52v1.15h-4.52zM107.92 184.33h4.52v1.15h-4.52zM134.15 190.34h4.52v1.15h-4.52z"/>
<path fill="#a8000c" d="M147 87.2h4.53v1.15h-4.53zM155.76 87.2h4.53v1.15h-4.53zM147 88.2h4.53v1.15h-4.53zM155.76 93.21h4.53v1.15h-4.53zM155.76 94.21h4.53v1.15h-4.53zM147 98.22h4.53v1.15h-4.53zM160.14 98.22h4.53v1.15h-4.53zM147 104.23h4.53v1.15h-4.53zM151.38 116.24h4.53v1.15h-4.53zM147 117.24h4.53v1.15h-4.53zM151.38 117.24h4.53v1.15h-4.53zM155.76 120.25h4.53v1.15h-4.53zM155.76 121.25h4.53v1.15h-4.53zM160.14 124.25h4.53v1.15h-4.53zM151.38 131.26h4.53v1.15h-4.53zM107.92 186.34h4.52v1.15h-4.52z"/>
<path fill="#480006" d="M164.52 87.2h4.53v1.15h-4.53zM129.78 88.2h4.52v1.15h-4.52zM94.8 89.21h4.52v1.15h-4.52zM125.41 89.21h4.52v1.15h-4.52zM164.52 89.21h4.53v1.15h-4.53zM134.15 90.21h4.52v1.15h-4.52zM164.52 90.21h4.53v1.15h-4.53zM86.05 91.21h4.52v1.15h-4.52zM90.42 91.21h4.52v1.15h-4.52zM94.8 91.21h4.52v1.15h-4.52zM164.52 92.21h4.53v1.15h-4.53zM121.03 94.21h4.52v1.15h-4.52zM125.41 94.21h4.52v1.15h-4.52zM99.17 95.21h4.52v1.15h-4.52zM121.03 95.21h4.52v1.15h-4.52zM125.41 95.21h4.52v1.15h-4.52zM138.53 95.21h4.52v1.15h-4.52zM94.8 99.22h4.52v1.15h-4.52zM103.54 101.22h4.52v1.15h-4.52zM107.92 102.22h4.52v1.15h-4.52zM138.53 102.22h4.52v1.15h-4.52zM155.76 106.23h4.53v1.15h-4.53zM99.17 107.23h4.52v1.15h-4.52zM125.41 109.23h4.52v1.15h-4.52zM121.03 110.23h4.52v1.15h-4.52zM125.41 110.23h4.52v1.15h-4.52zM138.53 110.23h4.52v1.15h-4.52zM151.38 110.23h4.53v1.15h-4.53zM155.76 110.23h4.53v1.15h-4.53zM164.52 117.24h4.53v1.15h-4.53zM107.92 128.26h4.52v1.15h-4.52zM125.41 131.26h4.52v1.15h-4.52zM94.8 132.26h4.52v1.15h-4.52zM99.17 132.26h4.52v1.15h-4.52zM112.29 132.26h4.52v1.15h-4.52zM107.92 135.27h4.52v1.15h-4.52zM121.03 141.28h4.52v1.15h-4.52zM151.38 143.28h4.53v1.15h-4.53zM147 150.29h4.53v1.15h-4.53zM160.14 150.29h4.53v1.15h-4.53zM151.38 151.29h4.53v1.15h-4.53zM155.76 151.29h4.53v1.15h-4.53zM160.14 152.29h4.53v1.15h-4.53zM155.76 153.29h4.53v1.15h-4.53zM121.03 154.29h4.52v1.15h-4.52zM107.92 158.3h4.52v1.15h-4.52zM94.8 159.3h4.52v1.15h-4.52zM99.17 159.3h4.52v1.15h-4.52zM155.76 160.3h4.53v1.15h-4.53zM147 161.3h4.53v1.15h-4.53zM155.76 163.3h4.53v1.15h-4.53zM138.53 165.31h4.52v1.15h-4.52zM147 167.31h4.53v1.15h-4.53zM94.8 172.32h4.52v1.15h-4.52zM86.05 177.32h4.52v1.15h-4.52zM90.42 177.32h4.52v1.15h-4.52zM94.8 177.32h4.52v1.15h-4.52zM90.42 178.32h4.52v1.15h-4.52zM112.29 178.32h4.52v1.15h-4.52zM90.42 180.33h4.52v1.15h-4.52zM94.8 180.33h4.52v1.15h-4.52zM147 181.33h4.53v1.15h-4.53zM155.76 181.33h4.53v1.15h-4.53zM90.42 185.33h4.52v1.15h-4.52zM94.8 185.33h4.52v1.15h-4.52zM103.54 188.34h4.52v1.15h-4.52zM86.05 189.34h4.52v1.15h-4.52zM103.54 190.34h4.52v1.15h-4.52zM116.66 214.37h4.52v1.15h-4.52zM164.52 262.44h4.53v1.15h-4.53z"/>
<path fill="#060606" d="M38.72 88.2h4.49v1.15h-4.49zM47.4 93.21h4.49v1.15h-4.49zM12.7 95.21h4.49v1.15h-4.49zM51.74 99.22h4.49v1.15h-4.49zM47.4 102.22h4.49v1.15h-4.49zM34.39 108.23h4.49v1.15h-4.49zM47.4 109.23h4.49v1.15h-4.49zM73.42 109.23h4.49v1.15h-4.49zM86.05 112.24h4.52v1.15h-4.52zM34.39 115.24h4.49v1.15h-4.49zM129.78 119.25h4.52v1.15h-4.52zM138.53 121.25h4.52v1.15h-4.52zM21.38 123.25h4.49v1.15h-4.49zM38.72 132.26h4.49v1.15h-4.49zM99.17 138.27h4.52v1.15h-4.52zM34.39 139.27h4.49v1.15h-4.49zM99.17 139.27h4.52v1.15h-4.52zM125.41 145.28h4.52v1.15h-4.52zM60.41 147.28h4.49v1.15h-4.49zM77.76 147.28h4.49v1.15h-4.49zM94.8 147.28h4.52v1.15h-4.52zM90.42 149.29h4.52v1.15h-4.52zM73.42 151.29h4.49v1.15h-4.49zM12.7 156.3h4.49v1.15h-4.49zM51.74 156.3h4.49v1.15h-4.49zM73.42 157.3h4.49v1.15h-4.49zM73.42 163.3h4.49v1.15h-4.49zM51.74 170.31h4.49v1.15h-4.49zM47.4 175.32h4.49v1.15h-4.49zM64.75 175.32h4.49v1.15h-4.49zM147 175.32h4.53v1.15h-4.53zM164.52 176.32h4.53v1.15h-4.53zM25.71 178.32h4.49v1.15h-4.49zM64.75 178.32h4.49v1.15h-4.49zM77.76 179.33h4.49v1.15h-4.49zM116.66 179.33h4.52v1.15h-4.52zM60.41 184.33h4.49v1.15h-4.49zM34.39 187.34h4.49v1.15h-4.49zM38.72 191.34h4.49v1.15h-4.49zM73.42 193.34h4.49v1.15h-4.49zM164.52 196.35h4.53v1.15h-4.53zM60.41 198.35h4.49v1.15h-4.49zM77.76 202.36h4.49v1.15h-4.49zM34.39 204.36h4.49v1.15h-4.49zM138.53 207.36h4.52v1.15h-4.52zM77.76 210.37h4.49v1.15h-4.49zM34.39 213.37h4.49v1.15h-4.49zM60.41 213.37h4.49v1.15h-4.49zM73.42 215.37h4.49v1.15h-4.49zM73.42 216.38h4.49v1.15h-4.49zM125.41 217.38h4.52v1.15h-4.52zM38.72 218.38h4.49v1.15h-4.49zM112.29 218.38h4.52v1.15h-4.52zM51.74 225.39h4.49v1.15h-4.49zM47.4 228.39h4.49v1.15h-4.49zM138.53 232.4h4.52v1.15h-4.52zM60.41 234.4h4.49v1.15h-4.49zM73.42 237.4h4.49v1.15h-4.49zM47.4 238.4h4.49v1.15h-4.49zM51.74 241.41h4.49v1.15h-4.49zM60.41 244.41h4.49v1.15h-4.49zM34.39 246.42h4.49v1.15h-4.49zM134.15 248.42h4.52v1.15h-4.52zM34.39 249.42h4.49v1.15h-4.49zM34.39 252.42h4.49v1.15h-4.49zM38.72 253.43h4.49v1.15h-4.49zM47.4 253.43h4.49v1.15h-4.49zM34.39 257.43h4.49v1.15h-4.49zM90.42 257.43h4.52v1.15h-4.52zM47.4 260.43h4.49v1.15h-4.49zM107.92 262.44h4.52v1.15h-4.52zM60.41 267.44h4.49v1.15h-4.49zM47.4 269.45h4.49v1.15h-4.49zM73.42 270.45h4.49v1.15h-4.49zM47.4 273.45h4.49v1.15h-4.49zM73.42 273.45h4.49v1.15h-4.49zM34.39 275.45h4.49v1.15h-4.49zM73.42 275.45h4.49v1.15h-4.49zM34.39 280.46h4.49v1.15h-4.49zM73.42 281.46h4.49v1.15h-4.49zM60.41 282.46h4.49v1.15h-4.49zM34.39 284.47h4.49v1.15h-4.49zM60.41 292.48h4.49v1.15h-4.49zM60.41 294.48h4.49v1.15h-4.49zM116.66 297.48h4.52v1.15h-4.52zM56.07 300.49h4.49v1.15h-4.49zM73.42 301.49h4.49v1.15h-4.49zM12.7 304.49h4.49v1.15h-4.49z"/>
<path fill="#a2000c" d="M134.15 88.2h4.52v1.15h-4.52zM147 91.21h4.53v1.15h-4.53zM160.14 91.21h4.53v1.15h-4.53zM160.14 93.21h4.53v1.15h-4.53zM151.38 94.21h4.53v1.15h-4.53zM160.14 94.21h4.53v1.15h-4.53zM151.38 100.22h4.53v1.15h-4.53zM160.14 117.24h4.53v1.15h-4.53zM160.14 119.25h4.53v1.15h-4.53zM160.14 123.25h4.53v1.15h-4.53zM147 128.26h4.53v1.15h-4.53zM155.76 130.26h4.53v1.15h-4.53zM94.8 186.34h4.52v1.15h-4.52zM107.92 187.34h4.52v1.15h-4.52zM121.03 187.34h4.52v1.15h-4.52zM125.41 187.34h4.52v1.15h-4.52z"/>
<path fill="#240000" d="M69.09 89.21h4.49v1.15h-4.49zM125.41 93.21h4.52v1.15h-4.52zM69.09 95.21h4.49v1.15h-4.49zM86.05 95.21h4.52v1.15h-4.52zM164.52 96.21h4.53v1.15h-4.53zM129.78 101.22h4.52v1.15h-4.52zM30.05 103.22h4.49v1.15h-4.49zM69.09 105.23h4.49v1.15h-4.49zM138.53 108.23h4.52v1.15h-4.52zM138.53 116.24h4.52v1.15h-4.52zM69.09 122.25h4.49v1.15h-4.49zM129.78 125.25h4.52v1.15h-4.52zM69.09 131.26h4.49v1.15h-4.49zM129.78 131.26h4.52v1.15h-4.52zM121.03 134.27h4.52v1.15h-4.52zM121.03 137.27h4.52v1.15h-4.52zM129.78 140.27h4.52v1.15h-4.52zM125.41 142.28h4.52v1.15h-4.52zM134.15 142.28h4.52v1.15h-4.52zM138.53 142.28h4.52v1.15h-4.52zM164.52 143.28h4.53v1.15h-4.53zM138.53 144.28h4.52v1.15h-4.52zM69.09 145.28h4.49v1.15h-4.49zM94.8 146.28h4.52v1.15h-4.52zM164.52 148.28h4.53v1.15h-4.53zM94.8 150.29h4.52v1.15h-4.52zM107.92 152.29h4.52v1.15h-4.52zM69.09 156.3h4.49v1.15h-4.49zM99.17 156.3h4.52v1.15h-4.52zM125.41 158.3h4.52v1.15h-4.52zM69.09 159.3h4.49v1.15h-4.49zM99.17 169.31h4.52v1.15h-4.52zM69.09 174.32h4.49v1.15h-4.49zM30.05 178.32h4.49v1.15h-4.49zM69.09 186.34h4.49v1.15h-4.49zM69.09 204.36h4.49v1.15h-4.49zM107.92 209.37h4.52v1.15h-4.52zM134.15 209.37h4.52v1.15h-4.52zM69.09 238.4h4.49v1.15h-4.49zM116.66 238.4h4.52v1.15h-4.52zM69.09 241.41h4.49v1.15h-4.49zM69.09 243.41h4.49v1.15h-4.49zM43.06 248.42h4.49v1.15h-4.49zM121.03 249.42h4.52v1.15h-4.52zM116.66 262.44h4.52v1.15h-4.52zM129.78 270.45h4.52v1.15h-4.52zM155.76 273.45h4.53v1.15h-4.53zM30.05 275.45h4.49v1.15h-4.49zM69.09 283.47h4.49v1.15h-4.49zM17.04 290.47h4.49v1.15h-4.49zM69.09 290.47h4.49v1.15h-4.49z"/>
<path fill="#5a0006" d="M121.03 89.21h4.52v1.15h-4.52zM125.41 91.21h4.52v1.15h-4.52zM99.17 92.21h4.52v1.15h-4.52zM99.17 94.21h4.52v1.15h-4.52zM138.53 94.21h4.52v1.15h-4.52zM94.8 96.21h4.52v1.15h-4.52zM99.17 96.21h4.52v1.15h-4.52zM147 96.21h4.53v1.15h-4.53zM134.15 97.22h4.52v1.15h-4.52zM99.17 99.22h4.52v1.15h-4.52zM112.29 99.22h4.52v1.15h-4.52zM121.03 99.22h4.52v1.15h-4.52zM99.17 103.22h4.52v1.15h-4.52zM125.41 105.23h4.52v1.15h-4.52zM147 105.23h4.53v1.15h-4.53zM94.8 106.23h4.52v1.15h-4.52zM107.92 106.23h4.52v1.15h-4.52zM112.29 106.23h4.52v1.15h-4.52zM125.41 106.23h4.52v1.15h-4.52zM121.03 107.23h4.52v1.15h-4.52zM138.53 107.23h4.52v1.15h-4.52zM134.15 111.23h4.52v1.15h-4.52zM90.42 113.24h4.52v1.15h-4.52zM107.92 113.24h4.52v1.15h-4.52zM121.03 113.24h4.52v1.15h-4.52zM147 113.24h4.53v1.15h-4.53zM121.03 125.25h4.52v1.15h-4.52zM121.03 131.26h4.52v1.15h-4.52zM121.03 132.26h4.52v1.15h-4.52zM121.03 135.27h4.52v1.15h-4.52zM151.38 138.27h4.53v1.15h-4.53zM147 149.29h4.53v1.15h-4.53zM160.14 151.29h4.53v1.15h-4.53zM147 153.29h4.53v1.15h-4.53zM99.17 154.29h4.52v1.15h-4.52zM160.14 155.29h4.53v1.15h-4.53zM155.76 174.32h4.53v1.15h-4.53zM121.03 177.32h4.52v1.15h-4.52zM86.05 179.33h4.52v1.15h-4.52zM99.17 180.33h4.52v1.15h-4.52zM125.41 180.33h4.52v1.15h-4.52zM134.15 182.33h4.52v1.15h-4.52zM112.29 185.33h4.52v1.15h-4.52zM94.8 188.34h4.52v1.15h-4.52zM121.03 188.34h4.52v1.15h-4.52z"/>
<path fill="#c00012" d="M147 90.21h4.53v1.15h-4.53zM155.76 100.22h4.53v1.15h-4.53zM155.76 116.24h4.53v1.15h-4.53zM151.38 118.24h4.53v1.15h-4.53zM155.76 118.24h4.53v1.15h-4.53zM160.14 118.24h4.53v1.15h-4.53zM151.38 119.25h4.53v1.15h-4.53zM147 124.25h4.53v1.15h-4.53zM147 129.26h4.53v1.15h-4.53zM155.76 131.26h4.53v1.15h-4.53z"/>
<path fill="#0c1824" d="M116.66 91.21h4.52v1.15h-4.52zM77.76 102.22h4.49v1.15h-4.49zM116.66 114.24h4.52v1.15h-4.52zM86.05 122.25h4.52v1.15h-4.52zM86.05 124.25h4.52v1.15h-4.52zM25.71 148.28h4.49v1.15h-4.49zM38.72 155.29h4.49v1.15h-4.49zM25.71 158.3h4.49v1.15h-4.49zM116.66 175.32h4.52v1.15h-4.52zM64.75 180.33h4.49v1.15h-4.49zM12.7 183.33h4.49v1.15h-4.49zM77.76 183.33h4.49v1.15h-4.49zM90.42 203.36h4.52v1.15h-4.52zM112.29 204.36h4.52v1.15h-4.52zM86.05 207.36h4.52v1.15h-4.52zM134.15 218.38h4.52v1.15h-4.52zM12.7 220.38h4.49v1.15h-4.49zM125.41 222.38h4.52v1.15h-4.52zM125.41 224.39h4.52v1.15h-4.52zM103.54 229.39h4.52v1.15h-4.52zM138.53 234.4h4.52v1.15h-4.52zM125.41 251.42h4.52v1.15h-4.52zM38.72 254.43h4.49v1.15h-4.49zM129.78 261.44h4.52v1.15h-4.52zM94.8 264.44h4.52v1.15h-4.52zM64.75 271.45h4.49v1.15h-4.49zM112.29 274.45h4.52v1.15h-4.52zM12.7 279.46h4.49v1.15h-4.49zM125.41 283.47h4.52v1.15h-4.52z"/>
<path fill="#000006" d="M47.4 95.21h4.49v1.15h-4.49zM60.41 95.21h4.49v1.15h-4.49zM73.42 100.22h4.49v1.15h-4.49zM47.4 104.23h4.49v1.15h-4.49zM60.41 105.23h4.49v1.15h-4.49zM73.42 111.23h4.49v1.15h-4.49zM21.38 114.24h4.49v1.15h-4.49zM51.74 115.24h4.49v1.15h-4.49zM34.39 124.25h4.49v1.15h-4.49zM60.41 127.26h4.49v1.15h-4.49zM73.42 129.26h4.49v1.15h-4.49zM21.38 133.26h4.49v1.15h-4.49zM47.4 136.27h4.49v1.15h-4.49zM21.38 142.28h4.49v1.15h-4.49zM86.05 146.28h4.52v1.15h-4.52zM125.41 149.29h4.52v1.15h-4.52zM17.04 152.29h4.49v1.15h-4.49zM73.42 156.3h4.49v1.15h-4.49zM34.39 157.3h4.49v1.15h-4.49zM47.4 158.3h4.49v1.15h-4.49zM60.41 158.3h4.49v1.15h-4.49zM34.39 163.3h4.49v1.15h-4.49zM47.4 170.31h4.49v1.15h-4.49zM43.06 172.32h4.49v1.15h-4.49zM94.8 173.32h4.52v1.15h-4.52zM116.66 183.33h4.52v1.15h-4.52zM47.4 189.34h4.49v1.15h-4.49zM34.39 190.34h4.49v1.15h-4.49zM60.41 191.34h4.49v1.15h-4.49zM60.41 193.34h4.49v1.15h-4.49zM34.39 195.35h4.49v1.15h-4.49zM60.41 195.35h4.49v1.15h-4.49zM60.41 199.35h4.49v1.15h-4.49zM12.7 202.36h4.49v1.15h-4.49zM25.71 202.36h4.49v1.15h-4.49zM60.41 203.36h4.49v1.15h-4.49zM73.42 204.36h4.49v1.15h-4.49zM47.4 216.38h4.49v1.15h-4.49zM164.52 217.38h4.53v1.15h-4.53zM60.41 221.38h4.49v1.15h-4.49zM34.39 222.38h4.49v1.15h-4.49zM116.66 225.39h4.52v1.15h-4.52zM34.39 228.39h4.49v1.15h-4.49zM86.05 228.39h4.52v1.15h-4.52zM164.52 228.39h4.53v1.15h-4.53zM60.41 232.4h4.49v1.15h-4.49zM47.4 233.4h4.49v1.15h-4.49zM99.17 233.4h4.52v1.15h-4.52zM116.66 244.41h4.52v1.15h-4.52zM94.8 246.42h4.52v1.15h-4.52zM47.4 248.42h4.49v1.15h-4.49zM125.41 249.42h4.52v1.15h-4.52zM129.78 254.43h4.52v1.15h-4.52zM125.41 259.43h4.52v1.15h-4.52zM47.4 268.45h4.49v1.15h-4.49zM77.76 274.45h4.49v1.15h-4.49zM116.66 279.46h4.52v1.15h-4.52zM47.4 280.46h4.49v1.15h-4.49zM34.39 287.47h4.49v1.15h-4.49zM64.75 292.48h4.49v1.15h-4.49zM51.74 293.48h4.49v1.15h-4.49z"/>
<path fill="#0c1e24" d="M116.66 96.21h4.52v1.15h-4.52zM64.75 103.22h4.49v1.15h-4.49zM116.66 105.23h4.52v1.15h-4.52zM51.74 110.23h4.49v1.15h-4.49zM77.76 114.24h4.49v1.15h-4.49zM116.66 128.26h4.52v1.15h-4.52zM25.71 130.26h4.49v1.15h-4.49zM51.74 130.26h4.49v1.15h-4.49zM12.7 135.27h4.49v1.15h-4.49zM77.76 135.27h4.49v1.15h-4.49zM116.66 136.27h4.52v1.15h-4.52zM25.71 137.27h4.49v1.15h-4.49zM77.76 137.27h4.49v1.15h-4.49zM116.66 140.27h4.52v1.15h-4.52zM112.29 145.28h4.52v1.15h-4.52zM116.66 148.28h4.52v1.15h-4.52zM116.66 150.29h4.52v1.15h-4.52zM116.66 151.29h4.52v1.15h-4.52zM12.7 152.29h4.49v1.15h-4.49zM38.72 152.29h4.49v1.15h-4.49zM107.92 153.29h4.52v1.15h-4.52zM86.05 155.29h4.52v1.15h-4.52zM116.66 155.29h4.52v1.15h-4.52zM51.74 157.3h4.49v1.15h-4.49zM86.05 157.3h4.52v1.15h-4.52zM86.05 160.3h4.52v1.15h-4.52zM25.71 161.3h4.49v1.15h-4.49zM38.72 162.3h4.49v1.15h-4.49zM86.05 163.3h4.52v1.15h-4.52zM12.7 165.31h4.49v1.15h-4.49zM25.71 165.31h4.49v1.15h-4.49zM25.71 166.31h4.49v1.15h-4.49zM90.42 166.31h4.52v1.15h-4.52zM77.76 172.32h4.49v1.15h-4.49zM99.17 173.32h4.52v1.15h-4.52zM134.15 173.32h4.52v1.15h-4.52zM25.71 177.32h4.49v1.15h-4.49zM38.72 177.32h4.49v1.15h-4.49zM116.66 178.32h4.52v1.15h-4.52zM12.7 179.33h4.49v1.15h-4.49zM12.7 180.33h4.49v1.15h-4.49zM77.76 180.33h4.49v1.15h-4.49zM25.71 185.33h4.49v1.15h-4.49zM25.71 186.34h4.49v1.15h-4.49zM38.72 187.34h4.49v1.15h-4.49zM125.41 191.34h4.52v1.15h-4.52zM147 191.34h4.53v1.15h-4.53zM160.14 192.34h4.53v1.15h-4.53zM147 193.34h4.53v1.15h-4.53zM160.14 193.34h4.53v1.15h-4.53zM116.66 194.35h4.52v1.15h-4.52zM129.78 194.35h4.52v1.15h-4.52zM38.72 195.35h4.49v1.15h-4.49zM107.92 196.35h4.52v1.15h-4.52zM25.71 197.35h4.49v1.15h-4.49zM51.74 198.35h4.49v1.15h-4.49zM90.42 198.35h4.52v1.15h-4.52zM147 199.35h4.53v1.15h-4.53zM129.78 201.36h4.52v1.15h-4.52zM12.7 203.36h4.49v1.15h-4.49zM99.17 203.36h4.52v1.15h-4.52zM125.41 203.36h4.52v1.15h-4.52zM125.41 204.36h4.52v1.15h-4.52zM86.05 205.36h4.52v1.15h-4.52zM38.72 208.36h4.49v1.15h-4.49zM51.74 209.37h4.49v1.15h-4.49zM107.92 210.37h4.52v1.15h-4.52zM147 211.37h4.53v1.15h-4.53zM151.38 211.37h4.53v1.15h-4.53zM121.03 212.37h4.52v1.15h-4.52zM155.76 213.37h4.53v1.15h-4.53zM147 214.37h4.53v1.15h-4.53zM125.41 218.38h4.52v1.15h-4.52zM121.03 219.38h4.52v1.15h-4.52zM38.72 220.38h4.49v1.15h-4.49zM64.75 220.38h4.49v1.15h-4.49zM103.54 220.38h4.52v1.15h-4.52zM73.42 222.38h4.49v1.15h-4.49zM129.78 226.39h4.52v1.15h-4.52zM94.8 227.39h4.52v1.15h-4.52zM99.17 227.39h4.52v1.15h-4.52zM112.29 227.39h4.52v1.15h-4.52zM134.15 227.39h4.52v1.15h-4.52zM164.52 227.39h4.53v1.15h-4.53zM90.42 229.39h4.52v1.15h-4.52zM94.8 229.39h4.52v1.15h-4.52zM112.29 229.39h4.52v1.15h-4.52zM25.71 230.39h4.49v1.15h-4.49zM38.72 230.39h4.49v1.15h-4.49zM86.05 230.39h4.52v1.15h-4.52zM94.8 230.39h4.52v1.15h-4.52zM25.71 231.4h4.49v1.15h-4.49zM129.78 234.4h4.52v1.15h-4.52zM25.71 235.4h4.49v1.15h-4.49zM77.76 238.4h4.49v1.15h-4.49zM12.7 239.41h4.49v1.15h-4.49zM107.92 240.41h4.52v1.15h-4.52zM129.78 243.41h4.52v1.15h-4.52zM94.8 244.41h4.52v1.15h-4.52zM107.92 244.41h4.52v1.15h-4.52zM112.29 244.41h4.52v1.15h-4.52zM103.54 245.41h4.52v1.15h-4.52zM125.41 245.41h4.52v1.15h-4.52zM86.05 246.42h4.52v1.15h-4.52zM138.53 249.42h4.52v1.15h-4.52zM103.54 251.42h4.52v1.15h-4.52zM134.15 251.42h4.52v1.15h-4.52zM90.42 252.42h4.52v1.15h-4.52zM107.92 253.43h4.52v1.15h-4.52zM86.05 256.43h4.52v1.15h-4.52zM129.78 258.43h4.52v1.15h-4.52zM38.72 259.43h4.49v1.15h-4.49zM112.29 260.43h4.52v1.15h-4.52zM138.53 260.43h4.52v1.15h-4.52zM86.05 261.44h4.52v1.15h-4.52zM125.41 263.44h4.52v1.15h-4.52zM134.15 263.44h4.52v1.15h-4.52zM121.03 265.44h4.52v1.15h-4.52zM129.78 265.44h4.52v1.15h-4.52zM103.54 266.44h4.52v1.15h-4.52zM112.29 266.44h4.52v1.15h-4.52zM129.78 266.44h4.52v1.15h-4.52zM134.15 266.44h4.52v1.15h-4.52zM94.8 267.44h4.52v1.15h-4.52zM99.17 267.44h4.52v1.15h-4.52zM64.75 268.45h4.49v1.15h-4.49zM77.76 268.45h4.49v1.15h-4.49zM164.52 273.45h4.53v1.15h-4.53zM129.78 274.45h4.52v1.15h-4.52zM164.52 274.45h4.53v1.15h-4.53zM160.14 275.45h4.53v1.15h-4.53zM134.15 277.46h4.52v1.15h-4.52zM138.53 277.46h4.52v1.15h-4.52zM77.76 278.46h4.49v1.15h-4.49zM99.17 279.46h4.52v1.15h-4.52zM134.15 279.46h4.52v1.15h-4.52zM155.76 279.46h4.53v1.15h-4.53zM112.29 280.46h4.52v1.15h-4.52zM125.41 280.46h4.52v1.15h-4.52zM121.03 282.46h4.52v1.15h-4.52zM25.71 284.47h4.49v1.15h-4.49zM134.15 284.47h4.52v1.15h-4.52zM86.05 290.47h4.52v1.15h-4.52zM90.42 290.47h4.52v1.15h-4.52zM116.66 290.47h4.52v1.15h-4.52zM164.52 292.48h4.53v1.15h-4.53zM38.72 300.49h4.49v1.15h-4.49zM64.75 300.49h4.49v1.15h-4.49zM77.76 300.49h4.49v1.15h-4.49z"/>
<path fill="#0c1818" d="M116.66 97.22h4.52v1.15h-4.52zM64.75 100.22h4.49v1.15h-4.49zM64.75 108.23h4.49v1.15h-4.49zM77.76 109.23h4.49v1.15h-4.49zM64.75 112.24h4.49v1.15h-4.49zM77.76 133.26h4.49v1.15h-4.49zM38.72 140.27h4.49v1.15h-4.49zM90.42 145.28h4.52v1.15h-4.52zM77.76 152.29h4.49v1.15h-4.49zM12.7 158.3h4.49v1.15h-4.49zM116.66 160.3h4.52v1.15h-4.52zM51.74 161.3h4.49v1.15h-4.49zM112.29 173.32h4.52v1.15h-4.52zM151.38 175.32h4.53v1.15h-4.53zM77.76 189.34h4.49v1.15h-4.49zM25.71 194.35h4.49v1.15h-4.49zM38.72 196.35h4.49v1.15h-4.49zM73.42 197.35h4.49v1.15h-4.49zM147 197.35h4.53v1.15h-4.53zM112.29 202.36h4.52v1.15h-4.52zM77.76 204.36h4.49v1.15h-4.49zM25.71 221.38h4.49v1.15h-4.49zM77.76 223.38h4.49v1.15h-4.49zM64.75 227.39h4.49v1.15h-4.49zM38.72 244.41h4.49v1.15h-4.49zM38.72 246.42h4.49v1.15h-4.49zM12.7 254.43h4.49v1.15h-4.49zM134.15 256.43h4.52v1.15h-4.52zM138.53 256.43h4.52v1.15h-4.52zM94.8 259.43h4.52v1.15h-4.52zM77.76 262.44h4.49v1.15h-4.49zM107.92 263.44h4.52v1.15h-4.52zM25.71 265.44h4.49v1.15h-4.49zM99.17 265.44h4.52v1.15h-4.52zM99.17 266.44h4.52v1.15h-4.52zM86.05 270.45h4.52v1.15h-4.52zM77.76 271.45h4.49v1.15h-4.49zM103.54 272.45h4.52v1.15h-4.52zM25.71 274.45h4.49v1.15h-4.49zM25.71 278.46h4.49v1.15h-4.49zM25.71 286.47h4.49v1.15h-4.49zM64.75 286.47h4.49v1.15h-4.49zM99.17 290.47h4.52v1.15h-4.52zM38.72 297.48h4.49v1.15h-4.49zM77.76 299.49h4.49v1.15h-4.49zM60.41 300.49h4.49v1.15h-4.49z"/>
<path fill="#121e2a" d="M38.72 106.23h4.49v1.15h-4.49zM90.42 114.24h4.52v1.15h-4.52zM38.72 123.25h4.49v1.15h-4.49zM125.41 193.34h4.52v1.15h-4.52zM103.54 194.35h4.52v1.15h-4.52zM125.41 194.35h4.52v1.15h-4.52zM38.72 197.35h4.49v1.15h-4.49zM107.92 204.36h4.52v1.15h-4.52zM25.71 206.36h4.49v1.15h-4.49zM99.17 206.36h4.52v1.15h-4.52zM155.76 206.36h4.53v1.15h-4.53zM112.29 208.36h4.52v1.15h-4.52zM112.29 211.37h4.52v1.15h-4.52zM90.42 213.37h4.52v1.15h-4.52zM112.29 215.37h4.52v1.15h-4.52zM134.15 226.39h4.52v1.15h-4.52zM90.42 237.4h4.52v1.15h-4.52zM134.15 237.4h4.52v1.15h-4.52zM134.15 238.4h4.52v1.15h-4.52zM138.53 238.4h4.52v1.15h-4.52zM90.42 240.41h4.52v1.15h-4.52zM112.29 240.41h4.52v1.15h-4.52zM90.42 256.43h4.52v1.15h-4.52zM103.54 257.43h4.52v1.15h-4.52zM125.41 258.43h4.52v1.15h-4.52zM134.15 267.44h4.52v1.15h-4.52zM107.92 271.45h4.52v1.15h-4.52zM38.72 277.46h4.49v1.15h-4.49zM38.72 278.46h4.49v1.15h-4.49zM112.29 278.46h4.52v1.15h-4.52zM151.38 279.46h4.53v1.15h-4.53zM94.8 281.46h4.52v1.15h-4.52zM129.78 290.47h4.52v1.15h-4.52z"/>
<path fill="#ea0012" d="M147 114.24h4.53v1.15h-4.53zM151.38 114.24h4.53v1.15h-4.53zM155.76 114.24h4.53v1.15h-4.53zM160.14 114.24h4.53v1.15h-4.53zM147 115.24h4.53v1.15h-4.53zM151.38 115.24h4.53v1.15h-4.53zM155.76 115.24h4.53v1.15h-4.53zM160.14 115.24h4.53v1.15h-4.53zM147 122.25h4.53v1.15h-4.53z"/>
<path fill="#122430" d="M86.05 117.24h4.52v1.15h-4.52zM38.72 135.27h4.49v1.15h-4.49zM103.54 145.28h4.52v1.15h-4.52zM103.54 155.29h4.52v1.15h-4.52zM103.54 166.31h4.52v1.15h-4.52zM116.66 177.32h4.52v1.15h-4.52zM94.8 194.35h4.52v1.15h-4.52zM121.03 196.35h4.52v1.15h-4.52zM160.14 197.35h4.53v1.15h-4.53zM160.14 199.35h4.53v1.15h-4.53zM90.42 201.36h4.52v1.15h-4.52zM155.76 204.36h4.53v1.15h-4.53zM86.05 206.36h4.52v1.15h-4.52zM151.38 206.36h4.53v1.15h-4.53zM25.71 208.36h4.49v1.15h-4.49zM121.03 210.37h4.52v1.15h-4.52zM103.54 211.37h4.52v1.15h-4.52zM147 213.37h4.53v1.15h-4.53zM151.38 213.37h4.53v1.15h-4.53zM94.8 214.37h4.52v1.15h-4.52zM155.76 214.37h4.53v1.15h-4.53zM90.42 215.37h4.52v1.15h-4.52zM164.52 215.37h4.53v1.15h-4.53zM25.71 220.38h4.49v1.15h-4.49zM86.05 221.38h4.52v1.15h-4.52zM12.7 222.38h4.49v1.15h-4.49zM147 222.38h4.53v1.15h-4.53zM151.38 222.38h4.53v1.15h-4.53zM155.76 222.38h4.53v1.15h-4.53zM90.42 230.39h4.52v1.15h-4.52zM155.76 231.4h4.53v1.15h-4.53zM103.54 232.4h4.52v1.15h-4.52zM121.03 238.4h4.52v1.15h-4.52zM86.05 251.42h4.52v1.15h-4.52zM86.05 252.42h4.52v1.15h-4.52zM129.78 253.43h4.52v1.15h-4.52zM86.05 254.43h4.52v1.15h-4.52zM90.42 254.43h4.52v1.15h-4.52zM90.42 255.43h4.52v1.15h-4.52zM112.29 258.43h4.52v1.15h-4.52zM99.17 263.44h4.52v1.15h-4.52zM112.29 263.44h4.52v1.15h-4.52zM125.41 265.44h4.52v1.15h-4.52zM99.17 272.45h4.52v1.15h-4.52zM99.17 274.45h4.52v1.15h-4.52zM155.76 274.45h4.53v1.15h-4.53zM129.78 277.46h4.52v1.15h-4.52zM125.41 278.46h4.52v1.15h-4.52zM147 279.46h4.53v1.15h-4.53zM103.54 280.46h4.52v1.15h-4.52zM129.78 280.46h4.52v1.15h-4.52zM125.41 281.46h4.52v1.15h-4.52zM147 281.46h4.53v1.15h-4.53zM129.78 283.47h4.52v1.15h-4.52zM164.52 283.47h4.53v1.15h-4.53zM90.42 284.47h4.52v1.15h-4.52zM160.14 285.47h4.53v1.15h-4.53zM164.52 285.47h4.53v1.15h-4.53zM151.38 288.47h4.53v1.15h-4.53zM107.92 290.47h4.52v1.15h-4.52zM164.52 291.48h4.53v1.15h-4.53zM112.29 296.48h4.52v1.15h-4.52zM164.52 297.48h4.53v1.15h-4.53z"/>
<path fill="#183642" d="M86.05 119.25h4.52v1.15h-4.52zM90.42 119.25h4.52v1.15h-4.52zM147 195.35h4.53v1.15h-4.53zM155.76 195.35h4.53v1.15h-4.53zM151.38 198.35h4.53v1.15h-4.53zM155.76 201.36h4.53v1.15h-4.53zM147 202.36h4.53v1.15h-4.53zM147 203.36h4.53v1.15h-4.53zM147 204.36h4.53v1.15h-4.53zM103.54 205.36h4.52v1.15h-4.52zM147 205.36h4.53v1.15h-4.53zM151.38 205.36h4.53v1.15h-4.53zM112.29 206.36h4.52v1.15h-4.52zM155.76 207.36h4.53v1.15h-4.53zM151.38 208.36h4.53v1.15h-4.53zM147 212.37h4.53v1.15h-4.53zM134.15 214.37h4.52v1.15h-4.52zM138.53 214.37h4.52v1.15h-4.52zM147 216.38h4.53v1.15h-4.53zM90.42 219.38h4.52v1.15h-4.52zM155.76 229.39h4.53v1.15h-4.53zM160.14 231.4h4.53v1.15h-4.53zM86.05 232.4h4.52v1.15h-4.52zM155.76 232.4h4.53v1.15h-4.53zM125.41 237.4h4.52v1.15h-4.52zM129.78 238.4h4.52v1.15h-4.52zM90.42 243.41h4.52v1.15h-4.52zM125.41 243.41h4.52v1.15h-4.52zM125.41 244.41h4.52v1.15h-4.52zM112.29 248.42h4.52v1.15h-4.52zM103.54 249.42h4.52v1.15h-4.52zM90.42 253.43h4.52v1.15h-4.52zM94.8 253.43h4.52v1.15h-4.52zM138.53 253.43h4.52v1.15h-4.52zM129.78 256.43h4.52v1.15h-4.52zM107.92 260.43h4.52v1.15h-4.52zM112.29 271.45h4.52v1.15h-4.52zM103.54 274.45h4.52v1.15h-4.52zM107.92 275.45h4.52v1.15h-4.52zM134.15 276.46h4.52v1.15h-4.52zM90.42 277.46h4.52v1.15h-4.52zM112.29 277.46h4.52v1.15h-4.52zM160.14 277.46h4.53v1.15h-4.53zM94.8 278.46h4.52v1.15h-4.52zM99.17 278.46h4.52v1.15h-4.52zM129.78 279.46h4.52v1.15h-4.52zM99.17 282.46h4.52v1.15h-4.52zM121.03 283.47h4.52v1.15h-4.52zM107.92 286.47h4.52v1.15h-4.52zM134.15 286.47h4.52v1.15h-4.52zM107.92 287.47h4.52v1.15h-4.52zM94.8 289.47h4.52v1.15h-4.52zM99.17 289.47h4.52v1.15h-4.52zM107.92 289.47h4.52v1.15h-4.52zM94.8 291.48h4.52v1.15h-4.52zM138.53 291.48h4.52v1.15h-4.52zM94.8 292.48h4.52v1.15h-4.52zM125.41 294.48h4.52v1.15h-4.52zM94.8 295.48h4.52v1.15h-4.52zM134.15 296.48h4.52v1.15h-4.52zM112.29 300.49h4.52v1.15h-4.52zM164.52 302.49h4.53v1.15h-4.53zM107.92 305.49h4.52v1.15h-4.52z"/>
<path fill="#183036" d="M94.8 119.25h4.52v1.15h-4.52zM155.76 217.38h4.53v1.15h-4.53zM99.17 219.38h4.52v1.15h-4.52zM151.38 225.39h4.53v1.15h-4.53zM112.29 242.41h4.52v1.15h-4.52zM99.17 243.41h4.52v1.15h-4.52zM90.42 248.42h4.52v1.15h-4.52zM86.05 257.43h4.52v1.15h-4.52zM121.03 258.43h4.52v1.15h-4.52zM112.29 262.44h4.52v1.15h-4.52zM86.05 263.44h4.52v1.15h-4.52zM86.05 264.44h4.52v1.15h-4.52zM147 274.45h4.53v1.15h-4.53zM151.38 276.46h4.53v1.15h-4.53zM155.76 278.46h4.53v1.15h-4.53zM107.92 281.46h4.52v1.15h-4.52zM138.53 286.47h4.52v1.15h-4.52zM164.52 293.48h4.53v1.15h-4.53zM121.03 296.48h4.52v1.15h-4.52zM164.52 299.49h4.53v1.15h-4.53z"/>
<path fill="#12242a" d="M112.29 119.25h4.52v1.15h-4.52zM116.66 127.26h4.52v1.15h-4.52zM116.66 133.26h4.52v1.15h-4.52zM116.66 134.27h4.52v1.15h-4.52zM25.71 139.27h4.49v1.15h-4.49zM134.15 155.29h4.52v1.15h-4.52zM38.72 157.3h4.49v1.15h-4.49zM12.7 161.3h4.49v1.15h-4.49zM38.72 165.31h4.49v1.15h-4.49zM90.42 173.32h4.52v1.15h-4.52zM116.66 185.33h4.52v1.15h-4.52zM134.15 191.34h4.52v1.15h-4.52zM116.66 192.34h4.52v1.15h-4.52zM107.92 193.34h4.52v1.15h-4.52zM112.29 193.34h4.52v1.15h-4.52zM86.05 200.35h4.52v1.15h-4.52zM103.54 201.36h4.52v1.15h-4.52zM125.41 201.36h4.52v1.15h-4.52zM164.52 202.36h4.53v1.15h-4.53zM94.8 203.36h4.52v1.15h-4.52zM99.17 212.37h4.52v1.15h-4.52zM138.53 212.37h4.52v1.15h-4.52zM160.14 213.37h4.53v1.15h-4.53zM125.41 214.37h4.52v1.15h-4.52zM99.17 218.38h4.52v1.15h-4.52zM103.54 219.38h4.52v1.15h-4.52zM51.74 220.38h4.49v1.15h-4.49zM86.05 220.38h4.52v1.15h-4.52zM86.05 222.38h4.52v1.15h-4.52zM90.42 222.38h4.52v1.15h-4.52zM112.29 222.38h4.52v1.15h-4.52zM90.42 223.38h4.52v1.15h-4.52zM112.29 224.39h4.52v1.15h-4.52zM129.78 224.39h4.52v1.15h-4.52zM86.05 229.39h4.52v1.15h-4.52zM121.03 234.4h4.52v1.15h-4.52zM134.15 234.4h4.52v1.15h-4.52zM99.17 238.4h4.52v1.15h-4.52zM90.42 239.41h4.52v1.15h-4.52zM103.54 240.41h4.52v1.15h-4.52zM138.53 244.41h4.52v1.15h-4.52zM86.05 248.42h4.52v1.15h-4.52zM94.8 248.42h4.52v1.15h-4.52zM129.78 249.42h4.52v1.15h-4.52zM99.17 250.42h4.52v1.15h-4.52zM86.05 258.43h4.52v1.15h-4.52zM90.42 258.43h4.52v1.15h-4.52zM94.8 258.43h4.52v1.15h-4.52zM86.05 259.43h4.52v1.15h-4.52zM103.54 259.43h4.52v1.15h-4.52zM103.54 261.44h4.52v1.15h-4.52zM25.71 263.44h4.49v1.15h-4.49zM38.72 263.44h4.49v1.15h-4.49zM99.17 264.44h4.52v1.15h-4.52zM86.05 268.45h4.52v1.15h-4.52zM90.42 268.45h4.52v1.15h-4.52zM138.53 271.45h4.52v1.15h-4.52zM147 276.46h4.53v1.15h-4.53zM94.8 277.46h4.52v1.15h-4.52zM107.92 278.46h4.52v1.15h-4.52zM164.52 278.46h4.53v1.15h-4.53zM94.8 279.46h4.52v1.15h-4.52zM160.14 279.46h4.53v1.15h-4.53zM164.52 279.46h4.53v1.15h-4.53zM107.92 285.47h4.52v1.15h-4.52zM164.52 287.47h4.53v1.15h-4.53zM164.52 289.47h4.53v1.15h-4.53zM134.15 290.47h4.52v1.15h-4.52z"/>
<path fill="#cc0012" d="M155.76 119.25h4.53v1.15h-4.53zM151.38 122.25h4.53v1.15h-4.53zM155.76 122.25h4.53v1.15h-4.53zM160.14 129.26h4.53v1.15h-4.53z"/>
<path fill="#18303c" d="M90.42 121.25h4.52v1.15h-4.52zM103.54 191.34h4.52v1.15h-4.52zM121.03 192.34h4.52v1.15h-4.52zM94.8 193.34h4.52v1.15h-4.52zM99.17 193.34h4.52v1.15h-4.52zM134.15 193.34h4.52v1.15h-4.52zM138.53 193.34h4.52v1.15h-4.52zM160.14 194.35h4.53v1.15h-4.53zM121.03 195.35h4.52v1.15h-4.52zM99.17 196.35h4.52v1.15h-4.52zM112.29 196.35h4.52v1.15h-4.52zM147 196.35h4.53v1.15h-4.53zM155.76 196.35h4.53v1.15h-4.53zM129.78 197.35h4.52v1.15h-4.52zM151.38 199.35h4.53v1.15h-4.53zM94.8 201.36h4.52v1.15h-4.52zM151.38 202.36h4.53v1.15h-4.53zM155.76 202.36h4.53v1.15h-4.53zM129.78 206.36h4.52v1.15h-4.52zM147 206.36h4.53v1.15h-4.53zM86.05 208.36h4.52v1.15h-4.52zM160.14 208.36h4.53v1.15h-4.53zM125.41 210.37h4.52v1.15h-4.52zM90.42 212.37h4.52v1.15h-4.52zM94.8 212.37h4.52v1.15h-4.52zM129.78 212.37h4.52v1.15h-4.52zM103.54 216.38h4.52v1.15h-4.52zM155.76 218.38h4.53v1.15h-4.53zM160.14 218.38h4.53v1.15h-4.53zM129.78 219.38h4.52v1.15h-4.52zM103.54 221.38h4.52v1.15h-4.52zM90.42 224.39h4.52v1.15h-4.52zM94.8 224.39h4.52v1.15h-4.52zM147 224.39h4.53v1.15h-4.53zM125.41 225.39h4.52v1.15h-4.52zM129.78 225.39h4.52v1.15h-4.52zM103.54 226.39h4.52v1.15h-4.52zM129.78 227.39h4.52v1.15h-4.52zM86.05 234.4h4.52v1.15h-4.52zM99.17 234.4h4.52v1.15h-4.52zM94.8 236.4h4.52v1.15h-4.52zM112.29 236.4h4.52v1.15h-4.52zM94.8 238.4h4.52v1.15h-4.52zM107.92 238.4h4.52v1.15h-4.52zM112.29 238.4h4.52v1.15h-4.52zM86.05 239.41h4.52v1.15h-4.52zM138.53 242.41h4.52v1.15h-4.52zM112.29 243.41h4.52v1.15h-4.52zM86.05 244.41h4.52v1.15h-4.52zM99.17 244.41h4.52v1.15h-4.52zM86.05 250.42h4.52v1.15h-4.52zM90.42 250.42h4.52v1.15h-4.52zM103.54 250.42h4.52v1.15h-4.52zM112.29 253.43h4.52v1.15h-4.52zM103.54 254.43h4.52v1.15h-4.52zM125.41 260.43h4.52v1.15h-4.52zM90.42 263.44h4.52v1.15h-4.52zM138.53 263.44h4.52v1.15h-4.52zM164.52 263.44h4.53v1.15h-4.53zM103.54 264.44h4.52v1.15h-4.52zM129.78 264.44h4.52v1.15h-4.52zM112.29 265.44h4.52v1.15h-4.52zM138.53 265.44h4.52v1.15h-4.52zM90.42 267.44h4.52v1.15h-4.52zM94.8 271.45h4.52v1.15h-4.52zM99.17 271.45h4.52v1.15h-4.52zM134.15 278.46h4.52v1.15h-4.52zM138.53 278.46h4.52v1.15h-4.52zM160.14 278.46h4.53v1.15h-4.53zM121.03 279.46h4.52v1.15h-4.52zM99.17 280.46h4.52v1.15h-4.52zM134.15 281.46h4.52v1.15h-4.52zM138.53 281.46h4.52v1.15h-4.52zM164.52 281.46h4.53v1.15h-4.53zM112.29 282.46h4.52v1.15h-4.52zM138.53 283.47h4.52v1.15h-4.52zM147 283.47h4.53v1.15h-4.53zM155.76 283.47h4.53v1.15h-4.53zM86.05 284.47h4.52v1.15h-4.52zM103.54 284.47h4.52v1.15h-4.52zM121.03 284.47h4.52v1.15h-4.52zM125.41 284.47h4.52v1.15h-4.52zM90.42 285.47h4.52v1.15h-4.52zM94.8 285.47h4.52v1.15h-4.52zM125.41 285.47h4.52v1.15h-4.52zM134.15 285.47h4.52v1.15h-4.52zM151.38 285.47h4.53v1.15h-4.53zM155.76 287.47h4.53v1.15h-4.53zM112.29 289.47h4.52v1.15h-4.52zM103.54 290.47h4.52v1.15h-4.52zM164.52 290.47h4.53v1.15h-4.53zM125.41 291.48h4.52v1.15h-4.52zM107.92 292.48h4.52v1.15h-4.52zM138.53 292.48h4.52v1.15h-4.52zM164.52 294.48h4.53v1.15h-4.53zM94.8 296.48h4.52v1.15h-4.52zM125.41 296.48h4.52v1.15h-4.52zM129.78 296.48h4.52v1.15h-4.52zM164.52 300.49h4.53v1.15h-4.53z"/>
<path fill="#122a36" d="M103.54 121.25h4.52v1.15h-4.52zM86.05 147.28h4.52v1.15h-4.52zM103.54 147.28h4.52v1.15h-4.52zM151.38 190.34h4.53v1.15h-4.53zM129.78 191.34h4.52v1.15h-4.52zM151.38 192.34h4.53v1.15h-4.53zM86.05 194.35h4.52v1.15h-4.52zM90.42 194.35h4.52v1.15h-4.52zM164.52 194.35h4.53v1.15h-4.53zM134.15 196.35h4.52v1.15h-4.52zM107.92 197.35h4.52v1.15h-4.52zM147 198.35h4.53v1.15h-4.53zM160.14 198.35h4.53v1.15h-4.53zM86.05 203.36h4.52v1.15h-4.52zM103.54 209.37h4.52v1.15h-4.52zM138.53 210.37h4.52v1.15h-4.52zM125.41 213.37h4.52v1.15h-4.52zM99.17 214.37h4.52v1.15h-4.52zM86.05 216.38h4.52v1.15h-4.52zM103.54 217.38h4.52v1.15h-4.52zM125.41 219.38h4.52v1.15h-4.52zM90.42 221.38h4.52v1.15h-4.52zM129.78 222.38h4.52v1.15h-4.52zM112.29 225.39h4.52v1.15h-4.52zM90.42 232.4h4.52v1.15h-4.52zM86.05 233.4h4.52v1.15h-4.52zM125.41 236.4h4.52v1.15h-4.52zM138.53 236.4h4.52v1.15h-4.52zM103.54 237.4h4.52v1.15h-4.52zM90.42 238.4h4.52v1.15h-4.52zM94.8 239.41h4.52v1.15h-4.52zM107.92 239.41h4.52v1.15h-4.52zM112.29 239.41h4.52v1.15h-4.52zM129.78 240.41h4.52v1.15h-4.52zM90.42 242.41h4.52v1.15h-4.52zM134.15 243.41h4.52v1.15h-4.52zM86.05 245.41h4.52v1.15h-4.52zM103.54 252.42h4.52v1.15h-4.52zM103.54 256.43h4.52v1.15h-4.52zM138.53 258.43h4.52v1.15h-4.52zM90.42 262.44h4.52v1.15h-4.52zM90.42 264.44h4.52v1.15h-4.52zM86.05 265.44h4.52v1.15h-4.52zM94.8 265.44h4.52v1.15h-4.52zM86.05 266.44h4.52v1.15h-4.52zM103.54 268.45h4.52v1.15h-4.52zM121.03 271.45h4.52v1.15h-4.52zM134.15 271.45h4.52v1.15h-4.52zM86.05 272.45h4.52v1.15h-4.52zM90.42 274.45h4.52v1.15h-4.52zM138.53 274.45h4.52v1.15h-4.52zM99.17 275.45h4.52v1.15h-4.52zM155.76 276.46h4.53v1.15h-4.53zM147 277.46h4.53v1.15h-4.53zM151.38 277.46h4.53v1.15h-4.53zM147 278.46h4.53v1.15h-4.53zM125.41 279.46h4.52v1.15h-4.52zM94.8 280.46h4.52v1.15h-4.52zM155.76 281.46h4.53v1.15h-4.53zM134.15 283.47h4.52v1.15h-4.52zM151.38 283.47h4.53v1.15h-4.53zM99.17 284.47h4.52v1.15h-4.52zM112.29 284.47h4.52v1.15h-4.52zM99.17 285.47h4.52v1.15h-4.52zM155.76 288.47h4.53v1.15h-4.53zM164.52 288.47h4.53v1.15h-4.53zM112.29 290.47h4.52v1.15h-4.52zM125.41 290.47h4.52v1.15h-4.52zM138.53 295.48h4.52v1.15h-4.52zM164.52 295.48h4.53v1.15h-4.53zM164.52 296.48h4.53v1.15h-4.53zM94.8 297.48h4.52v1.15h-4.52z"/>
<path fill="#d20012" d="M160.14 122.25h4.53v1.15h-4.53zM155.76 124.25h4.53v1.15h-4.53zM155.76 129.26h4.53v1.15h-4.53z"/>
<path fill="#122a30" d="M25.71 135.27h4.49v1.15h-4.49zM94.8 196.35h4.52v1.15h-4.52zM138.53 196.35h4.52v1.15h-4.52zM94.8 204.36h4.52v1.15h-4.52zM134.15 206.36h4.52v1.15h-4.52zM103.54 213.37h4.52v1.15h-4.52zM107.92 214.37h4.52v1.15h-4.52zM103.54 215.37h4.52v1.15h-4.52zM155.76 216.38h4.53v1.15h-4.53zM160.14 216.38h4.53v1.15h-4.53zM86.05 219.38h4.52v1.15h-4.52zM112.29 219.38h4.52v1.15h-4.52zM134.15 219.38h4.52v1.15h-4.52zM103.54 222.38h4.52v1.15h-4.52zM86.05 226.39h4.52v1.15h-4.52zM86.05 231.4h4.52v1.15h-4.52zM129.78 239.41h4.52v1.15h-4.52zM138.53 243.41h4.52v1.15h-4.52zM121.03 244.41h4.52v1.15h-4.52zM86.05 249.42h4.52v1.15h-4.52zM103.54 265.44h4.52v1.15h-4.52zM90.42 266.44h4.52v1.15h-4.52zM160.14 276.46h4.53v1.15h-4.53zM107.92 277.46h4.52v1.15h-4.52zM121.03 277.46h4.52v1.15h-4.52zM151.38 278.46h4.53v1.15h-4.53zM112.29 281.46h4.52v1.15h-4.52zM147 288.47h4.53v1.15h-4.53zM112.29 295.48h4.52v1.15h-4.52zM107.92 296.48h4.52v1.15h-4.52z"/>
<path fill="#182a36" d="M86.05 173.32h4.52v1.15h-4.52zM129.78 203.36h4.52v1.15h-4.52zM134.15 225.39h4.52v1.15h-4.52z"/>
<path fill="#6c0006" d="M90.42 189.34h4.52v1.15h-4.52z"/>
<path fill="#24485a" d="M86.05 191.34h4.52v1.15h-4.52zM103.54 193.34h4.52v1.15h-4.52zM151.38 194.35h4.53v1.15h-4.53zM155.76 194.35h4.53v1.15h-4.53zM99.17 195.35h4.52v1.15h-4.52zM107.92 195.35h4.52v1.15h-4.52zM86.05 196.35h4.52v1.15h-4.52zM129.78 196.35h4.52v1.15h-4.52zM134.15 197.35h4.52v1.15h-4.52zM151.38 203.36h4.53v1.15h-4.53zM160.14 203.36h4.53v1.15h-4.53zM147 207.36h4.53v1.15h-4.53zM160.14 212.37h4.53v1.15h-4.53zM147 215.37h4.53v1.15h-4.53zM151.38 220.38h4.53v1.15h-4.53zM160.14 226.39h4.53v1.15h-4.53zM90.42 227.39h4.52v1.15h-4.52zM147 229.39h4.53v1.15h-4.53zM147 232.4h4.53v1.15h-4.53zM160.14 237.4h4.53v1.15h-4.53zM86.05 242.41h4.52v1.15h-4.52zM147 243.41h4.53v1.15h-4.53zM147 244.41h4.53v1.15h-4.53zM155.76 247.42h4.53v1.15h-4.53zM103.54 253.43h4.52v1.15h-4.52zM86.05 262.44h4.52v1.15h-4.52zM103.54 262.44h4.52v1.15h-4.52zM129.78 271.45h4.52v1.15h-4.52zM121.03 273.45h4.52v1.15h-4.52zM125.41 275.45h4.52v1.15h-4.52zM86.05 279.46h4.52v1.15h-4.52zM160.14 281.46h4.53v1.15h-4.53zM86.05 282.46h4.52v1.15h-4.52zM103.54 283.47h4.52v1.15h-4.52zM155.76 286.47h4.53v1.15h-4.53zM107.92 288.47h4.52v1.15h-4.52zM121.03 289.47h4.52v1.15h-4.52zM99.17 291.48h4.52v1.15h-4.52zM147 291.48h4.53v1.15h-4.53zM134.15 292.48h4.52v1.15h-4.52zM155.76 292.48h4.53v1.15h-4.53zM112.29 294.48h4.52v1.15h-4.52zM99.17 295.48h4.52v1.15h-4.52zM90.42 296.48h4.52v1.15h-4.52zM103.54 296.48h4.52v1.15h-4.52zM138.53 297.48h4.52v1.15h-4.52zM107.92 298.49h4.52v1.15h-4.52zM99.17 300.49h4.52v1.15h-4.52zM121.03 300.49h4.52v1.15h-4.52zM134.15 301.49h4.52v1.15h-4.52zM107.92 302.49h4.52v1.15h-4.52zM121.03 302.49h4.52v1.15h-4.52zM125.41 302.49h4.52v1.15h-4.52zM125.41 305.49h4.52v1.15h-4.52zM129.78 305.49h4.52v1.15h-4.52z"/>
<path fill="#1e4254" d="M90.42 191.34h4.52v1.15h-4.52zM90.42 193.34h4.52v1.15h-4.52zM103.54 196.35h4.52v1.15h-4.52zM103.54 197.35h4.52v1.15h-4.52zM138.53 197.35h4.52v1.15h-4.52zM160.14 202.36h4.53v1.15h-4.53zM86.05 204.36h4.52v1.15h-4.52zM151.38 204.36h4.53v1.15h-4.53zM160.14 205.36h4.53v1.15h-4.53zM103.54 206.36h4.52v1.15h-4.52zM99.17 210.37h4.52v1.15h-4.52zM160.14 210.37h4.53v1.15h-4.53zM86.05 211.37h4.52v1.15h-4.52zM112.29 214.37h4.52v1.15h-4.52zM155.76 215.37h4.53v1.15h-4.53zM147 217.38h4.53v1.15h-4.53zM103.54 224.39h4.52v1.15h-4.52zM155.76 227.39h4.53v1.15h-4.53zM151.38 232.4h4.53v1.15h-4.53zM160.14 232.4h4.53v1.15h-4.53zM147 237.4h4.53v1.15h-4.53zM155.76 243.41h4.53v1.15h-4.53zM86.05 253.43h4.52v1.15h-4.52zM125.41 253.43h4.52v1.15h-4.52zM134.15 253.43h4.52v1.15h-4.52zM99.17 260.43h4.52v1.15h-4.52zM129.78 260.43h4.52v1.15h-4.52zM90.42 271.45h4.52v1.15h-4.52zM94.8 273.45h4.52v1.15h-4.52zM125.41 273.45h4.52v1.15h-4.52zM90.42 275.45h4.52v1.15h-4.52zM121.03 275.45h4.52v1.15h-4.52zM94.8 276.46h4.52v1.15h-4.52zM107.92 276.46h4.52v1.15h-4.52zM112.29 276.46h4.52v1.15h-4.52zM129.78 276.46h4.52v1.15h-4.52zM86.05 277.46h4.52v1.15h-4.52zM103.54 282.46h4.52v1.15h-4.52zM121.03 285.47h4.52v1.15h-4.52zM99.17 286.47h4.52v1.15h-4.52zM125.41 286.47h4.52v1.15h-4.52zM129.78 286.47h4.52v1.15h-4.52zM147 287.47h4.53v1.15h-4.53zM99.17 288.47h4.52v1.15h-4.52zM121.03 288.47h4.52v1.15h-4.52zM134.15 289.47h4.52v1.15h-4.52zM107.92 291.48h4.52v1.15h-4.52zM134.15 295.48h4.52v1.15h-4.52zM107.92 297.48h4.52v1.15h-4.52zM134.15 297.48h4.52v1.15h-4.52zM112.29 298.49h4.52v1.15h-4.52zM134.15 300.49h4.52v1.15h-4.52zM94.8 305.49h4.52v1.15h-4.52zM112.29 305.49h4.52v1.15h-4.52zM164.52 308.5h4.53v1.15h-4.53z"/>
<path fill="#1e3c4e" d="M121.03 191.34h4.52v1.15h-4.52zM134.15 192.34h4.52v1.15h-4.52zM147 194.35h4.53v1.15h-4.53zM94.8 195.35h4.52v1.15h-4.52zM112.29 195.35h4.52v1.15h-4.52zM125.41 196.35h4.52v1.15h-4.52zM112.29 197.35h4.52v1.15h-4.52zM121.03 197.35h4.52v1.15h-4.52zM155.76 203.36h4.53v1.15h-4.53zM129.78 204.36h4.52v1.15h-4.52zM160.14 207.36h4.53v1.15h-4.53zM94.8 210.37h4.52v1.15h-4.52zM151.38 212.37h4.53v1.15h-4.53zM86.05 214.37h4.52v1.15h-4.52zM129.78 214.37h4.52v1.15h-4.52zM155.76 219.38h4.53v1.15h-4.53zM160.14 219.38h4.53v1.15h-4.53zM155.76 221.38h4.53v1.15h-4.53zM151.38 228.39h4.53v1.15h-4.53zM147 236.4h4.53v1.15h-4.53zM103.54 238.4h4.52v1.15h-4.52zM103.54 239.41h4.52v1.15h-4.52zM134.15 260.43h4.52v1.15h-4.52zM86.05 274.45h4.52v1.15h-4.52zM151.38 274.45h4.53v1.15h-4.53zM134.15 275.45h4.52v1.15h-4.52zM138.53 275.45h4.52v1.15h-4.52zM151.38 275.45h4.53v1.15h-4.53zM90.42 279.46h4.52v1.15h-4.52zM112.29 279.46h4.52v1.15h-4.52zM155.76 280.46h4.53v1.15h-4.53zM147 282.46h4.53v1.15h-4.53zM155.76 282.46h4.53v1.15h-4.53zM99.17 283.47h4.52v1.15h-4.52zM103.54 285.47h4.52v1.15h-4.52zM94.8 286.47h4.52v1.15h-4.52zM121.03 286.47h4.52v1.15h-4.52zM112.29 287.47h4.52v1.15h-4.52zM125.41 288.47h4.52v1.15h-4.52zM129.78 289.47h4.52v1.15h-4.52zM107.92 300.49h4.52v1.15h-4.52zM125.41 303.49h4.52v1.15h-4.52z"/>
<path fill="#367290" d="M86.05 192.34h4.52v1.15h-4.52zM147 233.4h4.53v1.15h-4.53zM151.38 236.4h4.53v1.15h-4.53zM160.14 238.4h4.53v1.15h-4.53zM151.38 290.47h4.53v1.15h-4.53zM86.05 297.48h4.52v1.15h-4.52zM103.54 297.48h4.52v1.15h-4.52zM129.78 298.49h4.52v1.15h-4.52zM147 298.49h4.53v1.15h-4.53zM103.54 300.49h4.52v1.15h-4.52zM151.38 301.49h4.53v1.15h-4.53zM112.29 303.49h4.52v1.15h-4.52zM129.78 303.49h4.52v1.15h-4.52zM94.8 304.49h4.52v1.15h-4.52zM107.92 308.5h4.52v1.15h-4.52z"/>
<path fill="#2a6078" d="M90.42 192.34h4.52v1.15h-4.52zM103.54 192.34h4.52v1.15h-4.52zM90.42 196.35h4.52v1.15h-4.52zM151.38 229.39h4.53v1.15h-4.53zM160.14 236.4h4.53v1.15h-4.53zM147 238.4h4.53v1.15h-4.53zM155.76 239.41h4.53v1.15h-4.53zM160.14 239.41h4.53v1.15h-4.53zM155.76 240.41h4.53v1.15h-4.53zM151.38 242.41h4.53v1.15h-4.53zM160.14 244.41h4.53v1.15h-4.53zM147 245.41h4.53v1.15h-4.53zM155.76 249.42h4.53v1.15h-4.53zM99.17 273.45h4.52v1.15h-4.52zM138.53 273.45h4.52v1.15h-4.52zM125.41 287.47h4.52v1.15h-4.52zM155.76 289.47h4.53v1.15h-4.53zM103.54 294.48h4.52v1.15h-4.52zM90.42 295.48h4.52v1.15h-4.52zM99.17 299.49h4.52v1.15h-4.52zM138.53 299.49h4.52v1.15h-4.52zM129.78 301.49h4.52v1.15h-4.52zM129.78 302.49h4.52v1.15h-4.52zM121.03 306.5h4.52v1.15h-4.52z"/>
<path fill="#1e485a" d="M94.8 192.34h4.52v1.15h-4.52zM138.53 192.34h4.52v1.15h-4.52zM155.76 224.39h4.53v1.15h-4.53zM103.54 243.41h4.52v1.15h-4.52zM107.92 273.45h4.52v1.15h-4.52zM94.8 275.45h4.52v1.15h-4.52zM90.42 278.46h4.52v1.15h-4.52zM129.78 297.48h4.52v1.15h-4.52z"/>
<path fill="#244e66" d="M99.17 192.34h4.52v1.15h-4.52zM138.53 195.35h4.52v1.15h-4.52zM90.42 197.35h4.52v1.15h-4.52zM151.38 237.4h4.53v1.15h-4.53zM112.29 273.45h4.52v1.15h-4.52zM129.78 282.46h4.52v1.15h-4.52zM103.54 289.47h4.52v1.15h-4.52zM94.8 294.48h4.52v1.15h-4.52zM90.42 297.48h4.52v1.15h-4.52z"/>
<path fill="#1e3c48" d="M107.92 192.34h4.52v1.15h-4.52zM129.78 193.34h4.52v1.15h-4.52zM125.41 195.35h4.52v1.15h-4.52zM86.05 198.35h4.52v1.15h-4.52zM151.38 210.37h4.53v1.15h-4.53zM90.42 211.37h4.52v1.15h-4.52zM147 221.38h4.53v1.15h-4.53zM90.42 226.39h4.52v1.15h-4.52zM103.54 227.39h4.52v1.15h-4.52zM103.54 236.4h4.52v1.15h-4.52zM121.03 260.43h4.52v1.15h-4.52zM103.54 263.44h4.52v1.15h-4.52zM103.54 271.45h4.52v1.15h-4.52zM160.14 274.45h4.53v1.15h-4.53zM112.29 275.45h4.52v1.15h-4.52zM90.42 280.46h4.52v1.15h-4.52zM129.78 281.46h4.52v1.15h-4.52zM112.29 283.47h4.52v1.15h-4.52zM160.14 283.47h4.53v1.15h-4.53zM107.92 284.47h4.52v1.15h-4.52zM151.38 287.47h4.53v1.15h-4.53zM138.53 288.47h4.52v1.15h-4.52zM121.03 291.48h4.52v1.15h-4.52zM155.76 291.48h4.53v1.15h-4.53zM112.29 292.48h4.52v1.15h-4.52zM121.03 295.48h4.52v1.15h-4.52zM99.17 296.48h4.52v1.15h-4.52zM164.52 304.49h4.53v1.15h-4.53z"/>
<path fill="#2a5a6c" d="M112.29 192.34h4.52v1.15h-4.52zM160.14 223.38h4.53v1.15h-4.53zM147 235.4h4.53v1.15h-4.53zM86.05 236.4h4.52v1.15h-4.52zM151.38 244.41h4.53v1.15h-4.53zM103.54 277.46h4.52v1.15h-4.52zM103.54 278.46h4.52v1.15h-4.52zM151.38 284.47h4.53v1.15h-4.53zM138.53 287.47h4.52v1.15h-4.52zM160.14 287.47h4.53v1.15h-4.53zM129.78 294.48h4.52v1.15h-4.52zM99.17 305.49h4.52v1.15h-4.52zM107.92 306.5h4.52v1.15h-4.52z"/>
<path fill="#2a546c" d="M125.41 192.34h4.52v1.15h-4.52zM151.38 221.38h4.53v1.15h-4.53zM160.14 221.38h4.53v1.15h-4.53zM160.14 224.39h4.53v1.15h-4.53zM151.38 227.39h4.53v1.15h-4.53zM151.38 235.4h4.53v1.15h-4.53zM160.14 242.41h4.53v1.15h-4.53zM86.05 260.43h4.52v1.15h-4.52zM90.42 260.43h4.52v1.15h-4.52zM99.17 276.46h4.52v1.15h-4.52zM103.54 281.46h4.52v1.15h-4.52zM151.38 282.46h4.53v1.15h-4.53zM103.54 286.47h4.52v1.15h-4.52zM147 286.47h4.53v1.15h-4.53zM99.17 287.47h4.52v1.15h-4.52zM121.03 287.47h4.52v1.15h-4.52zM103.54 288.47h4.52v1.15h-4.52zM160.14 291.48h4.53v1.15h-4.53zM107.92 294.48h4.52v1.15h-4.52zM134.15 294.48h4.52v1.15h-4.52zM103.54 295.48h4.52v1.15h-4.52zM129.78 295.48h4.52v1.15h-4.52zM112.29 297.48h4.52v1.15h-4.52zM134.15 298.49h4.52v1.15h-4.52zM138.53 298.49h4.52v1.15h-4.52zM134.15 299.49h4.52v1.15h-4.52zM86.05 300.49h4.52v1.15h-4.52zM121.03 301.49h4.52v1.15h-4.52zM94.8 302.49h4.52v1.15h-4.52zM138.53 303.49h4.52v1.15h-4.52zM121.03 305.49h4.52v1.15h-4.52zM94.8 306.5h4.52v1.15h-4.52zM134.15 306.5h4.52v1.15h-4.52z"/>
<path fill="#30667e" d="M129.78 192.34h4.52v1.15h-4.52zM103.54 195.35h4.52v1.15h-4.52zM160.14 233.4h4.53v1.15h-4.53zM160.14 240.41h4.53v1.15h-4.53zM160.14 241.41h4.53v1.15h-4.53zM155.76 254.43h4.53v1.15h-4.53zM103.54 273.45h4.52v1.15h-4.52zM160.14 286.47h4.53v1.15h-4.53zM86.05 289.47h4.52v1.15h-4.52zM147 290.47h4.53v1.15h-4.53zM103.54 291.48h4.52v1.15h-4.52zM147 292.48h4.53v1.15h-4.53zM99.17 293.48h4.52v1.15h-4.52zM147 295.48h4.53v1.15h-4.53zM155.76 295.48h4.53v1.15h-4.53zM103.54 298.49h4.52v1.15h-4.52zM90.42 301.49h4.52v1.15h-4.52zM103.54 302.49h4.52v1.15h-4.52zM90.42 303.49h4.52v1.15h-4.52zM103.54 303.49h4.52v1.15h-4.52zM107.92 303.49h4.52v1.15h-4.52zM134.15 303.49h4.52v1.15h-4.52zM121.03 307.5h4.52v1.15h-4.52zM138.53 307.5h4.52v1.15h-4.52z"/>
<path fill="#183648" d="M86.05 193.34h4.52v1.15h-4.52zM151.38 196.35h4.53v1.15h-4.53zM160.14 196.35h4.53v1.15h-4.53zM160.14 201.36h4.53v1.15h-4.53zM103.54 204.36h4.52v1.15h-4.52zM86.05 212.37h4.52v1.15h-4.52zM112.29 212.37h4.52v1.15h-4.52zM121.03 214.37h4.52v1.15h-4.52zM90.42 216.38h4.52v1.15h-4.52zM86.05 225.39h4.52v1.15h-4.52zM160.14 228.39h4.53v1.15h-4.53zM147 231.4h4.53v1.15h-4.53zM90.42 234.4h4.52v1.15h-4.52zM103.54 234.4h4.52v1.15h-4.52zM155.76 237.4h4.53v1.15h-4.53zM121.03 243.41h4.52v1.15h-4.52zM125.41 250.42h4.52v1.15h-4.52zM129.78 262.44h4.52v1.15h-4.52zM90.42 265.44h4.52v1.15h-4.52zM125.41 271.45h4.52v1.15h-4.52zM134.15 273.45h4.52v1.15h-4.52zM147 275.45h4.53v1.15h-4.53zM147 280.46h4.53v1.15h-4.53zM99.17 281.46h4.52v1.15h-4.52zM134.15 282.46h4.52v1.15h-4.52zM94.8 283.47h4.52v1.15h-4.52zM129.78 284.47h4.52v1.15h-4.52zM112.29 285.47h4.52v1.15h-4.52zM129.78 292.48h4.52v1.15h-4.52zM138.53 300.49h4.52v1.15h-4.52zM121.03 303.49h4.52v1.15h-4.52zM164.52 305.49h4.53v1.15h-4.53z"/>
<path fill="#306684" d="M86.05 195.35h4.52v1.15h-4.52zM90.42 214.37h4.52v1.15h-4.52zM160.14 249.42h4.53v1.15h-4.53zM147 284.47h4.53v1.15h-4.53zM86.05 288.47h4.52v1.15h-4.52zM155.76 290.47h4.53v1.15h-4.53zM147 297.48h4.53v1.15h-4.53zM94.8 299.49h4.52v1.15h-4.52zM99.17 302.49h4.52v1.15h-4.52zM125.41 304.49h4.52v1.15h-4.52zM86.05 305.49h4.52v1.15h-4.52z"/>
<path fill="#2a5a72" d="M90.42 195.35h4.52v1.15h-4.52zM160.14 215.37h4.53v1.15h-4.53zM151.38 223.38h4.53v1.15h-4.53zM151.38 224.39h4.53v1.15h-4.53zM155.76 226.39h4.53v1.15h-4.53zM147 230.39h4.53v1.15h-4.53zM151.38 230.39h4.53v1.15h-4.53zM155.76 230.39h4.53v1.15h-4.53zM155.76 234.4h4.53v1.15h-4.53zM160.14 235.4h4.53v1.15h-4.53zM151.38 238.4h4.53v1.15h-4.53zM160.14 243.41h4.53v1.15h-4.53zM155.76 245.41h4.53v1.15h-4.53zM151.38 247.42h4.53v1.15h-4.53zM86.05 273.45h4.52v1.15h-4.52zM90.42 276.46h4.52v1.15h-4.52zM160.14 282.46h4.53v1.15h-4.53zM155.76 284.47h4.53v1.15h-4.53zM151.38 286.47h4.53v1.15h-4.53zM112.29 288.47h4.52v1.15h-4.52zM129.78 288.47h4.52v1.15h-4.52zM160.14 289.47h4.53v1.15h-4.53zM103.54 292.48h4.52v1.15h-4.52zM155.76 298.49h4.53v1.15h-4.53zM112.29 299.49h4.52v1.15h-4.52zM107.92 301.49h4.52v1.15h-4.52zM138.53 301.49h4.52v1.15h-4.52zM134.15 305.49h4.52v1.15h-4.52zM129.78 306.5h4.52v1.15h-4.52z"/>
<path fill="#244e60" d="M129.78 195.35h4.52v1.15h-4.52zM134.15 195.35h4.52v1.15h-4.52zM151.38 195.35h4.53v1.15h-4.53zM160.14 195.35h4.53v1.15h-4.53zM99.17 197.35h4.52v1.15h-4.52zM151.38 201.36h4.53v1.15h-4.53zM90.42 204.36h4.52v1.15h-4.52zM134.15 210.37h4.52v1.15h-4.52zM103.54 214.37h4.52v1.15h-4.52zM151.38 216.38h4.53v1.15h-4.53zM151.38 217.38h4.53v1.15h-4.53zM160.14 217.38h4.53v1.15h-4.53zM151.38 219.38h4.53v1.15h-4.53zM147 220.38h4.53v1.15h-4.53zM160.14 220.38h4.53v1.15h-4.53zM147 223.38h4.53v1.15h-4.53zM103.54 225.39h4.52v1.15h-4.52zM147 226.39h4.53v1.15h-4.53zM151.38 226.39h4.53v1.15h-4.53zM160.14 229.39h4.53v1.15h-4.53zM151.38 243.41h4.53v1.15h-4.53zM147 247.42h4.53v1.15h-4.53zM103.54 275.45h4.52v1.15h-4.52zM129.78 275.45h4.52v1.15h-4.52zM86.05 278.46h4.52v1.15h-4.52zM160.14 280.46h4.53v1.15h-4.53zM90.42 281.46h4.52v1.15h-4.52zM90.42 282.46h4.52v1.15h-4.52zM129.78 285.47h4.52v1.15h-4.52zM112.29 286.47h4.52v1.15h-4.52zM134.15 287.47h4.52v1.15h-4.52zM134.15 288.47h4.52v1.15h-4.52zM125.41 289.47h4.52v1.15h-4.52zM151.38 291.48h4.53v1.15h-4.53zM121.03 292.48h4.52v1.15h-4.52zM160.14 292.48h4.53v1.15h-4.53zM99.17 294.48h4.52v1.15h-4.52zM125.41 295.48h4.52v1.15h-4.52zM94.8 298.49h4.52v1.15h-4.52zM99.17 298.49h4.52v1.15h-4.52zM121.03 298.49h4.52v1.15h-4.52zM125.41 298.49h4.52v1.15h-4.52zM129.78 300.49h4.52v1.15h-4.52zM90.42 302.49h4.52v1.15h-4.52zM138.53 302.49h4.52v1.15h-4.52zM164.52 303.49h4.53v1.15h-4.53z"/>
<path fill="#367896" d="M86.05 197.35h4.52v1.15h-4.52zM151.38 240.41h4.53v1.15h-4.53zM155.76 251.42h4.53v1.15h-4.53zM86.05 287.47h4.52v1.15h-4.52zM147 299.49h4.53v1.15h-4.53zM147 301.49h4.53v1.15h-4.53zM99.17 303.49h4.52v1.15h-4.52zM138.53 308.5h4.52v1.15h-4.52z"/>
<path fill="#244860" d="M94.8 197.35h4.52v1.15h-4.52zM151.38 215.37h4.53v1.15h-4.53zM94.8 260.43h4.52v1.15h-4.52zM151.38 281.46h4.53v1.15h-4.53zM86.05 296.48h4.52v1.15h-4.52zM90.42 300.49h4.52v1.15h-4.52zM125.41 300.49h4.52v1.15h-4.52zM164.52 306.5h4.53v1.15h-4.53z"/>
<path fill="#1e424e" d="M125.41 197.35h4.52v1.15h-4.52zM147 201.36h4.53v1.15h-4.53zM155.76 205.36h4.53v1.15h-4.53zM90.42 206.36h4.52v1.15h-4.52zM151.38 207.36h4.53v1.15h-4.53zM155.76 210.37h4.53v1.15h-4.53zM151.38 218.38h4.53v1.15h-4.53zM147 219.38h4.53v1.15h-4.53zM90.42 225.39h4.52v1.15h-4.52zM147 228.39h4.53v1.15h-4.53zM90.42 236.4h4.52v1.15h-4.52zM99.17 236.4h4.52v1.15h-4.52zM121.03 236.4h4.52v1.15h-4.52zM86.05 238.4h4.52v1.15h-4.52zM134.15 239.41h4.52v1.15h-4.52zM147 241.41h4.53v1.15h-4.53zM86.05 243.41h4.52v1.15h-4.52zM99.17 253.43h4.52v1.15h-4.52zM86.05 267.44h4.52v1.15h-4.52zM138.53 276.46h4.52v1.15h-4.52zM129.78 278.46h4.52v1.15h-4.52zM103.54 279.46h4.52v1.15h-4.52zM107.92 279.46h4.52v1.15h-4.52zM107.92 282.46h4.52v1.15h-4.52zM138.53 282.46h4.52v1.15h-4.52zM138.53 285.47h4.52v1.15h-4.52zM94.8 288.47h4.52v1.15h-4.52zM160.14 288.47h4.53v1.15h-4.53zM138.53 289.47h4.52v1.15h-4.52zM129.78 291.48h4.52v1.15h-4.52zM134.15 291.48h4.52v1.15h-4.52zM99.17 292.48h4.52v1.15h-4.52zM121.03 297.48h4.52v1.15h-4.52zM164.52 307.5h4.53v1.15h-4.53z"/>
<path fill="#4ea8d2" d="M147 200.35h4.53v1.15h-4.53zM151.38 200.35h4.53v1.15h-4.53zM155.76 200.35h4.53v1.15h-4.53zM160.14 200.35h4.53v1.15h-4.53zM155.76 259.43h4.53v1.15h-4.53zM160.14 259.43h4.53v1.15h-4.53zM151.38 260.43h4.53v1.15h-4.53zM151.38 261.44h4.53v1.15h-4.53zM160.14 263.44h4.53v1.15h-4.53zM160.14 265.44h4.53v1.15h-4.53zM147 268.45h4.53v1.15h-4.53zM160.14 268.45h4.53v1.15h-4.53zM155.76 306.5h4.53v1.15h-4.53z"/>
<path fill="#183042" d="M160.14 206.36h4.53v1.15h-4.53zM155.76 212.37h4.53v1.15h-4.53zM151.38 214.37h4.53v1.15h-4.53zM90.42 218.38h4.52v1.15h-4.52zM129.78 236.4h4.52v1.15h-4.52zM90.42 245.41h4.52v1.15h-4.52zM121.03 253.43h4.52v1.15h-4.52zM86.05 271.45h4.52v1.15h-4.52zM164.52 301.49h4.53v1.15h-4.53z"/>
<path fill="#245466" d="M86.05 210.37h4.52v1.15h-4.52zM90.42 210.37h4.52v1.15h-4.52zM129.78 210.37h4.52v1.15h-4.52zM147 210.37h4.53v1.15h-4.53zM155.76 223.38h4.53v1.15h-4.53zM86.05 227.39h4.52v1.15h-4.52zM147 242.41h4.53v1.15h-4.53zM155.76 244.41h4.53v1.15h-4.53zM103.54 276.46h4.52v1.15h-4.52zM151.38 280.46h4.53v1.15h-4.53zM90.42 283.47h4.52v1.15h-4.52zM107.92 283.47h4.52v1.15h-4.52zM90.42 287.47h4.52v1.15h-4.52zM90.42 289.47h4.52v1.15h-4.52zM151.38 289.47h4.53v1.15h-4.53zM86.05 291.48h4.52v1.15h-4.52zM90.42 291.48h4.52v1.15h-4.52zM112.29 291.48h4.52v1.15h-4.52zM138.53 294.48h4.52v1.15h-4.52zM99.17 297.48h4.52v1.15h-4.52zM107.92 299.49h4.52v1.15h-4.52zM121.03 299.49h4.52v1.15h-4.52zM138.53 305.49h4.52v1.15h-4.52zM99.17 306.5h4.52v1.15h-4.52zM112.29 306.5h4.52v1.15h-4.52zM138.53 306.5h4.52v1.15h-4.52z"/>
<path fill="#306078" d="M103.54 210.37h4.52v1.15h-4.52zM160.14 227.39h4.53v1.15h-4.53zM155.76 233.4h4.53v1.15h-4.53zM160.14 234.4h4.53v1.15h-4.53zM147 239.41h4.53v1.15h-4.53zM160.14 247.42h4.53v1.15h-4.53zM86.05 285.47h4.52v1.15h-4.52zM86.05 286.47h4.52v1.15h-4.52zM129.78 287.47h4.52v1.15h-4.52zM147 289.47h4.53v1.15h-4.53zM125.41 297.48h4.52v1.15h-4.52zM103.54 299.49h4.52v1.15h-4.52zM125.41 299.49h4.52v1.15h-4.52zM99.17 301.49h4.52v1.15h-4.52zM112.29 301.49h4.52v1.15h-4.52zM125.41 301.49h4.52v1.15h-4.52zM112.29 302.49h4.52v1.15h-4.52zM134.15 302.49h4.52v1.15h-4.52zM94.8 307.5h4.52v1.15h-4.52zM107.92 307.5h4.52v1.15h-4.52z"/>
<path fill="#183c48" d="M103.54 212.37h4.52v1.15h-4.52zM147 218.38h4.53v1.15h-4.53zM86.05 224.39h4.52v1.15h-4.52zM134.15 236.4h4.52v1.15h-4.52zM90.42 244.41h4.52v1.15h-4.52zM103.54 258.43h4.52v1.15h-4.52zM125.41 262.44h4.52v1.15h-4.52zM121.03 276.46h4.52v1.15h-4.52zM125.41 276.46h4.52v1.15h-4.52zM121.03 294.48h4.52v1.15h-4.52zM107.92 295.48h4.52v1.15h-4.52z"/>
<path fill="#1e4854" d="M155.76 220.38h4.53v1.15h-4.53zM147 227.39h4.53v1.15h-4.53zM155.76 228.39h4.53v1.15h-4.53zM151.38 231.4h4.53v1.15h-4.53zM155.76 235.4h4.53v1.15h-4.53zM103.54 244.41h4.52v1.15h-4.52zM99.17 277.46h4.52v1.15h-4.52zM125.41 282.46h4.52v1.15h-4.52zM125.41 292.48h4.52v1.15h-4.52z"/>
<path fill="#2a6072" d="M160.14 230.39h4.53v1.15h-4.53zM151.38 241.41h4.53v1.15h-4.53zM155.76 241.41h4.53v1.15h-4.53zM155.76 246.42h4.53v1.15h-4.53zM129.78 273.45h4.52v1.15h-4.52z"/>
<path fill="#306c84" d="M151.38 233.4h4.53v1.15h-4.53zM147 234.4h4.53v1.15h-4.53zM155.76 236.4h4.53v1.15h-4.53zM147 246.42h4.53v1.15h-4.53zM151.38 246.42h4.53v1.15h-4.53zM160.14 246.42h4.53v1.15h-4.53zM147 249.42h4.53v1.15h-4.53zM155.76 250.42h4.53v1.15h-4.53zM103.54 260.43h4.52v1.15h-4.52zM90.42 273.45h4.52v1.15h-4.52zM86.05 275.45h4.52v1.15h-4.52zM94.8 287.47h4.52v1.15h-4.52zM90.42 292.48h4.52v1.15h-4.52zM90.42 294.48h4.52v1.15h-4.52zM86.05 295.48h4.52v1.15h-4.52zM151.38 295.48h4.53v1.15h-4.53zM160.14 296.48h4.53v1.15h-4.53zM155.76 297.48h4.53v1.15h-4.53zM90.42 299.49h4.52v1.15h-4.52zM94.8 301.49h4.52v1.15h-4.52zM99.17 304.49h4.52v1.15h-4.52zM134.15 304.49h4.52v1.15h-4.52zM90.42 305.49h4.52v1.15h-4.52zM103.54 306.5h4.52v1.15h-4.52zM125.41 306.5h4.52v1.15h-4.52zM121.03 308.5h4.52v1.15h-4.52zM125.41 308.5h4.52v1.15h-4.52z"/>
<path fill="#366c8a" d="M151.38 234.4h4.53v1.15h-4.53zM151.38 254.43h4.53v1.15h-4.53zM160.14 254.43h4.53v1.15h-4.53zM160.14 284.47h4.53v1.15h-4.53zM103.54 287.47h4.52v1.15h-4.52zM121.03 293.48h4.52v1.15h-4.52zM90.42 298.49h4.52v1.15h-4.52zM155.76 299.49h4.53v1.15h-4.53zM160.14 299.49h4.53v1.15h-4.53zM155.76 301.49h4.53v1.15h-4.53zM138.53 304.49h4.52v1.15h-4.52z"/>
<path fill="#2a5466" d="M155.76 238.4h4.53v1.15h-4.53zM155.76 242.41h4.53v1.15h-4.53zM86.05 281.46h4.52v1.15h-4.52zM86.05 283.47h4.52v1.15h-4.52zM90.42 286.47h4.52v1.15h-4.52zM94.8 300.49h4.52v1.15h-4.52zM94.8 303.49h4.52v1.15h-4.52zM103.54 305.49h4.52v1.15h-4.52z"/>
<path fill="#3c84a2" d="M151.38 239.41h4.53v1.15h-4.53zM155.76 248.42h4.53v1.15h-4.53zM155.76 260.43h4.53v1.15h-4.53zM112.29 293.48h4.52v1.15h-4.52zM151.38 298.49h4.53v1.15h-4.53zM151.38 300.49h4.53v1.15h-4.53zM86.05 301.49h4.52v1.15h-4.52zM86.05 303.49h4.52v1.15h-4.52zM90.42 307.5h4.52v1.15h-4.52zM112.29 307.5h4.52v1.15h-4.52z"/>
<path fill="#30607e" d="M147 240.41h4.53v1.15h-4.53zM147 250.42h4.53v1.15h-4.53zM86.05 276.46h4.52v1.15h-4.52zM86.05 292.48h4.52v1.15h-4.52zM151.38 292.48h4.53v1.15h-4.53zM121.03 304.49h4.52v1.15h-4.52zM112.29 308.5h4.52v1.15h-4.52z"/>
<path fill="#3c7e9c" d="M151.38 245.41h4.53v1.15h-4.53zM160.14 245.41h4.53v1.15h-4.53zM155.76 255.43h4.53v1.15h-4.53zM155.76 266.44h4.53v1.15h-4.53zM160.14 290.47h4.53v1.15h-4.53zM94.8 293.48h4.52v1.15h-4.52zM134.15 293.48h4.52v1.15h-4.52zM155.76 294.48h4.53v1.15h-4.53zM151.38 296.48h4.53v1.15h-4.53zM147 300.49h4.53v1.15h-4.53zM160.14 300.49h4.53v1.15h-4.53zM129.78 304.49h4.52v1.15h-4.52zM90.42 306.5h4.52v1.15h-4.52zM94.8 308.5h4.52v1.15h-4.52zM99.17 308.5h4.52v1.15h-4.52z"/>
<path fill="#4290b4" d="M147 248.42h4.53v1.15h-4.53zM151.38 251.42h4.53v1.15h-4.53zM151.38 253.43h4.53v1.15h-4.53zM151.38 255.43h4.53v1.15h-4.53zM147 260.43h4.53v1.15h-4.53zM160.14 266.44h4.53v1.15h-4.53zM86.05 293.48h4.52v1.15h-4.52zM147 293.48h4.53v1.15h-4.53zM151.38 293.48h4.53v1.15h-4.53zM103.54 301.49h4.52v1.15h-4.52zM99.17 307.5h4.52v1.15h-4.52zM86.05 308.5h4.52v1.15h-4.52z"/>
<path fill="#4290ba" d="M151.38 248.42h4.53v1.15h-4.53zM160.14 248.42h4.53v1.15h-4.53zM86.05 307.5h4.52v1.15h-4.52z"/>
<path fill="#3c7896" d="M151.38 249.42h4.53v1.15h-4.53zM160.14 250.42h4.53v1.15h-4.53zM147 251.42h4.53v1.15h-4.53z"/>
<path fill="#3c7ea2" d="M151.38 250.42h4.53v1.15h-4.53zM147 253.43h4.53v1.15h-4.53zM155.76 253.43h4.53v1.15h-4.53zM147 254.43h4.53v1.15h-4.53zM151.38 266.44h4.53v1.15h-4.53zM107.92 293.48h4.52v1.15h-4.52zM90.42 304.49h4.52v1.15h-4.52zM134.15 308.5h4.52v1.15h-4.52z"/>
<path fill="#489cc6" d="M160.14 251.42h4.53v1.15h-4.53zM160.14 252.42h4.53v1.15h-4.53zM103.54 293.48h4.52v1.15h-4.52zM155.76 305.49h4.53v1.15h-4.53z"/>
<path fill="#489cc0" d="M147 252.42h4.53v1.15h-4.53zM160.14 260.43h4.53v1.15h-4.53zM155.76 261.44h4.53v1.15h-4.53zM160.14 262.44h4.53v1.15h-4.53zM155.76 263.44h4.53v1.15h-4.53zM151.38 265.44h4.53v1.15h-4.53zM155.76 265.44h4.53v1.15h-4.53z"/>
<path fill="#4896ba" d="M151.38 252.42h4.53v1.15h-4.53zM147 262.44h4.53v1.15h-4.53zM147 263.44h4.53v1.15h-4.53zM112.29 304.49h4.52v1.15h-4.52zM90.42 308.5h4.52v1.15h-4.52z"/>
<path fill="#4896c0" d="M155.76 252.42h4.53v1.15h-4.53zM160.14 256.43h4.53v1.15h-4.53z"/>
<path fill="#3c84a8" d="M160.14 253.43h4.53v1.15h-4.53zM160.14 255.43h4.53v1.15h-4.53zM155.76 256.43h4.53v1.15h-4.53zM151.38 258.43h4.53v1.15h-4.53zM155.76 293.48h4.53v1.15h-4.53zM160.14 293.48h4.53v1.15h-4.53zM86.05 306.5h4.52v1.15h-4.52z"/>
<path fill="#306c8a" d="M147 255.43h4.53v1.15h-4.53zM90.42 288.47h4.52v1.15h-4.52zM155.76 296.48h4.53v1.15h-4.53zM86.05 302.49h4.52v1.15h-4.52zM125.41 307.5h4.52v1.15h-4.52z"/>
<path fill="#4ea2cc" d="M147 256.43h4.53v1.15h-4.53zM151.38 256.43h4.53v1.15h-4.53zM147 261.44h4.53v1.15h-4.53zM147 265.44h4.53v1.15h-4.53zM155.76 267.44h4.53v1.15h-4.53zM147 303.49h4.53v1.15h-4.53zM147 305.49h4.53v1.15h-4.53z"/>
<path fill="#5abaea" d="M147 257.43h4.53v1.15h-4.53zM151.38 257.43h4.53v1.15h-4.53zM151.38 268.45h4.53v1.15h-4.53zM151.38 302.49h4.53v1.15h-4.53zM160.14 304.49h4.53v1.15h-4.53zM151.38 307.5h4.53v1.15h-4.53z"/>
<path fill="#4ea8cc" d="M155.76 257.43h4.53v1.15h-4.53z"/>
<path fill="#54b4e4" d="M160.14 257.43h4.53v1.15h-4.53zM155.76 268.45h4.53v1.15h-4.53zM160.14 270.45h4.53v1.15h-4.53zM160.14 302.49h4.53v1.15h-4.53zM151.38 306.5h4.53v1.15h-4.53z"/>
<path fill="#428aae" d="M147 258.43h4.53v1.15h-4.53zM155.76 262.44h4.53v1.15h-4.53zM147 266.44h4.53v1.15h-4.53zM147 294.48h4.53v1.15h-4.53zM151.38 294.48h4.53v1.15h-4.53zM160.14 294.48h4.53v1.15h-4.53zM151.38 299.49h4.53v1.15h-4.53zM86.05 304.49h4.52v1.15h-4.52zM107.92 304.49h4.52v1.15h-4.52zM103.54 307.5h4.52v1.15h-4.52z"/>
<path fill="#367890" d="M155.76 258.43h4.53v1.15h-4.53zM86.05 294.48h4.52v1.15h-4.52zM147 296.48h4.53v1.15h-4.53zM160.14 298.49h4.53v1.15h-4.53zM155.76 300.49h4.53v1.15h-4.53zM129.78 307.5h4.52v1.15h-4.52zM129.78 308.5h4.52v1.15h-4.52z"/>
<path fill="#3c789c" d="M160.14 258.43h4.53v1.15h-4.53zM86.05 299.49h4.52v1.15h-4.52z"/>
<path fill="#54bae4" d="M147 259.43h4.53v1.15h-4.53zM151.38 262.44h4.53v1.15h-4.53z"/>
<path fill="#54aede" d="M151.38 259.43h4.53v1.15h-4.53zM155.76 303.49h4.53v1.15h-4.53zM160.14 303.49h4.53v1.15h-4.53z"/>
<path fill="#4ea2c6" d="M160.14 261.44h4.53v1.15h-4.53zM103.54 308.5h4.52v1.15h-4.52z"/>
<path fill="#4290ae" d="M151.38 263.44h4.53v1.15h-4.53z"/>
<path fill="#5ac0ea" d="M147 264.44h4.53v1.15h-4.53zM151.38 264.44h4.53v1.15h-4.53zM160.14 306.5h4.53v1.15h-4.53z"/>
<path fill="#5ac0f0" d="M155.76 264.44h4.53v1.15h-4.53zM160.14 264.44h4.53v1.15h-4.53zM151.38 269.45h4.53v1.15h-4.53zM160.14 269.45h4.53v1.15h-4.53zM147 270.45h4.53v1.15h-4.53zM151.38 270.45h4.53v1.15h-4.53zM147 271.45h4.53v1.15h-4.53zM151.38 271.45h4.53v1.15h-4.53zM160.14 271.45h4.53v1.15h-4.53zM147 272.45h4.53v1.15h-4.53zM151.38 272.45h4.53v1.15h-4.53zM155.76 272.45h4.53v1.15h-4.53zM160.14 272.45h4.53v1.15h-4.53zM147 304.49h4.53v1.15h-4.53zM151.38 304.49h4.53v1.15h-4.53zM155.76 304.49h4.53v1.15h-4.53zM147 308.5h4.53v1.15h-4.53zM151.38 308.5h4.53v1.15h-4.53zM155.76 308.5h4.53v1.15h-4.53zM160.14 308.5h4.53v1.15h-4.53z"/>
<path fill="#54aed8" d="M147 267.44h4.53v1.15h-4.53zM160.14 267.44h4.53v1.15h-4.53zM147 269.45h4.53v1.15h-4.53zM160.14 305.49h4.53v1.15h-4.53zM155.76 307.5h4.53v1.15h-4.53z"/>
<path fill="#4eaed8" d="M151.38 267.44h4.53v1.15h-4.53zM155.76 270.45h4.53v1.15h-4.53z"/>
<path fill="#54b4de" d="M155.76 269.45h4.53v1.15h-4.53zM151.38 303.49h4.53v1.15h-4.53zM151.38 305.49h4.53v1.15h-4.53zM147 306.5h4.53v1.15h-4.53zM160.14 307.5h4.53v1.15h-4.53z"/>
<path fill="#54baea" d="M155.76 271.45h4.53v1.15h-4.53zM155.76 302.49h4.53v1.15h-4.53zM147 307.5h4.53v1.15h-4.53z"/>
<path fill="#428aa8" d="M90.42 293.48h4.52v1.15h-4.52zM129.78 293.48h4.52v1.15h-4.52zM160.14 297.48h4.53v1.15h-4.53z"/>
<path fill="#36728a" d="M125.41 293.48h4.52v1.15h-4.52zM138.53 293.48h4.52v1.15h-4.52zM160.14 295.48h4.53v1.15h-4.53zM86.05 298.49h4.52v1.15h-4.52zM129.78 299.49h4.52v1.15h-4.52zM160.14 301.49h4.53v1.15h-4.53zM134.15 307.5h4.52v1.15h-4.52z"/>
<path fill="#4284a8" d="M151.38 297.48h4.53v1.15h-4.53z"/>
<path fill="#48a2c6" d="M147 302.49h4.53v1.15h-4.53z"/>
<path fill="#4296ba" d="M103.54 304.49h4.52v1.15h-4.52z"/>
</g>
<rect x="82.1" y="85.2" width="3.95" height="224.3" fill="#9a9a9a"/>
<rect x="142.9" y="85.2" width="4.1" height="224.3" fill="#9a9a9a"/>
<rect x="172.6" y="86.1" width="1.4" height="27.9" fill="#000"/>
<rect x="177.35" y="114.5" width="1.3" height="61.1" fill="#666"/>
<rect x="172.6" y="176.9" width="1.4" height="14.3" fill="#000"/>
<rect x="177.35" y="191.7" width="1.3" height="6.2" fill="#666"/>
<rect x="172.6" y="200.5" width="1.4" height="72.9" fill="#000"/>
<rect x="177.35" y="274.3" width="1.3" height="35.2" fill="#666"/>
<text x="200.3" y="99.5" font-size="7.3" fill="#333" text-anchor="end" textLength="15" lengthAdjust="spacingAndGlyphs">MBC</text>
<path d="M204 99.5l2.3 -4.1l2.3 4.1z" fill="#c8202a"/>
<text x="200.3" y="108.8" font-size="7.3" fill="#333" text-anchor="end" textLength="12.3" lengthAdjust="spacingAndGlyphs">LBC</text>
<path d="M204 108.8l2.3 -4.1l2.3 4.1z" fill="#c8202a"/>
<text x="200.3" y="145" font-size="7.3" fill="#333" text-anchor="end" textLength="15" lengthAdjust="spacingAndGlyphs">MBC</text>
<rect x="205.4" y="142.8" width="1.8" height="0.6" fill="#444"/>
<text x="200.3" y="153.8" font-size="7.3" fill="#333" text-anchor="end" textLength="12.3" lengthAdjust="spacingAndGlyphs">LBC</text>
<path d="M204 153.8l2.3 -4.1l2.3 4.1z" fill="#c8202a"/>
<text x="200.3" y="178.6" font-size="7.3" fill="#333" text-anchor="end" textLength="15" lengthAdjust="spacingAndGlyphs">MBC</text>
<path d="M204 178.6l2.3 -4.1l2.3 4.1z" fill="#c8202a"/>
<text x="200.3" y="187.7" font-size="7.3" fill="#333" text-anchor="end" textLength="12.3" lengthAdjust="spacingAndGlyphs">LBC</text>
<rect x="205.4" y="185.5" width="1.8" height="0.6" fill="#444"/>
<text x="200.3" y="196.1" font-size="7.3" fill="#333" text-anchor="end" textLength="15" lengthAdjust="spacingAndGlyphs">MBC</text>
<path d="M204 191.9l2.3 4.1l2.3 -4.1z" fill="#25257a"/>
<text x="200.3" y="205.7" font-size="7.3" fill="#333" text-anchor="end" textLength="12.3" lengthAdjust="spacingAndGlyphs">LBC</text>
<rect x="205.4" y="203.5" width="1.8" height="0.6" fill="#444"/>
<text x="200.3" y="237" font-size="7.3" fill="#333" text-anchor="end" textLength="15" lengthAdjust="spacingAndGlyphs">MBC</text>
<rect x="205.4" y="234.8" width="1.8" height="0.6" fill="#444"/>
<text x="200.3" y="245.5" font-size="7.3" fill="#333" text-anchor="end" textLength="12.3" lengthAdjust="spacingAndGlyphs">LBC</text>
<path d="M204 241.3l2.3 4.1l2.3 -4.1z" fill="#25257a"/>
<text x="200.3" y="290.9" font-size="7.3" fill="#333" text-anchor="end" textLength="15" lengthAdjust="spacingAndGlyphs">MBC</text>
<path d="M204 286.7l2.3 4.1l2.3 -4.1z" fill="#25257a"/>
<text x="200.3" y="300.3" font-size="7.3" fill="#333" text-anchor="end" textLength="12.3" lengthAdjust="spacingAndGlyphs">LBC</text>
<path d="M204 296.1l2.3 4.1l2.3 -4.1z" fill="#25257a"/>
<text x="48.8" y="318.6" font-size="7" fill="#333" text-anchor="middle" textLength="38.8" lengthAdjust="spacingAndGlyphs">CP (Control)</text>
<text x="114.3" y="318.3" font-size="7" fill="#333" text-anchor="middle">MBC</text>
<text x="114.3" y="326.5" font-size="6.5" fill="#333" text-anchor="middle">vs</text>
<text x="114.3" y="335.2" font-size="7" fill="#333" text-anchor="middle">CP</text>
<text x="158" y="318.3" font-size="7" fill="#333" text-anchor="middle">LBC</text>
<text x="158" y="326.5" font-size="6.5" fill="#333" text-anchor="middle">vs</text>
<text x="158" y="335.2" font-size="7" fill="#333" text-anchor="middle">CP</text>
<rect x="12.7" y="321.7" width="6.75" height="3.9" fill="#5ac0f0"/>
<rect x="19.25" y="321.7" width="6.75" height="3.9" fill="#4ba0c8"/>
<rect x="25.81" y="321.7" width="6.75" height="3.9" fill="#3c80a0"/>
<rect x="32.36" y="321.7" width="6.75" height="3.9" fill="#2d6078"/>
<rect x="38.92" y="321.7" width="6.75" height="3.9" fill="#1e4050"/>
<rect x="45.47" y="321.7" width="6.75" height="3.9" fill="#0f2028"/>
<rect x="52.02" y="321.7" width="6.75" height="3.9" fill="#000000"/>
<rect x="58.58" y="321.7" width="6.75" height="3.9" fill="#270003"/>
<rect x="65.13" y="321.7" width="6.75" height="3.9" fill="#4e0007"/>
<rect x="71.68" y="321.7" width="6.75" height="3.9" fill="#76000a"/>
<rect x="78.24" y="321.7" width="6.75" height="3.9" fill="#9d000d"/>
<rect x="84.79" y="321.7" width="6.75" height="3.9" fill="#c40011"/>
<rect x="91.35" y="321.7" width="6.75" height="3.9" fill="#eb0014"/>
<text x="16.5" y="335.2" font-size="6.3" fill="#333" text-anchor="middle">&#8804;-3</text>
<text x="29" y="335.2" font-size="6.3" fill="#333" text-anchor="middle">-2</text>
<text x="42.5" y="335.2" font-size="6.3" fill="#333" text-anchor="middle">-1</text>
<text x="55" y="335.2" font-size="6.3" fill="#333" text-anchor="middle">0</text>
<text x="68" y="335.2" font-size="6.3" fill="#333" text-anchor="middle">1</text>
<text x="81" y="335.2" font-size="6.3" fill="#333" text-anchor="middle">2</text>
<text x="93.8" y="335.2" font-size="6.3" fill="#333" text-anchor="middle">3</text>
<text x="26.9" y="348" font-size="8.5" fill="#333" textLength="11.3" lengthAdjust="spacingAndGlyphs">Log</text>
<text x="38.3" y="349.6" font-size="5.5" fill="#333">2</text>
<text x="40.8" y="348" font-size="8.5" fill="#333" textLength="43" lengthAdjust="spacingAndGlyphs">(fold change)</text>
<text x="226" y="18" font-size="12.6" fill="#000" font-weight="bold">B</text>
<text x="291.3" y="33.8" font-size="9" fill="#222" text-anchor="middle" textLength="70" lengthAdjust="spacingAndGlyphs">Enriched in MBC</text>
<text x="421.9" y="33.8" font-size="9" fill="#222" text-anchor="middle" textLength="72" lengthAdjust="spacingAndGlyphs">Depleted in MBC</text>
<path d="M291.1 39.3A55.8 55.8 0 0 1 304.49 149.27L302.23 140.14A46.4 46.4 0 0 0 291.1 48.7z" fill="#4a8038"/>
<path d="M304.49 149.27A55.8 55.8 0 0 1 250.32 57.01L257.19 63.43A46.4 46.4 0 0 0 302.23 140.14z" fill="#c8781e"/>
<path d="M250.32 57.01A55.8 55.8 0 0 1 291.1 39.3L291.1 48.7A46.4 46.4 0 0 0 257.19 63.43z" fill="#8a3c9c"/>
<circle cx="291.1" cy="95.1" r="55.6" fill="none" stroke="#222" stroke-width="0.6"/>
<circle cx="291.1" cy="95.1" r="46.6" fill="none" stroke="#222" stroke-width="0.6"/>
<path d="M291.1 48.7L291.1 39.3" stroke="#222" stroke-width="0.6"/>
<path d="M302.23 140.14L304.49 149.27" stroke="#222" stroke-width="0.6"/>
<path d="M257.19 63.43L250.32 57.01" stroke="#222" stroke-width="0.6"/>
<path d="M291.1 95.1L291.1 51.8A43.3 43.3 0 0 1 310.14 56.21z" fill="#4a7d3c" stroke="#1a1a1a" stroke-width="0.6" stroke-linejoin="round"/>
<path d="M291.1 95.1L310.14 56.21A43.3 43.3 0 0 1 324.18 67.16z" fill="#5ea040" stroke="#1a1a1a" stroke-width="0.6" stroke-linejoin="round"/>
<path d="M291.1 95.1L324.18 67.16A43.3 43.3 0 0 1 332.7 83.08z" fill="#68a93c" stroke="#1a1a1a" stroke-width="0.6" stroke-linejoin="round"/>
<path d="M291.1 95.1L332.7 83.08A43.3 43.3 0 0 1 333.98 101.09z" fill="#74ae38" stroke="#1a1a1a" stroke-width="0.6" stroke-linejoin="round"/>
<path d="M291.1 95.1L333.98 101.09A43.3 43.3 0 0 1 328.79 116.42z" fill="#8dbd6a" stroke="#1a1a1a" stroke-width="0.6" stroke-linejoin="round"/>
<path d="M291.1 95.1L328.79 116.42A43.3 43.3 0 0 1 317.02 129.78z" fill="#b9d9a2" stroke="#1a1a1a" stroke-width="0.6" stroke-linejoin="round"/>
<path d="M291.1 95.1L317.02 129.78A43.3 43.3 0 0 1 301.49 137.13z" fill="#e2efd6" stroke="#1a1a1a" stroke-width="0.6" stroke-linejoin="round"/>
<path d="M291.1 95.1L301.49 137.13A43.3 43.3 0 0 1 287.86 138.28z" fill="#c8781e" stroke="#1a1a1a" stroke-width="0.6" stroke-linejoin="round"/>
<path d="M291.1 95.1L287.86 138.28A43.3 43.3 0 0 1 270.31 133.08z" fill="#c9a22a" stroke="#1a1a1a" stroke-width="0.6" stroke-linejoin="round"/>
<path d="M291.1 95.1L270.31 133.08A43.3 43.3 0 0 1 256.86 121.6z" fill="#f2d020" stroke="#1a1a1a" stroke-width="0.6" stroke-linejoin="round"/>
<path d="M291.1 95.1L256.86 121.6A43.3 43.3 0 0 1 249.52 107.18z" fill="#f3d48a" stroke="#1a1a1a" stroke-width="0.6" stroke-linejoin="round"/>
<path d="M291.1 95.1L249.52 107.18A43.3 43.3 0 0 1 247.84 93.35z" fill="#f8e4a8" stroke="#1a1a1a" stroke-width="0.6" stroke-linejoin="round"/>
<path d="M291.1 95.1L247.84 93.35A43.3 43.3 0 0 1 251.76 77.01z" fill="#f8f0a8" stroke="#1a1a1a" stroke-width="0.6" stroke-linejoin="round"/>
<path d="M291.1 95.1L251.76 77.01A43.3 43.3 0 0 1 259.45 65.55z" fill="#faf4dc" stroke="#1a1a1a" stroke-width="0.6" stroke-linejoin="round"/>
<path d="M291.1 95.1L259.45 65.55A43.3 43.3 0 0 1 274.96 54.92z" fill="#7a3c94" stroke="#1a1a1a" stroke-width="0.6" stroke-linejoin="round"/>
<path d="M291.1 95.1L274.96 54.92A43.3 43.3 0 0 1 291.1 51.8z" fill="#c08cc4" stroke="#1a1a1a" stroke-width="0.6" stroke-linejoin="round"/>
<circle cx="291.1" cy="95.1" r="43.6" fill="none" stroke="#111" stroke-width="0.9"/>
<circle cx="291.1" cy="95.1" r="1.5" fill="#000"/>
<text x="299.49" y="61.28" font-size="6.9" fill="#2a2a2a" text-anchor="middle">1.55</text>
<text x="313.45" y="68.84" font-size="6.9" fill="#2a2a2a" text-anchor="middle">1.41</text>
<text x="321.89" y="81.02" font-size="6.9" fill="#2a2a2a" text-anchor="middle">1.43</text>
<text x="324.14" y="95.14" font-size="6.9" fill="#2a2a2a" text-anchor="middle">1.43</text>
<text x="323.53" y="108.49" font-size="6.9" fill="#2a2a2a" text-anchor="middle">1.28</text>
<text x="317.95" y="121.14" font-size="6.9" fill="#2a2a2a" text-anchor="middle">1.41</text>
<text x="306.87" y="130.82" font-size="6.9" fill="#2a2a2a" text-anchor="middle">1.36</text>
<text x="294.22" y="134.65" font-size="6.9" fill="#2a2a2a" text-anchor="middle">1.08</text>
<text x="280.56" y="133.09" font-size="6.9" fill="#2a2a2a" text-anchor="middle">1.45</text>
<text x="267.59" y="125.05" font-size="6.9" fill="#2a2a2a" text-anchor="middle">1.40</text>
<text x="260.05" y="113.3" font-size="6.9" fill="#2a2a2a" text-anchor="middle">1.28</text>
<text x="258" y="101.53" font-size="6.9" fill="#2a2a2a" text-anchor="middle">1.10</text>
<text x="258.19" y="89.59" font-size="6.9" fill="#2a2a2a" text-anchor="middle">1.33</text>
<text x="261.78" y="77.82" font-size="6.9" fill="#2a2a2a" text-anchor="middle">1.09</text>
<text x="270.46" y="67.38" font-size="6.9" fill="#2a2a2a" text-anchor="middle">1.49</text>
<text x="284.04" y="60.96" font-size="6.9" fill="#2a2a2a" text-anchor="middle">1.30</text>
<path id="p297" d="M284.36 47.17A48.4 48.4 0 0 1 297.84 143.03" fill="none"/>
<text font-size="8.5" fill="#fff" text-anchor="middle"><textPath href="#p297" startOffset="50%">Immune Response</textPath></text>
<path id="p299" d="M316.03 136.59A48.4 48.4 0 0 1 266.17 53.61" fill="none"/>
<text font-size="8.5" fill="#fff" text-anchor="middle"><textPath href="#p299" startOffset="50%">Signalling</textPath></text>
<path id="p301" d="M246.22 113.23A48.4 48.4 0 0 1 335.98 76.97" fill="none"/>
<text font-size="8.5" fill="#fff" text-anchor="middle"><textPath href="#p301" startOffset="50%">Survival</textPath></text>
<path d="M421.6 39.3A55.8 55.8 0 0 1 439.72 147.88L436.67 138.99A46.4 46.4 0 0 0 421.6 48.7z" fill="#d63c20"/>
<path d="M439.72 147.88A55.8 55.8 0 1 1 421.6 39.3L421.6 48.7A46.4 46.4 0 1 0 436.67 138.99z" fill="#312c88"/>
<circle cx="421.6" cy="95.1" r="55.6" fill="none" stroke="#222" stroke-width="0.6"/>
<circle cx="421.6" cy="95.1" r="46.6" fill="none" stroke="#222" stroke-width="0.6"/>
<path d="M421.6 48.7L421.6 39.3" stroke="#222" stroke-width="0.6"/>
<path d="M436.67 138.99L439.72 147.88" stroke="#222" stroke-width="0.6"/>
<path d="M421.6 95.1L421.6 51.8A43.3 43.3 0 0 1 445.83 59.21z" fill="#d43a1a" stroke="#1a1a1a" stroke-width="0.6" stroke-linejoin="round"/>
<path d="M421.6 95.1L445.83 59.21A43.3 43.3 0 0 1 461.76 78.91z" fill="#d45444" stroke="#1a1a1a" stroke-width="0.6" stroke-linejoin="round"/>
<path d="M421.6 95.1L461.76 78.91A43.3 43.3 0 0 1 463.73 105.1z" fill="#e08078" stroke="#1a1a1a" stroke-width="0.6" stroke-linejoin="round"/>
<path d="M421.6 95.1L463.73 105.1A43.3 43.3 0 0 1 450.69 127.18z" fill="#eaaaa4" stroke="#1a1a1a" stroke-width="0.6" stroke-linejoin="round"/>
<path d="M421.6 95.1L450.69 127.18A43.3 43.3 0 0 1 435.66 136.05z" fill="#f4d8d5" stroke="#1a1a1a" stroke-width="0.6" stroke-linejoin="round"/>
<path d="M421.6 95.1L435.66 136.05A43.3 43.3 0 0 1 411.6 137.23z" fill="#33308a" stroke="#1a1a1a" stroke-width="0.6" stroke-linejoin="round"/>
<path d="M421.6 95.1L411.6 137.23A43.3 43.3 0 0 1 390.75 125.49z" fill="#2e2a82" stroke="#1a1a1a" stroke-width="0.6" stroke-linejoin="round"/>
<path d="M421.6 95.1L390.75 125.49A43.3 43.3 0 0 1 379.51 105.26z" fill="#332a86" stroke="#1a1a1a" stroke-width="0.6" stroke-linejoin="round"/>
<path d="M421.6 95.1L379.51 105.26A43.3 43.3 0 0 1 379.71 84.16z" fill="#3c2e88" stroke="#1a1a1a" stroke-width="0.6" stroke-linejoin="round"/>
<path d="M421.6 95.1L379.71 84.16A43.3 43.3 0 0 1 387.94 67.87z" fill="#4a48a0" stroke="#1a1a1a" stroke-width="0.6" stroke-linejoin="round"/>
<path d="M421.6 95.1L387.94 67.87A43.3 43.3 0 0 1 405.41 54.94z" fill="#7c78c0" stroke="#1a1a1a" stroke-width="0.6" stroke-linejoin="round"/>
<path d="M421.6 95.1L405.41 54.94A43.3 43.3 0 0 1 421.6 51.8z" fill="#aaaad8" stroke="#1a1a1a" stroke-width="0.6" stroke-linejoin="round"/>
<circle cx="421.6" cy="95.1" r="43.6" fill="none" stroke="#111" stroke-width="0.9"/>
<circle cx="421.6" cy="95.1" r="1.5" fill="#000"/>
<text x="432.45" y="62.02" font-size="6.9" fill="#ffffff" text-anchor="middle">-1.58</text>
<text x="449.3" y="75.09" font-size="6.9" fill="#ffffff" text-anchor="middle">-1.58</text>
<text x="454.64" y="95.01" font-size="6.9" fill="#ffffff" text-anchor="middle">-1.64</text>
<text x="451.81" y="115.35" font-size="6.9" fill="#ffffff" text-anchor="middle">-1.60</text>
<text x="440.25" y="129.08" font-size="6.9" fill="#ffffff" text-anchor="middle">-1.08</text>
<text x="423.42" y="134.75" font-size="6.9" fill="#ffffff" text-anchor="middle">-1.50</text>
<text x="403.58" y="129.49" font-size="6.9" fill="#ffffff" text-anchor="middle">-1.49</text>
<text x="391.02" y="114.5" font-size="6.9" fill="#ffffff" text-anchor="middle">-1.44</text>
<text x="388.76" y="97.19" font-size="6.9" fill="#ffffff" text-anchor="middle">-1.31</text>
<text x="390.51" y="81.79" font-size="6.9" fill="#ffffff" text-anchor="middle">-1.13</text>
<text x="399.94" y="68.22" font-size="6.9" fill="#ffffff" text-anchor="middle">-1.35</text>
<text x="414.51" y="60.96" font-size="6.9" fill="#ffffff" text-anchor="middle">-1.02</text>
<path id="p335" d="M416.54 46.97A48.4 48.4 0 0 1 426.66 143.23" fill="none"/>
<text font-size="8.5" fill="#fff" text-anchor="middle"><textPath href="#p335" startOffset="50%">Cell Cycle</textPath></text>
<path id="p337" d="M424.98 143.38A48.4 48.4 0 0 1 418.22 46.82" fill="none"/>
<text font-size="8.5" fill="#fff" text-anchor="middle"><textPath href="#p337" startOffset="50%">Metabolism</textPath></text>
<text x="225.8" y="166" font-size="6" fill="#4a853c" font-weight="bold" textLength="49.3" lengthAdjust="spacingAndGlyphs">Immune Response</text>
<rect x="225.8" y="166.9" width="49.3" height="0.5" fill="#4a853c"/>
<rect x="225.7" y="170.9" width="7.3" height="7.3" fill="#4a7d3c" stroke="#333" stroke-width="0.8"/>
<text x="236.5" y="176.8" font-size="6.3" fill="#6a9c52" textLength="101.5" lengthAdjust="spacingAndGlyphs">HALLMARK_ALLOGRAFT_REJECTION</text>
<rect x="225.7" y="180.76" width="7.3" height="7.3" fill="#5ea040" stroke="#333" stroke-width="0.8"/>
<text x="236.5" y="186.66" font-size="6.3" fill="#6a9c52" textLength="128.3" lengthAdjust="spacingAndGlyphs">HALLMARK_INTERFERON_GAMMA_RESPONSE</text>
<rect x="225.7" y="190.62" width="7.3" height="7.3" fill="#68a93c" stroke="#333" stroke-width="0.8"/>
<text x="236.5" y="196.52" font-size="6.3" fill="#6a9c52" textLength="97.9" lengthAdjust="spacingAndGlyphs">HALLMARK_IL2_ STAT5_ SIGNALING</text>
<rect x="225.7" y="200.48" width="7.3" height="7.3" fill="#74ae38" stroke="#333" stroke-width="0.8"/>
<text x="236.5" y="206.38" font-size="6.3" fill="#6a9c52" textLength="109.3" lengthAdjust="spacingAndGlyphs">HALLMARK_IL6_JAK_STAT3_ SIGNALING</text>
<rect x="225.7" y="210.34" width="7.3" height="7.3" fill="#8dbd6a" stroke="#333" stroke-width="0.8"/>
<text x="236.5" y="216.24" font-size="6.3" fill="#6a9c52" textLength="123.7" lengthAdjust="spacingAndGlyphs">HALLMARK_INTERFERON_ALPHA_RESPONSE</text>
<rect x="225.7" y="220.2" width="7.3" height="7.3" fill="#b9d9a2" stroke="#333" stroke-width="0.8"/>
<text x="236.5" y="226.1" font-size="6.3" fill="#6a9c52" textLength="74.5" lengthAdjust="spacingAndGlyphs">HALLMARK_COMPLEMENT</text>
<rect x="225.7" y="230.06" width="7.3" height="7.3" fill="#e2efd6" stroke="#333" stroke-width="0.8"/>
<text x="236.5" y="235.96" font-size="6.3" fill="#6a9c52" textLength="111.7" lengthAdjust="spacingAndGlyphs">HALLMARK_INFLAMMATORY_RESPONSE</text>
<text x="225.8" y="250.6" font-size="6" fill="#7a3c94" font-weight="bold" textLength="21.5" lengthAdjust="spacingAndGlyphs">Survival</text>
<rect x="225.8" y="251.5" width="21.5" height="0.5" fill="#7a3c94"/>
<rect x="225.7" y="255.5" width="7.3" height="7.3" fill="#7a3c94" stroke="#333" stroke-width="0.8"/>
<text x="236.5" y="261.4" font-size="6.3" fill="#8e5aa6" textLength="66.2" lengthAdjust="spacingAndGlyphs">HALLMARK_APOPTOSIS</text>
<rect x="225.7" y="265.36" width="7.3" height="7.3" fill="#c08cc4" stroke="#333" stroke-width="0.8"/>
<text x="236.5" y="271.26" font-size="6.3" fill="#8e5aa6" textLength="73.3" lengthAdjust="spacingAndGlyphs">HALLMARK_P53_PATHWAY</text>
<text x="225.8" y="284" font-size="6" fill="#c8201a" font-weight="bold" textLength="27" lengthAdjust="spacingAndGlyphs">Cell Cycle</text>
<rect x="225.8" y="284.9" width="27" height="0.5" fill="#c8201a"/>
<rect x="225.7" y="288.9" width="7.3" height="7.3" fill="#d43a1a" stroke="#333" stroke-width="0.8"/>
<text x="236.5" y="294.8" font-size="6.3" fill="#d04a3a" textLength="86.8" lengthAdjust="spacingAndGlyphs">HALLMARK_G2M_CHECKPOINT</text>
<rect x="225.7" y="298.76" width="7.3" height="7.3" fill="#d45444" stroke="#333" stroke-width="0.8"/>
<text x="236.5" y="304.66" font-size="6.3" fill="#d04a3a" textLength="83.7" lengthAdjust="spacingAndGlyphs">HALLMARK_MYC_TARGETS_V1</text>
<rect x="225.7" y="308.62" width="7.3" height="7.3" fill="#e08078" stroke="#333" stroke-width="0.8"/>
<text x="236.5" y="314.52" font-size="6.3" fill="#d04a3a" textLength="71.4" lengthAdjust="spacingAndGlyphs">HALLMARK_E2F_TARGETS</text>
<rect x="225.7" y="318.48" width="7.3" height="7.3" fill="#eaaaa4" stroke="#333" stroke-width="0.8"/>
<text x="236.5" y="324.38" font-size="6.3" fill="#d04a3a" textLength="85.6" lengthAdjust="spacingAndGlyphs">HALLMARK_MYC_ TARGETS_V2</text>
<rect x="225.7" y="328.34" width="7.3" height="7.3" fill="#f4d8d5" stroke="#333" stroke-width="0.8"/>
<text x="236.5" y="334.24" font-size="6.3" fill="#d04a3a" textLength="83.7" lengthAdjust="spacingAndGlyphs">HALLMARK_MITOTIC_SPINDLE</text>
<text x="375.2" y="165.8" font-size="6" fill="#c8781e" font-weight="bold" textLength="26" lengthAdjust="spacingAndGlyphs">Signalling</text>
<rect x="375.1" y="170.7" width="7.3" height="7.3" fill="#c8781e" stroke="#333" stroke-width="0.8"/>
<text x="385.9" y="176.6" font-size="6.3" fill="#d29a50" textLength="92" lengthAdjust="spacingAndGlyphs">HALLMARK_HEDGEHOG_SIGNALING</text>
<rect x="375.1" y="180.56" width="7.3" height="7.3" fill="#c9a22a" stroke="#333" stroke-width="0.8"/>
<text x="385.9" y="186.46" font-size="6.3" fill="#d29a50" textLength="93.5" lengthAdjust="spacingAndGlyphs">HALLMARK_KRAS_SIGNALING_UP</text>
<rect x="375.1" y="190.42" width="7.3" height="7.3" fill="#f2d020" stroke="#333" stroke-width="0.8"/>
<text x="385.9" y="196.32" font-size="6.3" fill="#d29a50" textLength="113" lengthAdjust="spacingAndGlyphs">HALLMARK_PI3K_AKT_MTOR_SIGNALING</text>
<rect x="375.1" y="200.28" width="7.3" height="7.3" fill="#f3d48a" stroke="#333" stroke-width="0.8"/>
<text x="385.9" y="206.18" font-size="6.3" fill="#d29a50" textLength="98.5" lengthAdjust="spacingAndGlyphs">HALLMARK_ TGF_BETA_SIGNALING</text>
<rect x="375.1" y="210.14" width="7.3" height="7.3" fill="#f8e4a8" stroke="#333" stroke-width="0.8"/>
<text x="385.9" y="216.04" font-size="6.3" fill="#d29a50" textLength="126" lengthAdjust="spacingAndGlyphs">HALLMARK_WNT_BETA_CATENIN_SIGNALING</text>
<rect x="375.1" y="220" width="7.3" height="7.3" fill="#f8f0a8" stroke="#333" stroke-width="0.8"/>
<text x="385.9" y="225.9" font-size="6.3" fill="#d29a50" textLength="88.5" lengthAdjust="spacingAndGlyphs">HALLMARK_NOTCH_SIGNALING</text>
<rect x="375.1" y="229.86" width="7.3" height="7.3" fill="#faf4dc" stroke="#333" stroke-width="0.8"/>
<text x="385.9" y="235.76" font-size="6.3" fill="#d29a50" textLength="114" lengthAdjust="spacingAndGlyphs">HALLMARK_ TNFA_SIGNALING_VIA_NFKB</text>
<text x="375.2" y="250.4" font-size="6" fill="#2e2a82" font-weight="bold" textLength="32.5" lengthAdjust="spacingAndGlyphs">Metabolism</text>
<rect x="375.2" y="251.3" width="32.5" height="0.5" fill="#2e2a82"/>
<rect x="375.1" y="255.3" width="7.3" height="7.3" fill="#33308a" stroke="#333" stroke-width="0.8"/>
<text x="385.9" y="261.2" font-size="6.3" fill="#3a368e" textLength="103" lengthAdjust="spacingAndGlyphs">HALLMARK_BILE_ACID_METABOLISM</text>
<rect x="375.1" y="265.16" width="7.3" height="7.3" fill="#2e2a82" stroke="#333" stroke-width="0.8"/>
<text x="385.9" y="271.06" font-size="6.3" fill="#3a368e" textLength="108.5" lengthAdjust="spacingAndGlyphs">HALLMARK_FATTY_ACID_METABOLISM</text>
<rect x="375.1" y="275.02" width="7.3" height="7.3" fill="#332a86" stroke="#333" stroke-width="0.8"/>
<text x="385.9" y="280.92" font-size="6.3" fill="#3a368e" textLength="90.5" lengthAdjust="spacingAndGlyphs">HALLMARK_HEME_METABOLISM</text>
<rect x="375.1" y="284.88" width="7.3" height="7.3" fill="#3c2e88" stroke="#333" stroke-width="0.8"/>
<text x="385.9" y="290.78" font-size="6.3" fill="#3a368e" textLength="71.5" lengthAdjust="spacingAndGlyphs">HALLMARK_PEROXISOME</text>
<rect x="375.1" y="294.74" width="7.3" height="7.3" fill="#4a48a0" stroke="#333" stroke-width="0.8"/>
<text x="385.9" y="300.64" font-size="6.3" fill="#3a368e" textLength="109" lengthAdjust="spacingAndGlyphs">HALLMARK_XENOBIOTIC_METABOLISM</text>
<rect x="375.1" y="304.6" width="7.3" height="7.3" fill="#7c78c0" stroke="#333" stroke-width="0.8"/>
<text x="385.9" y="310.5" font-size="6.3" fill="#3a368e" textLength="122.5" lengthAdjust="spacingAndGlyphs">HALLMARK_OXIDATIVE_PHOSPHORYLATION</text>
<rect x="375.1" y="314.46" width="7.3" height="7.3" fill="#aaaad8" stroke="#333" stroke-width="0.8"/>
<text x="385.9" y="320.36" font-size="6.3" fill="#3a368e" textLength="67.5" lengthAdjust="spacingAndGlyphs">HALLMARK_GLYCOLYSIS</text>
<defs>
<linearGradient id="g1" x1="0" x2="1" y1="0" y2="0"><stop offset="0" stop-color="#d8383c"/><stop offset="0.3" stop-color="#dd5560"/><stop offset="0.31" stop-color="#ec9fd0"/><stop offset="0.46" stop-color="#f2c6ee"/><stop offset="0.47" stop-color="#cdd0f4"/><stop offset="0.74" stop-color="#b0b0ea"/><stop offset="0.75" stop-color="#7c7cd8"/><stop offset="0.92" stop-color="#3030b8"/><stop offset="0.93" stop-color="#14149c"/><stop offset="0.96" stop-color="#14149c"/><stop offset="0.961" stop-color="#ffffff"/><stop offset="1" stop-color="#ffffff"/></linearGradient>
<linearGradient id="g2" x1="0" x2="1" y1="0" y2="0"><stop offset="0" stop-color="#d04448"/><stop offset="0.29" stop-color="#d86a78"/><stop offset="0.30" stop-color="#e4aed0"/><stop offset="0.47" stop-color="#e8c8e4"/><stop offset="0.48" stop-color="#d4d4f0"/><stop offset="0.73" stop-color="#b4b4e4"/><stop offset="0.74" stop-color="#8e8ed0"/><stop offset="0.80" stop-color="#7e7ec8"/><stop offset="0.81" stop-color="#4a4aa0"/><stop offset="0.94" stop-color="#22227e"/><stop offset="0.941" stop-color="#ffffff"/><stop offset="1" stop-color="#ffffff"/></linearGradient>
</defs>
<text x="7.5" y="380.8" font-size="12.6" fill="#000" font-weight="bold">C</text>
<text transform="translate(55.3 417) rotate(-90)" font-size="9.1" fill="#222" text-anchor="middle">MBC</text>
<text x="131" y="389.1" font-size="8.8" fill="#222" text-anchor="middle" textLength="63.6" lengthAdjust="spacingAndGlyphs">EPPERT_LSC_R</text>
<text x="257.1" y="377.7" font-size="8.8" fill="#222" text-anchor="middle" textLength="95.8" lengthAdjust="spacingAndGlyphs">GENTLES_LEUKEMIC_</text>
<text x="257.2" y="388.6" font-size="8.8" fill="#222" text-anchor="middle" textLength="66.7" lengthAdjust="spacingAndGlyphs">STEM_CELL_UP</text>
<text x="385.3" y="388.5" font-size="8.8" fill="#222" text-anchor="middle" textLength="97.4" lengthAdjust="spacingAndGlyphs">EPPERT_PROGENITOR</text>
<rect x="81.3" y="394.1" width="98.8" height="62.9" fill="#fff"/>
<rect x="81.3" y="453.3" width="98.8" height="3.7" fill="url(#g1)"/>
<rect x="82.94" y="438.5" width="9.8" height="14.8" fill="#000" fill-opacity="0.33"/>
<rect x="83.04" y="438.5" width="0.7" height="14.8" fill="#000" fill-opacity="0.49"/>
<rect x="83.99" y="438.5" width="0.35" height="14.8" fill="#000" fill-opacity="0.66"/>
<rect x="85.12" y="438.5" width="0.7" height="14.8" fill="#000" fill-opacity="0.42"/>
<rect x="86.3" y="438.5" width="0.35" height="14.8" fill="#000" fill-opacity="0.36"/>
<rect x="87.83" y="438.5" width="0.5" height="14.8" fill="#000" fill-opacity="0.38"/>
<rect x="89.25" y="438.5" width="0.35" height="14.8" fill="#000" fill-opacity="0.64"/>
<rect x="90.57" y="438.5" width="0.5" height="14.8" fill="#000" fill-opacity="0.66"/>
<rect x="91.94" y="438.5" width="0.5" height="14.8" fill="#000" fill-opacity="0.54"/>
<rect x="92.75" y="438.5" width="1.96" height="14.8" fill="#000" fill-opacity="0.17"/>
<rect x="92.94" y="438.5" width="0.5" height="14.8" fill="#000" fill-opacity="0.28"/>
<rect x="94.23" y="438.5" width="0.5" height="14.8" fill="#000" fill-opacity="0.18"/>
<rect x="98.63" y="438.5" width="2.94" height="14.8" fill="#000" fill-opacity="0.19"/>
<rect x="98.68" y="438.5" width="0.35" height="14.8" fill="#000" fill-opacity="0.29"/>
<rect x="99.88" y="438.5" width="0.5" height="14.8" fill="#000" fill-opacity="0.28"/>
<rect x="100.71" y="438.5" width="0.7" height="14.8" fill="#000" fill-opacity="0.22"/>
<rect x="106.5" y="438.5" width="0.6" height="14.8" fill="#000" fill-opacity="0.7"/>
<rect x="108.4" y="438.5" width="0.6" height="14.8" fill="#000" fill-opacity="0.7"/>
<rect x="122.2" y="438.5" width="0.6" height="14.8" fill="#000" fill-opacity="0.7"/>
<rect x="132" y="438.5" width="0.6" height="14.8" fill="#000" fill-opacity="0.7"/>
<rect x="133" y="438.5" width="0.6" height="14.8" fill="#000" fill-opacity="0.7"/>
<rect x="145.7" y="438.5" width="0.6" height="14.8" fill="#000" fill-opacity="0.7"/>
<rect x="154" y="438.5" width="0.6" height="14.8" fill="#000" fill-opacity="0.7"/>
<rect x="173.7" y="438.5" width="0.6" height="14.8" fill="#000" fill-opacity="0.7"/>
<rect x="78.3" y="435" width="101.8" height="0.6" fill="#222"/>
<polyline points="82.2,427.7 83.8,422.3 85.3,414.6 86.5,410.4 88,408.1 89.9,405.4 91.8,403.5 93,398.5 94.2,396.5 95.7,396.5 99.2,398.5 101.1,398.1 102.6,398.5 106.5,400.8 110.3,402.3 117.6,406.5 121.31,408.42 125.03,410.34 128.74,412.26 132.45,414.18 136.17,416.1 139.88,418.02 143.59,419.94 147.31,421.86 151.02,423.78 154.73,425.7 158.45,427.62 162.16,429.54 165.87,431.46 169.59,433.38 173.3,435.3 174.5,435.8 175.5,435.2 176.5,434.8" fill="none" stroke="#7fe83f" stroke-width="1.1" stroke-linejoin="round"/>
<rect x="81.3" y="394.1" width="98.8" height="44.4" fill="none" stroke="#111" stroke-width="1"/>
<rect x="81.3" y="438.5" width="98.8" height="18.5" fill="none" stroke="#111" stroke-width="1"/>
<rect x="81.3" y="453" width="98.8" height="0.6" fill="#111"/>
<path d="M81.3 398.3h-3M81.3 416.8h-3M81.3 435.3h-3M81.3 403.59h-2M81.3 408.87h-2M81.3 414.16h-2M81.3 419.44h-2M81.3 424.73h-2M81.3 430.02h-2" stroke="#222" stroke-width="0.6" fill="none"/>
<text x="74.6" y="400.8" font-size="6.9" fill="#333" text-anchor="end">0.7</text>
<text x="74.6" y="419.3" font-size="6.9" fill="#333" text-anchor="end">0.35</text>
<text x="74.6" y="437.8" font-size="6.9" fill="#333" text-anchor="end">0.0</text>
<text x="147.7" y="402.3" font-size="5.75" fill="#222">NES: 1.59</text>
<text x="147.7" y="409.3" font-size="5.75" fill="#222">FDR: 0.072</text>
<rect x="207.6" y="394.2" width="99" height="62.8" fill="#fff"/>
<rect x="207.6" y="453.3" width="99" height="3.7" fill="url(#g1)"/>
<rect x="213.45" y="438.5" width="1.96" height="14.8" fill="#000" fill-opacity="0.19"/>
<rect x="214.03" y="438.5" width="0.35" height="14.8" fill="#000" fill-opacity="0.25"/>
<rect x="240.9" y="438.5" width="3.33" height="14.8" fill="#000" fill-opacity="0.19"/>
<rect x="241.17" y="438.5" width="0.7" height="14.8" fill="#000" fill-opacity="0.23"/>
<rect x="242.46" y="438.5" width="0.5" height="14.8" fill="#000" fill-opacity="0.35"/>
<rect x="243.23" y="438.5" width="0.5" height="14.8" fill="#000" fill-opacity="0.38"/>
<rect x="275.61" y="438.5" width="3.92" height="14.8" fill="#000" fill-opacity="0.17"/>
<rect x="275.97" y="438.5" width="0.7" height="14.8" fill="#000" fill-opacity="0.28"/>
<rect x="277.5" y="438.5" width="0.7" height="14.8" fill="#000" fill-opacity="0.31"/>
<rect x="278.72" y="438.5" width="0.35" height="14.8" fill="#000" fill-opacity="0.27"/>
<rect x="209.5" y="438.5" width="0.6" height="14.8" fill="#000" fill-opacity="0.75"/>
<rect x="210.3" y="438.5" width="0.6" height="14.8" fill="#000" fill-opacity="0.75"/>
<rect x="211" y="438.5" width="0.6" height="14.8" fill="#000" fill-opacity="0.75"/>
<rect x="221.7" y="438.5" width="0.6" height="14.8" fill="#000" fill-opacity="0.75"/>
<rect x="224.6" y="438.5" width="0.6" height="14.8" fill="#000" fill-opacity="0.75"/>
<rect x="247.2" y="438.5" width="0.6" height="14.8" fill="#000" fill-opacity="0.75"/>
<rect x="248" y="438.5" width="0.6" height="14.8" fill="#000" fill-opacity="0.75"/>
<rect x="280" y="438.5" width="0.6" height="14.8" fill="#000" fill-opacity="0.75"/>
<rect x="295.2" y="438.5" width="0.6" height="14.8" fill="#000" fill-opacity="0.75"/>
<rect x="204.6" y="436" width="102" height="0.6" fill="#222"/>
<polyline points="207.8,436 207.8,424.6 208.2,411.5 209.4,411.5 209.8,404.6 210.9,403.5 212.1,401.9 212.5,397.7 213.6,396.5 216.3,396.2 219.4,398.1 221.7,399.2 224,400 225.5,399.6 230.2,401.9 244,408.5 247.83,410.35 251.67,412.21 255.5,414.06 259.33,415.91 263.17,417.77 267,419.62 270.83,421.47 274.67,423.33 278.5,425.18 282.33,427.03 286.17,428.89 290,430.74 293.83,432.59 297.67,434.45 301.5,436.3 303,436.6 305,436.8" fill="none" stroke="#7fe83f" stroke-width="1.1" stroke-linejoin="round"/>
<rect x="207.6" y="394.2" width="99" height="44.3" fill="none" stroke="#111" stroke-width="1"/>
<rect x="207.6" y="438.5" width="99" height="18.5" fill="none" stroke="#111" stroke-width="1"/>
<rect x="207.6" y="453" width="99" height="0.6" fill="#111"/>
<path d="M207.6 397.5h-3M207.6 416.9h-3M207.6 436.3h-3M207.6 402.35h-2M207.6 407.2h-2M207.6 412.05h-2M207.6 421.75h-2M207.6 426.6h-2M207.6 431.45h-2" stroke="#222" stroke-width="0.6" fill="none"/>
<text x="200.9" y="400" font-size="6.9" fill="#333" text-anchor="end">0.8</text>
<text x="200.9" y="419.4" font-size="6.9" fill="#333" text-anchor="end">0.4</text>
<text x="200.9" y="438.8" font-size="6.9" fill="#333" text-anchor="end">0.0</text>
<text x="273.4" y="402.4" font-size="5.75" fill="#222">NES: 1.54</text>
<text x="273.4" y="409.4" font-size="5.75" fill="#222">FDR: 0.081</text>
<rect x="335.6" y="394.9" width="98.5" height="61.5" fill="#fff"/>
<rect x="335.6" y="453" width="98.5" height="3.4" fill="url(#g1)"/>
<rect x="336.94" y="438.2" width="0.98" height="14.8" fill="#000" fill-opacity="0.33"/>
<rect x="337.5" y="438.2" width="0.5" height="14.8" fill="#000" fill-opacity="0.63"/>
<rect x="345.76" y="438.2" width="3.92" height="14.8" fill="#000" fill-opacity="0.22"/>
<rect x="346.12" y="438.2" width="0.5" height="14.8" fill="#000" fill-opacity="0.32"/>
<rect x="347.14" y="438.2" width="0.7" height="14.8" fill="#000" fill-opacity="0.28"/>
<rect x="348.24" y="438.2" width="0.35" height="14.8" fill="#000" fill-opacity="0.36"/>
<rect x="359.49" y="438.2" width="1.96" height="14.8" fill="#000" fill-opacity="0.39"/>
<rect x="359.55" y="438.2" width="0.7" height="14.8" fill="#000" fill-opacity="0.59"/>
<rect x="360.27" y="438.2" width="0.7" height="14.8" fill="#000" fill-opacity="0.68"/>
<rect x="363.41" y="438.2" width="2.94" height="14.8" fill="#000" fill-opacity="0.25"/>
<rect x="363.45" y="438.2" width="0.35" height="14.8" fill="#000" fill-opacity="0.4"/>
<rect x="364.74" y="438.2" width="0.7" height="14.8" fill="#000" fill-opacity="0.32"/>
<rect x="368.31" y="438.2" width="2.94" height="14.8" fill="#000" fill-opacity="0.25"/>
<rect x="368.65" y="438.2" width="0.5" height="14.8" fill="#000" fill-opacity="0.49"/>
<rect x="369.61" y="438.2" width="0.5" height="14.8" fill="#000" fill-opacity="0.4"/>
<rect x="374.2" y="438.2" width="1.96" height="14.8" fill="#000" fill-opacity="0.28"/>
<rect x="374.3" y="438.2" width="0.5" height="14.8" fill="#000" fill-opacity="0.45"/>
<rect x="375.41" y="438.2" width="0.7" height="14.8" fill="#000" fill-opacity="0.34"/>
<rect x="384.98" y="438.2" width="2.94" height="14.8" fill="#000" fill-opacity="0.22"/>
<rect x="385.3" y="438.2" width="0.7" height="14.8" fill="#000" fill-opacity="0.4"/>
<rect x="386.18" y="438.2" width="0.35" height="14.8" fill="#000" fill-opacity="0.26"/>
<rect x="387.26" y="438.2" width="0.7" height="14.8" fill="#000" fill-opacity="0.3"/>
<rect x="396.75" y="438.2" width="3.92" height="14.8" fill="#000" fill-opacity="0.22"/>
<rect x="397.24" y="438.2" width="0.5" height="14.8" fill="#000" fill-opacity="0.26"/>
<rect x="398.75" y="438.2" width="0.7" height="14.8" fill="#000" fill-opacity="0.3"/>
<rect x="400.15" y="438.2" width="0.7" height="14.8" fill="#000" fill-opacity="0.28"/>
<rect x="403.61" y="438.2" width="8.82" height="14.8" fill="#000" fill-opacity="0.28"/>
<rect x="403.98" y="438.2" width="0.35" height="14.8" fill="#000" fill-opacity="0.48"/>
<rect x="405.43" y="438.2" width="0.35" height="14.8" fill="#000" fill-opacity="0.38"/>
<rect x="406.25" y="438.2" width="0.7" height="14.8" fill="#000" fill-opacity="0.45"/>
<rect x="407.8" y="438.2" width="0.35" height="14.8" fill="#000" fill-opacity="0.41"/>
<rect x="408.53" y="438.2" width="0.7" height="14.8" fill="#000" fill-opacity="0.4"/>
<rect x="409.26" y="438.2" width="0.35" height="14.8" fill="#000" fill-opacity="0.47"/>
<rect x="410.83" y="438.2" width="0.7" height="14.8" fill="#000" fill-opacity="0.54"/>
<rect x="412.02" y="438.2" width="0.5" height="14.8" fill="#000" fill-opacity="0.49"/>
<rect x="414.39" y="438.2" width="5.88" height="14.8" fill="#000" fill-opacity="0.28"/>
<rect x="414.98" y="438.2" width="0.5" height="14.8" fill="#000" fill-opacity="0.42"/>
<rect x="415.71" y="438.2" width="0.5" height="14.8" fill="#000" fill-opacity="0.42"/>
<rect x="416.59" y="438.2" width="0.5" height="14.8" fill="#000" fill-opacity="0.54"/>
<rect x="417.48" y="438.2" width="0.35" height="14.8" fill="#000" fill-opacity="0.44"/>
<rect x="418.77" y="438.2" width="0.7" height="14.8" fill="#000" fill-opacity="0.44"/>
<rect x="420.27" y="438.2" width="4.9" height="14.8" fill="#000" fill-opacity="0.41"/>
<rect x="420.43" y="438.2" width="0.5" height="14.8" fill="#000" fill-opacity="0.51"/>
<rect x="421.14" y="438.2" width="0.5" height="14.8" fill="#000" fill-opacity="0.7"/>
<rect x="422.21" y="438.2" width="0.35" height="14.8" fill="#000" fill-opacity="0.79"/>
<rect x="423.53" y="438.2" width="0.5" height="14.8" fill="#000" fill-opacity="0.48"/>
<rect x="340.9" y="438.2" width="0.6" height="14.8" fill="#000" fill-opacity="0.7"/>
<rect x="342.8" y="438.2" width="0.6" height="14.8" fill="#000" fill-opacity="0.7"/>
<rect x="425.2" y="438.2" width="3.9" height="14.8" fill="#000" fill-opacity="0.95"/>
<rect x="332.6" y="396.4" width="101.5" height="0.6" fill="#222"/>
<polyline points="336,396.8 345,400.5 357,404.8 370,411.5 383,418.5 395,425 405,430.5 415,434.7 421,436.6 424.5,434.8 426.5,432.2 427.6,428.7 428.6,420.5 429.4,410.3 430.1,400.2 430.4,396.3 430.6,394.8" fill="none" stroke="#7fe83f" stroke-width="1.1" stroke-linejoin="round"/>
<rect x="335.6" y="394.9" width="98.5" height="43.3" fill="none" stroke="#111" stroke-width="1"/>
<rect x="335.6" y="438.2" width="98.5" height="18.2" fill="none" stroke="#111" stroke-width="1"/>
<rect x="335.6" y="452.7" width="98.5" height="0.6" fill="#111"/>
<path d="M335.6 396.7h-3M335.6 416.7h-3M335.6 436.4h-3M335.6 401.66h-2M335.6 406.62h-2M335.6 411.58h-2M335.6 421.5h-2M335.6 426.46h-2M335.6 431.42h-2" stroke="#222" stroke-width="0.6" fill="none"/>
<text x="328.9" y="399.2" font-size="6.9" fill="#333" text-anchor="end">0.0</text>
<text x="328.9" y="419.2" font-size="6.9" fill="#333" text-anchor="end">-0.4</text>
<text x="328.9" y="438.9" font-size="6.9" fill="#333" text-anchor="end">-0.8</text>
<text x="384" y="402.5" font-size="5.75" fill="#222">NES: -1.64</text>
<text x="384" y="409.5" font-size="5.75" fill="#222">FDR: 0.160</text>
<text x="8" y="483.8" font-size="12.6" fill="#000" font-weight="bold">D</text>
<text x="134.2" y="481.6" font-size="9" fill="#222" text-anchor="middle" textLength="69.4" lengthAdjust="spacingAndGlyphs">Enriched in MBC</text>
<text x="133.8" y="492.2" font-size="8.6" fill="#111" text-anchor="middle" font-weight="bold" textLength="22.9" lengthAdjust="spacingAndGlyphs">PRC1</text>
<text x="272.1" y="481.3" font-size="9" fill="#222" text-anchor="middle" textLength="72.7" lengthAdjust="spacingAndGlyphs">Depleted in MBC</text>
<text x="272" y="492.4" font-size="8.8" fill="#111" text-anchor="middle" font-weight="bold" textLength="23.3" lengthAdjust="spacingAndGlyphs">PRC2</text>
<text transform="translate(32.3 529.5) rotate(-90)" font-size="9" fill="#222" text-anchor="middle" textLength="31.2" lengthAdjust="spacingAndGlyphs">PRC1/2</text>
<text transform="translate(43.6 529.5) rotate(-90)" font-size="9" fill="#222" text-anchor="middle" textLength="53.6" lengthAdjust="spacingAndGlyphs">Components</text>
<text transform="translate(56.4 529.5) rotate(-90)" font-size="9" fill="#222" text-anchor="middle" textLength="71" lengthAdjust="spacingAndGlyphs">Enrichment score (ES)</text>
<rect x="81.3" y="495.8" width="106.2" height="67.6" fill="#fff"/>
<rect x="81.3" y="559.6" width="106.2" height="3.8" fill="url(#g2)"/>
<rect x="83.4" y="543.1" width="0.55" height="16.5" fill="#000" fill-opacity="0.6"/>
<rect x="85.5" y="543.1" width="0.55" height="16.5" fill="#000" fill-opacity="0.6"/>
<rect x="87.7" y="543.1" width="0.55" height="16.5" fill="#000" fill-opacity="0.6"/>
<rect x="90.5" y="543.1" width="0.55" height="16.5" fill="#000" fill-opacity="0.6"/>
<rect x="91.4" y="543.1" width="0.55" height="16.5" fill="#000" fill-opacity="0.6"/>
<rect x="92.7" y="543.1" width="0.55" height="16.5" fill="#000" fill-opacity="0.6"/>
<rect x="104.9" y="543.1" width="0.55" height="16.5" fill="#000" fill-opacity="0.6"/>
<rect x="117.4" y="543.1" width="0.55" height="16.5" fill="#000" fill-opacity="0.6"/>
<rect x="133" y="543.1" width="0.55" height="16.5" fill="#000" fill-opacity="0.6"/>
<rect x="134.2" y="543.1" width="0.55" height="16.5" fill="#000" fill-opacity="0.6"/>
<rect x="148" y="543.1" width="0.55" height="16.5" fill="#000" fill-opacity="0.6"/>
<rect x="167.4" y="543.1" width="0.55" height="16.5" fill="#000" fill-opacity="0.6"/>
<rect x="180.4" y="543.1" width="0.55" height="16.5" fill="#000" fill-opacity="0.6"/>
<rect x="78.3" y="535.2" width="109.2" height="1.4" fill="#8a8a8a"/>
<polyline points="82.5,536.5 83.5,537.2 84.5,532 85.5,531 86.5,527 87.2,520 87.8,511.5 89.3,513.5 90,508.5 91,507.5 92,506 93,500 93.8,498 97,499.7 100,501.5 103.3,503.8 105,503.2 106.4,502.8 110.33,504.89 114.27,506.99 118.2,509.08 122.13,511.17 126.07,513.27 130,515.36 133.93,517.45 137.87,519.55 141.8,521.64 145.73,523.73 149.67,525.83 153.6,527.92 157.53,530.01 161.47,532.11 165.4,534.2 169,536 172,537 175,539 178.8,540.8 180.8,535.5 183,535.8" fill="none" stroke="#6aae35" stroke-width="1.1" stroke-linejoin="round"/>
<rect x="81.3" y="495.8" width="106.2" height="47.3" fill="none" stroke="#111" stroke-width="1"/>
<rect x="81.3" y="543.1" width="106.2" height="20.3" fill="none" stroke="#111" stroke-width="1"/>
<rect x="81.3" y="559.3" width="106.2" height="0.6" fill="#111"/>
<path d="M81.3 496.7h-3M81.3 518.8h-3M81.3 541.3h-3M81.3 502.22h-2M81.3 507.75h-2M81.3 513.27h-2M81.3 524.33h-2M81.3 529.85h-2M81.3 535.38h-2" stroke="#222" stroke-width="0.6" fill="none"/>
<text x="74.6" y="499.2" font-size="6.9" fill="#333" text-anchor="end">0.7</text>
<text x="74.6" y="521.3" font-size="6.9" fill="#333" text-anchor="end">0.3</text>
<text x="74.6" y="543.8" font-size="6.9" fill="#333" text-anchor="end">-0.1</text>
<text x="148.8" y="504.3" font-size="5.75" fill="#222">NES: 1.49</text>
<text x="148.8" y="511.3" font-size="5.75" fill="#222">FDR: 0.056</text>
<rect x="219.1" y="496.4" width="104.7" height="66.5" fill="#fff"/>
<rect x="219.1" y="559.4" width="104.7" height="3.5" fill="url(#g2)"/>
<rect x="223.7" y="542.7" width="0.55" height="16.7" fill="#000" fill-opacity="0.7"/>
<rect x="225" y="542.7" width="0.55" height="16.7" fill="#000" fill-opacity="0.7"/>
<rect x="227.2" y="542.7" width="0.55" height="16.7" fill="#000" fill-opacity="0.7"/>
<rect x="247.9" y="542.7" width="0.55" height="16.7" fill="#000" fill-opacity="0.7"/>
<rect x="259.5" y="542.7" width="0.55" height="16.7" fill="#000" fill-opacity="0.7"/>
<rect x="264.9" y="542.7" width="0.55" height="16.7" fill="#000" fill-opacity="0.7"/>
<rect x="282.9" y="542.7" width="0.55" height="16.7" fill="#000" fill-opacity="0.7"/>
<rect x="291.8" y="542.7" width="0.55" height="16.7" fill="#000" fill-opacity="0.7"/>
<rect x="307.1" y="542.7" width="0.55" height="16.7" fill="#000" fill-opacity="0.7"/>
<rect x="308.5" y="542.7" width="0.55" height="16.7" fill="#000" fill-opacity="0.7"/>
<rect x="312.5" y="542.7" width="0.55" height="16.7" fill="#000" fill-opacity="0.7"/>
<rect x="315.2" y="542.7" width="0.55" height="16.7" fill="#000" fill-opacity="0.7"/>
<rect x="317.1" y="542.7" width="0.55" height="16.7" fill="#000" fill-opacity="0.7"/>
<rect x="318.7" y="542.7" width="0.55" height="16.7" fill="#000" fill-opacity="0.7"/>
<rect x="216.1" y="503.75" width="107.7" height="0.9" fill="#333"/>
<polyline points="219.6,503.7 222.8,505.8 224.5,501.8 227.2,497.7 231.19,499.88 235.19,502.06 239.19,504.24 243.18,506.42 247.18,508.6 251.17,510.78 255.16,512.96 259.16,515.14 263.16,517.32 267.15,519.5 271.14,521.68 275.14,523.86 279.13,526.04 283.13,528.22 287.12,530.4 291.12,532.58 295.12,534.76 299.11,536.94 303.11,539.12 307.1,541.3 308.5,532.5 309.8,531.4 311.7,533.3 313.3,529.8 315.2,534 316.5,510.4 317.9,510.4 319.2,502.8" fill="none" stroke="#6aae35" stroke-width="1.1" stroke-linejoin="round"/>
<rect x="219.1" y="496.4" width="104.7" height="46.3" fill="none" stroke="#111" stroke-width="1"/>
<rect x="219.1" y="542.7" width="104.7" height="20.2" fill="none" stroke="#111" stroke-width="1"/>
<rect x="219.1" y="559.1" width="104.7" height="0.6" fill="#111"/>
<path d="M219.1 497.7h-3M219.1 518.5h-3M219.1 538.7h-3M219.1 501.85h-2M219.1 506h-2M219.1 510.15h-2M219.1 514.3h-2M219.1 522.6h-2M219.1 526.75h-2M219.1 530.9h-2M219.1 535.05h-2" stroke="#222" stroke-width="0.6" fill="none"/>
<text x="212.4" y="500.2" font-size="6.9" fill="#333" text-anchor="end">0.1</text>
<text x="212.4" y="521" font-size="6.9" fill="#333" text-anchor="end">-0.35</text>
<text x="212.4" y="541.2" font-size="6.9" fill="#333" text-anchor="end">-0.6</text>
<text x="281.5" y="509.8" font-size="5.75" fill="#222">NES: -1.49</text>
<text x="281.5" y="516.8" font-size="5.75" fill="#222">FDR: 0.088</text>
<text x="81.3" y="572.9" font-size="7" fill="#c8302a" font-weight="bold" textLength="16" lengthAdjust="spacingAndGlyphs">MBC</text>
<text x="187.5" y="572.9" font-size="7" fill="#2f2a86" text-anchor="end" font-weight="bold" textLength="9.9" lengthAdjust="spacingAndGlyphs">CP</text>
<text x="219.1" y="572.9" font-size="7" fill="#c8302a" font-weight="bold" textLength="16" lengthAdjust="spacingAndGlyphs">MBC</text>
<text x="323.8" y="572.9" font-size="7" fill="#2f2a86" text-anchor="end" font-weight="bold" textLength="9.9" lengthAdjust="spacingAndGlyphs">CP</text>
<text x="8" y="601.5" font-size="12.6" fill="#000" font-weight="bold">E</text>
<text transform="translate(27.6 635.2) rotate(-90)" font-size="9" fill="#222" text-anchor="middle" textLength="31.2" lengthAdjust="spacingAndGlyphs">PRC1/2</text>
<text transform="translate(38.3 635.2) rotate(-90)" font-size="9" fill="#222" text-anchor="middle">Targets</text>
<text transform="translate(51.3 635.2) rotate(-90)" font-size="9" fill="#222" text-anchor="middle" textLength="71" lengthAdjust="spacingAndGlyphs">Enrichment score (ES)</text>
<text x="133.9" y="598.4" font-size="8.6" fill="#111" text-anchor="middle" font-weight="bold" textLength="96.3" lengthAdjust="spacingAndGlyphs">PRC1_BMI_UP.V1_DN</text>
<text x="272.1" y="598.3" font-size="8.6" fill="#111" text-anchor="middle" font-weight="bold" textLength="103.1" lengthAdjust="spacingAndGlyphs">PRC2_EZH2_UP.V1_DN</text>
<rect x="81.3" y="601.5" width="106.7" height="67.7" fill="#fff"/>
<rect x="81.3" y="665.2" width="106.7" height="4" fill="url(#g2)"/>
<rect x="81.88" y="648.6" width="1.51" height="16.6" fill="#000" fill-opacity="0.39"/>
<rect x="82.15" y="648.6" width="0.7" height="16.6" fill="#000" fill-opacity="0.72"/>
<rect x="83.39" y="648.6" width="4.31" height="16.6" fill="#000" fill-opacity="0.28"/>
<rect x="83.66" y="648.6" width="0.7" height="16.6" fill="#000" fill-opacity="0.35"/>
<rect x="85.08" y="648.6" width="0.5" height="16.6" fill="#000" fill-opacity="0.46"/>
<rect x="86.5" y="648.6" width="0.35" height="16.6" fill="#000" fill-opacity="0.41"/>
<rect x="87.32" y="648.6" width="0.7" height="16.6" fill="#000" fill-opacity="0.5"/>
<rect x="89.85" y="648.6" width="3.23" height="16.6" fill="#000" fill-opacity="0.28"/>
<rect x="89.88" y="648.6" width="0.5" height="16.6" fill="#000" fill-opacity="0.54"/>
<rect x="91.17" y="648.6" width="0.7" height="16.6" fill="#000" fill-opacity="0.46"/>
<rect x="92.43" y="648.6" width="0.7" height="16.6" fill="#000" fill-opacity="0.32"/>
<rect x="93.09" y="648.6" width="4.31" height="16.6" fill="#000" fill-opacity="0.11"/>
<rect x="93.61" y="648.6" width="0.7" height="16.6" fill="#000" fill-opacity="0.12"/>
<rect x="94.73" y="648.6" width="0.5" height="16.6" fill="#000" fill-opacity="0.18"/>
<rect x="95.61" y="648.6" width="0.35" height="16.6" fill="#000" fill-opacity="0.18"/>
<rect x="96.76" y="648.6" width="0.7" height="16.6" fill="#000" fill-opacity="0.13"/>
<rect x="97.4" y="648.6" width="2.16" height="16.6" fill="#000" fill-opacity="0.28"/>
<rect x="97.64" y="648.6" width="0.7" height="16.6" fill="#000" fill-opacity="0.55"/>
<rect x="99.1" y="648.6" width="0.7" height="16.6" fill="#000" fill-opacity="0.36"/>
<rect x="103.86" y="648.6" width="6.47" height="16.6" fill="#000" fill-opacity="0.3"/>
<rect x="104.17" y="648.6" width="0.35" height="16.6" fill="#000" fill-opacity="0.35"/>
<rect x="105.56" y="648.6" width="0.5" height="16.6" fill="#000" fill-opacity="0.36"/>
<rect x="106.52" y="648.6" width="0.35" height="16.6" fill="#000" fill-opacity="0.59"/>
<rect x="107.98" y="648.6" width="0.35" height="16.6" fill="#000" fill-opacity="0.39"/>
<rect x="109.52" y="648.6" width="0.35" height="16.6" fill="#000" fill-opacity="0.46"/>
<rect x="112.48" y="648.6" width="3.23" height="16.6" fill="#000" fill-opacity="0.28"/>
<rect x="112.72" y="648.6" width="0.35" height="16.6" fill="#000" fill-opacity="0.44"/>
<rect x="113.6" y="648.6" width="0.7" height="16.6" fill="#000" fill-opacity="0.37"/>
<rect x="114.38" y="648.6" width="0.5" height="16.6" fill="#000" fill-opacity="0.3"/>
<rect x="115.72" y="648.6" width="4.31" height="16.6" fill="#000" fill-opacity="0.11"/>
<rect x="116.27" y="648.6" width="0.35" height="16.6" fill="#000" fill-opacity="0.14"/>
<rect x="117.06" y="648.6" width="0.35" height="16.6" fill="#000" fill-opacity="0.17"/>
<rect x="118.2" y="648.6" width="0.7" height="16.6" fill="#000" fill-opacity="0.18"/>
<rect x="119.3" y="648.6" width="0.35" height="16.6" fill="#000" fill-opacity="0.22"/>
<rect x="120.03" y="648.6" width="3.23" height="16.6" fill="#000" fill-opacity="0.22"/>
<rect x="120.28" y="648.6" width="0.5" height="16.6" fill="#000" fill-opacity="0.26"/>
<rect x="121.36" y="648.6" width="0.35" height="16.6" fill="#000" fill-opacity="0.24"/>
<rect x="122.83" y="648.6" width="0.7" height="16.6" fill="#000" fill-opacity="0.3"/>
<rect x="127.57" y="648.6" width="4.31" height="16.6" fill="#000" fill-opacity="0.25"/>
<rect x="127.7" y="648.6" width="0.5" height="16.6" fill="#000" fill-opacity="0.49"/>
<rect x="128.94" y="648.6" width="0.7" height="16.6" fill="#000" fill-opacity="0.29"/>
<rect x="130.53" y="648.6" width="0.35" height="16.6" fill="#000" fill-opacity="0.37"/>
<rect x="131.24" y="648.6" width="0.7" height="16.6" fill="#000" fill-opacity="0.34"/>
<rect x="135.11" y="648.6" width="7.54" height="16.6" fill="#000" fill-opacity="0.41"/>
<rect x="135.16" y="648.6" width="0.35" height="16.6" fill="#000" fill-opacity="0.53"/>
<rect x="136.43" y="648.6" width="0.35" height="16.6" fill="#000" fill-opacity="0.68"/>
<rect x="137.46" y="648.6" width="0.5" height="16.6" fill="#000" fill-opacity="0.5"/>
<rect x="138.69" y="648.6" width="0.7" height="16.6" fill="#000" fill-opacity="0.5"/>
<rect x="139.74" y="648.6" width="0.7" height="16.6" fill="#000" fill-opacity="0.51"/>
<rect x="141.26" y="648.6" width="0.7" height="16.6" fill="#000" fill-opacity="0.54"/>
<rect x="142.13" y="648.6" width="0.7" height="16.6" fill="#000" fill-opacity="0.69"/>
<rect x="144.81" y="648.6" width="4.31" height="16.6" fill="#000" fill-opacity="0.28"/>
<rect x="145.22" y="648.6" width="0.5" height="16.6" fill="#000" fill-opacity="0.52"/>
<rect x="146.47" y="648.6" width="0.5" height="16.6" fill="#000" fill-opacity="0.31"/>
<rect x="147.26" y="648.6" width="0.7" height="16.6" fill="#000" fill-opacity="0.54"/>
<rect x="148.18" y="648.6" width="0.7" height="16.6" fill="#000" fill-opacity="0.4"/>
<rect x="152.35" y="648.6" width="7.54" height="16.6" fill="#000" fill-opacity="0.3"/>
<rect x="152.9" y="648.6" width="0.5" height="16.6" fill="#000" fill-opacity="0.41"/>
<rect x="153.75" y="648.6" width="0.7" height="16.6" fill="#000" fill-opacity="0.6"/>
<rect x="154.57" y="648.6" width="0.5" height="16.6" fill="#000" fill-opacity="0.48"/>
<rect x="156.04" y="648.6" width="0.7" height="16.6" fill="#000" fill-opacity="0.35"/>
<rect x="156.93" y="648.6" width="0.35" height="16.6" fill="#000" fill-opacity="0.54"/>
<rect x="157.69" y="648.6" width="0.5" height="16.6" fill="#000" fill-opacity="0.45"/>
<rect x="158.44" y="648.6" width="0.35" height="16.6" fill="#000" fill-opacity="0.41"/>
<rect x="162.05" y="648.6" width="5.39" height="16.6" fill="#000" fill-opacity="0.39"/>
<rect x="162.64" y="648.6" width="0.35" height="16.6" fill="#000" fill-opacity="0.55"/>
<rect x="164.14" y="648.6" width="0.5" height="16.6" fill="#000" fill-opacity="0.65"/>
<rect x="165.46" y="648.6" width="0.7" height="16.6" fill="#000" fill-opacity="0.75"/>
<rect x="166.69" y="648.6" width="0.35" height="16.6" fill="#000" fill-opacity="0.59"/>
<rect x="169.59" y="648.6" width="5.39" height="16.6" fill="#000" fill-opacity="0.25"/>
<rect x="169.78" y="648.6" width="0.35" height="16.6" fill="#000" fill-opacity="0.27"/>
<rect x="171.05" y="648.6" width="0.5" height="16.6" fill="#000" fill-opacity="0.29"/>
<rect x="172.03" y="648.6" width="0.35" height="16.6" fill="#000" fill-opacity="0.49"/>
<rect x="172.8" y="648.6" width="0.7" height="16.6" fill="#000" fill-opacity="0.35"/>
<rect x="173.54" y="648.6" width="0.7" height="16.6" fill="#000" fill-opacity="0.44"/>
<rect x="174.36" y="648.6" width="0.5" height="16.6" fill="#000" fill-opacity="0.35"/>
<rect x="179.29" y="648.6" width="1.72" height="16.6" fill="#000" fill-opacity="0.22"/>
<rect x="179.83" y="648.6" width="0.5" height="16.6" fill="#000" fill-opacity="0.43"/>
<rect x="180.56" y="648.6" width="0.5" height="16.6" fill="#000" fill-opacity="0.35"/>
<rect x="78.3" y="643.85" width="109.7" height="0.7" fill="#555"/>
<polyline points="81.6,643 82,636.5 83.5,626.5 85.7,617.7 88,613.2 90.2,607.3 92.4,605 95.7,606 99,604.4 102.3,606.6 106,607.8 111.2,610 116,613 122.2,617.7 127,621.5 133.3,626.5 139,631 144.4,635.4 149,639 153.2,642 156,643.8 159.9,644.9 163,645 166.5,644.2 170,644.6 173,644 175.3,643.8 177,644.9 178.7,646.4 180.2,647 181.5,643.5" fill="none" stroke="#6aae35" stroke-width="1.1" stroke-linejoin="round"/>
<rect x="81.3" y="601.5" width="106.7" height="47.1" fill="none" stroke="#111" stroke-width="1"/>
<rect x="81.3" y="648.6" width="106.7" height="20.6" fill="none" stroke="#111" stroke-width="1"/>
<rect x="81.3" y="664.9" width="106.7" height="0.6" fill="#111"/>
<path d="M81.3 606h-3M81.3 627.1h-3M81.3 648.3h-3M81.3 610.23h-2M81.3 614.46h-2M81.3 618.69h-2M81.3 622.92h-2M81.3 631.38h-2M81.3 635.61h-2M81.3 639.84h-2M81.3 644.07h-2" stroke="#222" stroke-width="0.6" fill="none"/>
<text x="74.6" y="608.5" font-size="6.9" fill="#333" text-anchor="end">0.40</text>
<text x="74.6" y="629.6" font-size="6.9" fill="#333" text-anchor="end">0.175</text>
<text x="74.6" y="650.8" font-size="6.9" fill="#333" text-anchor="end">-0.05</text>
<text x="148.4" y="609.5" font-size="5.75" fill="#222">NES: 1.66</text>
<text x="148.4" y="616.5" font-size="5.75" fill="#222">FDR: 0.019</text>
<rect x="219.7" y="601.7" width="104.4" height="67.5" fill="#fff"/>
<rect x="219.7" y="665.3" width="104.4" height="3.9" fill="url(#g2)"/>
<rect x="219.88" y="649" width="2.59" height="16.3" fill="#000" fill-opacity="0.22"/>
<rect x="220.16" y="649" width="0.7" height="16.3" fill="#000" fill-opacity="0.35"/>
<rect x="221.18" y="649" width="0.5" height="16.3" fill="#000" fill-opacity="0.24"/>
<rect x="222.47" y="649" width="3.23" height="16.3" fill="#000" fill-opacity="0.3"/>
<rect x="222.63" y="649" width="0.5" height="16.3" fill="#000" fill-opacity="0.52"/>
<rect x="223.87" y="649" width="0.7" height="16.3" fill="#000" fill-opacity="0.33"/>
<rect x="225.13" y="649" width="0.5" height="16.3" fill="#000" fill-opacity="0.43"/>
<rect x="225.7" y="649" width="4.31" height="16.3" fill="#000" fill-opacity="0.08"/>
<rect x="225.82" y="649" width="0.7" height="16.3" fill="#000" fill-opacity="0.15"/>
<rect x="226.59" y="649" width="0.7" height="16.3" fill="#000" fill-opacity="0.15"/>
<rect x="227.9" y="649" width="0.35" height="16.3" fill="#000" fill-opacity="0.09"/>
<rect x="228.66" y="649" width="0.7" height="16.3" fill="#000" fill-opacity="0.13"/>
<rect x="229.44" y="649" width="0.5" height="16.3" fill="#000" fill-opacity="0.16"/>
<rect x="230.01" y="649" width="5.39" height="16.3" fill="#000" fill-opacity="0.36"/>
<rect x="230.26" y="649" width="0.35" height="16.3" fill="#000" fill-opacity="0.57"/>
<rect x="231.76" y="649" width="0.7" height="16.3" fill="#000" fill-opacity="0.44"/>
<rect x="233.08" y="649" width="0.35" height="16.3" fill="#000" fill-opacity="0.57"/>
<rect x="234.24" y="649" width="0.35" height="16.3" fill="#000" fill-opacity="0.52"/>
<rect x="235.4" y="649" width="4.31" height="16.3" fill="#000" fill-opacity="0.28"/>
<rect x="235.75" y="649" width="0.5" height="16.3" fill="#000" fill-opacity="0.45"/>
<rect x="236.94" y="649" width="0.7" height="16.3" fill="#000" fill-opacity="0.48"/>
<rect x="238.51" y="649" width="0.7" height="16.3" fill="#000" fill-opacity="0.37"/>
<rect x="242.94" y="649" width="7.54" height="16.3" fill="#000" fill-opacity="0.28"/>
<rect x="243.46" y="649" width="0.5" height="16.3" fill="#000" fill-opacity="0.47"/>
<rect x="244.26" y="649" width="0.35" height="16.3" fill="#000" fill-opacity="0.38"/>
<rect x="245.3" y="649" width="0.7" height="16.3" fill="#000" fill-opacity="0.5"/>
<rect x="246.45" y="649" width="0.35" height="16.3" fill="#000" fill-opacity="0.4"/>
<rect x="247.92" y="649" width="0.35" height="16.3" fill="#000" fill-opacity="0.43"/>
<rect x="248.82" y="649" width="0.5" height="16.3" fill="#000" fill-opacity="0.31"/>
<rect x="249.7" y="649" width="0.7" height="16.3" fill="#000" fill-opacity="0.33"/>
<rect x="250.48" y="649" width="3.23" height="16.3" fill="#000" fill-opacity="0.39"/>
<rect x="250.59" y="649" width="0.7" height="16.3" fill="#000" fill-opacity="0.52"/>
<rect x="251.68" y="649" width="0.5" height="16.3" fill="#000" fill-opacity="0.54"/>
<rect x="252.95" y="649" width="0.35" height="16.3" fill="#000" fill-opacity="0.6"/>
<rect x="253.72" y="649" width="7.54" height="16.3" fill="#000" fill-opacity="0.25"/>
<rect x="253.92" y="649" width="0.5" height="16.3" fill="#000" fill-opacity="0.38"/>
<rect x="255.48" y="649" width="0.5" height="16.3" fill="#000" fill-opacity="0.32"/>
<rect x="257.07" y="649" width="0.5" height="16.3" fill="#000" fill-opacity="0.48"/>
<rect x="258.1" y="649" width="0.35" height="16.3" fill="#000" fill-opacity="0.44"/>
<rect x="259" y="649" width="0.7" height="16.3" fill="#000" fill-opacity="0.27"/>
<rect x="259.94" y="649" width="0.5" height="16.3" fill="#000" fill-opacity="0.31"/>
<rect x="261.26" y="649" width="5.39" height="16.3" fill="#000" fill-opacity="0.08"/>
<rect x="261.56" y="649" width="0.35" height="16.3" fill="#000" fill-opacity="0.14"/>
<rect x="263.14" y="649" width="0.7" height="16.3" fill="#000" fill-opacity="0.13"/>
<rect x="263.87" y="649" width="0.5" height="16.3" fill="#000" fill-opacity="0.16"/>
<rect x="265.17" y="649" width="0.5" height="16.3" fill="#000" fill-opacity="0.14"/>
<rect x="266.07" y="649" width="0.7" height="16.3" fill="#000" fill-opacity="0.13"/>
<rect x="266.65" y="649" width="5.82" height="16.3" fill="#000" fill-opacity="0.28"/>
<rect x="266.86" y="649" width="0.7" height="16.3" fill="#000" fill-opacity="0.54"/>
<rect x="268.36" y="649" width="0.35" height="16.3" fill="#000" fill-opacity="0.41"/>
<rect x="269.62" y="649" width="0.35" height="16.3" fill="#000" fill-opacity="0.37"/>
<rect x="271.17" y="649" width="0.7" height="16.3" fill="#000" fill-opacity="0.46"/>
<rect x="275.27" y="649" width="5.39" height="16.3" fill="#000" fill-opacity="0.19"/>
<rect x="275.74" y="649" width="0.7" height="16.3" fill="#000" fill-opacity="0.26"/>
<rect x="276.67" y="649" width="0.7" height="16.3" fill="#000" fill-opacity="0.21"/>
<rect x="277.4" y="649" width="0.7" height="16.3" fill="#000" fill-opacity="0.37"/>
<rect x="278.47" y="649" width="0.35" height="16.3" fill="#000" fill-opacity="0.25"/>
<rect x="279.6" y="649" width="0.35" height="16.3" fill="#000" fill-opacity="0.31"/>
<rect x="284.97" y="649" width="9.7" height="16.3" fill="#000" fill-opacity="0.3"/>
<rect x="285.52" y="649" width="0.5" height="16.3" fill="#000" fill-opacity="0.54"/>
<rect x="286.59" y="649" width="0.7" height="16.3" fill="#000" fill-opacity="0.36"/>
<rect x="287.66" y="649" width="0.35" height="16.3" fill="#000" fill-opacity="0.49"/>
<rect x="288.67" y="649" width="0.5" height="16.3" fill="#000" fill-opacity="0.51"/>
<rect x="289.72" y="649" width="0.35" height="16.3" fill="#000" fill-opacity="0.33"/>
<rect x="291.06" y="649" width="0.35" height="16.3" fill="#000" fill-opacity="0.55"/>
<rect x="292.56" y="649" width="0.5" height="16.3" fill="#000" fill-opacity="0.48"/>
<rect x="293.97" y="649" width="0.5" height="16.3" fill="#000" fill-opacity="0.55"/>
<rect x="294.66" y="649" width="6.47" height="16.3" fill="#000" fill-opacity="0.36"/>
<rect x="294.78" y="649" width="0.5" height="16.3" fill="#000" fill-opacity="0.69"/>
<rect x="296.1" y="649" width="0.7" height="16.3" fill="#000" fill-opacity="0.55"/>
<rect x="297.35" y="649" width="0.35" height="16.3" fill="#000" fill-opacity="0.56"/>
<rect x="298.68" y="649" width="0.5" height="16.3" fill="#000" fill-opacity="0.58"/>
<rect x="299.44" y="649" width="0.5" height="16.3" fill="#000" fill-opacity="0.5"/>
<rect x="300.76" y="649" width="0.35" height="16.3" fill="#000" fill-opacity="0.61"/>
<rect x="301.13" y="649" width="4.31" height="16.3" fill="#000" fill-opacity="0.22"/>
<rect x="301.32" y="649" width="0.35" height="16.3" fill="#000" fill-opacity="0.39"/>
<rect x="302.61" y="649" width="0.5" height="16.3" fill="#000" fill-opacity="0.31"/>
<rect x="303.34" y="649" width="0.5" height="16.3" fill="#000" fill-opacity="0.36"/>
<rect x="304.47" y="649" width="0.35" height="16.3" fill="#000" fill-opacity="0.37"/>
<rect x="305.44" y="649" width="5.39" height="16.3" fill="#000" fill-opacity="0.28"/>
<rect x="305.58" y="649" width="0.5" height="16.3" fill="#000" fill-opacity="0.32"/>
<rect x="306.48" y="649" width="0.5" height="16.3" fill="#000" fill-opacity="0.39"/>
<rect x="307.95" y="649" width="0.7" height="16.3" fill="#000" fill-opacity="0.41"/>
<rect x="308.85" y="649" width="0.35" height="16.3" fill="#000" fill-opacity="0.43"/>
<rect x="310.18" y="649" width="0.35" height="16.3" fill="#000" fill-opacity="0.43"/>
<rect x="320.53" y="649" width="2.16" height="16.3" fill="#000" fill-opacity="0.17"/>
<rect x="320.83" y="649" width="0.7" height="16.3" fill="#000" fill-opacity="0.22"/>
<rect x="321.94" y="649" width="0.35" height="16.3" fill="#000" fill-opacity="0.3"/>
<rect x="312.98" y="649" width="5.39" height="16.3" fill="#000" fill-opacity="0.95"/>
<rect x="216.7" y="615.55" width="107.4" height="0.9" fill="#333"/>
<polyline points="219.7,616 221,612 223.6,605.6 226.2,606.1 230,605 236.6,604.3 241.8,606.9 247,610 252.1,613.4 262.5,619.9 272.9,626.4 283.3,632.9 293.7,639.4 299,642.2 304.1,644.5 309.3,646.6 312.4,645.8 314.2,642.5 315.8,638 317.2,632.5 318.4,626.4 319.7,621 321,616 322,612" fill="none" stroke="#6aae35" stroke-width="1.1" stroke-linejoin="round"/>
<rect x="219.7" y="601.7" width="104.4" height="47.3" fill="none" stroke="#111" stroke-width="1"/>
<rect x="219.7" y="649" width="104.4" height="20.2" fill="none" stroke="#111" stroke-width="1"/>
<rect x="219.7" y="665" width="104.4" height="0.6" fill="#111"/>
<path d="M219.7 608.2h-3M219.7 626.9h-3M219.7 645.3h-3M219.7 612.84h-2M219.7 617.48h-2M219.7 622.12h-2M219.7 631.4h-2M219.7 636.04h-2M219.7 640.68h-2" stroke="#222" stroke-width="0.6" fill="none"/>
<text x="213" y="610.7" font-size="6.9" fill="#333" text-anchor="end">0.1</text>
<text x="213" y="629.4" font-size="6.9" fill="#333" text-anchor="end">-0.25</text>
<text x="213" y="647.8" font-size="6.9" fill="#333" text-anchor="end">-0.4</text>
<text x="287.2" y="622.5" font-size="5.75" fill="#222">NES: -1.31</text>
<text x="287.2" y="629.5" font-size="5.75" fill="#222">FDR: 0.110</text>
<text x="81.3" y="678.5" font-size="7" fill="#c8302a" font-weight="bold" textLength="16" lengthAdjust="spacingAndGlyphs">MBC</text>
<text x="188" y="678.5" font-size="7" fill="#2f2a86" text-anchor="end" font-weight="bold" textLength="9.9" lengthAdjust="spacingAndGlyphs">CP</text>
<text x="219.7" y="678.5" font-size="7" fill="#c8302a" font-weight="bold" textLength="16" lengthAdjust="spacingAndGlyphs">MBC</text>
<text x="324.1" y="678.5" font-size="7" fill="#2f2a86" text-anchor="end" font-weight="bold" textLength="9.9" lengthAdjust="spacingAndGlyphs">CP</text>
<rect x="0" y="0" width="520" height="1.3" fill="#000"/>
<rect x="0" y="0" width="1.2" height="688" fill="#000"/>
<rect x="518.8" y="0" width="1.2" height="688" fill="#000"/>
<rect x="0" y="686.5" width="520" height="1.5" fill="#000"/>
</svg></body></html>
